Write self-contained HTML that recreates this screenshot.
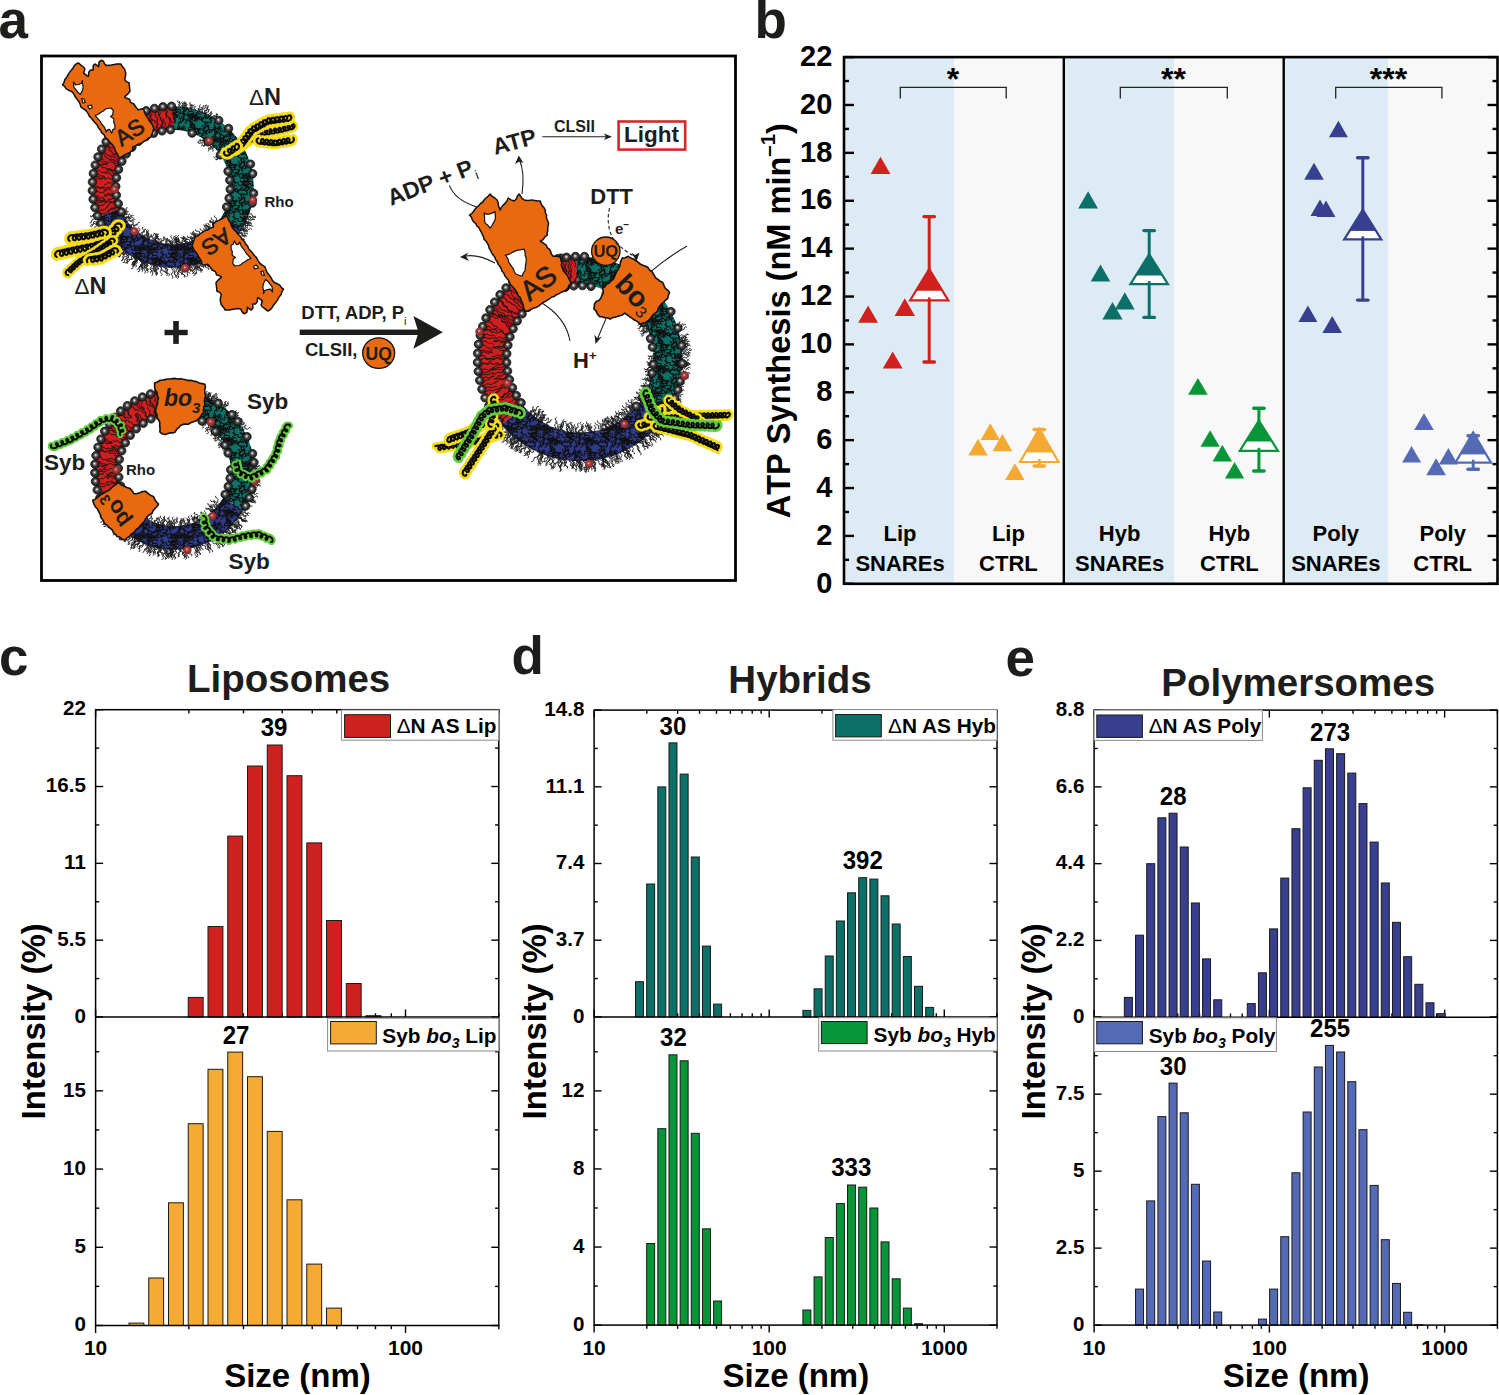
<!DOCTYPE html>
<html><head><meta charset="utf-8"><style>
html,body{margin:0;padding:0;background:#fff;}
svg{display:block;}
text{font-family:"Liberation Sans",sans-serif;}
</style></head><body>
<svg width="1499" height="1395" viewBox="0 0 1499 1395">
<rect width="1499" height="1395" fill="#fff"/>
<rect x="844" y="57.1" width="110.29999999999995" height="526.6999999999999" fill="#ddebf5"/>
<rect x="954.3" y="57.1" width="109.70000000000005" height="526.6999999999999" fill="#f8f8f8"/>
<rect x="1064" y="57.1" width="110.5" height="526.6999999999999" fill="#ddebf5"/>
<rect x="1174.5" y="57.1" width="109.5" height="526.6999999999999" fill="#f8f8f8"/>
<rect x="1284" y="57.1" width="104" height="526.6999999999999" fill="#ddebf5"/>
<rect x="1388" y="57.1" width="109.5" height="526.6999999999999" fill="#f8f8f8"/>
<line x1="844" y1="583.80" x2="854" y2="583.80" stroke="#000" stroke-width="2.4"/>
<line x1="1497.5" y1="583.80" x2="1487.5" y2="583.80" stroke="#000" stroke-width="2.4"/>
<text x="832.30" y="592.50" font-size="29" font-weight="bold" text-anchor="end" fill="#000" >0</text>
<line x1="844" y1="559.86" x2="849" y2="559.86" stroke="#000" stroke-width="2.4"/>
<line x1="1497.5" y1="559.86" x2="1492.5" y2="559.86" stroke="#000" stroke-width="2.4"/>
<line x1="844" y1="535.92" x2="854" y2="535.92" stroke="#000" stroke-width="2.4"/>
<line x1="1497.5" y1="535.92" x2="1487.5" y2="535.92" stroke="#000" stroke-width="2.4"/>
<text x="832.30" y="544.62" font-size="29" font-weight="bold" text-anchor="end" fill="#000" >2</text>
<line x1="844" y1="511.98" x2="849" y2="511.98" stroke="#000" stroke-width="2.4"/>
<line x1="1497.5" y1="511.98" x2="1492.5" y2="511.98" stroke="#000" stroke-width="2.4"/>
<line x1="844" y1="488.04" x2="854" y2="488.04" stroke="#000" stroke-width="2.4"/>
<line x1="1497.5" y1="488.04" x2="1487.5" y2="488.04" stroke="#000" stroke-width="2.4"/>
<text x="832.30" y="496.74" font-size="29" font-weight="bold" text-anchor="end" fill="#000" >4</text>
<line x1="844" y1="464.10" x2="849" y2="464.10" stroke="#000" stroke-width="2.4"/>
<line x1="1497.5" y1="464.10" x2="1492.5" y2="464.10" stroke="#000" stroke-width="2.4"/>
<line x1="844" y1="440.15" x2="854" y2="440.15" stroke="#000" stroke-width="2.4"/>
<line x1="1497.5" y1="440.15" x2="1487.5" y2="440.15" stroke="#000" stroke-width="2.4"/>
<text x="832.30" y="448.85" font-size="29" font-weight="bold" text-anchor="end" fill="#000" >6</text>
<line x1="844" y1="416.21" x2="849" y2="416.21" stroke="#000" stroke-width="2.4"/>
<line x1="1497.5" y1="416.21" x2="1492.5" y2="416.21" stroke="#000" stroke-width="2.4"/>
<line x1="844" y1="392.27" x2="854" y2="392.27" stroke="#000" stroke-width="2.4"/>
<line x1="1497.5" y1="392.27" x2="1487.5" y2="392.27" stroke="#000" stroke-width="2.4"/>
<text x="832.30" y="400.97" font-size="29" font-weight="bold" text-anchor="end" fill="#000" >8</text>
<line x1="844" y1="368.33" x2="849" y2="368.33" stroke="#000" stroke-width="2.4"/>
<line x1="1497.5" y1="368.33" x2="1492.5" y2="368.33" stroke="#000" stroke-width="2.4"/>
<line x1="844" y1="344.39" x2="854" y2="344.39" stroke="#000" stroke-width="2.4"/>
<line x1="1497.5" y1="344.39" x2="1487.5" y2="344.39" stroke="#000" stroke-width="2.4"/>
<text x="832.30" y="353.09" font-size="29" font-weight="bold" text-anchor="end" fill="#000" >10</text>
<line x1="844" y1="320.45" x2="849" y2="320.45" stroke="#000" stroke-width="2.4"/>
<line x1="1497.5" y1="320.45" x2="1492.5" y2="320.45" stroke="#000" stroke-width="2.4"/>
<line x1="844" y1="296.51" x2="854" y2="296.51" stroke="#000" stroke-width="2.4"/>
<line x1="1497.5" y1="296.51" x2="1487.5" y2="296.51" stroke="#000" stroke-width="2.4"/>
<text x="832.30" y="305.21" font-size="29" font-weight="bold" text-anchor="end" fill="#000" >12</text>
<line x1="844" y1="272.57" x2="849" y2="272.57" stroke="#000" stroke-width="2.4"/>
<line x1="1497.5" y1="272.57" x2="1492.5" y2="272.57" stroke="#000" stroke-width="2.4"/>
<line x1="844" y1="248.63" x2="854" y2="248.63" stroke="#000" stroke-width="2.4"/>
<line x1="1497.5" y1="248.63" x2="1487.5" y2="248.63" stroke="#000" stroke-width="2.4"/>
<text x="832.30" y="257.33" font-size="29" font-weight="bold" text-anchor="end" fill="#000" >14</text>
<line x1="844" y1="224.69" x2="849" y2="224.69" stroke="#000" stroke-width="2.4"/>
<line x1="1497.5" y1="224.69" x2="1492.5" y2="224.69" stroke="#000" stroke-width="2.4"/>
<line x1="844" y1="200.75" x2="854" y2="200.75" stroke="#000" stroke-width="2.4"/>
<line x1="1497.5" y1="200.75" x2="1487.5" y2="200.75" stroke="#000" stroke-width="2.4"/>
<text x="832.30" y="209.45" font-size="29" font-weight="bold" text-anchor="end" fill="#000" >16</text>
<line x1="844" y1="176.80" x2="849" y2="176.80" stroke="#000" stroke-width="2.4"/>
<line x1="1497.5" y1="176.80" x2="1492.5" y2="176.80" stroke="#000" stroke-width="2.4"/>
<line x1="844" y1="152.86" x2="854" y2="152.86" stroke="#000" stroke-width="2.4"/>
<line x1="1497.5" y1="152.86" x2="1487.5" y2="152.86" stroke="#000" stroke-width="2.4"/>
<text x="832.30" y="161.56" font-size="29" font-weight="bold" text-anchor="end" fill="#000" >18</text>
<line x1="844" y1="128.92" x2="849" y2="128.92" stroke="#000" stroke-width="2.4"/>
<line x1="1497.5" y1="128.92" x2="1492.5" y2="128.92" stroke="#000" stroke-width="2.4"/>
<line x1="844" y1="104.98" x2="854" y2="104.98" stroke="#000" stroke-width="2.4"/>
<line x1="1497.5" y1="104.98" x2="1487.5" y2="104.98" stroke="#000" stroke-width="2.4"/>
<text x="832.30" y="113.68" font-size="29" font-weight="bold" text-anchor="end" fill="#000" >20</text>
<line x1="844" y1="81.04" x2="849" y2="81.04" stroke="#000" stroke-width="2.4"/>
<line x1="1497.5" y1="81.04" x2="1492.5" y2="81.04" stroke="#000" stroke-width="2.4"/>
<line x1="844" y1="57.10" x2="854" y2="57.10" stroke="#000" stroke-width="2.4"/>
<line x1="1497.5" y1="57.10" x2="1487.5" y2="57.10" stroke="#000" stroke-width="2.4"/>
<text x="832.30" y="65.80" font-size="29" font-weight="bold" text-anchor="end" fill="#000" >22</text>
<line x1="1063.8" y1="57.1" x2="1063.8" y2="583.8" stroke="#000" stroke-width="2.4"/>
<line x1="1283.7" y1="57.1" x2="1283.7" y2="583.8" stroke="#000" stroke-width="2.4"/>
<rect x="844" y="57.1" width="653.5" height="526.6999999999999" fill="none" stroke="#000" stroke-width="2.6"/>
<text transform="translate(789.8,320.7) rotate(-90) scale(0.972,1)" font-size="33.5" font-weight="bold" text-anchor="middle" style="font-kerning:none">ATP Synthesis (nM min<tspan dy="-15" font-size="21">–1</tspan><tspan dy="15">)</tspan></text>
<text x="900.00" y="541.20" font-size="22" font-weight="bold" text-anchor="middle" fill="#000" >Lip</text>
<text x="900.00" y="571.10" font-size="22" font-weight="bold" text-anchor="middle" fill="#000" >SNAREs</text>
<text x="1008.40" y="541.20" font-size="22" font-weight="bold" text-anchor="middle" fill="#000" >Lip</text>
<text x="1008.40" y="571.10" font-size="22" font-weight="bold" text-anchor="middle" fill="#000" >CTRL</text>
<text x="1119.60" y="541.20" font-size="22" font-weight="bold" text-anchor="middle" fill="#000" >Hyb</text>
<text x="1119.60" y="571.10" font-size="22" font-weight="bold" text-anchor="middle" fill="#000" >SNAREs</text>
<text x="1229.40" y="541.20" font-size="22" font-weight="bold" text-anchor="middle" fill="#000" >Hyb</text>
<text x="1229.40" y="571.10" font-size="22" font-weight="bold" text-anchor="middle" fill="#000" >CTRL</text>
<text x="1335.80" y="541.20" font-size="22" font-weight="bold" text-anchor="middle" fill="#000" >Poly</text>
<text x="1335.80" y="571.10" font-size="22" font-weight="bold" text-anchor="middle" fill="#000" >SNAREs</text>
<text x="1442.70" y="541.20" font-size="22" font-weight="bold" text-anchor="middle" fill="#000" >Poly</text>
<text x="1442.70" y="571.10" font-size="22" font-weight="bold" text-anchor="middle" fill="#000" >CTRL</text>
<path d="M900.3,98.5 V87.3 H1006.2 V98.5" fill="none" stroke="#222" stroke-width="1.3"/>
<text x="953.00" y="90.30" font-size="32" font-weight="bold" text-anchor="middle" fill="#000" >*</text>
<path d="M1120.3,98.5 V87.3 H1227.3 V98.5" fill="none" stroke="#222" stroke-width="1.3"/>
<text x="1173.50" y="90.30" font-size="32" font-weight="bold" text-anchor="middle" fill="#000" >**</text>
<path d="M1335.7,98.5 V87.3 H1441.9 V98.5" fill="none" stroke="#222" stroke-width="1.3"/>
<text x="1388.40" y="90.30" font-size="32" font-weight="bold" text-anchor="middle" fill="#000" >***</text>
<polygon points="880.5,156.7 870.6,173.9 890.4,173.9" fill="#d0211f"/>
<polygon points="868.1,305.6 858.2,322.8 878.0,322.8" fill="#d0211f"/>
<polygon points="904.8,298.3 894.6,315.9 915.0,315.9" fill="#d0211f"/>
<polygon points="892.7,351.4 882.8,368.6 902.6,368.6" fill="#d0211f"/>
<line x1="929.2" y1="216.6" x2="929.2" y2="362" stroke="#d0211f" stroke-width="3"/>
<line x1="924.0" y1="216.6" x2="934.4000000000001" y2="216.6" stroke="#d0211f" stroke-width="3.4" stroke-linecap="round"/>
<line x1="924.0" y1="362" x2="934.4000000000001" y2="362" stroke="#d0211f" stroke-width="3.4" stroke-linecap="round"/>
<polygon points="929.2,269.1 910.1,300.4 948.3000000000001,300.4" fill="#fff" stroke="#d0211f" stroke-width="2.2" stroke-linejoin="miter"/>
<polygon points="929.2,269.1 916.32,290.2 942.08,290.2" fill="#d0211f" stroke="#d0211f" stroke-width="1"/>
<line x1="929.2" y1="297.4" x2="929.2" y2="300.4" stroke="#d0211f" stroke-width="2.6"/>
<polygon points="990.3,423.2 980.6,440.0 1000.0,440.0" fill="#f4a933"/>
<polygon points="978.0,438.8 968.3,455.6 987.7,455.6" fill="#f4a933"/>
<polygon points="1002.4,434.0 992.5,451.2 1012.3,451.2" fill="#f4a933"/>
<polygon points="1014.9,463.2 1005.2,480.0 1024.6,480.0" fill="#f4a933"/>
<line x1="1039.3" y1="429.5" x2="1039.3" y2="466" stroke="#f4a933" stroke-width="3"/>
<line x1="1034.1" y1="429.5" x2="1044.5" y2="429.5" stroke="#f4a933" stroke-width="3.4" stroke-linecap="round"/>
<line x1="1034.1" y1="466" x2="1044.5" y2="466" stroke="#f4a933" stroke-width="3.4" stroke-linecap="round"/>
<polygon points="1039.3,428.8 1020.0999999999999,462 1058.5,462" fill="#fff" stroke="#f4a933" stroke-width="2.2" stroke-linejoin="miter"/>
<polygon points="1039.3,428.8 1025.88,452 1052.72,452" fill="#f4a933" stroke="#f4a933" stroke-width="1"/>
<line x1="1039.3" y1="459" x2="1039.3" y2="462" stroke="#f4a933" stroke-width="2.6"/>
<polygon points="1088.1,191.2 1078.2,208.4 1098.0,208.4" fill="#0d7068"/>
<polygon points="1100.5,264.6 1090.7,281.5 1110.3,281.5" fill="#0d7068"/>
<polygon points="1124.8,292.2 1114.9,309.4 1134.7,309.4" fill="#0d7068"/>
<polygon points="1112.5,301.9 1102.4,319.4 1122.6,319.4" fill="#0d7068"/>
<line x1="1149.2" y1="230.6" x2="1149.2" y2="317.4" stroke="#0d7068" stroke-width="3"/>
<line x1="1144.0" y1="230.6" x2="1154.4" y2="230.6" stroke="#0d7068" stroke-width="3.4" stroke-linecap="round"/>
<line x1="1144.0" y1="317.4" x2="1154.4" y2="317.4" stroke="#0d7068" stroke-width="3.4" stroke-linecap="round"/>
<polygon points="1149.2,254.3 1130.45,284.1 1167.95,284.1" fill="#fff" stroke="#0d7068" stroke-width="2.2" stroke-linejoin="miter"/>
<polygon points="1149.2,254.3 1136.18,275 1162.22,275" fill="#0d7068" stroke="#0d7068" stroke-width="1"/>
<line x1="1149.2" y1="281.1" x2="1149.2" y2="284.1" stroke="#0d7068" stroke-width="2.6"/>
<polygon points="1197.9,377.9 1188.1,394.8 1207.7,394.8" fill="#079538"/>
<polygon points="1210.1,430.2 1200.5,446.8 1219.7,446.8" fill="#079538"/>
<polygon points="1222.3,444.8 1212.6,461.6 1232.0,461.6" fill="#079538"/>
<polygon points="1234.6,461.9 1225.0,478.5 1244.2,478.5" fill="#079538"/>
<line x1="1258.9" y1="408.3" x2="1258.9" y2="471" stroke="#079538" stroke-width="3"/>
<line x1="1253.7" y1="408.3" x2="1264.1000000000001" y2="408.3" stroke="#079538" stroke-width="3.4" stroke-linecap="round"/>
<line x1="1253.7" y1="471" x2="1264.1000000000001" y2="471" stroke="#079538" stroke-width="3.4" stroke-linecap="round"/>
<polygon points="1258.9,420.7 1239.8000000000002,450.8 1278.0,450.8" fill="#fff" stroke="#079538" stroke-width="2.2" stroke-linejoin="miter"/>
<polygon points="1258.9,420.7 1246.02,441 1271.78,441" fill="#079538" stroke="#079538" stroke-width="1"/>
<line x1="1258.9" y1="447.8" x2="1258.9" y2="450.8" stroke="#079538" stroke-width="2.6"/>
<polygon points="1338.4,120.7 1328.9,137.2 1347.9,137.2" fill="#383f8e"/>
<polygon points="1314.0,162.8 1304.2,179.7 1323.8,179.7" fill="#383f8e"/>
<polygon points="1320.0,199.5 1310.5,216.0 1329.5,216.0" fill="#383f8e"/>
<polygon points="1326.0,200.4 1316.5,216.9 1335.5,216.9" fill="#383f8e"/>
<polygon points="1307.9,305.4 1298.4,321.9 1317.4,321.9" fill="#383f8e"/>
<polygon points="1332.2,316.1 1322.4,333.0 1342.0,333.0" fill="#383f8e"/>
<line x1="1362.8" y1="157.8" x2="1362.8" y2="300.1" stroke="#383f8e" stroke-width="3"/>
<line x1="1357.6" y1="157.8" x2="1368.0" y2="157.8" stroke="#383f8e" stroke-width="3.4" stroke-linecap="round"/>
<line x1="1357.6" y1="300.1" x2="1368.0" y2="300.1" stroke="#383f8e" stroke-width="3.4" stroke-linecap="round"/>
<polygon points="1362.8,209.8 1344.25,239.4 1381.35,239.4" fill="#fff" stroke="#383f8e" stroke-width="2.2" stroke-linejoin="miter"/>
<polygon points="1362.8,209.8 1349.89,230.4 1375.71,230.4" fill="#383f8e" stroke="#383f8e" stroke-width="1"/>
<line x1="1362.8" y1="236.4" x2="1362.8" y2="239.4" stroke="#383f8e" stroke-width="2.6"/>
<polygon points="1424.0,413.2 1414.2,430.1 1433.8,430.1" fill="#556ab4"/>
<polygon points="1411.6,445.9 1402.1,462.4 1421.1,462.4" fill="#556ab4"/>
<polygon points="1448.4,448.1 1438.9,464.6 1457.9,464.6" fill="#556ab4"/>
<polygon points="1436.1,458.3 1426.3,475.2 1445.9,475.2" fill="#556ab4"/>
<line x1="1473.2" y1="435.8" x2="1473.2" y2="469.3" stroke="#556ab4" stroke-width="3"/>
<line x1="1468.0" y1="435.8" x2="1478.4" y2="435.8" stroke="#556ab4" stroke-width="3.4" stroke-linecap="round"/>
<line x1="1468.0" y1="469.3" x2="1478.4" y2="469.3" stroke="#556ab4" stroke-width="3.4" stroke-linecap="round"/>
<polygon points="1473.2,432.4 1455.4,462.7 1491.0,462.7" fill="#fff" stroke="#556ab4" stroke-width="2.2" stroke-linejoin="miter"/>
<polygon points="1473.2,432.4 1460.57,453.9 1485.83,453.9" fill="#556ab4" stroke="#556ab4" stroke-width="1"/>
<line x1="1473.2" y1="459.7" x2="1473.2" y2="462.7" stroke="#556ab4" stroke-width="2.6"/>
<text x="754.50" y="38.00" font-size="53" font-weight="bold" text-anchor="start" fill="#1d1d1b" >b</text>
<line x1="95.60" y1="709.7" x2="95.60" y2="717.2" stroke="#000" stroke-width="1.4"/>
<line x1="95.60" y1="1017.0" x2="95.60" y2="1009.5" stroke="#000" stroke-width="1.4"/>
<line x1="95.60" y1="1325.5" x2="95.60" y2="1333.0" stroke="#000" stroke-width="1.4"/>
<line x1="188.89" y1="709.7" x2="188.89" y2="713.4000000000001" stroke="#000" stroke-width="1.4"/>
<line x1="188.89" y1="1017.0" x2="188.89" y2="1013.3" stroke="#000" stroke-width="1.4"/>
<line x1="188.89" y1="1325.5" x2="188.89" y2="1329.2" stroke="#000" stroke-width="1.4"/>
<line x1="243.46" y1="709.7" x2="243.46" y2="713.4000000000001" stroke="#000" stroke-width="1.4"/>
<line x1="243.46" y1="1017.0" x2="243.46" y2="1013.3" stroke="#000" stroke-width="1.4"/>
<line x1="243.46" y1="1325.5" x2="243.46" y2="1329.2" stroke="#000" stroke-width="1.4"/>
<line x1="282.18" y1="709.7" x2="282.18" y2="713.4000000000001" stroke="#000" stroke-width="1.4"/>
<line x1="282.18" y1="1017.0" x2="282.18" y2="1013.3" stroke="#000" stroke-width="1.4"/>
<line x1="282.18" y1="1325.5" x2="282.18" y2="1329.2" stroke="#000" stroke-width="1.4"/>
<line x1="312.22" y1="709.7" x2="312.22" y2="713.4000000000001" stroke="#000" stroke-width="1.4"/>
<line x1="312.22" y1="1017.0" x2="312.22" y2="1013.3" stroke="#000" stroke-width="1.4"/>
<line x1="312.22" y1="1325.5" x2="312.22" y2="1329.2" stroke="#000" stroke-width="1.4"/>
<line x1="336.76" y1="709.7" x2="336.76" y2="713.4000000000001" stroke="#000" stroke-width="1.4"/>
<line x1="336.76" y1="1017.0" x2="336.76" y2="1013.3" stroke="#000" stroke-width="1.4"/>
<line x1="336.76" y1="1325.5" x2="336.76" y2="1329.2" stroke="#000" stroke-width="1.4"/>
<line x1="357.50" y1="709.7" x2="357.50" y2="713.4000000000001" stroke="#000" stroke-width="1.4"/>
<line x1="357.50" y1="1017.0" x2="357.50" y2="1013.3" stroke="#000" stroke-width="1.4"/>
<line x1="357.50" y1="1325.5" x2="357.50" y2="1329.2" stroke="#000" stroke-width="1.4"/>
<line x1="375.48" y1="709.7" x2="375.48" y2="713.4000000000001" stroke="#000" stroke-width="1.4"/>
<line x1="375.48" y1="1017.0" x2="375.48" y2="1013.3" stroke="#000" stroke-width="1.4"/>
<line x1="375.48" y1="1325.5" x2="375.48" y2="1329.2" stroke="#000" stroke-width="1.4"/>
<line x1="391.33" y1="709.7" x2="391.33" y2="713.4000000000001" stroke="#000" stroke-width="1.4"/>
<line x1="391.33" y1="1017.0" x2="391.33" y2="1013.3" stroke="#000" stroke-width="1.4"/>
<line x1="391.33" y1="1325.5" x2="391.33" y2="1329.2" stroke="#000" stroke-width="1.4"/>
<line x1="405.51" y1="709.7" x2="405.51" y2="717.2" stroke="#000" stroke-width="1.4"/>
<line x1="405.51" y1="1017.0" x2="405.51" y2="1009.5" stroke="#000" stroke-width="1.4"/>
<line x1="405.51" y1="1325.5" x2="405.51" y2="1333.0" stroke="#000" stroke-width="1.4"/>
<line x1="498.80" y1="709.7" x2="498.80" y2="713.4000000000001" stroke="#000" stroke-width="1.4"/>
<line x1="498.80" y1="1017.0" x2="498.80" y2="1013.3" stroke="#000" stroke-width="1.4"/>
<line x1="498.80" y1="1325.5" x2="498.80" y2="1329.2" stroke="#000" stroke-width="1.4"/>
<line x1="95.6" y1="1017.00" x2="103.1" y2="1017.00" stroke="#000" stroke-width="1.4"/>
<line x1="498.8" y1="1017.00" x2="491.3" y2="1017.00" stroke="#000" stroke-width="1.4"/>
<line x1="95.6" y1="978.59" x2="99.3" y2="978.59" stroke="#000" stroke-width="1.4"/>
<line x1="498.8" y1="978.59" x2="495.1" y2="978.59" stroke="#000" stroke-width="1.4"/>
<line x1="95.6" y1="940.17" x2="103.1" y2="940.17" stroke="#000" stroke-width="1.4"/>
<line x1="498.8" y1="940.17" x2="491.3" y2="940.17" stroke="#000" stroke-width="1.4"/>
<line x1="95.6" y1="901.76" x2="99.3" y2="901.76" stroke="#000" stroke-width="1.4"/>
<line x1="498.8" y1="901.76" x2="495.1" y2="901.76" stroke="#000" stroke-width="1.4"/>
<line x1="95.6" y1="863.35" x2="103.1" y2="863.35" stroke="#000" stroke-width="1.4"/>
<line x1="498.8" y1="863.35" x2="491.3" y2="863.35" stroke="#000" stroke-width="1.4"/>
<line x1="95.6" y1="824.94" x2="99.3" y2="824.94" stroke="#000" stroke-width="1.4"/>
<line x1="498.8" y1="824.94" x2="495.1" y2="824.94" stroke="#000" stroke-width="1.4"/>
<line x1="95.6" y1="786.53" x2="103.1" y2="786.53" stroke="#000" stroke-width="1.4"/>
<line x1="498.8" y1="786.53" x2="491.3" y2="786.53" stroke="#000" stroke-width="1.4"/>
<line x1="95.6" y1="748.11" x2="99.3" y2="748.11" stroke="#000" stroke-width="1.4"/>
<line x1="498.8" y1="748.11" x2="495.1" y2="748.11" stroke="#000" stroke-width="1.4"/>
<line x1="95.6" y1="709.70" x2="103.1" y2="709.70" stroke="#000" stroke-width="1.4"/>
<line x1="498.8" y1="709.70" x2="491.3" y2="709.70" stroke="#000" stroke-width="1.4"/>
<text x="85.90" y="1022.70" font-size="20.6" font-weight="bold" text-anchor="end" fill="#000" >0</text>
<text x="85.90" y="945.88" font-size="20.6" font-weight="bold" text-anchor="end" fill="#000" >5.5</text>
<text x="85.90" y="869.05" font-size="20.6" font-weight="bold" text-anchor="end" fill="#000" >11</text>
<text x="85.90" y="792.23" font-size="20.6" font-weight="bold" text-anchor="end" fill="#000" >16.5</text>
<text x="85.90" y="715.40" font-size="20.6" font-weight="bold" text-anchor="end" fill="#000" >22</text>
<line x1="95.6" y1="1325.50" x2="103.1" y2="1325.50" stroke="#000" stroke-width="1.4"/>
<line x1="498.8" y1="1325.50" x2="491.3" y2="1325.50" stroke="#000" stroke-width="1.4"/>
<line x1="95.6" y1="1286.39" x2="99.3" y2="1286.39" stroke="#000" stroke-width="1.4"/>
<line x1="498.8" y1="1286.39" x2="495.1" y2="1286.39" stroke="#000" stroke-width="1.4"/>
<line x1="95.6" y1="1247.28" x2="103.1" y2="1247.28" stroke="#000" stroke-width="1.4"/>
<line x1="498.8" y1="1247.28" x2="491.3" y2="1247.28" stroke="#000" stroke-width="1.4"/>
<line x1="95.6" y1="1208.17" x2="99.3" y2="1208.17" stroke="#000" stroke-width="1.4"/>
<line x1="498.8" y1="1208.17" x2="495.1" y2="1208.17" stroke="#000" stroke-width="1.4"/>
<line x1="95.6" y1="1169.06" x2="103.1" y2="1169.06" stroke="#000" stroke-width="1.4"/>
<line x1="498.8" y1="1169.06" x2="491.3" y2="1169.06" stroke="#000" stroke-width="1.4"/>
<line x1="95.6" y1="1129.95" x2="99.3" y2="1129.95" stroke="#000" stroke-width="1.4"/>
<line x1="498.8" y1="1129.95" x2="495.1" y2="1129.95" stroke="#000" stroke-width="1.4"/>
<line x1="95.6" y1="1090.84" x2="103.1" y2="1090.84" stroke="#000" stroke-width="1.4"/>
<line x1="498.8" y1="1090.84" x2="491.3" y2="1090.84" stroke="#000" stroke-width="1.4"/>
<line x1="95.6" y1="1051.73" x2="99.3" y2="1051.73" stroke="#000" stroke-width="1.4"/>
<line x1="498.8" y1="1051.73" x2="495.1" y2="1051.73" stroke="#000" stroke-width="1.4"/>
<text x="85.90" y="1331.20" font-size="20.6" font-weight="bold" text-anchor="end" fill="#000" >0</text>
<text x="85.90" y="1252.98" font-size="20.6" font-weight="bold" text-anchor="end" fill="#000" >5</text>
<text x="85.90" y="1174.76" font-size="20.6" font-weight="bold" text-anchor="end" fill="#000" >10</text>
<text x="85.90" y="1096.54" font-size="20.6" font-weight="bold" text-anchor="end" fill="#000" >15</text>
<rect x="188.25" y="997.40" width="14.90" height="19.60" fill="#cf2220" stroke="#1a1a1a" stroke-width="1"/>
<rect x="208.00" y="926.50" width="14.90" height="90.50" fill="#cf2220" stroke="#1a1a1a" stroke-width="1"/>
<rect x="227.75" y="836.10" width="14.90" height="180.90" fill="#cf2220" stroke="#1a1a1a" stroke-width="1"/>
<rect x="247.51" y="766.00" width="14.90" height="251.00" fill="#cf2220" stroke="#1a1a1a" stroke-width="1"/>
<rect x="267.26" y="745.00" width="14.90" height="272.00" fill="#cf2220" stroke="#1a1a1a" stroke-width="1"/>
<rect x="287.01" y="775.70" width="14.90" height="241.30" fill="#cf2220" stroke="#1a1a1a" stroke-width="1"/>
<rect x="306.77" y="842.90" width="14.90" height="174.10" fill="#cf2220" stroke="#1a1a1a" stroke-width="1"/>
<rect x="326.52" y="920.50" width="14.90" height="96.50" fill="#cf2220" stroke="#1a1a1a" stroke-width="1"/>
<rect x="346.27" y="983.50" width="14.90" height="33.50" fill="#cf2220" stroke="#1a1a1a" stroke-width="1"/>
<rect x="366.02" y="1015.70" width="14.90" height="1.30" fill="#cf2220" stroke="#1a1a1a" stroke-width="1"/>
<rect x="128.99" y="1323.10" width="14.90" height="2.40" fill="#f4aa33" stroke="#1a1a1a" stroke-width="1"/>
<rect x="148.74" y="1278.00" width="14.90" height="47.50" fill="#f4aa33" stroke="#1a1a1a" stroke-width="1"/>
<rect x="168.49" y="1202.80" width="14.90" height="122.70" fill="#f4aa33" stroke="#1a1a1a" stroke-width="1"/>
<rect x="188.25" y="1123.70" width="14.90" height="201.80" fill="#f4aa33" stroke="#1a1a1a" stroke-width="1"/>
<rect x="208.00" y="1069.30" width="14.90" height="256.20" fill="#f4aa33" stroke="#1a1a1a" stroke-width="1"/>
<rect x="227.75" y="1052.10" width="14.90" height="273.40" fill="#f4aa33" stroke="#1a1a1a" stroke-width="1"/>
<rect x="247.51" y="1076.70" width="14.90" height="248.80" fill="#f4aa33" stroke="#1a1a1a" stroke-width="1"/>
<rect x="267.26" y="1131.40" width="14.90" height="194.10" fill="#f4aa33" stroke="#1a1a1a" stroke-width="1"/>
<rect x="287.01" y="1199.80" width="14.90" height="125.70" fill="#f4aa33" stroke="#1a1a1a" stroke-width="1"/>
<rect x="306.77" y="1264.10" width="14.90" height="61.40" fill="#f4aa33" stroke="#1a1a1a" stroke-width="1"/>
<rect x="326.52" y="1308.10" width="14.90" height="17.40" fill="#f4aa33" stroke="#1a1a1a" stroke-width="1"/>
<rect x="95.6" y="709.7" width="403.20000000000005" height="615.8" fill="none" stroke="#000" stroke-width="1.5"/>
<line x1="95.6" y1="1017.0" x2="498.8" y2="1017.0" stroke="#000" stroke-width="1.5"/>
<text x="95.60" y="1355.30" font-size="21" font-weight="bold" text-anchor="middle" fill="#000" >10</text>
<text x="405.51" y="1355.30" font-size="21" font-weight="bold" text-anchor="middle" fill="#000" >100</text>
<text x="297.50" y="1386.60" font-size="33" font-weight="bold" text-anchor="middle" fill="#000" >Size (nm)</text>
<text transform="translate(45.3,1021.3) rotate(-90)" font-size="33" font-weight="bold" text-anchor="middle">Intensity (%)</text>
<text x="288.60" y="691.60" font-size="38.5" font-weight="bold" text-anchor="middle" fill="#1d1d1b" >Liposomes</text>
<text x="-1.00" y="674.50" font-size="53" font-weight="bold" text-anchor="start" fill="#1d1d1b" >c</text>
<line x1="594.10" y1="710.1" x2="594.10" y2="717.6" stroke="#000" stroke-width="1.4"/>
<line x1="594.10" y1="1016.9" x2="594.10" y2="1009.4" stroke="#000" stroke-width="1.4"/>
<line x1="594.10" y1="1325.1" x2="594.10" y2="1332.6" stroke="#000" stroke-width="1.4"/>
<line x1="646.81" y1="710.1" x2="646.81" y2="713.8000000000001" stroke="#000" stroke-width="1.4"/>
<line x1="646.81" y1="1016.9" x2="646.81" y2="1013.1999999999999" stroke="#000" stroke-width="1.4"/>
<line x1="646.81" y1="1325.1" x2="646.81" y2="1328.8" stroke="#000" stroke-width="1.4"/>
<line x1="677.64" y1="710.1" x2="677.64" y2="713.8000000000001" stroke="#000" stroke-width="1.4"/>
<line x1="677.64" y1="1016.9" x2="677.64" y2="1013.1999999999999" stroke="#000" stroke-width="1.4"/>
<line x1="677.64" y1="1325.1" x2="677.64" y2="1328.8" stroke="#000" stroke-width="1.4"/>
<line x1="699.52" y1="710.1" x2="699.52" y2="713.8000000000001" stroke="#000" stroke-width="1.4"/>
<line x1="699.52" y1="1016.9" x2="699.52" y2="1013.1999999999999" stroke="#000" stroke-width="1.4"/>
<line x1="699.52" y1="1325.1" x2="699.52" y2="1328.8" stroke="#000" stroke-width="1.4"/>
<line x1="716.49" y1="710.1" x2="716.49" y2="713.8000000000001" stroke="#000" stroke-width="1.4"/>
<line x1="716.49" y1="1016.9" x2="716.49" y2="1013.1999999999999" stroke="#000" stroke-width="1.4"/>
<line x1="716.49" y1="1325.1" x2="716.49" y2="1328.8" stroke="#000" stroke-width="1.4"/>
<line x1="730.35" y1="710.1" x2="730.35" y2="713.8000000000001" stroke="#000" stroke-width="1.4"/>
<line x1="730.35" y1="1016.9" x2="730.35" y2="1013.1999999999999" stroke="#000" stroke-width="1.4"/>
<line x1="730.35" y1="1325.1" x2="730.35" y2="1328.8" stroke="#000" stroke-width="1.4"/>
<line x1="742.07" y1="710.1" x2="742.07" y2="713.8000000000001" stroke="#000" stroke-width="1.4"/>
<line x1="742.07" y1="1016.9" x2="742.07" y2="1013.1999999999999" stroke="#000" stroke-width="1.4"/>
<line x1="742.07" y1="1325.1" x2="742.07" y2="1328.8" stroke="#000" stroke-width="1.4"/>
<line x1="752.23" y1="710.1" x2="752.23" y2="713.8000000000001" stroke="#000" stroke-width="1.4"/>
<line x1="752.23" y1="1016.9" x2="752.23" y2="1013.1999999999999" stroke="#000" stroke-width="1.4"/>
<line x1="752.23" y1="1325.1" x2="752.23" y2="1328.8" stroke="#000" stroke-width="1.4"/>
<line x1="761.18" y1="710.1" x2="761.18" y2="713.8000000000001" stroke="#000" stroke-width="1.4"/>
<line x1="761.18" y1="1016.9" x2="761.18" y2="1013.1999999999999" stroke="#000" stroke-width="1.4"/>
<line x1="761.18" y1="1325.1" x2="761.18" y2="1328.8" stroke="#000" stroke-width="1.4"/>
<line x1="769.20" y1="710.1" x2="769.20" y2="717.6" stroke="#000" stroke-width="1.4"/>
<line x1="769.20" y1="1016.9" x2="769.20" y2="1009.4" stroke="#000" stroke-width="1.4"/>
<line x1="769.20" y1="1325.1" x2="769.20" y2="1332.6" stroke="#000" stroke-width="1.4"/>
<line x1="821.90" y1="710.1" x2="821.90" y2="713.8000000000001" stroke="#000" stroke-width="1.4"/>
<line x1="821.90" y1="1016.9" x2="821.90" y2="1013.1999999999999" stroke="#000" stroke-width="1.4"/>
<line x1="821.90" y1="1325.1" x2="821.90" y2="1328.8" stroke="#000" stroke-width="1.4"/>
<line x1="852.74" y1="710.1" x2="852.74" y2="713.8000000000001" stroke="#000" stroke-width="1.4"/>
<line x1="852.74" y1="1016.9" x2="852.74" y2="1013.1999999999999" stroke="#000" stroke-width="1.4"/>
<line x1="852.74" y1="1325.1" x2="852.74" y2="1328.8" stroke="#000" stroke-width="1.4"/>
<line x1="874.61" y1="710.1" x2="874.61" y2="713.8000000000001" stroke="#000" stroke-width="1.4"/>
<line x1="874.61" y1="1016.9" x2="874.61" y2="1013.1999999999999" stroke="#000" stroke-width="1.4"/>
<line x1="874.61" y1="1325.1" x2="874.61" y2="1328.8" stroke="#000" stroke-width="1.4"/>
<line x1="891.58" y1="710.1" x2="891.58" y2="713.8000000000001" stroke="#000" stroke-width="1.4"/>
<line x1="891.58" y1="1016.9" x2="891.58" y2="1013.1999999999999" stroke="#000" stroke-width="1.4"/>
<line x1="891.58" y1="1325.1" x2="891.58" y2="1328.8" stroke="#000" stroke-width="1.4"/>
<line x1="905.45" y1="710.1" x2="905.45" y2="713.8000000000001" stroke="#000" stroke-width="1.4"/>
<line x1="905.45" y1="1016.9" x2="905.45" y2="1013.1999999999999" stroke="#000" stroke-width="1.4"/>
<line x1="905.45" y1="1325.1" x2="905.45" y2="1328.8" stroke="#000" stroke-width="1.4"/>
<line x1="917.17" y1="710.1" x2="917.17" y2="713.8000000000001" stroke="#000" stroke-width="1.4"/>
<line x1="917.17" y1="1016.9" x2="917.17" y2="1013.1999999999999" stroke="#000" stroke-width="1.4"/>
<line x1="917.17" y1="1325.1" x2="917.17" y2="1328.8" stroke="#000" stroke-width="1.4"/>
<line x1="927.32" y1="710.1" x2="927.32" y2="713.8000000000001" stroke="#000" stroke-width="1.4"/>
<line x1="927.32" y1="1016.9" x2="927.32" y2="1013.1999999999999" stroke="#000" stroke-width="1.4"/>
<line x1="927.32" y1="1325.1" x2="927.32" y2="1328.8" stroke="#000" stroke-width="1.4"/>
<line x1="936.28" y1="710.1" x2="936.28" y2="713.8000000000001" stroke="#000" stroke-width="1.4"/>
<line x1="936.28" y1="1016.9" x2="936.28" y2="1013.1999999999999" stroke="#000" stroke-width="1.4"/>
<line x1="936.28" y1="1325.1" x2="936.28" y2="1328.8" stroke="#000" stroke-width="1.4"/>
<line x1="944.29" y1="710.1" x2="944.29" y2="717.6" stroke="#000" stroke-width="1.4"/>
<line x1="944.29" y1="1016.9" x2="944.29" y2="1009.4" stroke="#000" stroke-width="1.4"/>
<line x1="944.29" y1="1325.1" x2="944.29" y2="1332.6" stroke="#000" stroke-width="1.4"/>
<line x1="997.00" y1="710.1" x2="997.00" y2="713.8000000000001" stroke="#000" stroke-width="1.4"/>
<line x1="997.00" y1="1016.9" x2="997.00" y2="1013.1999999999999" stroke="#000" stroke-width="1.4"/>
<line x1="997.00" y1="1325.1" x2="997.00" y2="1328.8" stroke="#000" stroke-width="1.4"/>
<line x1="594.1" y1="1016.90" x2="601.6" y2="1016.90" stroke="#000" stroke-width="1.4"/>
<line x1="997.0" y1="1016.90" x2="989.5" y2="1016.90" stroke="#000" stroke-width="1.4"/>
<line x1="594.1" y1="978.55" x2="597.8000000000001" y2="978.55" stroke="#000" stroke-width="1.4"/>
<line x1="997.0" y1="978.55" x2="993.3" y2="978.55" stroke="#000" stroke-width="1.4"/>
<line x1="594.1" y1="940.20" x2="601.6" y2="940.20" stroke="#000" stroke-width="1.4"/>
<line x1="997.0" y1="940.20" x2="989.5" y2="940.20" stroke="#000" stroke-width="1.4"/>
<line x1="594.1" y1="901.85" x2="597.8000000000001" y2="901.85" stroke="#000" stroke-width="1.4"/>
<line x1="997.0" y1="901.85" x2="993.3" y2="901.85" stroke="#000" stroke-width="1.4"/>
<line x1="594.1" y1="863.50" x2="601.6" y2="863.50" stroke="#000" stroke-width="1.4"/>
<line x1="997.0" y1="863.50" x2="989.5" y2="863.50" stroke="#000" stroke-width="1.4"/>
<line x1="594.1" y1="825.15" x2="597.8000000000001" y2="825.15" stroke="#000" stroke-width="1.4"/>
<line x1="997.0" y1="825.15" x2="993.3" y2="825.15" stroke="#000" stroke-width="1.4"/>
<line x1="594.1" y1="786.80" x2="601.6" y2="786.80" stroke="#000" stroke-width="1.4"/>
<line x1="997.0" y1="786.80" x2="989.5" y2="786.80" stroke="#000" stroke-width="1.4"/>
<line x1="594.1" y1="748.45" x2="597.8000000000001" y2="748.45" stroke="#000" stroke-width="1.4"/>
<line x1="997.0" y1="748.45" x2="993.3" y2="748.45" stroke="#000" stroke-width="1.4"/>
<line x1="594.1" y1="710.10" x2="601.6" y2="710.10" stroke="#000" stroke-width="1.4"/>
<line x1="997.0" y1="710.10" x2="989.5" y2="710.10" stroke="#000" stroke-width="1.4"/>
<text x="584.40" y="1022.60" font-size="20.6" font-weight="bold" text-anchor="end" fill="#000" >0</text>
<text x="584.40" y="945.90" font-size="20.6" font-weight="bold" text-anchor="end" fill="#000" >3.7</text>
<text x="584.40" y="869.20" font-size="20.6" font-weight="bold" text-anchor="end" fill="#000" >7.4</text>
<text x="584.40" y="792.50" font-size="20.6" font-weight="bold" text-anchor="end" fill="#000" >11.1</text>
<text x="584.40" y="715.80" font-size="20.6" font-weight="bold" text-anchor="end" fill="#000" >14.8</text>
<line x1="594.1" y1="1325.10" x2="601.6" y2="1325.10" stroke="#000" stroke-width="1.4"/>
<line x1="997.0" y1="1325.10" x2="989.5" y2="1325.10" stroke="#000" stroke-width="1.4"/>
<line x1="594.1" y1="1286.06" x2="597.8000000000001" y2="1286.06" stroke="#000" stroke-width="1.4"/>
<line x1="997.0" y1="1286.06" x2="993.3" y2="1286.06" stroke="#000" stroke-width="1.4"/>
<line x1="594.1" y1="1247.03" x2="601.6" y2="1247.03" stroke="#000" stroke-width="1.4"/>
<line x1="997.0" y1="1247.03" x2="989.5" y2="1247.03" stroke="#000" stroke-width="1.4"/>
<line x1="594.1" y1="1207.99" x2="597.8000000000001" y2="1207.99" stroke="#000" stroke-width="1.4"/>
<line x1="997.0" y1="1207.99" x2="993.3" y2="1207.99" stroke="#000" stroke-width="1.4"/>
<line x1="594.1" y1="1168.95" x2="601.6" y2="1168.95" stroke="#000" stroke-width="1.4"/>
<line x1="997.0" y1="1168.95" x2="989.5" y2="1168.95" stroke="#000" stroke-width="1.4"/>
<line x1="594.1" y1="1129.91" x2="597.8000000000001" y2="1129.91" stroke="#000" stroke-width="1.4"/>
<line x1="997.0" y1="1129.91" x2="993.3" y2="1129.91" stroke="#000" stroke-width="1.4"/>
<line x1="594.1" y1="1090.88" x2="601.6" y2="1090.88" stroke="#000" stroke-width="1.4"/>
<line x1="997.0" y1="1090.88" x2="989.5" y2="1090.88" stroke="#000" stroke-width="1.4"/>
<line x1="594.1" y1="1051.84" x2="597.8000000000001" y2="1051.84" stroke="#000" stroke-width="1.4"/>
<line x1="997.0" y1="1051.84" x2="993.3" y2="1051.84" stroke="#000" stroke-width="1.4"/>
<text x="584.40" y="1330.80" font-size="20.6" font-weight="bold" text-anchor="end" fill="#000" >0</text>
<text x="584.40" y="1252.73" font-size="20.6" font-weight="bold" text-anchor="end" fill="#000" >4</text>
<text x="584.40" y="1174.65" font-size="20.6" font-weight="bold" text-anchor="end" fill="#000" >8</text>
<text x="584.40" y="1096.58" font-size="20.6" font-weight="bold" text-anchor="end" fill="#000" >12</text>
<rect x="635.50" y="981.70" width="7.98" height="35.20" fill="#0d7068" stroke="#1a1a1a" stroke-width="1"/>
<rect x="646.66" y="884.00" width="7.98" height="132.90" fill="#0d7068" stroke="#1a1a1a" stroke-width="1"/>
<rect x="657.82" y="786.90" width="7.98" height="230.00" fill="#0d7068" stroke="#1a1a1a" stroke-width="1"/>
<rect x="668.98" y="742.90" width="7.98" height="274.00" fill="#0d7068" stroke="#1a1a1a" stroke-width="1"/>
<rect x="680.14" y="774.10" width="7.98" height="242.80" fill="#0d7068" stroke="#1a1a1a" stroke-width="1"/>
<rect x="691.30" y="857.00" width="7.98" height="159.90" fill="#0d7068" stroke="#1a1a1a" stroke-width="1"/>
<rect x="702.46" y="946.10" width="7.98" height="70.80" fill="#0d7068" stroke="#1a1a1a" stroke-width="1"/>
<rect x="713.62" y="1004.10" width="7.98" height="12.80" fill="#0d7068" stroke="#1a1a1a" stroke-width="1"/>
<rect x="802.91" y="1010.40" width="7.98" height="6.50" fill="#0d7068" stroke="#1a1a1a" stroke-width="1"/>
<rect x="814.07" y="988.80" width="7.98" height="28.10" fill="#0d7068" stroke="#1a1a1a" stroke-width="1"/>
<rect x="825.23" y="956.00" width="7.98" height="60.90" fill="#0d7068" stroke="#1a1a1a" stroke-width="1"/>
<rect x="836.39" y="921.00" width="7.98" height="95.90" fill="#0d7068" stroke="#1a1a1a" stroke-width="1"/>
<rect x="847.55" y="892.80" width="7.98" height="124.10" fill="#0d7068" stroke="#1a1a1a" stroke-width="1"/>
<rect x="858.71" y="877.70" width="7.98" height="139.20" fill="#0d7068" stroke="#1a1a1a" stroke-width="1"/>
<rect x="869.87" y="879.10" width="7.98" height="137.80" fill="#0d7068" stroke="#1a1a1a" stroke-width="1"/>
<rect x="881.03" y="895.80" width="7.98" height="121.10" fill="#0d7068" stroke="#1a1a1a" stroke-width="1"/>
<rect x="892.19" y="924.00" width="7.98" height="92.90" fill="#0d7068" stroke="#1a1a1a" stroke-width="1"/>
<rect x="903.35" y="956.50" width="7.98" height="60.40" fill="#0d7068" stroke="#1a1a1a" stroke-width="1"/>
<rect x="914.51" y="986.30" width="7.98" height="30.60" fill="#0d7068" stroke="#1a1a1a" stroke-width="1"/>
<rect x="925.67" y="1007.40" width="7.98" height="9.50" fill="#0d7068" stroke="#1a1a1a" stroke-width="1"/>
<rect x="646.66" y="1243.50" width="7.98" height="81.60" fill="#079538" stroke="#1a1a1a" stroke-width="1"/>
<rect x="657.82" y="1128.70" width="7.98" height="196.40" fill="#079538" stroke="#1a1a1a" stroke-width="1"/>
<rect x="668.98" y="1054.80" width="7.98" height="270.30" fill="#079538" stroke="#1a1a1a" stroke-width="1"/>
<rect x="680.14" y="1060.80" width="7.98" height="264.30" fill="#079538" stroke="#1a1a1a" stroke-width="1"/>
<rect x="691.30" y="1133.30" width="7.98" height="191.80" fill="#079538" stroke="#1a1a1a" stroke-width="1"/>
<rect x="702.46" y="1228.80" width="7.98" height="96.30" fill="#079538" stroke="#1a1a1a" stroke-width="1"/>
<rect x="713.62" y="1301.00" width="7.98" height="24.10" fill="#079538" stroke="#1a1a1a" stroke-width="1"/>
<rect x="802.91" y="1310.00" width="7.98" height="15.10" fill="#079538" stroke="#1a1a1a" stroke-width="1"/>
<rect x="814.07" y="1276.90" width="7.98" height="48.20" fill="#079538" stroke="#1a1a1a" stroke-width="1"/>
<rect x="825.23" y="1237.50" width="7.98" height="87.60" fill="#079538" stroke="#1a1a1a" stroke-width="1"/>
<rect x="836.39" y="1203.60" width="7.98" height="121.50" fill="#079538" stroke="#1a1a1a" stroke-width="1"/>
<rect x="847.55" y="1185.00" width="7.98" height="140.10" fill="#079538" stroke="#1a1a1a" stroke-width="1"/>
<rect x="858.71" y="1187.20" width="7.98" height="137.90" fill="#079538" stroke="#1a1a1a" stroke-width="1"/>
<rect x="869.87" y="1208.00" width="7.98" height="117.10" fill="#079538" stroke="#1a1a1a" stroke-width="1"/>
<rect x="881.03" y="1241.90" width="7.98" height="83.20" fill="#079538" stroke="#1a1a1a" stroke-width="1"/>
<rect x="892.19" y="1278.80" width="7.98" height="46.30" fill="#079538" stroke="#1a1a1a" stroke-width="1"/>
<rect x="903.35" y="1308.10" width="7.98" height="17.00" fill="#079538" stroke="#1a1a1a" stroke-width="1"/>
<rect x="914.51" y="1323.70" width="7.98" height="1.40" fill="#079538" stroke="#1a1a1a" stroke-width="1"/>
<rect x="594.1" y="710.1" width="402.9" height="614.9999999999999" fill="none" stroke="#000" stroke-width="1.5"/>
<line x1="594.1" y1="1016.9" x2="997.0" y2="1016.9" stroke="#000" stroke-width="1.5"/>
<text x="594.10" y="1355.30" font-size="21" font-weight="bold" text-anchor="middle" fill="#000" >10</text>
<text x="769.20" y="1355.30" font-size="21" font-weight="bold" text-anchor="middle" fill="#000" >100</text>
<text x="944.29" y="1355.30" font-size="21" font-weight="bold" text-anchor="middle" fill="#000" >1000</text>
<text x="795.85" y="1386.60" font-size="33" font-weight="bold" text-anchor="middle" fill="#000" >Size (nm)</text>
<text transform="translate(545.8,1021.3) rotate(-90)" font-size="33" font-weight="bold" text-anchor="middle">Intensity (%)</text>
<text x="800.00" y="692.70" font-size="38.5" font-weight="bold" text-anchor="middle" fill="#1d1d1b" >Hybrids</text>
<text x="511.50" y="674.00" font-size="53" font-weight="bold" text-anchor="start" fill="#1d1d1b" >d</text>
<line x1="1094.10" y1="710.1" x2="1094.10" y2="717.6" stroke="#000" stroke-width="1.4"/>
<line x1="1094.10" y1="1017.2" x2="1094.10" y2="1009.7" stroke="#000" stroke-width="1.4"/>
<line x1="1094.10" y1="1325.1" x2="1094.10" y2="1332.6" stroke="#000" stroke-width="1.4"/>
<line x1="1146.86" y1="710.1" x2="1146.86" y2="713.8000000000001" stroke="#000" stroke-width="1.4"/>
<line x1="1146.86" y1="1017.2" x2="1146.86" y2="1013.5" stroke="#000" stroke-width="1.4"/>
<line x1="1146.86" y1="1325.1" x2="1146.86" y2="1328.8" stroke="#000" stroke-width="1.4"/>
<line x1="1177.72" y1="710.1" x2="1177.72" y2="713.8000000000001" stroke="#000" stroke-width="1.4"/>
<line x1="1177.72" y1="1017.2" x2="1177.72" y2="1013.5" stroke="#000" stroke-width="1.4"/>
<line x1="1177.72" y1="1325.1" x2="1177.72" y2="1328.8" stroke="#000" stroke-width="1.4"/>
<line x1="1199.62" y1="710.1" x2="1199.62" y2="713.8000000000001" stroke="#000" stroke-width="1.4"/>
<line x1="1199.62" y1="1017.2" x2="1199.62" y2="1013.5" stroke="#000" stroke-width="1.4"/>
<line x1="1199.62" y1="1325.1" x2="1199.62" y2="1328.8" stroke="#000" stroke-width="1.4"/>
<line x1="1216.61" y1="710.1" x2="1216.61" y2="713.8000000000001" stroke="#000" stroke-width="1.4"/>
<line x1="1216.61" y1="1017.2" x2="1216.61" y2="1013.5" stroke="#000" stroke-width="1.4"/>
<line x1="1216.61" y1="1325.1" x2="1216.61" y2="1328.8" stroke="#000" stroke-width="1.4"/>
<line x1="1230.49" y1="710.1" x2="1230.49" y2="713.8000000000001" stroke="#000" stroke-width="1.4"/>
<line x1="1230.49" y1="1017.2" x2="1230.49" y2="1013.5" stroke="#000" stroke-width="1.4"/>
<line x1="1230.49" y1="1325.1" x2="1230.49" y2="1328.8" stroke="#000" stroke-width="1.4"/>
<line x1="1242.22" y1="710.1" x2="1242.22" y2="713.8000000000001" stroke="#000" stroke-width="1.4"/>
<line x1="1242.22" y1="1017.2" x2="1242.22" y2="1013.5" stroke="#000" stroke-width="1.4"/>
<line x1="1242.22" y1="1325.1" x2="1242.22" y2="1328.8" stroke="#000" stroke-width="1.4"/>
<line x1="1252.38" y1="710.1" x2="1252.38" y2="713.8000000000001" stroke="#000" stroke-width="1.4"/>
<line x1="1252.38" y1="1017.2" x2="1252.38" y2="1013.5" stroke="#000" stroke-width="1.4"/>
<line x1="1252.38" y1="1325.1" x2="1252.38" y2="1328.8" stroke="#000" stroke-width="1.4"/>
<line x1="1261.35" y1="710.1" x2="1261.35" y2="713.8000000000001" stroke="#000" stroke-width="1.4"/>
<line x1="1261.35" y1="1017.2" x2="1261.35" y2="1013.5" stroke="#000" stroke-width="1.4"/>
<line x1="1261.35" y1="1325.1" x2="1261.35" y2="1328.8" stroke="#000" stroke-width="1.4"/>
<line x1="1269.37" y1="710.1" x2="1269.37" y2="717.6" stroke="#000" stroke-width="1.4"/>
<line x1="1269.37" y1="1017.2" x2="1269.37" y2="1009.7" stroke="#000" stroke-width="1.4"/>
<line x1="1269.37" y1="1325.1" x2="1269.37" y2="1332.6" stroke="#000" stroke-width="1.4"/>
<line x1="1322.13" y1="710.1" x2="1322.13" y2="713.8000000000001" stroke="#000" stroke-width="1.4"/>
<line x1="1322.13" y1="1017.2" x2="1322.13" y2="1013.5" stroke="#000" stroke-width="1.4"/>
<line x1="1322.13" y1="1325.1" x2="1322.13" y2="1328.8" stroke="#000" stroke-width="1.4"/>
<line x1="1352.99" y1="710.1" x2="1352.99" y2="713.8000000000001" stroke="#000" stroke-width="1.4"/>
<line x1="1352.99" y1="1017.2" x2="1352.99" y2="1013.5" stroke="#000" stroke-width="1.4"/>
<line x1="1352.99" y1="1325.1" x2="1352.99" y2="1328.8" stroke="#000" stroke-width="1.4"/>
<line x1="1374.89" y1="710.1" x2="1374.89" y2="713.8000000000001" stroke="#000" stroke-width="1.4"/>
<line x1="1374.89" y1="1017.2" x2="1374.89" y2="1013.5" stroke="#000" stroke-width="1.4"/>
<line x1="1374.89" y1="1325.1" x2="1374.89" y2="1328.8" stroke="#000" stroke-width="1.4"/>
<line x1="1391.88" y1="710.1" x2="1391.88" y2="713.8000000000001" stroke="#000" stroke-width="1.4"/>
<line x1="1391.88" y1="1017.2" x2="1391.88" y2="1013.5" stroke="#000" stroke-width="1.4"/>
<line x1="1391.88" y1="1325.1" x2="1391.88" y2="1328.8" stroke="#000" stroke-width="1.4"/>
<line x1="1405.76" y1="710.1" x2="1405.76" y2="713.8000000000001" stroke="#000" stroke-width="1.4"/>
<line x1="1405.76" y1="1017.2" x2="1405.76" y2="1013.5" stroke="#000" stroke-width="1.4"/>
<line x1="1405.76" y1="1325.1" x2="1405.76" y2="1328.8" stroke="#000" stroke-width="1.4"/>
<line x1="1417.49" y1="710.1" x2="1417.49" y2="713.8000000000001" stroke="#000" stroke-width="1.4"/>
<line x1="1417.49" y1="1017.2" x2="1417.49" y2="1013.5" stroke="#000" stroke-width="1.4"/>
<line x1="1417.49" y1="1325.1" x2="1417.49" y2="1328.8" stroke="#000" stroke-width="1.4"/>
<line x1="1427.65" y1="710.1" x2="1427.65" y2="713.8000000000001" stroke="#000" stroke-width="1.4"/>
<line x1="1427.65" y1="1017.2" x2="1427.65" y2="1013.5" stroke="#000" stroke-width="1.4"/>
<line x1="1427.65" y1="1325.1" x2="1427.65" y2="1328.8" stroke="#000" stroke-width="1.4"/>
<line x1="1436.62" y1="710.1" x2="1436.62" y2="713.8000000000001" stroke="#000" stroke-width="1.4"/>
<line x1="1436.62" y1="1017.2" x2="1436.62" y2="1013.5" stroke="#000" stroke-width="1.4"/>
<line x1="1436.62" y1="1325.1" x2="1436.62" y2="1328.8" stroke="#000" stroke-width="1.4"/>
<line x1="1444.64" y1="710.1" x2="1444.64" y2="717.6" stroke="#000" stroke-width="1.4"/>
<line x1="1444.64" y1="1017.2" x2="1444.64" y2="1009.7" stroke="#000" stroke-width="1.4"/>
<line x1="1444.64" y1="1325.1" x2="1444.64" y2="1332.6" stroke="#000" stroke-width="1.4"/>
<line x1="1497.40" y1="710.1" x2="1497.40" y2="713.8000000000001" stroke="#000" stroke-width="1.4"/>
<line x1="1497.40" y1="1017.2" x2="1497.40" y2="1013.5" stroke="#000" stroke-width="1.4"/>
<line x1="1497.40" y1="1325.1" x2="1497.40" y2="1328.8" stroke="#000" stroke-width="1.4"/>
<line x1="1094.1" y1="1017.20" x2="1101.6" y2="1017.20" stroke="#000" stroke-width="1.4"/>
<line x1="1497.4" y1="1017.20" x2="1489.9" y2="1017.20" stroke="#000" stroke-width="1.4"/>
<line x1="1094.1" y1="978.81" x2="1097.8" y2="978.81" stroke="#000" stroke-width="1.4"/>
<line x1="1497.4" y1="978.81" x2="1493.7" y2="978.81" stroke="#000" stroke-width="1.4"/>
<line x1="1094.1" y1="940.43" x2="1101.6" y2="940.43" stroke="#000" stroke-width="1.4"/>
<line x1="1497.4" y1="940.43" x2="1489.9" y2="940.43" stroke="#000" stroke-width="1.4"/>
<line x1="1094.1" y1="902.04" x2="1097.8" y2="902.04" stroke="#000" stroke-width="1.4"/>
<line x1="1497.4" y1="902.04" x2="1493.7" y2="902.04" stroke="#000" stroke-width="1.4"/>
<line x1="1094.1" y1="863.65" x2="1101.6" y2="863.65" stroke="#000" stroke-width="1.4"/>
<line x1="1497.4" y1="863.65" x2="1489.9" y2="863.65" stroke="#000" stroke-width="1.4"/>
<line x1="1094.1" y1="825.26" x2="1097.8" y2="825.26" stroke="#000" stroke-width="1.4"/>
<line x1="1497.4" y1="825.26" x2="1493.7" y2="825.26" stroke="#000" stroke-width="1.4"/>
<line x1="1094.1" y1="786.88" x2="1101.6" y2="786.88" stroke="#000" stroke-width="1.4"/>
<line x1="1497.4" y1="786.88" x2="1489.9" y2="786.88" stroke="#000" stroke-width="1.4"/>
<line x1="1094.1" y1="748.49" x2="1097.8" y2="748.49" stroke="#000" stroke-width="1.4"/>
<line x1="1497.4" y1="748.49" x2="1493.7" y2="748.49" stroke="#000" stroke-width="1.4"/>
<line x1="1094.1" y1="710.10" x2="1101.6" y2="710.10" stroke="#000" stroke-width="1.4"/>
<line x1="1497.4" y1="710.10" x2="1489.9" y2="710.10" stroke="#000" stroke-width="1.4"/>
<text x="1084.40" y="1022.90" font-size="20.6" font-weight="bold" text-anchor="end" fill="#000" >0</text>
<text x="1084.40" y="946.13" font-size="20.6" font-weight="bold" text-anchor="end" fill="#000" >2.2</text>
<text x="1084.40" y="869.35" font-size="20.6" font-weight="bold" text-anchor="end" fill="#000" >4.4</text>
<text x="1084.40" y="792.58" font-size="20.6" font-weight="bold" text-anchor="end" fill="#000" >6.6</text>
<text x="1084.40" y="715.80" font-size="20.6" font-weight="bold" text-anchor="end" fill="#000" >8.8</text>
<line x1="1094.1" y1="1325.10" x2="1101.6" y2="1325.10" stroke="#000" stroke-width="1.4"/>
<line x1="1497.4" y1="1325.10" x2="1489.9" y2="1325.10" stroke="#000" stroke-width="1.4"/>
<line x1="1094.1" y1="1286.61" x2="1097.8" y2="1286.61" stroke="#000" stroke-width="1.4"/>
<line x1="1497.4" y1="1286.61" x2="1493.7" y2="1286.61" stroke="#000" stroke-width="1.4"/>
<line x1="1094.1" y1="1248.12" x2="1101.6" y2="1248.12" stroke="#000" stroke-width="1.4"/>
<line x1="1497.4" y1="1248.12" x2="1489.9" y2="1248.12" stroke="#000" stroke-width="1.4"/>
<line x1="1094.1" y1="1209.64" x2="1097.8" y2="1209.64" stroke="#000" stroke-width="1.4"/>
<line x1="1497.4" y1="1209.64" x2="1493.7" y2="1209.64" stroke="#000" stroke-width="1.4"/>
<line x1="1094.1" y1="1171.15" x2="1101.6" y2="1171.15" stroke="#000" stroke-width="1.4"/>
<line x1="1497.4" y1="1171.15" x2="1489.9" y2="1171.15" stroke="#000" stroke-width="1.4"/>
<line x1="1094.1" y1="1132.66" x2="1097.8" y2="1132.66" stroke="#000" stroke-width="1.4"/>
<line x1="1497.4" y1="1132.66" x2="1493.7" y2="1132.66" stroke="#000" stroke-width="1.4"/>
<line x1="1094.1" y1="1094.17" x2="1101.6" y2="1094.17" stroke="#000" stroke-width="1.4"/>
<line x1="1497.4" y1="1094.17" x2="1489.9" y2="1094.17" stroke="#000" stroke-width="1.4"/>
<line x1="1094.1" y1="1055.69" x2="1097.8" y2="1055.69" stroke="#000" stroke-width="1.4"/>
<line x1="1497.4" y1="1055.69" x2="1493.7" y2="1055.69" stroke="#000" stroke-width="1.4"/>
<line x1="1094.1" y1="1017.20" x2="1101.6" y2="1017.20" stroke="#000" stroke-width="1.4"/>
<line x1="1497.4" y1="1017.20" x2="1489.9" y2="1017.20" stroke="#000" stroke-width="1.4"/>
<text x="1084.40" y="1330.80" font-size="20.6" font-weight="bold" text-anchor="end" fill="#000" >0</text>
<text x="1084.40" y="1253.83" font-size="20.6" font-weight="bold" text-anchor="end" fill="#000" >2.5</text>
<text x="1084.40" y="1176.85" font-size="20.6" font-weight="bold" text-anchor="end" fill="#000" >5</text>
<text x="1084.40" y="1099.88" font-size="20.6" font-weight="bold" text-anchor="end" fill="#000" >7.5</text>
<rect x="1124.37" y="997.40" width="7.99" height="19.80" fill="#383f8e" stroke="#1a1a1a" stroke-width="1"/>
<rect x="1135.54" y="935.20" width="7.99" height="82.00" fill="#383f8e" stroke="#1a1a1a" stroke-width="1"/>
<rect x="1146.71" y="863.70" width="7.99" height="153.50" fill="#383f8e" stroke="#1a1a1a" stroke-width="1"/>
<rect x="1157.89" y="817.80" width="7.99" height="199.40" fill="#383f8e" stroke="#1a1a1a" stroke-width="1"/>
<rect x="1169.06" y="813.20" width="7.99" height="204.00" fill="#383f8e" stroke="#1a1a1a" stroke-width="1"/>
<rect x="1180.23" y="847.00" width="7.99" height="170.20" fill="#383f8e" stroke="#1a1a1a" stroke-width="1"/>
<rect x="1191.40" y="903.00" width="7.99" height="114.20" fill="#383f8e" stroke="#1a1a1a" stroke-width="1"/>
<rect x="1202.57" y="958.90" width="7.99" height="58.30" fill="#383f8e" stroke="#1a1a1a" stroke-width="1"/>
<rect x="1213.74" y="999.80" width="7.99" height="17.40" fill="#383f8e" stroke="#1a1a1a" stroke-width="1"/>
<rect x="1247.26" y="1003.60" width="7.99" height="13.60" fill="#383f8e" stroke="#1a1a1a" stroke-width="1"/>
<rect x="1258.43" y="972.80" width="7.99" height="44.40" fill="#383f8e" stroke="#1a1a1a" stroke-width="1"/>
<rect x="1269.60" y="928.90" width="7.99" height="88.30" fill="#383f8e" stroke="#1a1a1a" stroke-width="1"/>
<rect x="1280.77" y="878.10" width="7.99" height="139.10" fill="#383f8e" stroke="#1a1a1a" stroke-width="1"/>
<rect x="1291.94" y="828.70" width="7.99" height="188.50" fill="#383f8e" stroke="#1a1a1a" stroke-width="1"/>
<rect x="1303.11" y="787.80" width="7.99" height="229.40" fill="#383f8e" stroke="#1a1a1a" stroke-width="1"/>
<rect x="1314.28" y="760.30" width="7.99" height="256.90" fill="#383f8e" stroke="#1a1a1a" stroke-width="1"/>
<rect x="1325.46" y="748.80" width="7.99" height="268.40" fill="#383f8e" stroke="#1a1a1a" stroke-width="1"/>
<rect x="1336.63" y="753.70" width="7.99" height="263.50" fill="#383f8e" stroke="#1a1a1a" stroke-width="1"/>
<rect x="1347.80" y="773.10" width="7.99" height="244.10" fill="#383f8e" stroke="#1a1a1a" stroke-width="1"/>
<rect x="1358.97" y="803.60" width="7.99" height="213.60" fill="#383f8e" stroke="#1a1a1a" stroke-width="1"/>
<rect x="1370.14" y="842.10" width="7.99" height="175.10" fill="#383f8e" stroke="#1a1a1a" stroke-width="1"/>
<rect x="1381.31" y="883.00" width="7.99" height="134.20" fill="#383f8e" stroke="#1a1a1a" stroke-width="1"/>
<rect x="1392.48" y="922.30" width="7.99" height="94.90" fill="#383f8e" stroke="#1a1a1a" stroke-width="1"/>
<rect x="1403.66" y="956.70" width="7.99" height="60.50" fill="#383f8e" stroke="#1a1a1a" stroke-width="1"/>
<rect x="1414.83" y="984.30" width="7.99" height="32.90" fill="#383f8e" stroke="#1a1a1a" stroke-width="1"/>
<rect x="1426.00" y="1002.80" width="7.99" height="14.40" fill="#383f8e" stroke="#1a1a1a" stroke-width="1"/>
<rect x="1437.17" y="1013.70" width="7.99" height="3.50" fill="#383f8e" stroke="#1a1a1a" stroke-width="1"/>
<rect x="1135.54" y="1289.10" width="7.99" height="36.00" fill="#556ab4" stroke="#1a1a1a" stroke-width="1"/>
<rect x="1146.71" y="1200.90" width="7.99" height="124.20" fill="#556ab4" stroke="#1a1a1a" stroke-width="1"/>
<rect x="1157.89" y="1116.60" width="7.99" height="208.50" fill="#556ab4" stroke="#1a1a1a" stroke-width="1"/>
<rect x="1169.06" y="1083.10" width="7.99" height="242.00" fill="#556ab4" stroke="#1a1a1a" stroke-width="1"/>
<rect x="1180.23" y="1112.80" width="7.99" height="212.30" fill="#556ab4" stroke="#1a1a1a" stroke-width="1"/>
<rect x="1191.40" y="1184.30" width="7.99" height="140.80" fill="#556ab4" stroke="#1a1a1a" stroke-width="1"/>
<rect x="1202.57" y="1261.00" width="7.99" height="64.10" fill="#556ab4" stroke="#1a1a1a" stroke-width="1"/>
<rect x="1213.74" y="1312.00" width="7.99" height="13.10" fill="#556ab4" stroke="#1a1a1a" stroke-width="1"/>
<rect x="1258.43" y="1319.10" width="7.99" height="6.00" fill="#556ab4" stroke="#1a1a1a" stroke-width="1"/>
<rect x="1269.60" y="1289.10" width="7.99" height="36.00" fill="#556ab4" stroke="#1a1a1a" stroke-width="1"/>
<rect x="1280.77" y="1236.70" width="7.99" height="88.40" fill="#556ab4" stroke="#1a1a1a" stroke-width="1"/>
<rect x="1291.94" y="1172.80" width="7.99" height="152.30" fill="#556ab4" stroke="#1a1a1a" stroke-width="1"/>
<rect x="1303.11" y="1112.00" width="7.99" height="213.10" fill="#556ab4" stroke="#1a1a1a" stroke-width="1"/>
<rect x="1314.28" y="1067.00" width="7.99" height="258.10" fill="#556ab4" stroke="#1a1a1a" stroke-width="1"/>
<rect x="1325.46" y="1045.40" width="7.99" height="279.70" fill="#556ab4" stroke="#1a1a1a" stroke-width="1"/>
<rect x="1336.63" y="1052.00" width="7.99" height="273.10" fill="#556ab4" stroke="#1a1a1a" stroke-width="1"/>
<rect x="1347.80" y="1081.70" width="7.99" height="243.40" fill="#556ab4" stroke="#1a1a1a" stroke-width="1"/>
<rect x="1358.97" y="1129.70" width="7.99" height="195.40" fill="#556ab4" stroke="#1a1a1a" stroke-width="1"/>
<rect x="1370.14" y="1185.40" width="7.99" height="139.70" fill="#556ab4" stroke="#1a1a1a" stroke-width="1"/>
<rect x="1381.31" y="1239.70" width="7.99" height="85.40" fill="#556ab4" stroke="#1a1a1a" stroke-width="1"/>
<rect x="1392.48" y="1283.40" width="7.99" height="41.70" fill="#556ab4" stroke="#1a1a1a" stroke-width="1"/>
<rect x="1403.66" y="1312.30" width="7.99" height="12.80" fill="#556ab4" stroke="#1a1a1a" stroke-width="1"/>
<rect x="1414.83" y="1324.80" width="7.99" height="0.30" fill="#556ab4" stroke="#1a1a1a" stroke-width="1"/>
<rect x="1094.1" y="710.1" width="403.3000000000002" height="614.9999999999999" fill="none" stroke="#000" stroke-width="1.5"/>
<line x1="1094.1" y1="1017.2" x2="1497.4" y2="1017.2" stroke="#000" stroke-width="1.5"/>
<text x="1094.10" y="1355.30" font-size="21" font-weight="bold" text-anchor="middle" fill="#000" >10</text>
<text x="1269.37" y="1355.30" font-size="21" font-weight="bold" text-anchor="middle" fill="#000" >100</text>
<text x="1444.64" y="1355.30" font-size="21" font-weight="bold" text-anchor="middle" fill="#000" >1000</text>
<text x="1296.05" y="1386.60" font-size="33" font-weight="bold" text-anchor="middle" fill="#000" >Size (nm)</text>
<text transform="translate(1045,1021.3) rotate(-90)" font-size="33" font-weight="bold" text-anchor="middle">Intensity (%)</text>
<text x="1298.20" y="696.00" font-size="38.5" font-weight="bold" text-anchor="middle" fill="#1d1d1b" >Polymersomes</text>
<text x="1005.50" y="675.50" font-size="53" font-weight="bold" text-anchor="start" fill="#1d1d1b" >e</text>
<rect x="341.5" y="710" width="157.3" height="30.200000000000045" fill="#fff" stroke="#8a8a8a" stroke-width="1"/>
<rect x="344.6" y="714.7" width="45.89999999999998" height="22.699999999999932" fill="#cf2220" stroke="#1a1a1a" stroke-width="1"/>
<text x="396.7" y="733.20" font-size="20.8" font-weight="bold"><tspan font-weight="normal">Δ</tspan>N AS Lip</text>
<rect x="327.6" y="1018.2" width="171.2" height="32.799999999999955" fill="#fff" stroke="#8a8a8a" stroke-width="1"/>
<rect x="330.6" y="1021.5" width="45.69999999999999" height="22.40000000000009" fill="#f4aa33" stroke="#1a1a1a" stroke-width="1"/>
<text x="382.3" y="1042.70" font-size="20.8" font-weight="bold">Syb <tspan font-style="italic">bo</tspan><tspan font-style="italic" font-size="14" dy="5">3</tspan><tspan dy="-5"> </tspan>Lip</text>
<rect x="832.9" y="709.6" width="164.10000000000002" height="30.600000000000023" fill="#fff" stroke="#8a8a8a" stroke-width="1"/>
<rect x="835.6" y="714.5" width="45.69999999999993" height="22.399999999999977" fill="#0d7068" stroke="#1a1a1a" stroke-width="1"/>
<text x="888.1" y="733.00" font-size="20.8" font-weight="bold"><tspan font-weight="normal">Δ</tspan>N AS Hyb</text>
<rect x="818.7" y="1017.7" width="178.29999999999995" height="33.299999999999955" fill="#fff" stroke="#8a8a8a" stroke-width="1"/>
<rect x="821.4" y="1021.5" width="45.700000000000045" height="22.09999999999991" fill="#079538" stroke="#1a1a1a" stroke-width="1"/>
<text x="873.6" y="1042.45" font-size="20.8" font-weight="bold">Syb <tspan font-style="italic">bo</tspan><tspan font-style="italic" font-size="14" dy="5">3</tspan><tspan dy="-5"> </tspan>Hyb</text>
<rect x="1094.1" y="710.1" width="168.30000000000018" height="30.299999999999955" fill="#fff" stroke="#8a8a8a" stroke-width="1"/>
<rect x="1096.8" y="715" width="45.600000000000136" height="22.399999999999977" fill="#383f8e" stroke="#1a1a1a" stroke-width="1"/>
<text x="1148.7" y="733.35" font-size="20.8" font-weight="bold"><tspan font-weight="normal">Δ</tspan>N AS Poly</text>
<rect x="1094.1" y="1017.8" width="182.30000000000018" height="33.700000000000045" fill="#fff" stroke="#8a8a8a" stroke-width="1"/>
<rect x="1096.8" y="1021.5" width="45.600000000000136" height="22.299999999999955" fill="#556ab4" stroke="#1a1a1a" stroke-width="1"/>
<text x="1148.7" y="1042.75" font-size="20.8" font-weight="bold">Syb <tspan font-style="italic">bo</tspan><tspan font-style="italic" font-size="14" dy="5">3</tspan><tspan dy="-5"> </tspan>Poly</text>
<text transform="translate(274.1,736) scale(1,1.07)" font-size="24" font-weight="bold" text-anchor="middle">39</text>
<text transform="translate(236,1044.2) scale(1,1.07)" font-size="24" font-weight="bold" text-anchor="middle">27</text>
<text transform="translate(672.9,735) scale(1,1.07)" font-size="24" font-weight="bold" text-anchor="middle">30</text>
<text transform="translate(862.7,869) scale(1,1.07)" font-size="24" font-weight="bold" text-anchor="middle">392</text>
<text transform="translate(673.4,1045.6) scale(1,1.07)" font-size="24" font-weight="bold" text-anchor="middle">32</text>
<text transform="translate(851.2,1175.5) scale(1,1.07)" font-size="24" font-weight="bold" text-anchor="middle">333</text>
<text transform="translate(1173.2,805) scale(1,1.07)" font-size="24" font-weight="bold" text-anchor="middle">28</text>
<text transform="translate(1330.1,741) scale(1,1.07)" font-size="24" font-weight="bold" text-anchor="middle">273</text>
<text transform="translate(1173.2,1075) scale(1,1.07)" font-size="24" font-weight="bold" text-anchor="middle">30</text>
<text transform="translate(1330.1,1037.3) scale(1,1.07)" font-size="24" font-weight="bold" text-anchor="middle">255</text>
<defs>
<radialGradient id="hg" cx="0.5" cy="0.5" r="0.55" fx="0.45" fy="0.42"><stop offset="0" stop-color="#ffffff"/><stop offset="0.15" stop-color="#b8b8b8"/><stop offset="0.45" stop-color="#444"/><stop offset="1" stop-color="#141414"/></radialGradient>
<radialGradient id="rg" cx="0.5" cy="0.5" r="0.55" fx="0.42" fy="0.4"><stop offset="0" stop-color="#f4c0c0"/><stop offset="0.3" stop-color="#b04545"/><stop offset="1" stop-color="#7a1c1c"/></radialGradient>
<pattern id="pt" width="36" height="36" patternUnits="userSpaceOnUse"><path d="M-13.6 -9.3q2.4 -1.1 1.2 -3.3 -2.2 -2.4 1 -3.3 2.4 -1 0.7 -3.3 -1.2 -2.1 0.9 -3.3M-13.6 26.7q2.4 -1.1 1.2 -3.3 -2.2 -2.4 1 -3.3 2.4 -1 0.7 -3.3 -1.2 -2.1 0.9 -3.3M22.4 -9.3q2.4 -1.1 1.2 -3.3 -2.2 -2.4 1 -3.3 2.4 -1 0.7 -3.3 -1.2 -2.1 0.9 -3.3M22.4 26.7q2.4 -1.1 1.2 -3.3 -2.2 -2.4 1 -3.3 2.4 -1 0.7 -3.3 -1.2 -2.1 0.9 -3.3M-9.4 -2.8q0.8 2.9 2.6 0.7 1.8 -2.6 2.7 0 0.8 3.2 2.6 0.8 1.9 -2.7 2.7 0.4M-9.4 33.2q0.8 2.9 2.6 0.7 1.8 -2.6 2.7 0 0.8 3.2 2.6 0.8 1.9 -2.7 2.7 0.4M26.6 -2.8q0.8 2.9 2.6 0.7 1.8 -2.6 2.7 0 0.8 3.2 2.6 0.8 1.9 -2.7 2.7 0.4M26.6 33.2q0.8 2.9 2.6 0.7 1.8 -2.6 2.7 0 0.8 3.2 2.6 0.8 1.9 -2.7 2.7 0.4M-2 -12.6q2.6 1.7 1.6 -1 0.1 -2.1 1.9 -1.6 2.9 2.3 1.5 -1.4 0 -2 1.8 -0.9M-2 23.4q2.6 1.7 1.6 -1 0.1 -2.1 1.9 -1.6 2.9 2.3 1.5 -1.4 0 -2 1.8 -0.9M34 -12.6q2.6 1.7 1.6 -1 0.1 -2.1 1.9 -1.6 2.9 2.3 1.5 -1.4 0 -2 1.8 -0.9M34 23.4q2.6 1.7 1.6 -1 0.1 -2.1 1.9 -1.6 2.9 2.3 1.5 -1.4 0 -2 1.8 -0.9M16.9 8.9q-0.9 -2.2 -2.7 -0.6 -2.1 1.7 -2.8 -1.2 -0.7 -2.6 -2.7 -0.4 -2 1.5 -2.8 -1.2M0.5 7.8q-2.5 1.2 -0.4 3.3 1.3 2 -0.6 3.4 -2.2 1.3 -0.5 3.2 1 2 -0.9 3.4M36.5 7.8q-2.5 1.2 -0.4 3.3 1.3 2 -0.6 3.4 -2.2 1.3 -0.5 3.2 1 2 -0.9 3.4M-8.4 5.7q2.2 -0.5 0.3 -2.1 -1.5 -1.7 0.7 -2.2 3.5 -0.1 0.6 -2 -2.4 -2 1 -2.1M27.6 5.7q2.2 -0.5 0.3 -2.1 -1.5 -1.7 0.7 -2.2 3.5 -0.1 0.6 -2 -2.4 -2 1 -2.1M-13.8 4.6q1.6 1.9 3.3 0.2 1.7 -1.9 3.3 0.3 1.6 1.6 3.3 -0.3 1.7 -2.8 3.3 -0.1M22.2 4.6q1.6 1.9 3.3 0.2 1.7 -1.9 3.3 0.3 1.6 1.6 3.3 -0.3 1.7 -2.8 3.3 -0.1M7.5 7.8q1.8 1.6 3.3 -0.1 1.3 -3.3 3.3 -0.9 2 3.5 3.3 -0.2 1.4 -2.2 3.3 -0.3M10.4 -1.4q-1.1 -1.9 -3 -0.6 -2.2 2.5 -2.9 -1 -0.7 -3.1 -2.9 -0.9 -2 2 -2.9 -0.8M10.4 34.6q-1.1 -1.9 -3 -0.6 -2.2 2.5 -2.9 -1 -0.7 -3.1 -2.9 -0.9 -2 2 -2.9 -0.8M7.4 -2.1q2.7 -2.9 -1.4 -3.1 -3 -0.7 -1.2 -3.4 1.6 -2.4 -1.5 -3 -2.3 -0.9 -0.7 -3.5M7.4 33.9q2.7 -2.9 -1.4 -3.1 -3 -0.7 -1.2 -3.4 1.6 -2.4 -1.5 -3 -2.3 -0.9 -0.7 -3.5M-3.8 10.8q-3.4 -1.4 -1.1 1.5 1.2 3 -2 1.9 -2.9 -1.2 -1.3 1.8 0.7 1.9 -1.4 1.8M32.2 10.8q-3.4 -1.4 -1.1 1.5 1.2 3 -2 1.9 -2.9 -1.2 -1.3 1.8 0.7 1.9 -1.4 1.8M5.2 2.3q-3.3 0.4 -1 2.8 1.3 1.8 -0.8 2.7 -2.7 0.6 -0.6 2.6 2.6 2.6 -1 2.7M0.1 -11.6q-2.1 0.2 -1.5 2.2 2 2.5 -1.3 2 -1.8 0.2 -1.1 1.9 1.7 2.7 -1.1 2.1M0.1 24.4q-2.1 0.2 -1.5 2.2 2 2.5 -1.3 2 -1.8 0.2 -1.1 1.9 1.7 2.7 -1.1 2.1M36.1 -11.6q-2.1 0.2 -1.5 2.2 2 2.5 -1.3 2 -1.8 0.2 -1.1 1.9 1.7 2.7 -1.1 2.1M36.1 24.4q-2.1 0.2 -1.5 2.2 2 2.5 -1.3 2 -1.8 0.2 -1.1 1.9 1.7 2.7 -1.1 2.1M-6.5 17.3q-2.5 0.4 -1.3 2.5 2 2.3 -0.8 2.5 -3 0.2 -1 2.5 1.7 2.3 -1.4 2.3M29.5 17.3q-2.5 0.4 -1.3 2.5 2 2.3 -0.8 2.5 -3 0.2 -1 2.5 1.7 2.3 -1.4 2.3M-10.6 2.1q1.3 1.7 2 -0.5 0.6 -2.6 2 -0.2 1.3 2.1 1.9 -0.3 0.5 -3.4 2 -0.6M25.4 2.1q1.3 1.7 2 -0.5 0.6 -2.6 2 -0.2 1.3 2.1 1.9 -0.3 0.5 -3.4 2 -0.6M-9 -5.6q1.3 2.5 3.1 0.3 1.8 -1.5 3.2 0.8 1.3 2.4 3.2 -0.4 2 -2.9 3.1 0.4M-9 30.4q1.3 2.5 3.1 0.3 1.8 -1.5 3.2 0.8 1.3 2.4 3.2 -0.4 2 -2.9 3.1 0.4M27 -5.6q1.3 2.5 3.1 0.3 1.8 -1.5 3.2 0.8 1.3 2.4 3.2 -0.4 2 -2.9 3.1 0.4M27 30.4q1.3 2.5 3.1 0.3 1.8 -1.5 3.2 0.8 1.3 2.4 3.2 -0.4 2 -2.9 3.1 0.4M13.2 -15.2q0.8 3.3 2.1 -0.2 1.2 -1.7 2.1 0.6 0.9 3.4 2.1 0 1.1 -2.3 2.1 0.1M13.2 20.8q0.8 3.3 2.1 -0.2 1.2 -1.7 2.1 0.6 0.9 3.4 2.1 0 1.1 -2.3 2.1 0.1M6.5 -1.6q-2.3 2.5 0.7 2.9 3.1 0.7 1.1 2.9 -1.3 2.3 1.1 3.2 3.6 0.3 1.2 2.7M6.5 34.4q-2.3 2.5 0.7 2.9 3.1 0.7 1.1 2.9 -1.3 2.3 1.1 3.2 3.6 0.3 1.2 2.7M-2.5 -2.1q-2.2 0 -1.2 2.1 1.9 3 -1.8 2.3 -3.5 -1.1 -1 2 1.5 2.6 -1.9 1.8M-2.5 33.9q-2.2 0 -1.2 2.1 1.9 3 -1.8 2.3 -3.5 -1.1 -1 2 1.5 2.6 -1.9 1.8M33.5 -2.1q-2.2 0 -1.2 2.1 1.9 3 -1.8 2.3 -3.5 -1.1 -1 2 1.5 2.6 -1.9 1.8M33.5 33.9q-2.2 0 -1.2 2.1 1.9 3 -1.8 2.3 -3.5 -1.1 -1 2 1.5 2.6 -1.9 1.8M18.9 -8.1q0 2.5 2.7 1.9 2.5 -0.8 2.1 2.1 -0.4 2.9 2.7 2.1 2.3 -0.9 2.4 1.4M18.9 27.9q0 2.5 2.7 1.9 2.5 -0.8 2.1 2.1 -0.4 2.9 2.7 2.1 2.3 -0.9 2.4 1.4M-7.3 -5.1q0.9 3.6 3.3 0.8 2.4 -2.6 3.3 1 1.4 1.8 3.4 0.8 2.4 -2.9 3.4 0.5M-7.3 30.9q0.9 3.6 3.3 0.8 2.4 -2.6 3.3 1 1.4 1.8 3.4 0.8 2.4 -2.9 3.4 0.5M28.7 -5.1q0.9 3.6 3.3 0.8 2.4 -2.6 3.3 1 1.4 1.8 3.4 0.8 2.4 -2.9 3.4 0.5M28.7 30.9q0.9 3.6 3.3 0.8 2.4 -2.6 3.3 1 1.4 1.8 3.4 0.8 2.4 -2.9 3.4 0.5M3.3 12.3q0.5 -3.2 -2.4 -2.1 -3.6 1.3 -2.7 -2.6 -0.1 -2.3 -2.8 -1.8 -2.7 0.7 -2.2 -2.5M12.2 -2.7q-0.4 -3 -2.3 -0.6 -2.1 2.4 -2.6 -0.8 -0.4 -2.5 -2.2 -0.4 -2.1 2.3 -2.4 -1.1M12.2 33.3q-0.4 -3 -2.3 -0.6 -2.1 2.4 -2.6 -0.8 -0.4 -2.5 -2.2 -0.4 -2.1 2.3 -2.4 -1.1M11.4 6.4q-0.4 3.2 2 1.3 2.6 -2.7 1.9 1.1 0 2.2 1.9 0.7 2.5 -2.1 2.1 1.3M-11.2 -0.1q-1.6 2.2 1.1 1.6 2.4 -0.1 1.3 1.8 -2.7 2.9 1 1.8 2.8 -0.6 1.2 1.6M-11.2 35.9q-1.6 2.2 1.1 1.6 2.4 -0.1 1.3 1.8 -2.7 2.9 1 1.8 2.8 -0.6 1.2 1.6M24.8 -0.1q-1.6 2.2 1.1 1.6 2.4 -0.1 1.3 1.8 -2.7 2.9 1 1.8 2.8 -0.6 1.2 1.6M24.8 35.9q-1.6 2.2 1.1 1.6 2.4 -0.1 1.3 1.8 -2.7 2.9 1 1.8 2.8 -0.6 1.2 1.6M-0.5 19.2q-2.3 -1.3 -1.9 1.6 0.3 2.3 -1.9 1 -1.9 -0.6 -2.2 1.1 0.4 2.7 -1.7 1.3M35.5 19.2q-2.3 -1.3 -1.9 1.6 0.3 2.3 -1.9 1 -1.9 -0.6 -2.2 1.1 0.4 2.7 -1.7 1.3M-14.6 -6.3q-2.1 -2.6 -2.5 0.7 -0.4 3.6 -2.7 0.8 -1.9 -2.2 -2.4 0.3 -0.5 3.9 -2.7 1.4M-14.6 29.7q-2.1 -2.6 -2.5 0.7 -0.4 3.6 -2.7 0.8 -1.9 -2.2 -2.4 0.3 -0.5 3.9 -2.7 1.4M21.4 -6.3q-2.1 -2.6 -2.5 0.7 -0.4 3.6 -2.7 0.8 -1.9 -2.2 -2.4 0.3 -0.5 3.9 -2.7 1.4M21.4 29.7q-2.1 -2.6 -2.5 0.7 -0.4 3.6 -2.7 0.8 -1.9 -2.2 -2.4 0.3 -0.5 3.9 -2.7 1.4M2 -3q1 2.1 2.7 0.6 1.8 -2.1 2.6 0.9 0.8 2.5 2.8 -0.1 1.9 -2.5 2.7 1.2M2 33q1 2.1 2.7 0.6 1.8 -2.1 2.6 0.9 0.8 2.5 2.8 -0.1 1.9 -2.5 2.7 1.2M-5.8 4.7q3.2 -2.1 -0.5 -3.4 -3.7 -1.3 0.1 -3.4 2 -2 -0.6 -3.4 -3.2 -1.4 -0.3 -3.4M30.2 4.7q3.2 -2.1 -0.5 -3.4 -3.7 -1.3 0.1 -3.4 2 -2 -0.6 -3.4 -3.2 -1.4 -0.3 -3.4M-13.3 -7.6q-0.2 2.3 2.1 1.6 2.3 -0.7 1.9 1.9 -0.8 3.2 2.1 1.7 3.2 -1.9 2.3 1.5M-13.3 28.4q-0.2 2.3 2.1 1.6 2.3 -0.7 1.9 1.9 -0.8 3.2 2.1 1.7 3.2 -1.9 2.3 1.5M22.7 -7.6q-0.2 2.3 2.1 1.6 2.3 -0.7 1.9 1.9 -0.8 3.2 2.1 1.7 3.2 -1.9 2.3 1.5M22.7 28.4q-0.2 2.3 2.1 1.6 2.3 -0.7 1.9 1.9 -0.8 3.2 2.1 1.7 3.2 -1.9 2.3 1.5M5.4 -5.6q-2.4 0.7 -1 2.6 3.1 2.2 -0.4 2.6 -2.1 0.8 -0.6 2.5 2 2.1 -0.8 2.7M5.4 30.4q-2.4 0.7 -1 2.6 3.1 2.2 -0.4 2.6 -2.1 0.8 -0.6 2.5 2 2.1 -0.8 2.7M0 -5.3q1.8 2.8 2.6 -0.4 1.1 -2.2 2.8 -0.2 1.5 1.3 2.6 -0.7 1 -1.9 2.7 0M0 30.7q1.8 2.8 2.6 -0.4 1.1 -2.2 2.8 -0.2 1.5 1.3 2.6 -0.7 1 -1.9 2.7 0M36 -5.3q1.8 2.8 2.6 -0.4 1.1 -2.2 2.8 -0.2 1.5 1.3 2.6 -0.7 1 -1.9 2.7 0M36 30.7q1.8 2.8 2.6 -0.4 1.1 -2.2 2.8 -0.2 1.5 1.3 2.6 -0.7 1 -1.9 2.7 0M17.6 -9.7q-1.5 -1.8 -2.4 0.3 -0.9 2.4 -2.5 0.6 -1.4 -1.8 -2.4 0.3 -1 1.7 -2.4 0M17.6 26.3q-1.5 -1.8 -2.4 0.3 -0.9 2.4 -2.5 0.6 -1.4 -1.8 -2.4 0.3 -1 1.7 -2.4 0M14.5 5.3q-3.1 -0.7 -2.6 2.2 0.9 3.5 -2.4 2.7 -2.7 -0.3 -2.7 2.4 0.1 2.4 -2.4 2.7M-1.4 -13.4q-1.3 -3.3 -2.5 0.4 -1.2 2.1 -2.5 -0.1 -1.3 -3.6 -2.5 0.1 -1.2 2.3 -2.5 -0.5M-1.4 22.6q-1.3 -3.3 -2.5 0.4 -1.2 2.1 -2.5 -0.1 -1.3 -3.6 -2.5 0.1 -1.2 2.3 -2.5 -0.5M34.6 -13.4q-1.3 -3.3 -2.5 0.4 -1.2 2.1 -2.5 -0.1 -1.3 -3.6 -2.5 0.1 -1.2 2.3 -2.5 -0.5M34.6 22.6q-1.3 -3.3 -2.5 0.4 -1.2 2.1 -2.5 -0.1 -1.3 -3.6 -2.5 0.1 -1.2 2.3 -2.5 -0.5M3.2 9.8q2.1 -1.3 0.3 -3.2 -2.5 -2.3 0.8 -3.2 3.6 -1 0.8 -3.3 -2.3 -2.1 0.7 -3.2M13 -7.7q3.1 -1.1 0.2 -3 -3 -2 1.2 -3 2 -1.2 -0.2 -3 -2.4 -2 0.9 -3M13 28.3q3.1 -1.1 0.2 -3 -3 -2 1.2 -3 2 -1.2 -0.2 -3 -2.4 -2 0.9 -3M-12.1 -8.7q-3.3 -0.8 -2.2 2.5 1.3 2.8 -1.9 2.1 -2.7 -0.4 -1.9 2.3 1.2 3.1 -1.7 2.5M-12.1 27.3q-3.3 -0.8 -2.2 2.5 1.3 2.8 -1.9 2.1 -2.7 -0.4 -1.9 2.3 1.2 3.1 -1.7 2.5M23.9 -8.7q-3.3 -0.8 -2.2 2.5 1.3 2.8 -1.9 2.1 -2.7 -0.4 -1.9 2.3 1.2 3.1 -1.7 2.5M23.9 27.3q-3.3 -0.8 -2.2 2.5 1.3 2.8 -1.9 2.1 -2.7 -0.4 -1.9 2.3 1.2 3.1 -1.7 2.5M10.1 17.5q3.4 -1.1 0.5 -3 -2.8 -1.9 0.2 -3 2.4 -1.3 0.2 -3 -2.1 -1.8 0.5 -3M10.6 -2q0.6 -2.2 -1.5 -2.1 -2.8 -0.1 -1.8 -2.5 0.8 -2.4 -1.5 -2.5 -3 0.4 -2.2 -2.3M10.6 34q0.6 -2.2 -1.5 -2.1 -2.8 -0.1 -1.8 -2.5 0.8 -2.4 -1.5 -2.5 -3 0.4 -2.2 -2.3M0.4 19.7q-3.5 1.5 -0.4 3 2.8 1.5 0.6 3 -3.5 1.5 -0.4 3 2 1.5 0.1 3M36.4 19.7q-3.5 1.5 -0.4 3 2.8 1.5 0.6 3 -3.5 1.5 -0.4 3 2 1.5 0.1 3M16.7 -6.6q1.5 -3.1 -1.9 -2.5 -2.9 0.1 -1.9 -2.5 1.9 -3.6 -1.7 -2.7 -3.9 0.7 -2.2 -2.8M16.7 29.4q1.5 -3.1 -1.9 -2.5 -2.9 0.1 -1.9 -2.5 1.9 -3.6 -1.7 -2.7 -3.9 0.7 -2.2 -2.8M12.5 -12.8q1.9 -1.8 0.1 -3.2 -2.3 -1.5 -0.4 -3.3 1.3 -1.7 -0.6 -3.2 -3.2 -1.3 0.3 -3.2M12.5 23.2q1.9 -1.8 0.1 -3.2 -2.3 -1.5 -0.4 -3.3 1.3 -1.7 -0.6 -3.2 -3.2 -1.3 0.3 -3.2M12.6 -5.7q2.7 0.5 2.3 -2.5 -0.5 -2 2 -1.9 2.5 0.3 1.9 -2.1 -1.5 -3.6 2.2 -2.2M12.6 30.3q2.7 0.5 2.3 -2.5 -0.5 -2 2 -1.9 2.5 0.3 1.9 -2.1 -1.5 -3.6 2.2 -2.2M-0.9 -1.6q-1.2 -2.2 -2.7 -0.5 -1.7 2.2 -2.8 -0.6 -1.1 -2.4 -2.8 -0.1 -1.6 1.7 -2.8 0M-0.9 34.4q-1.2 -2.2 -2.7 -0.5 -1.7 2.2 -2.8 -0.6 -1.1 -2.4 -2.8 -0.1 -1.6 1.7 -2.8 0M35.1 -1.6q-1.2 -2.2 -2.7 -0.5 -1.7 2.2 -2.8 -0.6 -1.1 -2.4 -2.8 -0.1 -1.6 1.7 -2.8 0M35.1 34.4q-1.2 -2.2 -2.7 -0.5 -1.7 2.2 -2.8 -0.6 -1.1 -2.4 -2.8 -0.1 -1.6 1.7 -2.8 0M6 -5.9q2 1.4 2.6 -0.8 0.2 -3 2.6 -1 2.2 1.9 2.3 -1.6 0.7 -1.7 2.7 -0.6M6 30.1q2 1.4 2.6 -0.8 0.2 -3 2.6 -1 2.2 1.9 2.3 -1.6 0.7 -1.7 2.7 -0.6M-11.1 -10.1q1.5 -1.3 0 -2.3 -2.5 -0.8 -0.7 -2.2 1.9 -1.4 -0.2 -2.2 -2.7 -0.8 -0.6 -2.3M-11.1 25.9q1.5 -1.3 0 -2.3 -2.5 -0.8 -0.7 -2.2 1.9 -1.4 -0.2 -2.2 -2.7 -0.8 -0.6 -2.3M24.9 -10.1q1.5 -1.3 0 -2.3 -2.5 -0.8 -0.7 -2.2 1.9 -1.4 -0.2 -2.2 -2.7 -0.8 -0.6 -2.3M24.9 25.9q1.5 -1.3 0 -2.3 -2.5 -0.8 -0.7 -2.2 1.9 -1.4 -0.2 -2.2 -2.7 -0.8 -0.6 -2.3M-7.9 -15.1q2.4 -3 -1.1 -2.2 -3 -0.1 -1.4 -2.5 1.6 -2.5 -1.8 -2.3 -2 -0.1 -1.2 -2.1M-7.9 20.9q2.4 -3 -1.1 -2.2 -3 -0.1 -1.4 -2.5 1.6 -2.5 -1.8 -2.3 -2 -0.1 -1.2 -2.1M28.1 -15.1q2.4 -3 -1.1 -2.2 -3 -0.1 -1.4 -2.5 1.6 -2.5 -1.8 -2.3 -2 -0.1 -1.2 -2.1M28.1 20.9q2.4 -3 -1.1 -2.2 -3 -0.1 -1.4 -2.5 1.6 -2.5 -1.8 -2.3 -2 -0.1 -1.2 -2.1M-13.5 -8.1q1.6 -3.4 -1.9 -2.5 -3.2 0.9 -2.2 -2.1 1.7 -3.4 -1.6 -2.4 -2.7 0.2 -2.1 -2M-13.5 27.9q1.6 -3.4 -1.9 -2.5 -3.2 0.9 -2.2 -2.1 1.7 -3.4 -1.6 -2.4 -2.7 0.2 -2.1 -2M22.5 -8.1q1.6 -3.4 -1.9 -2.5 -3.2 0.9 -2.2 -2.1 1.7 -3.4 -1.6 -2.4 -2.7 0.2 -2.1 -2M22.5 27.9q1.6 -3.4 -1.9 -2.5 -3.2 0.9 -2.2 -2.1 1.7 -3.4 -1.6 -2.4 -2.7 0.2 -2.1 -2M1 5.8q-2 -1 -2.7 1.3 -0.7 2 -2.8 0.8 -2 -1 -2.7 0.9 -0.8 2.7 -2.8 1.2M37 5.8q-2 -1 -2.7 1.3 -0.7 2 -2.8 0.8 -2 -1 -2.7 0.9 -0.8 2.7 -2.8 1.2M7.9 -11.3q1.6 -2.9 -1.6 -1.7 -2.5 1.3 -1.3 -1.6 1.2 -2.1 -1.3 -1.3 -3 1.5 -1.4 -1.7M7.9 24.7q1.6 -2.9 -1.6 -1.7 -2.5 1.3 -1.3 -1.6 1.2 -2.1 -1.3 -1.3 -3 1.5 -1.4 -1.7M17 8.1q0.4 2.2 2 1.1 1.7 -1.8 2.2 0.1 0 3.2 1.9 0.8 1.9 -1.7 2.3 0.9M11.4 6.5q-1.9 1.8 1 2 3.2 -0.2 0.2 1.8 -1.2 1.7 1.1 2 2.7 0.1 0.8 2.1M16.8 13.7q1 -3.4 -2.1 -2.1 -3.1 1.6 -2.5 -1.4 0.8 -3.1 -2.2 -2.1 -3 1.6 -2.2 -1.6M8.6 -3.5q1.3 3.1 2.6 0.2 1.3 -2.9 2.6 -0.3 1.3 2.2 2.6 0 1.3 -2.6 2.6 0.3M8.6 32.5q1.3 3.1 2.6 0.2 1.3 -2.9 2.6 -0.3 1.3 2.2 2.6 0 1.3 -2.6 2.6 0.3M10 14.8q-0.3 2.7 2.6 2.2 3.1 -1.3 2.1 2.2 -0.1 2.6 2.7 1.9 3.3 -1.3 2.4 2.5M13.5 1.3q0.9 -2.6 -1.8 -1.4 -1.8 0.8 -1.4 -1.2 0.5 -2.5 -1.4 -1.7 -2.3 0.9 -1.7 -1.4M13.5 37.3q0.9 -2.6 -1.8 -1.4 -1.8 0.8 -1.4 -1.2 0.5 -2.5 -1.4 -1.7 -2.3 0.9 -1.7 -1.4M19.6 12.2q-0.2 -3.1 -2.9 -1.6 -2.4 0.5 -2.9 -1.7 -0.5 -3.1 -3.2 -1.4 -3.2 1.9 -2.9 -1.8M-6.5 15.1q3.1 -0.3 1 -2.7 -2.1 -2.6 1.1 -2.6 2.8 -0.6 1.2 -2.9 -2.6 -2.7 1 -2.5M29.5 15.1q3.1 -0.3 1 -2.7 -2.1 -2.6 1.1 -2.6 2.8 -0.6 1.2 -2.9 -2.6 -2.7 1 -2.5M13.3 5.1q0 -2.6 -2.2 -1.6 -2.2 0.5 -2.5 -1.7 0.9 -3.6 -2.4 -1.2 -2.6 1.1 -2.3 -1.6M-1.5 -1.2q0.3 -2.3 -2 -1.9 -2 0.8 -1.8 -1.6 0.7 -2.7 -2 -1.3 -2.8 1.2 -2 -1.6M-1.5 34.8q0.3 -2.3 -2 -1.9 -2 0.8 -1.8 -1.6 0.7 -2.7 -2 -1.3 -2.8 1.2 -2 -1.6M34.5 -1.2q0.3 -2.3 -2 -1.9 -2 0.8 -1.8 -1.6 0.7 -2.7 -2 -1.3 -2.8 1.2 -2 -1.6M34.5 34.8q0.3 -2.3 -2 -1.9 -2 0.8 -1.8 -1.6 0.7 -2.7 -2 -1.3 -2.8 1.2 -2 -1.6M-3.8 0q-0.4 2.7 2.2 1.5 2.6 -0.7 2.3 2 -0.7 3.2 2.1 1.8 2.4 -0.5 2.4 2.1M-3.8 36q-0.4 2.7 2.2 1.5 2.6 -0.7 2.3 2 -0.7 3.2 2.1 1.8 2.4 -0.5 2.4 2.1M32.2 0q-0.4 2.7 2.2 1.5 2.6 -0.7 2.3 2 -0.7 3.2 2.1 1.8 2.4 -0.5 2.4 2.1M32.2 36q-0.4 2.7 2.2 1.5 2.6 -0.7 2.3 2 -0.7 3.2 2.1 1.8 2.4 -0.5 2.4 2.1M-13.9 5.1q1.2 -3.4 -2.1 -2.4 -2.5 -0.1 -2.5 -2.6 0.1 -2.1 -2.1 -2.4 -3.6 1 -2.7 -2.1M22.1 5.1q1.2 -3.4 -2.1 -2.4 -2.5 -0.1 -2.5 -2.6 0.1 -2.1 -2.1 -2.4 -3.6 1 -2.7 -2.1M13.5 15.5q-2.8 1.6 0.7 2.4 1.5 1 -0.1 2.4 -1.8 1.6 0.3 2.5 2.3 0.9 0.8 2.4M-1 13.7q2.5 3.1 3.2 -0.9 0.9 -3.7 3.4 -0.9 2.1 1.8 3.3 -1 0.9 -2.7 3.3 -0.1M35 13.7q2.5 3.1 3.2 -0.9 0.9 -3.7 3.4 -0.9 2.1 1.8 3.3 -1 0.9 -2.7 3.3 -0.1M-14.6 9.4q1.6 1.9 2.7 -0.3 1.1 -2.7 2.7 -0.7 1.7 2.9 2.8 -0.2 1 -2.5 2.7 -0.4M21.4 9.4q1.6 1.9 2.7 -0.3 1.1 -2.7 2.7 -0.7 1.7 2.9 2.8 -0.2 1 -2.5 2.7 -0.4M15 11.5q1.5 1.4 2.7 -0.2 1.2 -2.1 2.8 0 1.7 2.7 2.7 -0.9 1.1 -3.2 2.7 -0.2M10.3 17.2q-1.2 3.4 2.3 2 2.5 -0.6 1.9 2.2 -1.3 3.4 2.3 2.2 2.7 -1.1 1.8 1.8M16 10.6q2.7 -1.1 0.5 -3.2 -1.2 -1.9 0.8 -3.1 3.9 -0.9 0.9 -3.2 -2.1 -2.1 0.2 -3.2M0.5 19.2q-3.1 1.3 -0.6 3.4 1.8 1.9 -0.6 3.3 -2.2 1.4 -0.6 3.4 1.8 1.9 0 3.4M36.5 19.2q-3.1 1.3 -0.6 3.4 1.8 1.9 -0.6 3.3 -2.2 1.4 -0.6 3.4 1.8 1.9 0 3.4" fill="none" stroke="#101010" stroke-width="1.05"/></pattern>
</defs>
<rect x="41.5" y="56" width="694" height="524.5" fill="none" stroke="#000" stroke-width="2.8"/>
<text x="-1.50" y="38.00" font-size="53" font-weight="bold" text-anchor="start" fill="#1d1d1b" >a</text>
<path d="M98.1,217.3 A80.8,80.8 0 0 1 173.0,106.2 L173.0,129.8 A57.2,57.2 0 0 0 120.0,208.4 Z" fill="#d11f1f"/>
<path d="M173.0,106.2 A80.8,80.8 0 0 1 241.5,229.8 L221.5,217.3 A57.2,57.2 0 0 0 173.0,129.8 Z" fill="#0b7268"/>
<path d="M241.5,229.8 A80.8,80.8 0 0 1 98.1,217.3 L120.0,208.4 A57.2,57.2 0 0 0 221.5,217.3 Z" fill="#2e3a8c"/>
<path d="M98.4 215.4q2 1.5 2.7 -0.9 0.9 -2 2.6 -0.9 1.9 1.1 2.8 -1.2 0.9 -1.3 2.5 -0.3M118.6 207.7q-1.6 -0.7 -2.8 0.2 -1 2.3 -2.7 1.2 -1.5 -0.9 -2.8 0.6 -1.2 1 -2.7 0.6M97.2 212q2 1.3 2.6 -0.9 0.8 -2 2.7 -1.2 1.7 0.7 2.7 -0.6 0.5 -2.7 2.5 -1.5M117.7 205.2q-1.9 -0.3 -2.2 1.3 -0.7 2.1 -2.7 1.7 -2.1 -1.1 -2.4 1.7 -0.4 1.4 -2.4 1.2M95.8 207.2q1.7 0.5 2.7 -0.7 0.9 -1.8 2.5 -1.3 2.1 1.6 2.8 -1.1 0.9 -1.3 2.5 -1M116.7 201.7q-1.4 -1.1 -2.8 0 -1.4 1.1 -2.8 0.2 -1.4 -2 -2.8 -0.2 -1.4 1.1 -2.8 -0.4M95.1 204.3q2.1 1.3 2.5 -1.1 0.7 -2.2 2.7 -1.3 2.1 1.7 2.5 -1 0.7 -2 2.6 -1M116.2 199.6q-1.7 -0.1 -2.4 1.7 -0.2 2 -2.3 1.4 -2.4 -0.9 -2.4 1.5 -0.1 2.4 -2.2 1.9M94.3 200.5q1.3 1.3 2.8 0.5 1.6 -2.1 2.8 0.5 1.2 1.7 2.8 -0.1 1.5 -0.8 2.9 0.7M115.6 196.8q-2 -1.1 -2.5 0.9 -0.8 2.3 -2.6 1.6 -2.1 -1.3 -2.5 1.1 -0.8 1.8 -2.8 0.8M94.1 198.7q1.1 1.4 2.8 0.4 1.6 -0.9 2.8 0.5 1 1.9 2.7 0.6 1.7 -0.7 2.7 1.3M115.4 195.5q-1.4 -1.7 -2.8 0.3 -1.4 0.7 -2.8 -0.6 -1.4 -1.4 -2.8 0.7 -1.4 1.3 -2.8 -0.5M93.6 195.1q1 1.4 2.7 1.1 2 -1.6 2.6 0.9 0.8 2.1 2.6 0.7 2 -1.1 2.7 1.3M115.1 192.9q-1.7 -1.6 -2.8 0.4 -1.1 1.9 -2.7 0.5 -1.7 -1.3 -2.7 0.4 -1.1 2.4 -2.9 0.4M93.3 191.4q1.2 1.8 2.8 0.7 1.5 -1 2.8 -0.2 1.2 2.2 2.8 0.6 1.7 -1.3 2.8 0.7M114.9 190.2q-1 -1.6 -2.8 -0.7 -1.8 1 -2.6 -0.8 -0.7 -2.6 -2.6 -1.1 -2 1.4 -2.8 -1M93.2 188.3q1.6 1.8 2.8 0.1 1.3 -1.8 2.8 -0.7 1.5 1.1 2.8 0.2 1.3 -2.3 2.8 -0.1M114.8 188q-1.6 -0.8 -2.8 0.8 -1.1 1.3 -2.8 0.3 -1.7 -1.1 -2.7 0.4 -1 2.6 -2.8 1.2M93.2 185.3q1 1.4 2.6 1 1.8 -0.8 2.6 0.5 1 1.8 2.7 1 2 -0.9 2.7 1M114.8 185.7q-1.9 -1 -2.6 0.9 -0.7 2.2 -2.7 0.8 -1.9 -0.7 -2.5 1.4 -1 1.5 -2.6 1M93.5 179.8q1.6 0.9 2.8 -0.4 1.1 -1.9 2.8 -0.5 1.6 0.9 2.8 -0.4 1.2 -1.6 2.8 -0.7M115 181.8q-1.7 -1.1 -2.8 0.3 -1 2 -2.7 0.7 -1.8 -1.2 -2.8 1 -0.9 1.9 -2.6 0.5M94 176q0.9 2.1 2.8 1 1.8 -1.9 2.6 0.5 1 2.1 2.9 1 1.8 -1.8 2.7 0.1M115.4 179q-1.3 -1.7 -2.8 -0.2 -1.5 0.8 -2.8 0.1 -1.3 -2.3 -2.9 -0.5 -1.5 1.6 -2.8 -0.1M94.4 173.3q0.6 2.3 2.6 1.3 1.9 -1.2 2.6 0.4 1 1.9 2.8 1.2 2 -1 2.6 1.2M115.7 177q-0.5 -2 -2.6 -1.2 -2.1 1 -2.3 -1.2 -0.5 -2.6 -2.5 -1.5 -2.2 0.8 -2.8 -1.3M95.1 169.9q1.1 1.3 2.6 0.9 1.9 -0.9 2.7 0.9 1 1.8 2.7 0.5 1.9 -0.7 2.8 1.5M116.2 174.5q-0.5 -1.8 -2.4 -1.3 -2 0.2 -2.2 -2.1 -0.5 -1.7 -2.6 -1.1 -2 0.4 -2.1 -1.5M96.1 165.7q1.6 0.9 2.8 -0.3 1.2 -1.6 2.8 -0.5 1.6 0.7 2.8 -0.8 1.1 -1.4 2.7 -0.4M116.9 171.5q-0.9 -1.8 -2.7 -0.8 -1.8 1 -2.8 -0.7 -0.8 -2.2 -2.6 -1.1 -1.9 1.4 -2.7 -1.1M96.7 163.8q0.3 2.3 2.3 1.2 2 -0.3 2.5 1.3 0.4 2.7 2.5 1.3 2 -0.1 2.5 1.5M117.3 170.1q-1.5 -1.8 -2.8 -0.1 -1.4 1.4 -2.8 0.2 -1.5 -0.7 -2.8 0.2 -1.3 2.2 -2.9 0.6M98 159.7q0.4 2 2.3 1.3 1.8 0.1 2.6 1.4 0.2 2.4 2.2 1.9 1.8 -0.2 2.5 1.3M118.3 167.1q0.1 -2.5 -2 -1.4 -1.9 -0.3 -2.2 -1.9 -0.3 -2.3 -2.6 -1.7 -2 0.3 -2.2 -1.8M98.8 157.7q0.2 2.4 2.5 1.4 2 -0.7 2.3 1.3 0.6 1.9 2.4 1.4 2.2 -0.6 2.3 2M118.9 165.6q0 -2.2 -2.2 -1.9 -2 0.3 -1.9 -1.9 -0.6 -1.6 -2.2 -1.8 -2.5 0.7 -2.2 -1.6M101.2 152.2q-0.2 2.2 1.9 2.1 2.1 -0.1 2 1.6 0.2 2.2 2.1 2 1.9 0.3 1.9 2.3M120.6 161.6q-0.9 -2.3 -2.7 -0.5 -1.8 1.2 -2.8 -0.8 -1.1 -1.6 -2.7 -0.7 -1.8 1.5 -2.8 -0.9M101.7 151.2q0.2 2.3 2.5 1.4 1.6 0 2.4 1.5 0.5 1.7 2.4 1.9 1.9 -0.8 2.3 1.6M121 160.9q-0.2 -2.5 -2.4 -1.6 -1.8 0.4 -2.5 -1.4 -0.8 -1.4 -2.3 -1 -2.1 0.3 -2.7 -1.6M104.2 146.6q1.1 2.2 2.8 0.4 1.6 -1.4 2.8 0.2 1.1 2 2.8 0.4 1.7 -1.4 2.8 0.2M122.8 157.5q-1.1 -1.3 -2.8 -1.1 -1.7 1.1 -2.5 -0.9 -1.2 -1.2 -2.7 -1 -1.8 0.9 -2.7 -0.5M105.8 143.9q-0.2 1.8 1.6 2.5 2.3 0 1.6 2.4 -0.8 2 1.5 2 2.2 0.4 1.7 2.4M124 155.6q-1.1 -1.8 -2.8 -0.5 -1.6 1.4 -2.7 -0.4 -1.1 -2 -2.8 -0.9 -1.7 1.5 -2.7 -0.6M108.2 140.4q0.9 1.5 2.5 1.3 2.1 -1.2 2.8 0.7 0.6 2.3 2.5 1.3 2 -1.1 2.5 0.8M125.8 153q-0.5 -2.5 -2.5 -1.4 -1.8 0.6 -2.9 -0.7 -0.6 -2 -2.4 -1 -1.9 0.6 -2.8 -1.1M110.3 137.7q0 2.2 2.2 1.8 1.8 0.1 2.2 2 -0.3 2.2 2.3 1.5 2.1 -0.3 1.9 2.2M127.2 151q-0.7 -1.9 -2.7 -1.4 -1.8 0.9 -2.5 -1.3 -0.8 -1.4 -2.6 -1 -2.1 1.4 -2.6 -0.9M111.5 136.2q-0.1 1.7 1.8 2.4 1.7 0.4 1.1 2.3 -0.7 2.2 1.9 2.4 1.9 0.4 1.5 2.4M128.1 149.9q0.5 -2.2 -1.9 -2 -1.8 -0.4 -1.5 -2.3 -0.2 -1.8 -1.8 -2.3 -2.6 0.2 -1.6 -2.4M114.4 132.8q-0.3 1.9 1.6 2.4 2.3 0.2 1.1 2.3 -0.1 2 1.9 2.4 1.8 0.5 1.5 2.3M130.3 147.5q0.4 -2.3 -1.9 -2.2 -2.1 0.3 -2.2 -2 0.6 -2.2 -1.9 -1.6 -1.9 -0.2 -1.8 -2.3M118 129.2q-0.7 2.2 1.9 2.3 2 0 1.6 2.1 -0.9 2.4 1.1 2.3 2.4 0.4 2.2 2.6M132.9 144.9q0.1 -1.8 -1.8 -2.4 -1.9 -0.1 -1.3 -2.1 0 -2 -1.5 -2.4 -2.3 -0.2 -1.9 -2.3M120 127.3q-0.8 1.8 0.8 2.7 2.5 0.6 1 2.7 -1.1 1.9 0.9 2.6 2.3 0.7 1.2 2.7M134.4 143.5q0 -2 -2.2 -2.1 -2.3 0.6 -1.9 -1.7 -0.1 -2 -2 -2.1 -2.4 0.4 -2.2 -2M121.5 126.1q-0.8 2.2 1.7 2.2 1.8 0.6 1.3 2.7 0 1.5 1.9 2.1 1.5 0.7 1.4 2.6M135.4 142.6q0.1 -1.8 -1.8 -2.2 -1.5 -0.6 -1.3 -2.3 0.3 -2.1 -1.6 -2.4 -2 -0.5 -1.6 -2.5M124.7 123.5q-0.9 2.3 1.6 2.2 1.6 0.7 1.3 2.6 0 1.8 1.9 2.2 1.8 0.4 1.3 2.4M137.8 140.7q-0.5 -1.6 -2.2 -1.7 -2.3 0.4 -2.1 -1.9 -0.5 -1.7 -2.5 -1.6 -1.7 -0.1 -1.8 -1.9M128.3 120.9q-1 1.6 0.4 2.7 2.1 1.1 0.9 2.9 -2.1 1.7 -0.2 2.7 1.7 1.2 0.5 2.8M140.4 138.8q0.4 -2 -1.3 -2.4 -2.7 0 -2.1 -2.4 0.5 -1.8 -1.2 -2 -2.6 -0.3 -2.1 -2.5M131 119.2q-0.2 2.4 2.2 1.7 1.6 0.3 2.1 2 -0.2 2.3 2.1 2 1.7 0 2.1 1.7M142.4 137.5q1.7 -1.7 -0.3 -2.7 -1.7 -1.3 -0.4 -2.8 1.2 -1.7 -0.6 -2.8 -2.2 -1.1 -0.1 -2.8M134.3 117.2q-0.1 1.9 1.8 2.1 1.9 0.4 1.9 2.4 -0.1 1.8 1.9 2.2 1.7 0.1 1.3 2.1M144.7 136.1q0.8 -1.7 -0.6 -2.6 -1.7 -1.1 -1.4 -2.8 1.5 -1.8 -0.8 -2.6 -2 -0.8 -0.6 -2.6M136.4 116.1q0.2 1.7 2 1.8 2.4 -0.2 2 2.3 -0.3 2.2 1.8 2.2 2.1 -0.1 2.2 1.8M146.3 135.3q-0.2 -2 -2.1 -2.1 -2.4 0.9 -2.2 -1.5 -0.6 -1.5 -2.4 -1.6 -2.1 0.3 -2.3 -1.8M140.3 114.2q-1.6 1.7 0.4 2.7 2.1 1.1 0.2 2.8 -0.7 1.6 0.8 2.7 2 1.1 0.1 2.8M149.2 133.9q1.5 -1.8 -0.9 -2.8 -1.7 -0.9 -0.7 -2.6 1.1 -1.7 -0.4 -2.9 -1.6 -1 -0.4 -2.7M143.5 112.9q-0.7 2.4 2.1 2.4 1.9 -0.1 1.6 2 0 1.8 1.6 2.4 2.6 -0.4 2 1.7M151.5 132.9q1.1 -1.5 0 -2.8 -2 -1.3 -0.3 -2.8 1.2 -1.6 -0.9 -2.8 -0.9 -1.3 0.5 -2.9M147.3 111.4q-0.8 2.1 1.2 2.4 2.3 0.5 1.3 2.3 -0.1 2 1.6 2.5 1.8 0.7 1.3 2.5M154.3 131.9q0.7 -1.7 -0.8 -2.6 -2.1 -0.9 -1.3 -2.8 0.9 -1.6 -0.2 -2.7 -2.2 -0.9 -1.3 -2.7M150.8 110.4q-1.7 1.5 0.2 2.8 2 1.3 -0.1 2.8 -1.1 1.5 0.4 2.8 1.7 1.3 0.2 2.8M156.8 131.1q1.4 -1.3 -0.2 -2.8 -1.5 -1.6 0.7 -2.8 1.7 -1.3 -0.1 -2.8 -0.7 -1.5 0.1 -2.8M153.7 109.6q-0.4 1.7 0.8 2.7 1.7 0.9 1.2 2.6 -0.8 1.7 1.1 2.8 2.1 0.6 0.5 2.7M158.9 130.5q1.3 -1.9 -1.1 -2.7 -1.7 -0.8 -0.4 -2.5 1 -2 -1.5 -2.8 -2.1 -0.7 -1 -2.6M156.6 108.9q-0.4 1.7 0.7 2.7 2.1 0.7 1.4 2.6 -0.5 1.6 1.2 2.7 1.3 0.8 0.6 2.7M161 130q1.7 -1.1 0.4 -2.8 -1.4 -1.8 1.1 -2.8 1.8 -0.9 0.2 -2.7 -0.7 -1.6 1 -2.7M159.8 108.3q-1.1 1.5 -0.2 2.8 1.4 1.4 0.3 2.8 -1.7 1.5 0 2.8 1.4 1.3 0.3 2.8M163.4 129.6q0.7 -1.6 -0.8 -2.7 -1.8 -1 -0.6 -2.7 1.1 -1.7 -0.2 -2.9 -1.7 -1 -0.6 -2.8M164.4 107.7q-0.7 1.8 0.6 2.7 2 0.9 1.2 2.5 -1.4 2.1 1.1 2.8 1.9 0.8 1.3 2.7M166.7 129.1q0.7 -1.7 -0.6 -2.6 -1.8 -1.1 -0.9 -2.7 0.6 -1.8 -1 -2.7 -2.3 -0.8 -0.5 -2.7M167.6 107.4q-1.6 1.2 -0.8 2.8 1.2 1.6 -0.1 2.8 -1.5 1.2 -0.5 2.8 1.4 1.7 -0.3 2.8M169 128.9q1.6 -1.3 0.6 -2.8 -2.1 -1.6 -0.4 -2.8 1.6 -1.3 0.5 -2.8 -1.7 -1.6 0.5 -2.9M171.2 107.2q-1.2 1.8 0.7 2.6 1.9 1 0.6 2.8 -1.3 1.9 1.2 2.6 1 1.2 0.5 2.8M171.7 128.8q1.1 -1.5 0 -2.8 -2.3 -1.3 -0.4 -2.8 1.7 -1.5 -0.5 -2.8 -1.2 -1.3 -0.4 -2.8" fill="none" stroke="#141414" stroke-width="0.95"/>
<path d="M173.0,106.2 A80.8,80.8 0 0 1 241.5,229.8 L221.5,217.3 A57.2,57.2 0 0 0 173.0,129.8 Z" fill="url(#pt)"/>
<path d="M241.5,229.8 A80.8,80.8 0 0 1 98.1,217.3 L120.0,208.4 A57.2,57.2 0 0 0 221.5,217.3 Z" fill="url(#pt)"/>
<path d="M143.9 260.8q-2.3 0.2 -0.5 1.9 0.6 1.6 -1 2.2 -2.6 0 -1.3 1.8 1 1.6 -0.5 2.1M213 255.5q-1.9 0.8 -0.3 1.8 1.5 1 0.2 1.8 -1.3 0.9 0.1 1.8 1.1 1 -0.2 1.8M178.1 266.1q-1.7 2.2 0.8 1.6 1.9 -0.2 1.3 1.4 -0.9 1.6 0.9 1.7 1.9 -0.4 1.1 1.5M145.6 261.4q-1.8 1.6 0.8 2.3 2 0.7 -0.1 2.3 -1.9 1.6 0.8 2.3 2.6 0.7 0.6 2.4M213.2 255.4q-0.8 2.1 1.5 1.4 1.6 0 1.1 1.6 -0.7 2.1 1 1.7 2.8 -0.9 1.8 1.4M232.6 239.4q-0.6 1.8 1.6 1.7 1.6 0.2 1.1 2.2 -1.2 2 1.4 1.6 1.6 0.2 0.9 1.9M122 247.7q-1.9 -0.1 -2.5 1.8 -0.6 1.8 -2.8 1.8 -2.4 -1.2 -2.4 1.9 -0.3 2 -2.4 1.7M222.6 248.9q-0.9 1.6 1 1.5 1.6 0 0.8 1.4 -1.3 2.1 1 1.5 1.8 0.1 1.2 1.8M181.5 265.8q-1.1 1.8 0.9 2.9 1.6 1.1 0.9 2.9 -2 2.1 0.3 3.1 3 0.8 0.9 2.9M104.6 227.1q-2.5 -0.3 -2 1.9 0.5 2.2 -1.6 2.5 -2.2 -0.3 -1.6 2.1 0.4 1.9 -1.7 1.9M202.9 260.4q-0.4 2.2 1.9 1.7 1.7 -0.4 1.7 1.4 -0.6 2.2 1.7 1.8 2.2 -0.8 1.5 1.7M238 232.4q0.4 1.6 2.1 0.7 1.8 -0.8 2 1.3 0.3 2 2.2 0.7 1.7 -0.6 1.8 1.4M205.9 259.2q-1.6 1.4 0.4 2.1 2 0.5 0.5 2 -2 1.4 0.4 1.9 2 0.6 0.6 1.9M113.9 239.9q-1.8 -2.1 -2.1 0.9 -0.7 1.9 -2.3 0.4 -1.8 -2.3 -2.2 0.7 -0.8 1.5 -2.3 0.6M240.2 229.2q0.1 1.9 1.9 1.4 2.1 -1 1.8 1.3 -0.4 2.6 1.7 1.2 2.1 -0.6 1.9 1.3M129.1 253q-2.8 -1 -2.2 2.1 0.6 2.3 -1.8 1.6 -2.2 -0.3 -1.9 1.8 0.2 2.5 -2 2.2M195.4 263.1q-0.2 1.8 1.8 1.7 1.5 0.4 1.2 2 -0.5 2.3 1.5 2.1 2 0.1 1.5 2.1M234.8 236.7q0.3 2.6 2.3 1.1 1.7 -1.1 2.2 0.6 0.6 2.1 2.3 1.3 2.1 -2 2.4 0.6M130.4 253.9q-2.7 -0.4 -1.7 2.3 0.4 2.5 -2 2.3 -2 0.2 -2.2 1.8 1.1 3.1 -1.7 2.4M179 266.1q-2.6 0.9 -0.6 2.4 2.5 1.3 0.5 2.3 -2 1 -0.7 2.3 1.4 1.3 0.1 2.4M157.3 264.7q-1.8 0.8 -0.6 2.2 1.6 1.5 -0.1 2.3 -2.6 0.7 -0.9 2.3 2.3 1.5 -0.1 2.2M223.1 248.5q-0.4 2.7 1.8 0.9 1.4 -0.7 1.7 0.6 -0.2 2.6 1.8 1.3 1.4 -1 1.7 0.8M188.4 264.8q-0.7 1.4 0.6 1.5 1.8 0.3 1.4 1.7 -2.1 2.1 0.8 1.8 1.9 -0.2 0.7 1.6M183.1 265.7q-0.9 2.3 1.5 1.9 2.9 -0.5 1.4 2.4 -0.4 1.9 1.6 1.9 2.1 0 2.1 1.7M226.9 245.2q0.4 2.5 2.2 0.7 1.4 -0.8 2.2 1 0.7 1.1 2.1 0.6 1.8 -2.1 2.1 0.4M117.1 243.3q-2.3 -1.9 -2.5 0.8 -0.8 2.5 -2.8 1.6 -2.2 -2 -2.4 0.8 -0.9 2 -2.8 1.2M138.1 258.2q-2.3 -0.8 -1.6 1.7 0.8 2.5 -1.7 1.6 -2 -0.7 -1.9 1.5 0.8 2.3 -1.6 1.3M218.8 251.7q0.1 1.9 1.8 0.5 1.7 -0.9 1.8 1.1 -0.1 2.3 1.5 0.8 2.2 -1.5 2 1.3M228.2 243.9q-2.4 1.6 0.6 2.3 2.2 0.8 0.4 2.3 -2.2 1.6 -0.2 2.3 2 0.9 0.9 2.4M222.9 248.6q-1.3 2 1.3 2 2.5 -0.3 0.7 2 -0.8 1.9 1.3 1.8 2.7 0 1.1 2.1M136.8 257.5q-1.8 0.5 -0.9 2.1 1.4 1.8 -0.4 2.1 -2.5 0.4 -1.3 2.2 2 2 -0.5 2.2M98.9 215.3q-1.3 -2.2 -2.2 0.2 -0.9 2.5 -2.2 -0.3 -1.3 -1.4 -2.2 0.3 -1 2.5 -2.2 0.2M117.8 243.9q-2 0.3 -2.5 2.1 0.2 2.3 -2.2 2.4 -2.3 -0.3 -2.3 2.4 0.2 2.1 -2.1 2.3M155.1 264.3q-1.9 0.2 -1.5 1.9 1.5 2.5 -1.2 2 -2.6 -0.1 -1.1 2.3 0.2 1.7 -1.3 2.1M109.9 235.1q-1.3 -1.1 -1.9 0.2 -0.5 2.5 -2 1.1 -1.5 -2.7 -1.7 0 -0.4 2.7 -2 0.8M136.3 257.3q-1.9 0.2 -0.6 1.6 1 1.5 -0.9 1.6 -1.6 0.3 -0.3 1.6 1.1 1.6 -0.7 1.8M102.7 223.7q-1.6 -1 -2.3 0.6 -0.2 2.7 -2 1.1 -1.7 -1.4 -2.1 0.5 -0.6 2.2 -2.3 0.9M172.4 266.3q-1.7 1.5 -0.2 3.1 2.2 1.6 0.3 3.1 -1.8 1.5 -0.5 3.1 2.1 1.6 -0.1 3.1M125.1 250.2q-1.7 0 -1.6 1.8 0.4 2 -2 1.7 -2.2 -0.8 -1.5 1.8 0.5 2 -1.4 1.4M207.5 258.4q-1.5 2.2 0.9 2 2.5 -0.1 1.7 2.1 -0.8 1.5 1 1.7 2.4 -0.2 1 1.9M106.5 230.3q-1 -2.1 -1.8 0.2 -0.8 1.8 -1.8 -0.2 -1 -1.9 -1.8 -0.2 -0.8 3.1 -1.8 0.2M139.2 258.8q-2 0.5 -2 2.5 0.6 2.5 -1.9 2.2 -2.3 0.6 -2.1 2.9 0.3 2.2 -2.3 2.5M220.3 250.6q-1.4 2.2 1.4 2.5 2.4 0.1 0.8 2.1 -0.9 2.1 1.7 2.6 2.6 -0.1 0.5 2.1M190.9 264.2q-1.1 1.5 0.2 2.5 2.3 0.9 1 2.5 -1.4 1.5 0.5 2.5 1.5 1 -0.1 2.4M179.9 266q-0.9 1.9 1.2 1.7 2.6 -0.6 1.5 1.9 -0.8 1.5 0.7 1.5 2.3 -0.2 1.5 1.8M100.9 220.1q-1.5 -0.7 -1.7 0.7 0.5 2.5 -1.3 1 -1.5 -0.5 -1.5 1.1 0.4 2.6 -1.7 0.5M235.6 235.7q0 1.8 1.8 1.3 1.5 -1.2 1.4 0.8 -0.5 2.5 1.4 0.9 2 -1.2 1.6 0.9M199.7 261.7q-1.6 1.2 0.2 2.1 1.7 1 0.1 2.1 -1.2 1.1 -0.2 2.1 2.3 1 0.3 2.1M212 256q0.1 2 1.9 1 2.2 -1.1 1.9 1.1 0 2.4 1.7 1.2 2.3 -0.8 1.9 1.5M147.8 262.2q-2.2 0.7 -0.4 2.2 1.8 1.4 -0.3 2.1 -1.4 0.9 0 2.2 1 1.3 -0.9 2.1M110.4 235.7q-2.3 -0.8 -1.3 1.3 0.7 2.7 -1.7 1.9 -2.5 -1 -1.8 1.3 0.3 1.7 -1.5 1.9M143.3 260.5q-2.6 0.5 -1 2.6 1 2.5 -1.7 3.1 -2.6 0.2 -1.2 2.6 1.6 2.6 -1.7 3M119.9 245.9q-2.2 0.1 -1.7 2.3 0.1 1.9 -1.7 2.1 -2 0.5 -1.6 2.2 0.6 2.6 -2 2.6M226.9 245.1q0.2 2.5 2.4 1.6 2.5 -0.4 2.8 2.2 0.6 1.7 2.5 1.5 2.1 -0.1 2.8 1.7M135.4 256.8q-2.2 -1.2 -2.1 1.1 -0.4 1.9 -2.3 1.7 -2 -1.3 -1.9 1.2 -0.4 1.7 -2.2 1.1M161.2 265.4q-2.4 1.3 0.1 2.6 1.7 1.3 -0.5 2.6 -1.8 1.3 0.6 2.6 2 1.3 -0.3 2.6M233.6 238.2q-1.5 2 1.1 2.1 2.2 0.1 0.7 2.2 -0.8 1.7 1.4 1.8 2.5 0.1 1.3 2.1M111.8 237.5q-2.3 0.7 -0.9 2.7 0.9 1.7 -1.2 2.5 -2.3 0.7 -0.2 2.6 0.7 1.8 -0.9 2.7M145.8 261.5q-1.9 1.7 0 2.9 2.7 1.1 0.7 2.8 -2.2 1.6 0.4 2.8 2.2 1.1 0.3 2.8M238.3 232q-0.1 1.9 1.8 1.1 1.9 -0.6 1.7 1.4 -0.2 2 1.6 1.7 1.7 -0.7 1.5 1.3M145.9 261.5q-2.3 0.5 -1.2 2.5 1.7 2.3 -0.8 2.9 -3.1 0.2 -1.2 2.4 0.7 2 -1.2 2.7M127.1 251.7q-1.9 -1.3 -2.2 1.2 -0.2 2.7 -2.2 0.5 -2.1 -1.1 -2.3 1 -0.8 2 -2.4 1.6M99.2 216q-1.9 -0.2 -2.6 2 -0.5 1.5 -2.4 1.1 -2.5 -0.6 -2.6 1.9 0 2.6 -2.1 1.9M217.8 252.5q-1 2 1.4 2 1.9 -0.1 1 1.6 -1 2.1 1.2 2.3 2.3 -0.3 1.5 1.6M193.6 263.6q-2.6 1.6 -0.3 3.1 2.8 1.5 0.1 3.1 -1.5 1.6 0.3 3.1 2.2 1.5 0 3.1M230.9 241.1q0.3 1.9 2.5 2.4 2.7 -1 2.3 1.7 -0.8 3.1 1.9 2.5 2.6 -0.4 2.2 2.4M240.2 229.1q1.4 2.7 2.9 0 1.5 -1.5 2.9 -0.2 1.4 2.7 2.9 0.5 1.5 -2 2.9 0.2M172.7 266.3q-0.9 1.9 1.2 2.8 2 0.9 0.5 2.9 -0.7 2 1.1 2.9 2.4 0.9 1.3 3M217.8 252.4q-0.1 2 1.6 1.4 2.4 -1.3 1.8 0.9 -0.5 2.8 1.9 1.4 1.8 -0.6 1.4 1.4M190 264.5q-2.1 1 -0.6 3 1.5 2.3 -1.1 3.1 -2.2 1.1 -0.9 3.1 1.6 2.2 -1 3M238.9 231.1q0.3 1.7 1.7 1 1.9 -0.3 1.9 1.8 -0.3 2.5 2.2 1.3 1.6 -0.8 1.8 1.3M216.6 253.2q-0.1 2.8 2.2 1.7 2.2 -1.2 2.5 0.8 0.3 2.3 2.1 1.4 2.1 -0.2 2.6 1.4M198.4 262.1q-0.8 2 1.2 1.5 2.4 -0.8 1.3 1.7 -0.3 1.3 1.5 1 1.7 -0.1 0.9 1.9M164 265.8q-1.6 1.7 0.8 2.2 2.7 0.2 0.5 2.1 -2 1.8 0.7 2 2.8 0.4 0.3 2.1M122.4 248.1q-1.7 0 -0.8 1.4 0.5 1.7 -0.9 1.8 -2.8 -0.6 -1.3 1.4 1.1 1.8 -0.8 1.8M198.9 262q-0.5 2.3 1.7 1.3 2.1 -0.9 1.7 1.3 -0.8 2.7 1.5 1.4 2.1 -0.8 1.7 1.3M105.1 227.9q-2.9 -0.4 -2.2 2.5 0.7 2.2 -2.1 2.3 -1.8 0.2 -1.9 2.4 0.7 2.4 -1.7 2M202.2 260.7q0 2.2 2.1 1.8 2.7 -1.1 2.1 1.7 0.3 1.8 2.1 1.7 2.3 -0.5 2 1.9M230.5 241.6q-0.6 2.4 1.5 1.6 2.4 -0.3 2.3 2 -0.4 1.8 1.4 1.7 2.1 -0.4 1.7 1.5M177.8 266.2q-1.9 1.5 0 3.1 2.4 1.6 0 3.1 -1.4 1.5 0.2 3.1 2.1 1.6 -0.6 3.1M133.7 255.9q-2.6 -0.9 -2.3 2 0.6 2.5 -1.9 1.7 -2.8 -1.2 -2 1.6 -0.3 2.2 -2.5 1.7M105.3 228.3q-1.4 -1.2 -2.7 0.4 -1.3 2.3 -2.7 -0.1 -1.4 -1.5 -2.7 -0.3 -1.3 2.9 -2.7 0.6M127.5 251.9q-2.4 1.3 -0.4 3 2.1 1.7 -0.3 3 -1.6 1.4 0.2 3 1 1.6 0 3M211.1 256.5q-1.6 2 0.9 2.7 1.9 0.9 1.1 2.8 -1.9 2 0.3 2.7 3.2 0.6 0.9 2.7M101.8 221.9q-2.2 -1.7 -3 1.1 -0.9 2.2 -3 1.1 -2.2 -2.2 -3 0.6 -0.8 2.6 -2.9 1.2M150.7 263.1q-1.2 1.2 0.4 2.2 1.6 1.1 -0.6 2.2 -1.4 1.2 0.5 2.2 1.8 1.1 -0.4 2.2M176.6 266.2q-2.2 1 -0.6 2.7 2.3 1.9 -0.2 2.9 -3.1 0.9 -0.7 2.9 2 1.8 -0.1 2.8M155.7 264.4q-2.2 1.5 0.3 2.8 2.1 1.3 -0.1 2.8 -1.5 1.5 0.6 2.8 2.4 1.2 -0.5 2.8M232.8 239.1q0.5 2.2 2.6 1.1 2 -1.2 2.3 1.1 0.4 2.6 2.5 1.3 1.8 -0.6 2.5 0.8M234.6 236.9q0 1.5 1.5 1.1 1.4 -0.5 1.1 1.3 -0.2 1.8 1.6 0.7 2.3 -1.4 1.6 1.1M212.3 255.9q-1.7 1.4 0.3 2.5 1.5 1.1 -0.1 2.5 -1.5 1.4 0.5 2.5 1.8 1.1 0.2 2.5M180.4 266q-1.3 2 1 2.8 2.2 0.7 1 2.7 -2.1 2.1 0.6 2.6 2.7 0.7 1 2.7M127.9 252.2q-2.1 -1.4 -2.5 1 -0.7 2 -2.6 1.2 -2.2 -1.8 -2.3 1 -0.8 1.8 -2.5 1.1M206.2 259q-1.4 1.5 0.2 1.9 3.1 0.3 1.3 2.1 -2.3 1.7 0 1.9 2.5 0.4 0.7 2.1M124.6 249.9q-2.3 -0.7 -1.5 1.5 1.2 2.6 -1.2 1.4 -2.1 -0.2 -1.8 1.5 0.5 2.1 -1.4 1.8M165.6 265.9q-2 2 0.7 2.5 2.8 0.6 1 2.5 -1.6 2 0.8 2.6 2.9 0.4 0.7 2.6M190.7 264.3q-1.7 0.8 -0.3 1.8 2.5 1.2 0.1 1.9 -1.9 0.8 -0.3 1.9 1.6 1.1 -0.3 1.9M197.7 262.3q-1.7 1.3 -0.2 3.1 0.8 1.7 -0.9 3 -1.5 1.4 -0.2 3.1 0.9 1.7 -0.7 3.1M213.8 255q-1.2 1.8 0.5 2.6 2.5 0.9 1.2 2.7 -2 2 0.6 2.7 3 0.5 1.1 2.6M144.2 260.9q-1.6 1.7 0.2 3.1 2.4 1.4 -0.2 3.2 -1 1.6 0.6 3.1 1.4 1.5 -0.2 3.2M211.5 256.4q-1.1 2.2 1.6 1.7 1.3 0 0.8 1.6 -0.7 2.1 1.8 1.4 1.7 0 0.7 1.9M110.2 235.4q-1.4 0.5 -0.9 1.9 1.2 1.4 -0.7 1.6 -1.7 0.3 -0.6 1.9 1.5 1.6 -0.6 1.7M207.9 258.2q-0.2 1.6 1.5 1.7 1.8 -0.2 1.5 1.8 -0.9 1.8 1.2 1.3 2.6 -0.7 1.2 1.8M137.7 258q-2.2 -0.2 -1.5 1.9 0.6 2.1 -1.7 1.9 -2.6 -0.5 -1.8 2.1 0.3 1.6 -1.2 2M118 244.1q-1.7 -0.5 -1.9 1.1 0.7 2.6 -1.6 1.4 -1.9 -0.6 -1.6 1.4 0.6 2.7 -2 1.1M113.2 239.1q-2.8 0.1 -0.7 2 1.2 1.5 -0.9 2 -2.6 0.1 -0.1 1.9 0.4 1.5 -0.7 2.2M140.9 259.5q-2.5 1.4 0.2 2.6 2.1 1.1 0 2.5 -1.7 1.4 -0.1 2.6 1.9 1.2 0.5 2.6M193.4 263.6q-0.9 1.5 0.7 2.7 1.4 1.1 0.6 2.6 -1.7 1.6 -0.3 2.6 1.9 1.1 0.7 2.6M115.7 241.8q-1.8 -0.4 -2.3 1.1 -0.8 2.1 -2.6 1.9 -2 -0.9 -2.6 0.7 -0.5 2.4 -2.4 1.4M217.8 252.4q-1.8 2.3 1.4 2.4 1.8 0.5 0.5 2.3 -1.2 2.2 1.6 2.5 2.7 0.1 1.1 2.3M104.7 227.3q-1.3 -1.1 -1.7 0.7 -0.2 2.4 -1.9 0.1 -1.5 -1.4 -1.7 1 -0.1 2.3 -1.7 0.8M166.1 266q-1.1 1.3 0.5 2.5 1.4 1.1 -0.1 2.5 -2.1 1.4 -0.3 2.5 2.3 1.2 0.5 2.5M153.4 263.8q-2.2 1.2 0.5 2 0.9 0.9 0.1 2 -2.6 1.2 -0.2 2 2.5 0.8 0.1 2M114.4 240.4q-1.5 0.5 -0.4 1.7 0.8 1.7 -0.8 2.1 -2.9 -0.2 -1.2 1.6 0.8 1.5 -0.4 2M216.8 253.1q-0.1 2.3 1.9 0.8 1.7 -1 1.7 1 -0.1 2.5 1.7 1.2 1.8 -1 2 1.2M216.5 253.3q-1.1 2.4 1.2 1.2 2.1 -0.7 1 1.1 -0.3 2 1.4 1.4 2.3 -0.9 1.1 1.1M202.2 260.7q-1 2.5 1.5 2.5 2.1 0.1 1.9 2.3 -1.1 2.3 1.9 2.4 2.4 -0.4 1.2 2M146.5 261.8q-2.4 -0.6 -2.6 1.6 0.5 3.2 -2.3 1.9 -2 0.2 -2.3 2.1 -0.4 2 -2.6 2.2M142.7 260.3q-2.2 0.9 0 2.2 2 1.4 -0.9 2.2 -1.4 0.9 0 2.2 2.4 1.4 0.1 2.2M192.9 263.8q-0.1 1.4 1.4 1 2.3 -1.3 1.2 1 -0.7 2.5 1.5 1.4 2 -1.1 1 1.4M178.7 266.1q-1.2 1.6 0.5 2.2 2.6 0.5 1.1 2.3 -2.4 1.8 0.6 2.2 1.4 0.7 0.8 2.2M218 252.3q-1.6 1.9 0.5 2.3 2 0.9 1.5 2.6 -2.2 2 0.3 2.5 2.9 0.4 1.1 2.3M140.6 259.4q-1 1.2 0.6 2 1.8 0.8 0.4 2.1 -2.5 1.4 0.2 2 2.2 0.7 0 2.2M155.3 264.3q-2.5 0.7 -1.3 2.9 2.1 2.1 -0.7 2.8 -1.5 1 -0.8 2.9 1.4 2 -1 2.8M234.2 237.5q0.8 2.4 2.5 0.9 1.7 -1.5 2.7 0.4 0.7 2.6 2.6 0.9 1.7 -1.8 2.6 0.3M189.8 264.5q-2 0.2 -0.4 1.6 0.6 1.4 -0.8 1.8 -2.5 0 -1.2 1.7 1.3 1.4 -0.4 1.5M213.5 255.2q0.6 2.3 2.9 1 2.3 -1.4 2.5 1.2 0.5 2.9 2.9 1.6 2.2 -1.2 2.8 1.6M193.7 263.6q-0.1 1.9 2.1 2.3 2.1 -0.2 1.3 2.3 0.1 1.9 2.4 2.1 2.1 -0.1 1.7 2.4M214.2 254.7q-2 1.8 0.3 1.8 2.2 0.2 0.8 1.8 -1.7 1.6 1.2 1.6 1.3 0.4 0.3 1.9M109.9 235q-2.1 0.1 -1.3 2 0.9 2.5 -1.6 2.2 -2.6 -0.3 -1.7 2.1 0.5 1.8 -1.1 2.2M114.3 240.3q-2.1 -0.3 -1.9 2 0.7 2.6 -2.1 1.8 -2.4 -0.9 -2 1.5 0.6 2.7 -2 1.7M100.5 219.1q-2 -0.8 -2.3 1.5 -0.1 2.4 -2.3 1.4 -2.4 -1.5 -2.5 1.1 0.2 2.9 -2.2 1.4M207.6 258.4q-1.2 2.2 0.9 1.4 2.2 -0.2 1.7 1.4 -1.3 2.2 0.7 1.5 2 0 1.3 1.6M108.6 233.2q-1.9 -0.1 -1.6 1.8 0.2 1.9 -1.9 2 -2.2 -0.9 -1.7 1.6 0.4 1.8 -1.3 1.9M118.5 244.6q-1.8 -0.8 -1.4 1.2 0.1 1.4 -1.3 1.1 -2.4 -1.5 -1.3 0.8 0.8 2.7 -1.5 1.6M116.5 242.7q-1.6 0.9 -0.4 2.5 0.6 1.6 -1.4 2.4 -2.4 0.5 -0.7 2.4 2 1.9 -0.4 2.4M136.2 257.2q-1.8 1.1 -0.2 2.5 2.1 1.4 -0.2 2.5 -2.4 1.1 0.2 2.6 0.8 1.3 -0.2 2.5M198 262.3q-1.4 1.9 1.1 2.3 1.8 0.4 0.5 2.3 -0.3 1.5 1.2 2 2.8 0.3 1.3 2.3M121.6 247.4q-2.2 -0.4 -2 2 0.3 2.1 -1.8 1.6 -2 0.1 -1.9 2.1 0.1 2.2 -2.2 2M99.3 216.3q-1.1 -1.4 -2.3 -0.5 -1.2 1.8 -2.3 0.1 -1.1 -2.3 -2.3 0.5 -1.2 1 -2.3 -0.7M105.4 228.5q-1.7 -0.9 -1.5 1 0.3 2.5 -1.9 1.2 -1.7 -1 -1.5 1.1 0.2 2 -1.7 0.8M195.2 263.1q-1 1.2 0.5 1.9 1.3 0.7 0.6 1.9 -2.7 1.5 -0.2 1.9 2.1 0.7 0.8 2M224.5 247.3q-0.6 2.2 1.9 2.3 1.6 0.8 1.3 2.5 -0.8 2.6 1.6 2.4 2.2 0.6 2 2.8M126 250.9q-2 0.5 -0.9 2.1 0.9 1.8 -1.2 2.2 -2.1 0.5 -1 2.2 1.2 1.8 -0.9 2.5M116.9 243.1q-2.1 0.5 -1 2 1.3 1.5 -0.7 2 -1.9 0.5 -0.1 2.2 0.8 1.5 -1 1.9M148.3 262.3q-1.8 -0.3 -1.4 1.5 0.7 1.6 -0.8 1.6 -2.2 -0.7 -1.5 1.2 0.9 2 -1.1 1.6M135.4 256.8q-2 0.7 -0.5 2.5 1 1.5 -0.7 2.3 -1.6 0.7 -0.9 2.4 2 1.8 -0.6 2.3M160.2 265.3q-1.7 1.8 0.7 1.7 1.9 0.2 0.6 1.7 -1.6 1.8 0.7 1.9 2.7 -0.2 0.9 1.6M158.9 265q-2.6 0.6 -1 2.5 2.1 1.7 -0.5 2.3 -2.7 0.5 -0.2 2.4 1 1.7 -1.4 2.5M153.7 263.9q-1.6 1.8 0.3 2.8 2.9 1 1.1 2.8 -2.3 1.9 -0.2 2.9 2.1 1.1 1.2 2.8" fill="none" stroke="#1a1a1a" stroke-width="0.9"/>
<path d="M143.2 237.6q1.9 -1.4 -0.4 -2.7 -1.3 -1.4 0 -2.7 2.9 -1.4 0 -2.7 -1.3 -1.4 0.4 -2.7M186.5 244.1q1.3 -1.6 -0.6 -2.1 -2.8 0 -0.5 -2 0.7 -1.4 -1.2 -1.9 -2.2 -0.3 -0.4 -2M122.6 217.1q1.5 0.4 1 -1 -1 -2.4 1 -1.4 1.9 0.7 1.5 -0.7 -0.7 -1.9 0.7 -1M123.8 219.1q1.7 1.8 2.1 -0.7 0.5 -1.8 2 -0.5 1.5 1.1 2.1 -1.1 0.2 -2.5 1.9 -0.6M124.5 220.1q1.5 2.3 2.7 0.1 1.2 -2.3 2.7 -0.2 1.5 2.2 2.7 -0.7 1.3 -0.9 2.7 0.2M129.2 226q1.3 2 2.1 -0.1 0.8 -2 2.1 -0.8 1.3 2.7 2.1 0.3 0.8 -2.2 2 -0.5M148.3 240.3q1.4 -0.2 0.7 -1.6 -0.8 -1.3 0.7 -1.4 2.5 0.3 1.3 -1.4 -0.9 -1.4 0.8 -1.5M143.2 237.6q1.9 0.3 1 -1.5 -0.1 -1.6 1.6 -1.4 2.2 0.4 1.2 -1.6 -1.5 -2.5 1.4 -1.5M172.4 245.7q1.1 -2.1 -1 -2 -2.3 0 -1.8 -2 1.4 -2 -0.6 -1.8 -3 0.4 -1.4 -2.1M172.1 245.7q1.5 -0.3 0.9 -1.8 -1.7 -2.1 1 -1.8 2.5 0.2 0.8 -1.8 -0.8 -1.7 1 -1.7M176.6 245.6q2.8 -0.1 0.4 -1.9 -0.9 -1.4 0.5 -1.9 3.1 -0.1 0.8 -1.8 -1.4 -1.5 0.6 -1.9M212.9 230.1q0.7 -2.5 -1.4 -1.3 -2.1 1.2 -1.5 -1.2 -0.2 -1.4 -1.9 -1.1 -2 1.5 -1.1 -1.2M204.7 236.4q1.3 -2 -1.3 -2.2 -2 0 -1 -2.1 1.1 -1.7 -1.2 -1.9 -1.6 -0.2 -1 -1.9M156.1 243.2q2.6 -1 0.6 -2.3 -2.8 -1.4 -0.4 -2.4 1.6 -1.1 0.4 -2.4 -1.3 -1.3 0.5 -2.4M144.6 238.4q2.4 0.5 0.5 -1.2 -1.4 -2 1.1 -1.5 1.4 0 0.9 -1.5 -1.4 -1.5 0.9 -1.1M208.5 233.8q1.1 -1.7 -0.7 -2.3 -2.3 -0.4 -1.1 -2.2 1 -1.8 -0.6 -2.3 -2.9 -0.3 -1.3 -2.2M217.9 224.9q2.1 -2 -0.7 -2.3 -1.8 -0.9 -1.2 -2.5 2 -1.8 -0.1 -2.3 -2.1 -0.8 -1.3 -2.3M215.8 227.1q0.4 -2 -1.3 -1.3 -2.6 1 -1.7 -1.3 0 -1.8 -1.5 -1.9 -1.6 0.4 -1.5 -1M147.7 239.9q1.9 0.3 1.7 -1.3 -0.6 -3 2.3 -1.9 1.5 0.1 1.6 -1.4 0.2 -2 1.8 -2.1M130.2 227.2q1.8 0.3 0.8 -1.4 -1 -1.9 1.3 -1.5 2 0.7 0.6 -1.2 -1.1 -2 1.1 -1.1M196.1 241q0.3 -1.7 -1.3 -2.2 -2.6 0.1 -1 -2.2 0.3 -1.8 -1.8 -2.1 -1.8 -0.3 -1 -2M147 239.6q1.5 -0.3 0.9 -1.4 -2.4 -1.7 0.2 -1.5 1.7 -0.4 0.8 -1.5 -1.3 -1.4 0 -1.7M211.4 231.4q1.4 -1.7 -1.1 -2.2 -1.4 -0.6 -0.8 -2.2 1.9 -1.8 -0.3 -2.2 -1.9 -0.5 -1.1 -2M168.9 245.6q1.3 -2.2 -1.1 -2.3 -3.1 0.1 -1.3 -2.4 1.2 -2.2 -1.7 -2.1 -1.5 -0.6 -0.9 -2.4M122.9 217.7q2.5 0.9 1.7 -1.4 -1.3 -2.6 1.4 -1.8 2 0.8 0.9 -1.3 -0.9 -2.6 1.7 -1.8M160.2 244.3q0.9 -1.4 -0.7 -2.1 -2.4 -0.2 -0.3 -1.9 1.1 -1.6 -1.3 -2.1 -1.9 -0.3 -0.4 -1.9M172.5 245.7q0.7 -1.4 -0.9 -1.3 -2.4 0.3 -0.7 -1.8 1.2 -1.6 -1.2 -1.2 -2.3 0.4 -0.6 -1.6M153.3 242.3q1.6 -1.3 -0.1 -1.8 -2.5 -0.4 -0.8 -1.6 1.9 -1.4 -0.3 -1.9 -1.5 -0.5 -0.5 -1.6M215.8 227.1q0.7 -1.8 -1.5 -2.4 -1.6 -0.5 -0.7 -2.5 1.4 -2 -1.4 -2.3 -1.8 -0.5 -0.8 -2.3M131 228q2 0.7 2.5 -1.4 0.1 -2.1 2.1 -1.6 1.8 0.5 2 -1.2 0.5 -2.1 2.3 -1.3M206.1 235.4q1.4 -1.4 -0.2 -1.9 -2.9 -0.1 -0.5 -1.8 1.8 -1.6 -0.8 -1.8 -1.9 -0.4 -0.7 -1.8M195.8 241.1q1.9 -1.8 -0.8 -2.5 -1.7 -1 -0.4 -2.7 1.7 -1.7 -0.5 -2.5 -2.2 -0.8 -0.5 -2.6M162 244.7q1.7 -1.1 0.1 -1.7 -2 -0.6 -0.5 -1.6 1.6 -1.1 -0.5 -1.7 -1.1 -0.6 -0.2 -1.6M200.2 239q0.6 -2 -1.4 -1.2 -1.8 1.1 -1 -1 0.7 -2.1 -1.4 -1.1 -1.9 1.1 -1.3 -1.2M158.4 243.9q2.2 0.7 1.9 -1.7 -0.4 -1.9 1.5 -1.3 2.4 0.7 1.6 -1.4 -0.7 -3 1.9 -1.5M154.5 242.7q1.3 -0.6 0.4 -1.6 -2 -1.2 0.4 -1.7 2.2 -0.4 0.2 -1.6 -1.9 -1.2 0.3 -1.6M210.8 231.9q1 -1.9 -0.8 -2.1 -2.1 -0.4 -1.5 -2.1 0.7 -1.8 -0.9 -2.1 -2.8 -0.2 -1.6 -2.3M122.3 216.7q1.7 -0.5 1.7 -2.1 -1.2 -2.2 1.1 -2.4 1.8 -0.4 1.2 -2.3 -1.3 -2.4 1.2 -2.2M171.1 245.7q2.2 -1.1 0.1 -2.5 -1.8 -1.5 0.2 -2.6 2.8 -1 0.1 -2.5 -1.4 -1.5 0.4 -2.6M197.3 240.4q1.3 -1.9 -1.2 -1.9 -2 0 -0.6 -1.9 0.6 -1.5 -0.9 -1.7 -2.3 -0.1 -1.5 -1.9M175 245.7q2.6 -0.5 0.2 -1.8 -1.4 -1.3 0.5 -1.9 2.2 -0.6 0.5 -1.8 -2.4 -1.4 0.5 -1.9M122.9 217.5q2.5 0.3 0.5 -1.6 -0.8 -1.2 0.8 -1.2 1.4 -0.4 0.4 -1.7 -0.5 -1.1 0.8 -1.3M124 219.4q2 1.4 2.5 -0.9 0.5 -2 2.2 -1.2 1.8 0.7 2.6 -1 0.5 -1.8 2.3 -0.8M193 242.2q1.3 -1.2 -0.6 -1.6 -2.1 -0.3 -0.4 -1.6 2 -1.3 0 -1.7 -2 -0.3 -0.2 -1.5M166.8 245.4q1.8 -1.4 -0.8 -1.5 -1.1 -0.5 -0.1 -1.6 1.2 -1.3 -0.3 -1.6 -1.7 -0.4 -0.5 -1.7M154.4 242.7q2.4 -0.5 0.8 -2.1 -1.5 -1.5 0.5 -2.3 1.4 -0.7 0.3 -2.1 -1.7 -1.5 0.4 -2M175.4 245.7q2.2 -0.7 1.1 -2.6 -1.4 -1.9 0.4 -2.5 3.1 -0.5 1.3 -2.7 -1.5 -1.9 0.7 -2.5M139.3 235.1q1.9 -1.1 -0.3 -2.1 -1.2 -1.1 0.2 -2.1 2.1 -1.1 0 -2.1 -1.7 -1.1 0.3 -2.1M209.5 233q0.7 -1.7 -0.9 -1.4 -2.6 0.7 -1.7 -1.5 0.7 -1.5 -1.1 -1.2 -1.3 -0.2 -0.7 -1.9M182.7 244.9q0.7 -2.4 -2 -1.9 -1.5 0.1 -1.6 -1.8 1 -2.3 -1.7 -1.6 -2.4 0.7 -1.5 -1.8M202 238q0.2 -2.1 -1.5 -0.9 -1.9 1.3 -1.6 -1 0.1 -1.9 -1.4 -0.8 -2.1 1.7 -1.5 -1.1M139.4 235.1q1.8 0.4 1.5 -1.4 0 -2 1.9 -1.6 2.1 0.8 1.6 -1.7 -0.2 -1.8 1.8 -1.1M188.1 243.7q1.1 -1.8 -0.9 -2 -2.6 0.2 -0.9 -1.8 1.6 -2.1 -1.2 -1.8 -2.3 0 -1.1 -2M177.1 245.6q1.7 -1.1 -0.4 -2.2 -1.5 -1.1 0.8 -2.2 2.2 -1.1 0 -2.2 -1.9 -1.1 -0.8 -2.2M212.6 230.3q0.1 -2.6 -2.1 -1.7 -2.1 0.7 -2.4 -1 -0.2 -2.5 -2.3 -2 -2 0.8 -2.2 -1M194.8 241.5q0.3 -2.3 -1.7 -1.3 -2.6 1.3 -1.8 -1.5 0.5 -2.6 -2.1 -1.2 -1.9 0.8 -1.6 -1.8M148.5 240.3q1.7 -1.6 -0.6 -2.7 -2 -1.1 0.2 -2.7 1.1 -1.5 -0.6 -2.7 -1.8 -1.2 -0.2 -2.7M195.1 241.4q0.7 -2 -1.1 -1 -2.4 1.3 -1.3 -1.2 0.4 -1.6 -1 -0.8 -2.4 1.2 -1.5 -1.4M148.1 240.1q1.4 -1.2 0 -2.5 -1.5 -1.3 0.1 -2.5 1.9 -1.1 -0.1 -2.4 -1.3 -1.3 0.6 -2.5M123.7 218.8q1.5 2.3 2.5 0.1 1 -2.2 2.4 -0.9 1.4 1.9 2.4 0.2 1.1 -1.4 2.5 -0.7M176.6 245.6q2 -1.5 -0.5 -2.6 -1.3 -1.2 0.2 -2.6 2.4 -1.5 -0.3 -2.6 -1.7 -1.2 0.2 -2.6M196.2 240.9q2 -2 -1.2 -2.2 -2.2 -0.4 -0.5 -2.3 1.6 -1.8 -1.1 -2 -1.4 -0.7 -0.7 -2.3M191.6 242.7q0.8 -1.9 -1 -0.9 -1.6 0.2 -1.1 -1.1 0.3 -1.8 -1.3 -1.2 -2.2 1 -1.1 -1.2M182 245q0.4 -2.1 -1.5 -1.7 -2.4 0 -1.9 -1.9 0 -2 -1.5 -2.3 -3.1 1.1 -2 -1.8M156.7 243.4q2.3 -0.3 0.4 -1.7 -0.9 -1.2 0.3 -1.8 2.6 -0.2 0.6 -1.7 -2 -1.4 0.5 -1.7M180 245.3q0.4 -1.4 -0.8 -1.4 -2.3 0.9 -1.1 -1 0.8 -2 -1.6 -1.2 -1.8 0.7 -0.9 -1.3M185.4 244.4q1.9 -0.9 -0.1 -1.8 -1.2 -0.9 -0.2 -1.8 1.6 -0.9 0.1 -1.8 -2.1 -0.8 0.2 -1.8M124 219.4q2.3 1 1.3 -1.4 0 -1.8 1.8 -1.2 2.4 1 1.5 -1.4 -0.1 -1.7 1.6 -1.2M155.2 242.9q2 -0.5 0.4 -2.2 -1.7 -1.7 0.9 -2.1 2.3 -0.3 0.9 -1.9 -1.3 -1.5 0.7 -2.2M167 245.4q1.6 -0.8 -0.2 -1.8 -0.9 -0.9 0.5 -1.7 1.5 -0.8 0.3 -1.8 -2.1 -1 0.1 -1.7M171.7 245.7q1.9 -0.7 0.5 -2.3 -1.4 -2 1.2 -2.5 2.5 -0.4 0.5 -2.2 -1.3 -1.9 1.1 -2.5M183 244.8q1.3 -0.7 0.1 -1.6 -1.9 -1.1 0 -1.7 2.7 -0.5 0.7 -1.6 -1.6 -1 0.1 -1.7M203.3 237.3q-0.1 -1.8 -2.1 -2.1 -2.4 0.7 -1.8 -1.6 1 -2.9 -1.5 -2.4 -2.7 0.6 -2.4 -1.9M151.6 241.6q2.2 0.4 2 -1.8 -0.7 -2.1 1.6 -1.6 2.2 0.4 1.9 -2.1 -1.2 -2.5 1.7 -1.7M215.8 227.1q1.3 -2.6 -1.4 -1.9 -2.5 0.7 -1.7 -1.8 0.9 -2 -1.5 -1.6 -1.9 0.1 -1.2 -1.9M187.9 243.8q0.7 -2.5 -1.6 -1.9 -2 0.2 -2.1 -1.6 0.3 -2 -1.5 -1.6 -1.9 -0.2 -2 -1.7M215.8 227.1q0.8 -2.1 -1.7 -1.8 -2 0.4 -1.3 -1.6 0.5 -1.9 -1.4 -1.9 -2.3 0.3 -1.3 -1.7M156 243.2q1.4 -1.2 0.1 -2.5 -2.4 -1.2 -0.1 -2.5 2.6 -1.2 0.2 -2.5 -1.8 -1.2 -0.1 -2.5M202.8 237.6q-0.1 -2.1 -1.8 -1.4 -2.2 1.3 -2.3 -0.9 -0.3 -1.8 -2.1 -1.6 -1.7 1 -2.1 -1.3M181.3 245.1q2.8 -0.5 0.1 -2.1 -1.6 -1.4 0.4 -2 2.2 -0.8 0.9 -2.2 -1.2 -1.2 -0.1 -2M125.7 221.8q1.3 1.1 2.2 -0.3 0.8 -2.5 2.2 -0.2 1.3 1.2 2.1 -0.7 0.9 -1.6 2.2 0.4" fill="none" stroke="#1a1a1a" stroke-width="0.9"/>
<path d="M181.6 108.2q1.5 -0.1 0.9 -1.4 -1.9 -1.4 0.4 -1.3 1.8 0.1 0.3 -1.2 -1 -1.4 0.9 -1.3M182.5 108.3q2.6 -0.8 0.1 -1.7 -1.9 -0.9 -0.4 -1.7 1.7 -0.8 0.1 -1.7 -1.6 -0.9 0.1 -1.7M190.6 109.7q2.5 0.5 0.6 -1.3 -1.1 -1.2 0.8 -1.3 2.5 0.7 0.3 -1.1 -0.6 -1.1 0.8 -1M186.3 108.8q1.8 -1.4 -0.7 -1.8 -1.9 -0.5 -0.3 -1.8 2.1 -1.5 0.1 -2 -2.9 -0.3 -0.9 -1.8M200.1 112.5q2.2 0.1 0.8 -1.9 -0.5 -1.4 0.8 -1.6 1.9 -0.3 1.5 -1.6 -1 -1.7 1 -1.9M180.1 108q1.6 -0.9 -0.4 -1.7 -0.9 -0.8 0.2 -1.7 1.5 -0.9 0.3 -1.7 -2.3 -0.7 -0.2 -1.7M205 114.5q2.2 0.9 1.1 -1.4 -0.6 -1.7 1 -0.9 1.9 0.3 1.4 -1.2 -0.9 -2.2 1.4 -1.3M203.1 113.6q2.6 0.8 1.4 -1.5 -0.9 -2.1 1.3 -1.5 1.9 0 1.1 -1.8 -0.4 -1.8 1.6 -1.5M180 108q1.4 -1.4 -0.4 -1.9 -1.7 -0.6 -0.5 -2 0.8 -1.2 -0.6 -1.8 -2.3 -0.4 -0.6 -1.9M212.3 118.1q2.1 1.5 1.6 -0.8 -0.8 -2.9 1.2 -1.4 1.8 0.9 1.8 -0.5 -0.2 -2 1.3 -1M204.1 114q2.8 0.2 0.8 -1.8 -0.5 -2 1.5 -2.1 1.9 -0.3 0.9 -1.9 -1.4 -2.3 1.6 -2.3M201 112.8q2.5 0.4 1.3 -2.1 -0.3 -1.6 1.4 -1.6 2.2 0 1.4 -2.1 -0.8 -2.1 1.9 -1.9M197.3 111.5q1.9 1 1.5 -1.4 -1 -2.2 1.3 -0.6 1.6 0.6 1.2 -0.9 -0.1 -1.8 1.1 -1.3M211.2 117.5q1.9 -0.6 0.3 -1.5 -2.3 -0.9 -0.5 -1.5 2.4 -0.6 0.6 -1.5 -1.4 -0.8 -0.2 -1.5M191.3 109.8q2 -1 0.1 -1.4 -3 -0.2 -0.9 -1.4 1.8 -1 0.3 -1.4 -2.4 -0.3 -0.2 -1.4M184.6 108.6q2 -0.6 -0.1 -1.4 -1.4 -0.8 -0.1 -1.4 1.8 -0.6 0.3 -1.4 -1 -0.8 0.5 -1.4M183.9 108.5q2.1 -0.2 0.1 -1.4 -1.2 -1.2 0.8 -1.3 2.6 0 0.3 -1.5 -1.1 -1.1 0.7 -1.4M187.2 109q2.2 -1.3 -0.4 -1.8 -1.9 -0.5 -0.2 -1.7 1.5 -1.3 -0.2 -1.7 -2.1 -0.6 -0.7 -1.8M191.4 109.9q1.1 -1.1 -0.5 -1.9 -1.3 -0.8 0.2 -2 2.1 -1.3 -0.8 -1.9 -1.4 -0.8 0 -2M207.6 115.6q1.3 0.5 1 -0.9 -0.1 -1.3 1 -1 2.1 1.7 1 -0.7 -0.2 -1.4 1.4 -1M194.8 110.8q2.6 -1 0.1 -1.6 -1.9 -0.7 0.1 -1.6 1.7 -0.9 -0.7 -1.5 -1.8 -0.7 0.1 -1.6M212.6 118.3q2.2 1.6 1.3 -1.3 -0.3 -1.3 1.4 -0.5 1.8 1.1 1.1 -1.5 -1 -2.2 1.1 -0.5M198.1 111.8q2.7 -0.1 0.8 -1.8 -2.3 -1.6 0.1 -1.8 2.1 -0.4 0.5 -1.8 -0.5 -1.2 1.3 -1.7" fill="none" stroke="#1a1a1a" stroke-width="0.9"/>
<path d="M214.1 145q-2.4 0.2 -0.2 1.6 1.4 1.1 -0.6 1.6 -1.8 0.3 -0.4 1.4 1.6 1.2 -0.7 1.7M219.6 151.3q-2.3 0.3 -0.7 2 1.6 2.1 -0.9 2.1 -3.1 0.2 -1.1 2.2 1.5 2 -1.1 2.3M210.3 141.6q-2.2 -1.7 -1.7 1 -0.1 2.5 -2 1.4 -2.3 -2 -2.1 0.5 -0.1 2.1 -1.8 1M204.8 137.7q-2 -0.7 -1.8 1.3 1.1 2.6 -1.2 1.5 -2 -0.5 -1.7 1.2 1 2.8 -1.8 1.3M223.5 157q-1.3 -1 -2 0.5 -0.7 1.5 -2.1 0.6 -1.3 -1.3 -1.9 0.4 -0.7 1.9 -2.2 0.5M213 144q-2.3 -0.1 -0.5 1.3 1.7 1.3 -0.3 1.2 -1.4 0.4 -0.3 1.3 1.1 1.3 -0.5 1.4M209.8 141.3q-1.7 -1.3 -1.3 0.9 0.7 2.2 -1 0.6 -1.4 -0.6 -1.2 0.8 0.4 2.2 -1.3 1.1M215.4 146.4q-1.2 -1.1 -1.6 0.7 -0.3 1.3 -1.4 0.2 -1.6 -2 -1.7 0.5 0.1 2.7 -1.6 0.7M211.8 143q-1.7 -1.7 -2.3 0.7 -0.8 1.4 -2.2 0.7 -1.7 -1.9 -2.3 0.3 -0.4 2.8 -2.1 0.9M205 137.8q-2.2 0.3 -1.2 2.2 1.3 1.6 -0.9 2.1 -2.3 0.1 -0.8 2 0.7 1.6 -0.8 2M211.7 142.9q-2.4 0.2 -1.2 2.2 1.5 2 -0.8 2.2 -2 0.3 -0.9 2 0.4 1.7 -1 2.2M223.7 157.4q-1.4 -2 -2 0.4 -0.8 1.3 -2.1 0.8 -1.2 -1.5 -1.9 0.1 -0.7 1.9 -2 0.6M205.5 138.1q-2.1 -1.8 -2 1.2 -0.2 2.5 -2.1 1 -2.1 -1.7 -2.5 0.4 0.1 3 -1.9 1.1M222.8 156q-1.3 -2.2 -2.4 0 -1 2 -2.4 0 -1.3 -1.6 -2.3 0.5 -1 2.5 -2.4 0.1M222.8 155.9q-1.3 -2 -1.6 0.8 -0.1 2.3 -1.4 -0.3 -1.1 -0.7 -1.5 0.8 -0.4 1.5 -1.6 0" fill="none" stroke="#1a1a1a" stroke-width="0.9"/>
<path d="M244.2 221.8q-0.9 1.5 0.9 1.3 2.2 -0.9 0.4 1.2 -0.9 1.5 1 1.2 2.1 -0.7 0.9 1.2M242.3 225.6q0.5 2.3 1.3 -0.1 0.9 -2.1 1.4 0.1 0.6 1.7 1.4 0.5 0.8 -1.4 1.3 -0.2M242.2 225.6q-1.6 1.7 0.7 1.4 2 -0.4 0.8 1 -1.8 1.9 0.8 1.5 1.3 -0.1 0.3 0.9M243.5 223.4q-1.3 1.8 0.9 1.2 2.4 -0.4 0.8 1.7 -0.6 1.2 1.1 1.2 2.2 -0.4 1 1.3M246.8 216q0.5 2.6 2.2 0.7 1.4 -1.6 2.1 0.5 0.8 1.3 2.2 0.3 1.5 -1.5 2.2 0.7M246.6 216.5q0.2 2.4 2.1 0.6 1.5 -0.7 1.8 1.1 0.2 2.8 2 1.1 1.8 -1.3 2.1 0.7M240.8 228.1q-0.3 2.4 1.7 0.8 2 -1 1.8 1.4 -0.4 2.4 1.8 0.8 1.5 -0.7 1.4 1.1M246.2 217.5q-1.4 2.3 1.2 1.6 2 0.1 1.5 1.9 -1.2 2 1 2 2.2 -0.4 1.4 1.4M243.9 222.5q-0.1 2.1 1.6 0.9 1.7 -1.5 1.7 0.7 -0.1 1.8 1.4 0.8 1.9 -1.6 1.4 1M244.6 221.1q-0.3 2.3 1.4 0.5 1.4 -1.4 1.3 1 -0.3 1.8 1 0 1.6 -1 1.5 1M244.3 221.8q0 2.2 2 1.4 2 -1.2 2 1.4 0.1 1.6 2.1 1 2.2 -1.5 1.6 1.4M244.6 221q0.1 1.6 1.5 1 1.6 -1.7 1.3 0.7 0 1.9 1.6 0.4 1.9 -1.8 1.4 0.5M241.4 227q-0.9 2.2 1.3 1.3 1.9 -0.9 1.1 1.3 -1 2.2 1.3 0.8 2.1 -1 1.2 1M245.6 218.8q0.8 1.5 2 0.1 1.2 -1.2 2 0.8 0.7 1.9 2 0.2 1.3 -1.8 2 0.2M248.2 212.2q-0.5 2.7 2.1 1.6 1.6 -0.8 1.8 1.2 -0.2 2 1.8 1.4 1.9 -1 1.7 1.3" fill="none" stroke="#1a1a1a" stroke-width="0.9"/>
<circle cx="101.0" cy="223.6" r="4.2" fill="url(#hg)" stroke="#111" stroke-width="0.8"/>
<circle cx="97.5" cy="215.8" r="4.2" fill="url(#hg)" stroke="#111" stroke-width="0.8"/>
<circle cx="94.9" cy="207.6" r="4.2" fill="url(#hg)" stroke="#111" stroke-width="0.8"/>
<circle cx="93.1" cy="199.2" r="4.2" fill="url(#hg)" stroke="#111" stroke-width="0.8"/>
<circle cx="92.3" cy="190.6" r="4.2" fill="url(#hg)" stroke="#111" stroke-width="0.8"/>
<circle cx="92.4" cy="182.0" r="4.2" fill="url(#hg)" stroke="#111" stroke-width="0.8"/>
<circle cx="93.3" cy="173.5" r="4.2" fill="url(#hg)" stroke="#111" stroke-width="0.8"/>
<circle cx="95.2" cy="165.1" r="4.2" fill="url(#hg)" stroke="#111" stroke-width="0.8"/>
<circle cx="98.0" cy="156.9" r="4.2" fill="url(#hg)" stroke="#111" stroke-width="0.8"/>
<circle cx="101.6" cy="149.1" r="4.2" fill="url(#hg)" stroke="#111" stroke-width="0.8"/>
<circle cx="106.1" cy="141.8" r="4.2" fill="url(#hg)" stroke="#111" stroke-width="0.8"/>
<circle cx="111.2" cy="134.9" r="4.2" fill="url(#hg)" stroke="#111" stroke-width="0.8"/>
<circle cx="117.1" cy="128.6" r="4.2" fill="url(#hg)" stroke="#111" stroke-width="0.8"/>
<circle cx="123.6" cy="123.0" r="4.2" fill="url(#hg)" stroke="#111" stroke-width="0.8"/>
<circle cx="130.7" cy="118.1" r="4.2" fill="url(#hg)" stroke="#111" stroke-width="0.8"/>
<circle cx="138.3" cy="114.0" r="4.2" fill="url(#hg)" stroke="#111" stroke-width="0.8"/>
<circle cx="146.2" cy="110.8" r="4.2" fill="url(#hg)" stroke="#111" stroke-width="0.8"/>
<circle cx="154.5" cy="108.4" r="4.2" fill="url(#hg)" stroke="#111" stroke-width="0.8"/>
<circle cx="162.9" cy="106.8" r="4.2" fill="url(#hg)" stroke="#111" stroke-width="0.8"/>
<circle cx="171.5" cy="106.2" r="4.2" fill="url(#hg)" stroke="#111" stroke-width="0.8"/>
<circle cx="121.4" cy="211.8" r="4.2" fill="url(#hg)" stroke="#111" stroke-width="0.8"/>
<circle cx="118.3" cy="203.7" r="4.2" fill="url(#hg)" stroke="#111" stroke-width="0.8"/>
<circle cx="116.4" cy="195.2" r="4.2" fill="url(#hg)" stroke="#111" stroke-width="0.8"/>
<circle cx="115.8" cy="186.5" r="4.2" fill="url(#hg)" stroke="#111" stroke-width="0.8"/>
<circle cx="116.5" cy="177.8" r="4.2" fill="url(#hg)" stroke="#111" stroke-width="0.8"/>
<circle cx="118.6" cy="169.4" r="4.2" fill="url(#hg)" stroke="#111" stroke-width="0.8"/>
<circle cx="121.9" cy="161.3" r="4.2" fill="url(#hg)" stroke="#111" stroke-width="0.8"/>
<circle cx="126.3" cy="153.9" r="4.2" fill="url(#hg)" stroke="#111" stroke-width="0.8"/>
<circle cx="131.9" cy="147.2" r="4.2" fill="url(#hg)" stroke="#111" stroke-width="0.8"/>
<circle cx="138.4" cy="141.4" r="4.2" fill="url(#hg)" stroke="#111" stroke-width="0.8"/>
<circle cx="145.7" cy="136.7" r="4.2" fill="url(#hg)" stroke="#111" stroke-width="0.8"/>
<circle cx="153.6" cy="133.2" r="4.2" fill="url(#hg)" stroke="#111" stroke-width="0.8"/>
<circle cx="162.0" cy="130.9" r="4.2" fill="url(#hg)" stroke="#111" stroke-width="0.8"/>
<circle cx="170.6" cy="129.8" r="4.2" fill="url(#hg)" stroke="#111" stroke-width="0.8"/>
<circle cx="218.8" cy="120.4" r="4.2" fill="url(#hg)" stroke="#111" stroke-width="0.8"/>
<circle cx="228.6" cy="128.4" r="4.2" fill="url(#hg)" stroke="#111" stroke-width="0.8"/>
<circle cx="250.5" cy="164.1" r="4.2" fill="url(#hg)" stroke="#111" stroke-width="0.8"/>
<circle cx="252.7" cy="173.7" r="4.2" fill="url(#hg)" stroke="#111" stroke-width="0.8"/>
<circle cx="253.6" cy="193.3" r="4.2" fill="url(#hg)" stroke="#111" stroke-width="0.8"/>
<circle cx="252.2" cy="203.1" r="4.2" fill="url(#hg)" stroke="#111" stroke-width="0.8"/>
<circle cx="192.1" cy="133.1" r="4.2" fill="url(#hg)" stroke="#111" stroke-width="0.8"/>
<circle cx="208.0" cy="141.8" r="4.2" fill="url(#hg)" stroke="#111" stroke-width="0.8"/>
<circle cx="220.4" cy="154.9" r="4.2" fill="url(#hg)" stroke="#111" stroke-width="0.8"/>
<circle cx="228.0" cy="171.3" r="4.2" fill="url(#hg)" stroke="#111" stroke-width="0.8"/>
<circle cx="229.8" cy="180.2" r="4.2" fill="url(#hg)" stroke="#111" stroke-width="0.8"/>
<circle cx="230.2" cy="189.3" r="4.2" fill="url(#hg)" stroke="#111" stroke-width="0.8"/>
<circle cx="229.1" cy="198.3" r="4.2" fill="url(#hg)" stroke="#111" stroke-width="0.8"/>
<circle cx="226.6" cy="207.0" r="4.2" fill="url(#hg)" stroke="#111" stroke-width="0.8"/>
<circle cx="209.1" cy="140.9" r="4.2" fill="url(#rg)"/>
<circle cx="114.6" cy="189.4" r="4.2" fill="url(#rg)"/>
<circle cx="253.0" cy="200.3" r="4.2" fill="url(#rg)"/>
<circle cx="134.5" cy="231.4" r="4.2" fill="url(#rg)"/>
<circle cx="185.3" cy="268.0" r="4.2" fill="url(#rg)"/>
<g >
<polygon points="62.5,84.8 64.1,82.3 64.9,79.5 67.1,76.7 68.7,73.6 70.7,70.9 72.9,68.3 74.2,65.9 76.1,64 78.3,62.9 80.9,65.1 84.1,67.5 84.9,69.3 83.6,73.1 86.8,75.7 88.4,76.3 88.9,72 90.6,69.9 93.2,69.9 93.2,65.6 94.8,64 97.5,65.6 98.6,66.7 99.1,61.9 101.2,60.3 103.4,61.3 105,64.5 107.1,65.6 111.4,65.1 114.1,64.6 116.7,64 121,64 122,66.1 124.7,69.3 125.8,73.6 125.4,76.6 124.7,79.5 126.3,81.6 129,82.7 129.5,87 130,91.2 127.9,93.9 124.7,96.6 125.2,97.6 129.5,99.2 130.6,102.4 133.8,104 136.2,107.5 138.4,109.9 142.1,108.8 144.2,110.1 144.6,112.6 145.8,114.9 147.6,117.5 149,120.3 150.6,122.4 152.2,124.5 153.8,128.3 152.8,132 151.6,134.7 150.6,137.4 148,138.3 146,140.2 143.7,141.6 141.2,143.3 138.2,144.2 135.7,145.9 132.5,147 133,149.6 130.4,152.3 126.6,153.9 123.4,155.5 119.7,158.2 118.1,156 117.2,153.6 115.6,151.5 114.9,149.1 113.8,146.6 112.2,144.4 110.1,142.7 108,139.8 105.3,137.4 104,134.6 101.6,132.7 100.3,129.9 98.3,127.7 97.2,125.1 95.3,123.1 93.5,121 91.9,118.7 89.5,116.4 88,113.4 86.1,110.7 83.6,108.8 81,107.2 80.1,104.1 78.7,101.2 76.7,98.7 74.9,96.2 73.5,93.4 71.3,91.2 68.5,90.2 66,88.6 64.6,86.4" fill="#e8690f" stroke="#111" stroke-width="1.5" stroke-linejoin="round" />
<polygon points="73.5,82.1 75.6,84.8 78.7,84.5 81.5,83.2 82.5,80.5 82.3,83 83,85.5 83.1,88 82.1,91.3 80.4,94.4 78.3,92.8 76.2,90.1 74,87.5 73.6,84.8" fill="#fff" stroke="#111" stroke-width="1.2" stroke-linejoin="round" />
<polygon points="95.1,115.5 98.3,114.3 101,112.3 103.4,111 105.3,109.1 107.4,108.5 111.1,108 113.3,110.7 112.7,114.9 110.6,116.5 113.8,118.7 113.8,122.9 114.9,124.5 114.9,128.8 112.7,129.9 111.7,133.1 109.5,129.3 107.4,129.9 106.3,132 104.7,127.7 102.1,124.5 99.4,120.3 97.2,118" fill="#fff" stroke="#111" stroke-width="1.2" stroke-linejoin="round" />
<polygon points="81.5,98.5 84,99 85.2,102.5 83,103" fill="#fff" stroke="#111" stroke-width="1.2" stroke-linejoin="round" />
<polygon points="87.5,106 91.5,105.2 92.2,108 89.5,108.8" fill="#fff" stroke="#111" stroke-width="1.2" stroke-linejoin="round" />
<text transform="translate(121.5,147) rotate(-34)" font-size="22.5" font-weight="normal" fill="#1d1d1b" stroke="#1d1d1b" stroke-width="0.7" style="font-kerning:none">AS</text>
</g>
<g transform="rotate(180 173 187)">
<polygon points="62.5,84.8 64.1,82.3 64.9,79.5 67.1,76.7 68.7,73.6 70.7,70.9 72.9,68.3 74.2,65.9 76.1,64 78.3,62.9 80.9,65.1 84.1,67.5 84.9,69.3 83.6,73.1 86.8,75.7 88.4,76.3 88.9,72 90.6,69.9 93.2,69.9 93.2,65.6 94.8,64 97.5,65.6 98.6,66.7 99.1,61.9 101.2,60.3 103.4,61.3 105,64.5 107.1,65.6 111.4,65.1 114.1,64.6 116.7,64 121,64 122,66.1 124.7,69.3 125.8,73.6 125.4,76.6 124.7,79.5 126.3,81.6 129,82.7 129.5,87 130,91.2 127.9,93.9 124.7,96.6 125.2,97.6 129.5,99.2 130.6,102.4 133.8,104 136.2,107.5 138.4,109.9 142.1,108.8 144.2,110.1 144.6,112.6 145.8,114.9 147.6,117.5 149,120.3 150.6,122.4 152.2,124.5 153.8,128.3 152.8,132 151.6,134.7 150.6,137.4 148,138.3 146,140.2 143.7,141.6 141.2,143.3 138.2,144.2 135.7,145.9 132.5,147 133,149.6 130.4,152.3 126.6,153.9 123.4,155.5 119.7,158.2 118.1,156 117.2,153.6 115.6,151.5 114.9,149.1 113.8,146.6 112.2,144.4 110.1,142.7 108,139.8 105.3,137.4 104,134.6 101.6,132.7 100.3,129.9 98.3,127.7 97.2,125.1 95.3,123.1 93.5,121 91.9,118.7 89.5,116.4 88,113.4 86.1,110.7 83.6,108.8 81,107.2 80.1,104.1 78.7,101.2 76.7,98.7 74.9,96.2 73.5,93.4 71.3,91.2 68.5,90.2 66,88.6 64.6,86.4" fill="#e8690f" stroke="#111" stroke-width="1.5" stroke-linejoin="round" />
<polygon points="73.5,82.1 75.6,84.8 78.7,84.5 81.5,83.2 82.5,80.5 82.3,83 83,85.5 83.1,88 82.1,91.3 80.4,94.4 78.3,92.8 76.2,90.1 74,87.5 73.6,84.8" fill="#fff" stroke="#111" stroke-width="1.2" stroke-linejoin="round" />
<polygon points="95.1,115.5 98.3,114.3 101,112.3 103.4,111 105.3,109.1 107.4,108.5 111.1,108 113.3,110.7 112.7,114.9 110.6,116.5 113.8,118.7 113.8,122.9 114.9,124.5 114.9,128.8 112.7,129.9 111.7,133.1 109.5,129.3 107.4,129.9 106.3,132 104.7,127.7 102.1,124.5 99.4,120.3 97.2,118" fill="#fff" stroke="#111" stroke-width="1.2" stroke-linejoin="round" />
<polygon points="81.5,98.5 84,99 85.2,102.5 83,103" fill="#fff" stroke="#111" stroke-width="1.2" stroke-linejoin="round" />
<polygon points="87.5,106 91.5,105.2 92.2,108 89.5,108.8" fill="#fff" stroke="#111" stroke-width="1.2" stroke-linejoin="round" />
<text transform="translate(121.5,147) rotate(-34)" font-size="22.5" font-weight="normal" fill="#1d1d1b" stroke="#1d1d1b" stroke-width="0.7" style="font-kerning:none">AS</text>
</g>
<path d="M232.6 149.1L232.1 150.3L233.1 151.8L235.3 152.3L237.6 151.4L238.9 149.3L238.7 147.2L237.4 146.1L236.2 146.6L236 148L237.4 149.3L239.7 149.5L241.8 148.2L242.8 146L242.2 144.1L240.8 143.4L239.8 144.2L240.1 145.7L241.8 146.8L244.1 146.6L246 144.9L246.5 142.7L245.7 141L244.3 140.8L243.5 141.8L244.2 143.4L246.2 144.2L248.5 143.6L250.1 141.7L250.4 139.7L249.4 138.2L248.1 138.2L247.5 139.5L248.4 141L250.6 141.7L252.9 140.9L254.3 139L254.3 136.9L253.1 135.7L251.9 136.1L251.7 137.6L253 139L255.3 139.3L257.5 138.2L258.5 136.1L258.1 134.1L256.8 133.4L255.7 134.1L255.9 135.7L257.6 136.9L260 136.8L262 135.4L262.6 133.2L261.9 131.5L260.5 131.1L259.7 132.2L260.1 133.1L261.6 134.7L264 135.1L266.2 134L267.3 132.1L266.8 130.4L265.5 130L264.6 131L265 132.8L266.8 134.2L269.3 134.2L271.3 132.8L271.9 130.8L271.1 129.4L269.8 129.4L269.2 130.7L270 132.5L272.1 133.5L274.5 133.2L276.2 131.5L276.4 129.5L275.4 128.5L274.2 128.8L273.8 130.4L275 132.1L277.3 132.8L279.7 132L281 130.2L280.8 128.4L279.6 127.6L278.4 128.5L278.6 130.2L280.3 131.6L282.8 131.7L284.8 130.4L285.6 128.4L284.9 126.8L283.6 126.6L282.9 127.8L283.5 129.5L285.5 130.6L287.9 130.3L289.7 128.7L290.1 126.7L289.1 125.4L287.8 125.6L287.4 127L288.4 128.7L290.6 129.5L293 128.8L294.5 126.9L294.4 125L293.3 124.1L292.1 124.6L292 126.3L293.4 127.8" fill="none" stroke="#f6dd1c" stroke-width="7.188109941757361" stroke-linejoin="round" stroke-linecap="round" opacity="1"/>
<path d="M232.6 149.1L232.1 150.3L233.1 151.8L235.3 152.3L237.6 151.4L238.9 149.3L238.7 147.2L237.4 146.1L236.2 146.6L236 148L237.4 149.3L239.7 149.5L241.8 148.2L242.8 146L242.2 144.1L240.8 143.4L239.8 144.2L240.1 145.7L241.8 146.8L244.1 146.6L246 144.9L246.5 142.7L245.7 141L244.3 140.8L243.5 141.8L244.2 143.4L246.2 144.2L248.5 143.6L250.1 141.7L250.4 139.7L249.4 138.2L248.1 138.2L247.5 139.5L248.4 141L250.6 141.7L252.9 140.9L254.3 139L254.3 136.9L253.1 135.7L251.9 136.1L251.7 137.6L253 139L255.3 139.3L257.5 138.2L258.5 136.1L258.1 134.1L256.8 133.4L255.7 134.1L255.9 135.7L257.6 136.9L260 136.8L262 135.4L262.6 133.2L261.9 131.5L260.5 131.1L259.7 132.2L260.1 133.1L261.6 134.7L264 135.1L266.2 134L267.3 132.1L266.8 130.4L265.5 130L264.6 131L265 132.8L266.8 134.2L269.3 134.2L271.3 132.8L271.9 130.8L271.1 129.4L269.8 129.4L269.2 130.7L270 132.5L272.1 133.5L274.5 133.2L276.2 131.5L276.4 129.5L275.4 128.5L274.2 128.8L273.8 130.4L275 132.1L277.3 132.8L279.7 132L281 130.2L280.8 128.4L279.6 127.6L278.4 128.5L278.6 130.2L280.3 131.6L282.8 131.7L284.8 130.4L285.6 128.4L284.9 126.8L283.6 126.6L282.9 127.8L283.5 129.5L285.5 130.6L287.9 130.3L289.7 128.7L290.1 126.7L289.1 125.4L287.8 125.6L287.4 127L288.4 128.7L290.6 129.5L293 128.8L294.5 126.9L294.4 125L293.3 124.1L292.1 124.6L292 126.3L293.4 127.8" fill="none" stroke="#0a0a0a" stroke-width="2.1" stroke-linejoin="round" stroke-linecap="round"/>
<path d="M238.7 143.3L238.6 145.3L240.6 146.6L243.4 146L245.2 143.5L244.9 140.7L242.9 139.3L241.2 140L241.1 141.9L243.2 143.3L246 142.6L247.7 140L247.3 137.2L245.4 135.9L243.6 136.7L243.7 138.6L245.8 139.9L248.6 139.1L250.2 136.5L249.8 133.7L247.8 132.5L246.1 133.3L246.2 135.3L248.4 136.5L251.2 135.7L252.8 133L252.2 130.2L250.2 129.1L248.5 130L248.7 132L251 133.1L252.7 132.7L255.2 130.9L255.7 128.1L254.3 126.3L252.4 126.5L251.9 128.5L253.5 130.4L256.5 130.6L258.9 128.8L259.4 126L257.9 124.2L256 124.5L255.6 126.5L257.3 128.4L260.2 128.5L262.6 126.6L263 123.8L261.5 122.1L259.7 122.5L259.3 124.5L261 126.4L264 126.4L266.3 124.4L266.6 121.7L265.1 120L263.3 120.5L263 122.5L264.8 124.3L267.8 124.3L270 122.3L270.3 119.5L269.8 118.4L267.9 118.3L266.9 120.1L268 122.4L270.8 123.4L273.7 122.3L274.8 119.8L273.9 117.8L272 117.7L271.1 119.6L272.3 121.9L275.1 122.9L277.9 121.7L279 119.1L278 117.2L276.1 117.2L275.2 119.1L276.5 121.4L279.4 122.3L282.2 121L283.1 118.5L282.1 116.6L280.2 116.7L279.4 118.7L280.8 120.9L283.7 121.7L286.4 120.4L287.3 117.8L286.2 116L284.3 116.2L283.6 118.2L285 120.4L288 121.1L290.6 119.7L291.5 117.2L290.3 115.4L288.4 115.6" fill="none" stroke="#f6dd1c" stroke-width="8.06928446656726" stroke-linejoin="round" stroke-linecap="round" opacity="1"/>
<path d="M238.7 143.3L238.6 145.3L240.6 146.6L243.4 146L245.2 143.5L244.9 140.7L242.9 139.3L241.2 140L241.1 141.9L243.2 143.3L246 142.6L247.7 140L247.3 137.2L245.4 135.9L243.6 136.7L243.7 138.6L245.8 139.9L248.6 139.1L250.2 136.5L249.8 133.7L247.8 132.5L246.1 133.3L246.2 135.3L248.4 136.5L251.2 135.7L252.8 133L252.2 130.2L250.2 129.1L248.5 130L248.7 132L251 133.1L252.7 132.7L255.2 130.9L255.7 128.1L254.3 126.3L252.4 126.5L251.9 128.5L253.5 130.4L256.5 130.6L258.9 128.8L259.4 126L257.9 124.2L256 124.5L255.6 126.5L257.3 128.4L260.2 128.5L262.6 126.6L263 123.8L261.5 122.1L259.7 122.5L259.3 124.5L261 126.4L264 126.4L266.3 124.4L266.6 121.7L265.1 120L263.3 120.5L263 122.5L264.8 124.3L267.8 124.3L270 122.3L270.3 119.5L269.8 118.4L267.9 118.3L266.9 120.1L268 122.4L270.8 123.4L273.7 122.3L274.8 119.8L273.9 117.8L272 117.7L271.1 119.6L272.3 121.9L275.1 122.9L277.9 121.7L279 119.1L278 117.2L276.1 117.2L275.2 119.1L276.5 121.4L279.4 122.3L282.2 121L283.1 118.5L282.1 116.6L280.2 116.7L279.4 118.7L280.8 120.9L283.7 121.7L286.4 120.4L287.3 117.8L286.2 116L284.3 116.2L283.6 118.2L285 120.4L288 121.1L290.6 119.7L291.5 117.2L290.3 115.4L288.4 115.6" fill="none" stroke="#0a0a0a" stroke-width="2.1" stroke-linejoin="round" stroke-linecap="round"/>
<path d="M258.3 138.4L256.8 139.1L256.6 141.3L258.2 143.3L261 143.9L263.3 142.6L264 140.4L263 139L261.4 139.3L260.8 141.2L262 143.5L264.6 144.4L267.2 143.5L268.4 141.4L267.7 139.7L266.1 139.6L265.1 141.2L265.9 143.5L268.3 144.9L271.1 144.4L272.6 142.4L272.3 140.5L270.8 139.9L269.5 141.3L269.9 143.5L272 145.2L274.8 145.2L276.8 143.5L276.9 141.3L274.7 140.4L273.6 141.7L274.1 143.8L276.4 145.2L279.2 144.7L281 142.7L280.9 140.5L279.4 139.6L278 140.5L278.1 142.6L280.1 144.2L282.9 144.2L285 142.5L285.3 140.2L284.1 138.8L282.5 139.4L282.2 141.3L283.8 143.2L286.6 143.6L289 142.2L289.7 139.9L288.7 138.2L287.1 138.3L286.4 140.1L287.6 142.1L290.2 143L292.8 141.9L294 139.7L293.4 137.7" fill="none" stroke="#f6dd1c" stroke-width="7.693609121928716" stroke-linejoin="round" stroke-linecap="round" opacity="1"/>
<path d="M258.3 138.4L256.8 139.1L256.6 141.3L258.2 143.3L261 143.9L263.3 142.6L264 140.4L263 139L261.4 139.3L260.8 141.2L262 143.5L264.6 144.4L267.2 143.5L268.4 141.4L267.7 139.7L266.1 139.6L265.1 141.2L265.9 143.5L268.3 144.9L271.1 144.4L272.6 142.4L272.3 140.5L270.8 139.9L269.5 141.3L269.9 143.5L272 145.2L274.8 145.2L276.8 143.5L276.9 141.3L274.7 140.4L273.6 141.7L274.1 143.8L276.4 145.2L279.2 144.7L281 142.7L280.9 140.5L279.4 139.6L278 140.5L278.1 142.6L280.1 144.2L282.9 144.2L285 142.5L285.3 140.2L284.1 138.8L282.5 139.4L282.2 141.3L283.8 143.2L286.6 143.6L289 142.2L289.7 139.9L288.7 138.2L287.1 138.3L286.4 140.1L287.6 142.1L290.2 143L292.8 141.9L294 139.7L293.4 137.7" fill="none" stroke="#0a0a0a" stroke-width="2.1" stroke-linejoin="round" stroke-linecap="round"/>
<path d="M224.5 151.7L223.8 153.2L224.8 155L227.2 155.7L229.8 154.8L231.3 152.5L231 150.1L229.5 148.9L228 149.5L227.8 151.2L229.3 152.8L231.9 153.1L234.2 151.6L235.2 149.1L234.5 147L232.8 146.3L231.6 147.3L231.9 149.2L233.8 150.5L236.5 150.2L238.6 148.4L239 145.8L237.9 144.1L236.2 143.9L235.3 145.3" fill="none" stroke="#f6dd1c" stroke-width="7.912230161811868" stroke-linejoin="round" stroke-linecap="round" opacity="1"/>
<path d="M224.5 151.7L223.8 153.2L224.8 155L227.2 155.7L229.8 154.8L231.3 152.5L231 150.1L229.5 148.9L228 149.5L227.8 151.2L229.3 152.8L231.9 153.1L234.2 151.6L235.2 149.1L234.5 147L232.8 146.3L231.6 147.3L231.9 149.2L233.8 150.5L236.5 150.2L238.6 148.4L239 145.8L237.9 144.1L236.2 143.9L235.3 145.3" fill="none" stroke="#0a0a0a" stroke-width="2.1" stroke-linejoin="round" stroke-linecap="round"/>
<path d="M121.3 226.9L121.6 225.2L120.1 223.6L117.5 223.4L115.1 225L114.1 227.7L114.9 230.1L116.7 231.2L118.3 230.4L118.4 228.6L116.8 227.1L114.1 227.2L111.8 228.9L111 231.6L112 234L113.9 234.8L115.3 233.9L115.2 232.1L113.4 230.7L110.8 230.9L108.6 232.8L108 235.6L109.1 237.8L111 238.4L112.3 237.3L112.1 235.5L110.1 234.3L107.4 234.7L105.4 236.7L104.7 238.5L105.2 240.8L106.9 241.8L108.4 241.1L108.5 239.2L106.9 237.5L104.1 237.2L101.6 238.7L100.6 241.2L101.3 243.5L103 244.3L104.4 243.4L104.4 241.4L102.6 239.9L99.8 239.8L97.4 241.4L96.5 244L97.4 246.2L99.1 246.8L100.5 245.7L100.2 243.7L98.2 242.3L95.4 242.4L93.2 244.2L92.5 246.8L92.6 248.1L94.1 249.1L95.7 248.4L95.9 246.4L94.4 244.4L91.7 243.7L89 244.8L87.6 247L88.1 249.2L89.7 250.1L91.1 249.1L91.2 247.1L89.5 245.2L86.7 244.6L84.1 245.9L82.9 248.2L83.5 250.3L85.2 251L86.5 249.9L86.4 247.8L84.6 245.9L81.7 245.6L79.2 247L78.3 249.4L79 251.4L80.7 251.9L81.9 250.6L81.7 248.5L79.6 246.8L76.8 246.6L74.4 248.2L73.6 250.6L74.5 252.5L76.2 252.8L77.4 251.3L76.8 249.1L74.6 247.6L71.7 247.7L69.5 249.5L69 251.9L70.1 253.6L71.8 253.7L72.7 252.1L72 249.9L69.7 248.6L66.8 248.9L64.8 250.8L64.4 253.2L65.6 254.8L67.3 254.6L68.1 252.9L67.2 250.8L64.7 249.5L61.9 250.1L60 252.1L59.8 254.5L61.1 255.9L62.8 255.5L63.5 253.7L62.3 251.6L59.8 250.5L57 251.2L55.2 253.4L55.3 255.7L56.7 257" fill="none" stroke="#f6dd1c" stroke-width="8.338447980644949" stroke-linejoin="round" stroke-linecap="round" opacity="1"/>
<path d="M121.3 226.9L121.6 225.2L120.1 223.6L117.5 223.4L115.1 225L114.1 227.7L114.9 230.1L116.7 231.2L118.3 230.4L118.4 228.6L116.8 227.1L114.1 227.2L111.8 228.9L111 231.6L112 234L113.9 234.8L115.3 233.9L115.2 232.1L113.4 230.7L110.8 230.9L108.6 232.8L108 235.6L109.1 237.8L111 238.4L112.3 237.3L112.1 235.5L110.1 234.3L107.4 234.7L105.4 236.7L104.7 238.5L105.2 240.8L106.9 241.8L108.4 241.1L108.5 239.2L106.9 237.5L104.1 237.2L101.6 238.7L100.6 241.2L101.3 243.5L103 244.3L104.4 243.4L104.4 241.4L102.6 239.9L99.8 239.8L97.4 241.4L96.5 244L97.4 246.2L99.1 246.8L100.5 245.7L100.2 243.7L98.2 242.3L95.4 242.4L93.2 244.2L92.5 246.8L92.6 248.1L94.1 249.1L95.7 248.4L95.9 246.4L94.4 244.4L91.7 243.7L89 244.8L87.6 247L88.1 249.2L89.7 250.1L91.1 249.1L91.2 247.1L89.5 245.2L86.7 244.6L84.1 245.9L82.9 248.2L83.5 250.3L85.2 251L86.5 249.9L86.4 247.8L84.6 245.9L81.7 245.6L79.2 247L78.3 249.4L79 251.4L80.7 251.9L81.9 250.6L81.7 248.5L79.6 246.8L76.8 246.6L74.4 248.2L73.6 250.6L74.5 252.5L76.2 252.8L77.4 251.3L76.8 249.1L74.6 247.6L71.7 247.7L69.5 249.5L69 251.9L70.1 253.6L71.8 253.7L72.7 252.1L72 249.9L69.7 248.6L66.8 248.9L64.8 250.8L64.4 253.2L65.6 254.8L67.3 254.6L68.1 252.9L67.2 250.8L64.7 249.5L61.9 250.1L60 252.1L59.8 254.5L61.1 255.9L62.8 255.5L63.5 253.7L62.3 251.6L59.8 250.5L57 251.2L55.2 253.4L55.3 255.7L56.7 257" fill="none" stroke="#0a0a0a" stroke-width="2.1" stroke-linejoin="round" stroke-linecap="round"/>
<path d="M114.3 241.9L114.8 240.4L113.4 238.8L110.9 238.8L108.8 240.6L108.6 243L109.9 244.4L111.3 244L111.3 242.3L109.5 241L106.9 241.5L105.2 243.6L105.5 245.9L107 246.8L108.2 245.9L107.7 244.1L105.5 243.3L103 244.3L101.8 246.6L102.5 248.7L104.1 249.1L104.9 247.8L103.9 246.1L101.4 245.7L99.1 247.2L98.5 249.6L99.6 251.3L101.2 251.2L101.5 249.6L100 248.2L97.4 248.3L95.5 250.1L95.3 252.6L96.7 253.8L98.1 253.2L98 251.7L96.1 250.3L93.5 250.7L91.8 252.8L92 255.1L93.5 256L94.7 255.1L94.1 253.3L91.9 252.3L89.4 253.2L88.2 255.5L88.8 257.6L90.4 258L91.2 256.7L90.2 254.9L87.7 254.4L85.4 255.8L84.7 258.2L85.7 260L87.3 259.8L87.6 258.2L86.1 256.7L83.5 256.7L81.5 258.5L81.3 260.9L82.7 262.2L84 261.5L83.9 259.8L81.9 258.6L79.3 259.1L77.7 261.2L78.1 263.5L79.6 264.3L80.9 262.8L79.8 261.2L77.4 260.9L75.2 262.4L74.7 264.9L75.8 266.7L77.4 266.6L77.8 265.1L76.3 263.7L73.7 263.9L71.9 265.8L71.8 268.3L73.3 269.6L74.7 269L74.6 267.4L72.6 266.3L70.1 267L68.7 269.3L69.1 271.6L70.8 272.4L71.9 271.4L71.2 269.7L68.9 269L66.6 270.3L65.6 272.7L66.5 274.7L68.2 275" fill="none" stroke="#f6dd1c" stroke-width="7.0791719148175325" stroke-linejoin="round" stroke-linecap="round" opacity="1"/>
<path d="M114.3 241.9L114.8 240.4L113.4 238.8L110.9 238.8L108.8 240.6L108.6 243L109.9 244.4L111.3 244L111.3 242.3L109.5 241L106.9 241.5L105.2 243.6L105.5 245.9L107 246.8L108.2 245.9L107.7 244.1L105.5 243.3L103 244.3L101.8 246.6L102.5 248.7L104.1 249.1L104.9 247.8L103.9 246.1L101.4 245.7L99.1 247.2L98.5 249.6L99.6 251.3L101.2 251.2L101.5 249.6L100 248.2L97.4 248.3L95.5 250.1L95.3 252.6L96.7 253.8L98.1 253.2L98 251.7L96.1 250.3L93.5 250.7L91.8 252.8L92 255.1L93.5 256L94.7 255.1L94.1 253.3L91.9 252.3L89.4 253.2L88.2 255.5L88.8 257.6L90.4 258L91.2 256.7L90.2 254.9L87.7 254.4L85.4 255.8L84.7 258.2L85.7 260L87.3 259.8L87.6 258.2L86.1 256.7L83.5 256.7L81.5 258.5L81.3 260.9L82.7 262.2L84 261.5L83.9 259.8L81.9 258.6L79.3 259.1L77.7 261.2L78.1 263.5L79.6 264.3L80.9 262.8L79.8 261.2L77.4 260.9L75.2 262.4L74.7 264.9L75.8 266.7L77.4 266.6L77.8 265.1L76.3 263.7L73.7 263.9L71.9 265.8L71.8 268.3L73.3 269.6L74.7 269L74.6 267.4L72.6 266.3L70.1 267L68.7 269.3L69.1 271.6L70.8 272.4L71.9 271.4L71.2 269.7L68.9 269L66.6 270.3L65.6 272.7L66.5 274.7L68.2 275" fill="none" stroke="#0a0a0a" stroke-width="2.1" stroke-linejoin="round" stroke-linecap="round"/>
<path d="M106.6 234.8L107.9 233.6L107.6 231.4L105.4 229.8L102.5 229.9L100.3 231.7L99.9 234.2L101.2 235.7L102.9 235.4L103.5 233.6L102.2 231.5L99.5 230.6L96.8 231.6L95.4 233.9L95.9 236.1L97.6 236.8L98.9 235.7L98.7 233.5L96.6 231.8L93.7 231.8L91.4 233.6L90.9 236L92.1 237.7L93.8 237.5L94.6 235.7L93.4 233.6L90.8 232.6L88 233.5L86.5 235.7L86.8 238L88.5 238.8L89.7 238L89.8 235.8L88.1 233.9L85.2 233.4L82.7 234.8L81.8 237.2L82.7 239.1L84.4 239.2L85.4 237.6L84.7 235.3L82.2 233.9L79.3 234.4L77.4 236.4L77.4 238.7L78.9 239.9L80.5 239.1L80.8 237L79.1 235L76.3 234.4L73.7 235.7L72.6 238.1L73.5 240L75.2 240.3L76.3 238.7L75.6 236.5L73.3 235L70.4 235.3L68.4 237.3L68.3 239.6L69.7 240.9" fill="none" stroke="#f6dd1c" stroke-width="8.16969842938123" stroke-linejoin="round" stroke-linecap="round" opacity="1"/>
<path d="M106.6 234.8L107.9 233.6L107.6 231.4L105.4 229.8L102.5 229.9L100.3 231.7L99.9 234.2L101.2 235.7L102.9 235.4L103.5 233.6L102.2 231.5L99.5 230.6L96.8 231.6L95.4 233.9L95.9 236.1L97.6 236.8L98.9 235.7L98.7 233.5L96.6 231.8L93.7 231.8L91.4 233.6L90.9 236L92.1 237.7L93.8 237.5L94.6 235.7L93.4 233.6L90.8 232.6L88 233.5L86.5 235.7L86.8 238L88.5 238.8L89.7 238L89.8 235.8L88.1 233.9L85.2 233.4L82.7 234.8L81.8 237.2L82.7 239.1L84.4 239.2L85.4 237.6L84.7 235.3L82.2 233.9L79.3 234.4L77.4 236.4L77.4 238.7L78.9 239.9L80.5 239.1L80.8 237L79.1 235L76.3 234.4L73.7 235.7L72.6 238.1L73.5 240L75.2 240.3L76.3 238.7L75.6 236.5L73.3 235L70.4 235.3L68.4 237.3L68.3 239.6L69.7 240.9" fill="none" stroke="#0a0a0a" stroke-width="2.1" stroke-linejoin="round" stroke-linecap="round"/>
<path d="M117.3 252.4L118.2 250.8L117 248.8L114.3 248.1L111.6 249.5L110.7 252.2L111.7 254.3L113.6 254.4L114.4 252.8L113.2 250.7L110.5 250.1L107.8 251.5L106.9 254.2L108 256.3L109.8 256.4L110.7 254.7L109.5 252.7L106.7 252.1L104.1 253.6L103.2 256.2L104.3 258.3L106.1 258.4L106.9 256.7L105.7 254.7L102.9 254.1L100.3 255.6L99.4 258.3L100.5 260.3L101.6 260.7L102.9 259.3L102.3 257L99.8 255.6L96.9 256.2L95.2 258.5L95.6 260.7L97.4 261.4L98.7 260L98.1 257.7L95.6 256.3L92.7 256.9L91 259.2L91.5 261.5L93.2 262.1L94.5 260.7L93.9 258.4L91.4 257L88.5 257.6L86.8 259.9L87.3 262.2" fill="none" stroke="#f6dd1c" stroke-width="7.937622562016308" stroke-linejoin="round" stroke-linecap="round" opacity="1"/>
<path d="M117.3 252.4L118.2 250.8L117 248.8L114.3 248.1L111.6 249.5L110.7 252.2L111.7 254.3L113.6 254.4L114.4 252.8L113.2 250.7L110.5 250.1L107.8 251.5L106.9 254.2L108 256.3L109.8 256.4L110.7 254.7L109.5 252.7L106.7 252.1L104.1 253.6L103.2 256.2L104.3 258.3L106.1 258.4L106.9 256.7L105.7 254.7L102.9 254.1L100.3 255.6L99.4 258.3L100.5 260.3L101.6 260.7L102.9 259.3L102.3 257L99.8 255.6L96.9 256.2L95.2 258.5L95.6 260.7L97.4 261.4L98.7 260L98.1 257.7L95.6 256.3L92.7 256.9L91 259.2L91.5 261.5L93.2 262.1L94.5 260.7L93.9 258.4L91.4 257L88.5 257.6L86.8 259.9L87.3 262.2" fill="none" stroke="#0a0a0a" stroke-width="2.1" stroke-linejoin="round" stroke-linecap="round"/>
<text x="249" y="104.7" font-size="23.5" font-weight="bold" fill="#1d1d1b"><tspan font-weight="normal" font-size="22.5">Δ</tspan>N</text>
<text x="74.5" y="293.6" font-size="23.5" font-weight="bold" fill="#1d1d1b"><tspan font-weight="normal" font-size="22.5">Δ</tspan>N</text>
<text x="264.50" y="206.70" font-size="15" font-weight="bold" text-anchor="start" fill="#1d1d1b" >Rho</text>
<rect x="164.5" y="329.8" width="23.2" height="5.4" fill="#1d1d1b"/><rect x="173.2" y="321" width="5.6" height="22.9" fill="#1d1d1b"/>
<path d="M105.4,509.9 A79.8,79.8 0 0 1 171.7,390.2 L172.5,413.8 A56.2,56.2 0 0 0 125.8,498.1 Z" fill="#d11f1f"/>
<path d="M171.7,390.2 A79.8,79.8 0 0 1 243.6,509.9 L223.2,498.1 A56.2,56.2 0 0 0 172.5,413.8 Z" fill="#0b7268"/>
<path d="M243.6,509.9 A79.8,79.8 0 0 1 105.4,509.9 L125.8,498.1 A56.2,56.2 0 0 0 223.2,498.1 Z" fill="#2e3a8c"/>
<path d="M105.2 507.6q1.8 1.4 2.8 -0.5 1 -2 2.7 -1.3 1.6 0.9 2.7 -0.3 1.1 -1.6 2.8 -1M124.2 497.3q-1.9 -0.6 -2.7 1.6 -0.5 1.5 -2.3 1.2 -1.8 -0.6 -2.3 1 -0.7 2.2 -2.6 1.8M103.2 503.7q2.2 0.2 1.8 -2 0.3 -1.9 2.5 -2 2.1 0.4 1.5 -2.1 -0.2 -2.3 2.2 -2.1M122.8 494.4q-1.9 -0.2 -2.3 1.8 -0.3 1.8 -2.2 1.7 -1.8 -0.1 -2.3 1.6 -0.2 2.2 -2.4 1.8M102.6 502.3q1.4 1 2.8 -0.2 1.4 -1.4 2.8 0.3 1.5 0.9 2.8 -0.3 1.4 -1.2 2.8 -0.5M122.3 493.4q-2 -1.1 -2.7 0.7 -0.8 1.8 -2.5 1.3 -1.8 -0.6 -2.8 1.2 -0.4 2.3 -2.4 1.1M100.8 497.8q1.5 1.4 2.8 0 1.3 -1.7 2.8 -0.4 1.5 0.9 2.8 0.1 1.3 -2.3 2.8 -0.2M121 490.2q-2.1 -0.1 -1.9 1.9 -0.2 2 -2.2 2 -2.2 -0.4 -2.1 2 -0.1 1.7 -1.8 1.9M99.8 495.1q1.9 1.3 2.8 -1.1 0.8 -1.5 2.6 -1.1 1.9 1.5 2.6 -0.4 1 -2 2.8 -0.6M120.3 488.3q-1.7 -0.1 -2.3 1.5 -0.6 2.1 -2.7 1.2 -2.1 -1.2 -2.3 1.4 -0.6 1.9 -2.6 0.9M98.9 492.1q1.3 1.7 2.8 0.2 1.5 -1.1 2.8 0.5 1.4 0.7 2.8 -0.3 1.5 -1 2.8 0.5M119.6 486q-2.2 -0.6 -2.5 1.9 -0.5 1.3 -2.2 1.1 -2 -0.2 -2.3 1.9 -0.3 2 -2.5 1.5M97.7 487.5q1.9 1.5 2.8 -0.7 1 -1.6 2.6 -0.3 1.8 0.9 2.7 -1.1 1.1 -1.7 2.8 -0.9M118.7 482.7q-1.2 -1.6 -2.8 -0.2 -1.7 1.6 -2.8 -0.6 -1.2 -1.6 -2.8 -0.4 -1.6 1.4 -2.9 -0.3M97.2 485.3q1.7 0.8 2.7 -0.8 1.2 -1.1 2.9 -0.9 1.8 1.9 2.7 -0.5 1 -1.7 2.7 -0.3M118.4 481.1q-2 -1.4 -2.5 1.3 -0.7 2 -2.8 0.9 -1.9 -1.2 -2.5 0.8 -0.9 1.7 -2.7 0.9M96.4 480.3q1.9 1 2.7 -0.7 0.8 -2.1 2.7 -0.9 1.7 0.5 2.5 -0.9 0.8 -2.3 2.7 -1.1M117.8 477.5q-1.5 -1.5 -2.8 0.3 -1.4 1.2 -2.8 -0.3 -1.5 -1.7 -2.8 -0.1 -1.3 2.2 -2.8 0.6M96 476.6q2.1 1.2 2.7 -1.4 0.7 -1.4 2.6 -0.8 1.6 0.2 2.5 -1.5 0.5 -2.1 2.6 -1.3M117.5 474.8q-1.5 -0.7 -2.8 0.2 -1 2.3 -2.7 0.5 -1.7 -0.6 -2.9 0.6 -1.1 2 -2.7 0.9M95.8 473.6q1.8 0.7 2.8 -1.1 0.8 -1.5 2.5 -1.1 1.9 1.3 2.5 -0.7 0.7 -2.5 2.6 -1.2M117.4 472.6q-1.5 -0.9 -2.8 0.4 -1.2 1.6 -2.7 -0.2 -1.6 -1.6 -2.9 0.9 -1.2 1.5 -2.8 0M95.7 471.5q1.9 1.4 2.7 -0.7 0.7 -2.3 2.6 -1 1.8 0.7 2.7 -1 0.7 -2.1 2.6 -0.9M117.3 471.1q-1.7 -0.3 -2.5 1.4 -0.9 1.5 -2.7 0.4 -1.7 -0.1 -2.8 1.6 -0.5 2 -2.4 0.9M95.8 466.9q1.5 0.8 2.8 -0.1 1.3 -2 2.9 -0.6 1.5 1.9 2.8 0 1.3 -1.4 2.8 0.1M117.3 467.7q-1.6 -1.1 -2.8 0.5 -1 2.1 -2.7 0.6 -1.7 -1.6 -2.8 0.5 -1 2.2 -2.7 0.1M96 463q1 1.8 2.7 0.4 1.9 -0.9 2.7 1 1 2.2 2.8 0.8 1.9 -1.4 2.8 0.5M117.5 464.9q-1.2 -1.9 -2.8 -0.3 -1.6 1.7 -2.8 -0.6 -1.2 -1.2 -2.8 -0.2 -1.6 1.6 -2.8 0.1M96.3 460.3q0.3 2.5 2.4 1.4 2.1 -1.1 2.5 0.9 0.9 1.8 2.6 1.2 2.1 -0.4 2.7 1.9M117.7 463q-1.1 -1.5 -2.8 -0.6 -1.7 1.2 -2.7 -0.7 -1.1 -1.2 -2.8 -0.8 -1.6 1.1 -2.8 -0.1M97.1 455.5q0.6 1.9 2.5 1.3 2.1 -0.9 2.2 1.8 0.5 2.1 2.6 0.8 2.3 -0.8 2.7 1.8M118.3 459.4q-1.4 -1 -2.8 0 -1.5 1.7 -2.8 -0.5 -1.3 -1.4 -2.8 0.1 -1.5 1 -2.8 -0.6M97.8 452q1.5 1.1 2.8 -0.3 1.3 -1.1 2.8 -0.4 1.5 1.8 2.8 0.1 1.4 -1.2 2.8 0.3M118.8 456.9q-0.7 -1.9 -2.4 -1 -1.9 0.2 -2.7 -1.6 -0.6 -2 -2.6 -1.2 -1.8 0.7 -2.4 -1.2M98.6 449q0.7 2.3 2.7 1.2 1.8 -1.3 2.6 0.4 1 2 2.8 1 1.9 -1.4 2.6 0.6M119.4 454.7q-0.6 -2 -2.6 -1 -2.1 0.9 -2.3 -1.7 -0.8 -1.9 -2.9 -0.9 -1.7 0.4 -2.5 -1.3M99.2 446.7q1.2 1.3 2.8 1 1.7 -1.6 2.7 0.2 1 1.7 2.7 0.4 1.8 -1.2 2.7 1M119.9 453.1q0.1 -2.3 -2.1 -1.8 -2.2 0.4 -2.2 -1.5 -0.1 -2.3 -1.9 -2.2 -1.9 -0.1 -2.2 -1.4M100.5 443q1.3 1.4 2.8 0.3 1.5 -1.7 2.8 0.1 1.4 1.1 2.9 -0.1 1.5 -0.6 2.8 0.4M120.8 450.4q-1.3 -2 -2.8 -0.1 -1.5 1.8 -2.8 -0.1 -1.4 -1 -2.8 -0.5 -1.5 1.9 -2.8 0.1M101.7 439.7q0.7 2.1 2.5 1.4 2.2 -1.7 2.5 1 0.8 1.9 2.7 0.6 1.8 -0.3 2.6 1.3M121.7 448q-1.5 -1.8 -2.8 0.3 -1.4 1.9 -2.8 -0.4 -1.4 -0.9 -2.8 0.4 -1.4 1.5 -2.8 -0.2M102.8 437.2q0.6 1.7 2.5 1.7 1.7 -0.3 2.3 1.1 0.3 2.4 2.5 1.7 2.2 -0.9 2.2 1.6M122.5 446.2q-1.4 -1.2 -2.8 -0.2 -1.4 1.2 -2.8 0.3 -1.4 -2.1 -2.8 -0.2 -1.4 1.1 -2.8 -0.3M104.8 433.2q1.2 1.3 2.8 0.3 1.7 -1.3 2.8 0.3 1.2 1.5 2.7 0.8 1.6 -0.7 2.9 0.5M123.9 443.3q-0.9 -2.2 -2.8 -0.7 -1.7 1.2 -2.7 -1 -0.9 -1.5 -2.8 -0.5 -1.5 0.8 -2.6 -0.7M106.6 429.9q1.3 1.1 2.8 0.6 1.6 -1.3 2.8 0.3 1.3 0.9 2.8 -0.3 1.6 -0.7 2.9 0.5M125.2 440.9q-0.7 -1.5 -2.2 -1.2 -2.3 0.6 -2.7 -1.9 -0.4 -1.8 -2.4 -1.3 -2 0.8 -2.5 -1M108.7 426.6q0.2 2 1.9 1.8 2.5 -0.4 2.6 1.7 -0.2 2.3 2.1 2.2 2.3 -1 2 1.6M126.8 438.5q-0.6 -2.2 -2.5 -1 -2 0.9 -2.7 -0.9 -1 -1.6 -2.8 -1.3 -1.8 1 -2.4 -0.9M109.8 425.1q0.7 1.7 2.5 1.4 2 -0.8 2.5 1.2 0.3 2.2 2.3 1.4 2.1 -0.5 2.4 2M127.5 437.4q0.6 -2.1 -1.8 -2.4 -1.5 -0.5 -1.4 -2.2 0.8 -2.3 -1.3 -2.5 -1.9 -0.7 -1.3 -2.5M112.7 421.1q0.4 2.4 2.5 1.2 1.8 -0.3 2.6 0.9 0.8 2 2.4 1.3 1.9 -0.1 2.7 1.8M129.7 434.5q-0.8 -1.8 -2.6 -0.7 -1.9 0.6 -2.8 -1.2 -0.7 -1.9 -2.4 -1.1 -1.9 0.6 -2.8 -0.9M114 419.5q0.3 2.2 2.5 1.3 1.6 0.1 2.3 1.5 0.7 1.9 2.4 1.9 2.2 -0.9 2.7 1.3M130.6 433.3q-0.1 -1.7 -1.8 -2.4 -1.9 -0.1 -1.8 -2.3 0.3 -1.6 -1.7 -2.1 -2.3 0.2 -1.4 -1.9M116.1 417.1q0.5 2.2 2.3 1 2.2 -0.6 2.6 1.3 0.4 2.7 2.6 1.6 2 -0.9 2.4 1.5M132.1 431.6q-0.8 -2 -2.8 -1.2 -1.9 1.5 -2.5 -0.8 -0.7 -2.3 -2.6 -1 -1.9 0.9 -2.9 -1.2M118.6 414.5q0.7 2 2.5 1 1.9 -0.5 2.9 0.8 0.7 2 2.5 1.1 2 -1.1 2.4 1.6M133.9 429.7q-0.4 -2.2 -2.6 -1.4 -1.8 0.6 -2.4 -1.6 -0.6 -1.5 -2.3 -1.4 -2.2 0.9 -2.7 -0.9M122.6 410.7q-0.7 1.7 0.8 2.7 2.4 0.7 1.3 2.5 -0.8 1.7 0.5 2.7 2.2 0.8 1.3 2.8M136.9 426.9q-0.3 -2 -2.2 -2 -1.9 0.3 -2.1 -1.1 -0.6 -2 -2.3 -1.7 -2.4 0.4 -2.1 -1.8M125.1 408.6q-1 2.3 1.5 2.4 2.4 0.2 1.6 2.6 -0.6 1.7 1.4 2.4 2.2 0.1 1.6 2.3M138.7 425.4q1 -1.7 -0.7 -2.8 -2.1 -0.9 -0.8 -2.7 0.8 -1.7 -0.5 -2.7 -2.2 -0.9 -1.2 -2.8M126.7 407.3q-1.3 1.9 1 2.6 1.4 1.1 1 2.9 -1.5 1.8 1.1 2.4 1.6 1 0.6 2.8M139.8 424.5q1.3 -2 -1.3 -2.8 -1.6 -0.7 -0.7 -2.4 0.6 -1.8 -1.2 -2.7 -1.7 -0.8 -0.9 -2.6M129.5 405.3q0.1 2.4 2.4 1.5 1.7 -0.1 2.1 1.3 0.4 2.6 2.8 1.7 1.8 -0.3 2.2 1.8M141.8 423.1q0.8 -2.1 -1.8 -2.3 -1.5 -0.7 -1.2 -2.5 0.2 -1.8 -1.7 -2.3 -1.3 -0.9 -1.1 -2.8M133.5 402.7q-0.1 2.2 2 1.8 2.3 -0.3 2.2 2 0.2 1.8 2.1 2.3 1.9 -0.3 1.8 1.7M144.8 421.1q0 -1.9 -1.9 -2 -2.1 -0.1 -2.2 -2.1 0.1 -1.8 -1.7 -2.1 -2.4 0.3 -1.7 -2.3M136.2 401.1q-0.6 2.3 2 2.1 1.4 0.5 1.4 2.4 -0.5 2.2 2.2 2.2 2 -0.2 1.6 2M146.7 420q1.1 -1.7 -0.3 -2.8 -2 -1 -1 -2.6 1.6 -1.9 -0.4 -2.7 -1.9 -1.1 -1.1 -2.8M139.9 399.2q-1 1.8 0.8 2.5 2 1 0.9 2.9 -1.1 1.9 1.3 2.7 2.2 0.5 0.7 2.6M149.4 418.6q-0.1 -1.8 -2 -2.1 -2.2 0.3 -1.8 -2.3 0.6 -2.1 -2 -1.6 -2.2 0.1 -1.6 -2.5M143.6 397.5q0 1.7 1.3 2.6 2.2 0.2 1.7 2 -0.8 2.5 1.6 2.8 2.3 0 1.7 2M152.1 417.4q1.3 -2 -1 -2.6 -1.6 -0.9 -1.4 -2.5 0.9 -1.9 -0.8 -2.8 -1.7 -0.7 -1.3 -2.6M147.1 396.1q-0.3 1.9 1.6 2.2 1.6 0.8 1.5 2.4 -0.2 1.9 1.4 2.5 2.3 0.3 1.7 2.5M154.6 416.4q2.1 -1.4 -0.3 -2.8 -0.6 -1.4 0 -2.8 1.4 -1.4 0.1 -2.8 -1.6 -1.4 0.5 -2.8M149.4 395.3q-1.4 1.6 0.6 2.8 1 1.3 0 2.9 -1 1.5 0.4 2.8 1.7 1.2 0.3 2.8M156.3 415.8q1.5 -2 -1.2 -2.8 -1.6 -0.7 -0.2 -2.5 0.8 -1.9 -1.6 -2.6 -1.7 -0.9 -0.7 -2.8M153.9 393.9q-1.4 1.7 0.5 2.7 2.4 1 0.7 2.7 -1.2 1.8 0.6 2.8 1.6 1.1 0.9 2.9M159.6 414.8q0.9 -1.7 -0.7 -2.8 -1.7 -1 -0.5 -2.7 1.4 -1.9 -0.7 -2.8 -1.6 -1.1 -0.7 -2.8M156.9 393.2q-0.2 1.9 2 2.4 2.1 -0.1 1.2 2.3 -0.3 2 1.6 2.2 2.5 0 2 2.3M161.7 414.2q0.8 -1.5 -0.3 -2.8 -1.2 -1.3 -0.2 -2.8 1.6 -1.6 -0.1 -2.8 -2.1 -1.2 -0.7 -2.8M159.8 392.6q-1.3 1.9 0.9 2.7 1.9 0.9 0.8 2.8 -1.2 1.9 0.9 2.5 1.5 1.1 1.4 2.6M163.8 413.8q0.7 -1.6 -0.5 -2.8 -1.6 -1.1 -0.2 -2.7 0.9 -1.7 -1 -2.7 -1.6 -1.2 -0.6 -2.8M162.4 392.1q-2.1 1.3 0.1 2.8 1.8 1.5 -0.4 2.8 -2.1 1.3 -0.2 2.8 2.1 1.5 -0.3 2.8M165.7 413.5q2 -0.9 0.5 -2.7 -0.7 -1.7 1.1 -2.7 1.1 -1.1 0.8 -2.7 -1 -1.6 0.6 -2.8M166.8 391.6q-0.8 1.6 0.1 2.8 1.5 1.2 0.5 2.8 -1.3 1.7 0.5 2.7 1.7 1.2 0.9 2.9M168.9 413.1q1.9 -0.9 0.9 -2.6 -1.2 -1.9 0.6 -2.9 2.4 -0.7 0.6 -2.7 -1.1 -1.8 0.7 -2.7M170.1 391.3q-0.9 1.7 1.2 2.7 1 1 0.6 2.6 -1.4 1.9 0.9 2.8 1.1 1.1 0.5 2.7M171.3 412.9q1.5 -1 0.7 -2.6 -0.4 -1.7 1 -2.8 1.6 -1 0.6 -2.7 -0.2 -1.6 0.7 -2.7" fill="none" stroke="#141414" stroke-width="0.95"/>
<path d="M171.7,390.2 A79.8,79.8 0 0 1 243.6,509.9 L223.2,498.1 A56.2,56.2 0 0 0 172.5,413.8 Z" fill="url(#pt)"/>
<path d="M243.6,509.9 A79.8,79.8 0 0 1 105.4,509.9 L125.8,498.1 A56.2,56.2 0 0 0 223.2,498.1 Z" fill="url(#pt)"/>
<path d="M194.3 545.7q-0.8 2.1 1.4 2.4 2.7 0 1.2 2.4 -0.8 2.3 1.7 2.2 2.8 0.1 1.5 2.4M136.4 538.4q-2.3 0.5 -1.5 2.6 1.4 2.8 -1.7 2.9 -2.1 0.5 -1.5 2.5 1 2.4 -1.5 2.9M166.1 547.8q-1.2 1.4 0.1 2 2.1 0.8 1.1 2.3 -2.1 1.5 0.4 2 2.2 0.6 0.2 2.2M140.5 540.5q-2.5 -0.5 -1.2 1.7 1.2 1.5 -1 1.2 -2.2 -0.3 -0.9 1.9 1.8 1.9 -1 1.5M115 520.9q-2.3 -1.9 -2.8 1.2 -0.8 2.5 -2.9 0.8 -2.3 -1.8 -3.1 0.9 -0.8 2.1 -2.9 0.5M153.8 545.5q-1.5 0.9 -0.3 2.1 1.5 1.2 -0.3 2.1 -1.9 0.9 0 2.1 1.1 1.1 -0.2 2.1M117.7 523.9q-1.6 -1.1 -2.7 0.6 -0.8 2.7 -2.7 0.7 -1.5 -1.3 -2.5 0 -1 2.2 -2.7 0.8M159.3 546.8q-1.9 1.6 0.8 1.9 2.1 0.4 0 2.2 -1.7 1.6 0.8 1.7 1.8 0.7 0.7 2.1M123.7 529.6q-1.4 1.2 -0.6 2.7 1.9 1.5 -0.4 2.5 -2.3 1.1 -0.4 2.7 2.1 1.6 -0.2 2.6M158.9 546.7q-2.4 0.8 -0.4 2.2 2.5 1.5 -0.4 2.4 -1.8 0.8 -0.1 2.2 2.3 1.5 -0.1 2.4M119.7 526q-1.5 -1.8 -2.2 0.6 -0.7 2.2 -2.2 0.1 -1.4 -1.1 -2.2 0.8 -0.5 2.8 -2.2 0.1M109.4 513.5q-1.8 0.8 -1.1 2.6 0.6 1.9 -1.2 2.6 -2 0.7 -1.1 2.7 0.7 1.8 -0.9 2.5M152.4 545.1q-2.8 0.6 -1.2 2.8 1.6 2 -0.6 2.8 -3 0.4 -0.8 2.7 1.5 2.1 -1.1 2.6M240.5 512.1q0.9 2.3 2.3 0.7 1.6 -2.5 2.4 0.4 1 1 2.3 -0.2 1.4 -0.9 2.4 0.8M109.3 513.3q-2.7 -0.5 -2 2.2 -0.4 2.2 -2.4 2.2 -2.3 0.2 -2.3 2.6 -0.1 2 -2.3 2.2M233 522.1q-0.7 2.6 1.6 1 1.4 -0.4 1.3 1 0.2 1.8 1.7 1.6 2.2 -1.8 1.5 0.9M235.5 519q-0.8 1.9 0.9 2.5 2.5 0.7 1.5 2.7 -1 1.9 0.9 2.5 1.7 0.9 1.4 2.8M183.1 547.8q-1.4 1.5 0.5 2.7 2.2 1.1 -0.2 2.7 -1.7 1.5 0.6 2.7 2 1.1 -0.2 2.7M161.6 547.2q-2.6 0.2 -0.9 2.2 0.8 1.9 -1.2 2.5 -2.1 0.3 -1.3 2.3 1.1 1.6 -0.8 2.1M144.6 542.4q-2.5 -0.1 -1.4 2.3 0.2 2.1 -1.5 2.3 -3.3 -0.4 -1.9 2.2 0.9 2.5 -1.3 2.4M107.7 510.8q-1.9 -2 -2.1 0.4 -0.1 3 -2 1.1 -1.7 -1.5 -2 0.5 -0.6 1.9 -2.2 1.2M184.3 547.7q-2.1 1.1 0.3 2.2 0.9 1.1 -0.7 2.2 -2 1.1 0.1 2.2 2.2 1.1 0.5 2.2M130.1 534.5q-1.5 0.8 -0.7 2.3 1 1.5 -0.5 2.3 -1.6 0.9 -0.8 2.4 1.1 1.4 0 2.2M221.5 532.6q-1 1.4 0.2 2.3 1.8 0.9 1.1 2.3 -1.9 1.6 0.1 2.4 1.5 0.9 0.9 2.4M186.8 547.3q-2.2 1.3 -0.5 3.1 1.5 1.7 -0.2 3 -2.8 1.3 -0.1 3.1 1.2 1.7 -0.5 3.1M107.1 509.8q-1.7 -0.2 -2.1 1.8 0.7 2.4 -1.6 1.4 -1.8 -0.3 -2 1.1 0 2.4 -1.9 1.7M216.5 536.1q-2 2.1 1.1 3.1 2.3 0.9 0.2 3 -0.6 1.8 0.9 3.1 2.3 1 0.7 3M194.6 545.7q-2.5 1.8 0 3 2.2 1.4 0.6 3.1 -1.1 1.6 0.4 3.1 1.7 1.3 -0.1 3M172.1 548.3q-1.8 0.8 -1.7 2.5 0.6 2.4 -1.5 3 -3 -0.1 -1.8 2.5 1 2.4 -1.9 2.7M166.3 547.9q-2.7 1 -0.2 2.2 1.3 1.2 -0.1 2.3 -1.8 1 0.3 2.2 1.2 1.2 -0.1 2.2M230.5 524.8q0.7 1.8 2.4 1.2 2 -0.6 2.5 1.2 0.6 2.2 2.8 1.1 2.2 -1.4 2.3 1.5M159.9 546.9q-2 1.7 0.5 1.8 2.7 0.2 0.9 1.9 -2.1 1.7 0.2 1.8 3.1 0.2 1.1 1.9M172.2 548.3q-2 1.1 -0.5 2.5 1.9 1.4 -0.2 2.5 -1.5 1.1 0 2.6 1.3 1.4 -0.4 2.5M216 536.4q-1.6 1.8 0.6 3 2.1 1.2 0.1 3 -1 1.8 0.5 3 2.5 1.2 0.5 3M207.4 541.1q-1.7 1.7 0.5 2.2 2.8 0.3 1.2 2 -2 1.8 0.3 2.3 2.2 0.4 1.1 1.9M238 515.9q0.1 1.6 1.5 1.1 2.1 -0.3 1.8 1.8 0.1 1.7 1.6 1.2 2.6 -1.1 2 1.5M110.6 515.2q-2.4 0.4 -1.4 2.3 1.2 1.8 -0.4 2.4 -2.1 0.6 -1.2 2.2 0.7 1.9 -0.9 2.5M173.9 548.3q-2.5 -0.1 -1 1.8 1.6 2.4 -0.9 2.2 -2.4 0 -1.3 1.9 1.4 2.1 -0.9 1.9M125.4 531q-1.9 0.1 -1.2 2 0.7 1.5 -1 1.6 -2.6 -0.2 -1.3 2 0.9 1.7 -0.8 1.4M181 548q-1.8 0.5 -0.4 2 1.5 1.7 -1 2 -1.6 0.5 -0.5 1.9 0.8 1.5 -1.2 2M224.5 530.2q1.1 1.6 2.8 0.8 1.9 -1.3 2.9 0.4 0.8 3 2.8 0.8 1.9 -0.8 2.8 0.9M227.5 527.6q-1.9 2.4 1.4 2.9 1.4 1.2 1.2 3 -2.1 2.5 0.7 2.9 2.4 0.9 1.3 3M237.1 517q0.7 1.4 2 0.9 1.6 -1.9 2.2 0.3 0.4 2.6 2.1 0.9 1.7 -2.5 2.1 0.3M110.6 515.2q-2.5 0 -2.2 2.6 0.4 2.1 -2.1 2.3 -2.9 -0.7 -1.9 2.2 0.6 2.8 -2 2.3M137.8 539.2q-1.9 -0.5 -1.7 1.5 0.5 2.1 -1.6 1.3 -1.7 -0.1 -1.4 1.9 0.3 1.9 -1.6 1M219.7 533.9q-0.3 2.1 2.1 2.1 2.4 -0.1 1.6 2.6 -0.3 1.8 1.8 2 2.1 0.1 1.8 2M173.6 548.3q-2.9 0.3 -0.8 2.2 1.3 1.6 -0.4 2.2 -2.3 0.4 -0.9 2 0.9 1.6 -0.3 2.2M197.1 545q-1.5 1.5 0.3 3 1.4 1.5 -0.2 3 -2 1.6 0.1 3 1.4 1.5 -0.3 3M204.7 542.2q-0.7 1.9 1.4 2 1.5 0 1.3 1.6 -1.1 2.1 1.3 1.9 2 -0.2 1.4 1.9M219.6 534q-0.8 1.9 0.9 3 2.3 0.8 1 2.7 -0.9 2.2 1.1 3 3.2 0.6 1.5 2.9M176.8 548.3q-2.5 0.9 -0.8 2.8 2 1.8 -0.7 2.7 -1.5 1.1 -0.4 2.9 2.3 1.9 -0.7 2.7M157.9 546.5q-2.3 1.3 -0.2 2.6 2.4 1.2 0.3 2.6 -1.3 1.3 0.4 2.6 2.3 1.2 -0.6 2.6M154.1 545.6q-2.2 1.4 -0.1 2.2 2.8 0.9 0.4 2.3 -1.1 1.2 0.5 2.2 1.4 0.9 0.4 2.2M224.4 530.3q0 1.8 1.8 1 1.6 -0.8 1.6 0.9 -0.3 2.2 1.7 1.2 1.3 -0.3 1.4 1M179.6 548.1q-1.6 2.5 1.2 2.2 2.1 0.7 1.7 2.7 -0.7 1.7 0.9 2.4 3 -0.1 1.6 2.3M198.4 544.6q-2 1.5 0.4 2.5 2.1 0.9 0.4 2.4 -1.5 1.4 -0.2 2.4 2.2 1 0.7 2.5M232.3 522.8q-0.7 1.7 1.3 1.4 2.6 -0.6 1.3 2 -1.5 1.9 0.6 1.4 2.5 -0.4 1.5 1.6M201.8 543.4q-0.8 2.6 1.5 2.1 2.7 -0.7 2.2 1.7 -0.3 1.9 1.4 2 2.3 -0.4 2.1 2M184.9 547.6q-0.6 2.2 1.9 2.3 1.7 0 1.6 2 -0.6 2 1.6 2.1 2.8 -0.4 1.5 2.2M124.4 530.2q-1.9 -0.6 -3 0.9 -0.6 2.8 -2.9 1.2 -1.9 -0.7 -2.9 1 -0.8 2.2 -2.8 1.5M215.7 536.6q-0.7 1.4 0.7 1.8 2.8 -0.1 1.2 1.7 -1.2 1.5 0.1 2 2 0.3 1.1 1.8M155 545.8q-1.7 0.9 -0.2 2.5 1.2 1.6 -0.6 2.3 -2.1 0.9 -0.5 2.5 1.4 1.8 -1.1 2.5M114.6 520.5q-2.5 -1.4 -2.7 1.5 -0.8 2 -2.9 1.5 -2.2 -1 -2.6 1.6 -0.5 2.3 -2.9 1.3M229.4 525.8q-0.8 2.2 1.4 2.3 2.9 -0.5 1.7 2.1 -0.8 2 1.6 1.8 2.1 0.2 1.7 2.2M210.2 539.7q-0.6 2.1 1.5 1.4 2.2 -1.3 1.2 1.3 0.1 1.4 1.6 1.3 1.6 -0.6 1.7 0.7M223.3 531.2q-1.2 1.7 0.8 3 2.2 1.2 0.1 3 -1.6 1.7 0.3 3 2.7 1.2 0.7 3M140.6 540.6q-2 -0.2 -1.6 2 0.2 2.2 -2.4 1.7 -2.2 -0.5 -1.6 1.8 0.8 2.9 -2 1.9M169.4 548.1q-0.9 1.8 0.8 3.1 2.3 0.9 0.7 2.8 -1.4 1.9 0.4 3.1 2.6 1 0.6 2.9M208.7 540.5q-1.7 2.1 0.7 3 1.9 1.1 1.1 2.8 -1.5 2.2 0.8 3.1 2 1 1.2 2.8M124.8 530.5q-2.2 -0.8 -2.2 1.5 -0.1 1.9 -2.2 1.3 -1.9 -0.6 -1.9 1.9 -0.1 1.8 -1.8 1.2M126.8 532.1q-2 0.3 -0.6 1.8 0.9 1.6 -0.7 2 -2.8 0.1 -1.1 2 1.1 1.3 -0.2 1.7M149.7 544.3q-2.3 1.3 0.5 2.2 2.1 0.9 -0.3 2.1 -2 1.3 0 2.2 2.5 0.9 0.4 2.2M108.9 512.8q-1.6 -0.8 -2.3 1 -0.3 2.4 -2.3 1 -1.7 -1.1 -2.4 0.7 -0.2 2.7 -2.1 1M230.9 524.4q0.5 1.9 2 0.5 1.9 -1.1 2.4 1.4 0.5 1.3 1.9 0.4 1.8 -1 2.3 1M235.6 518.9q-0.4 2 1.5 2.1 1.9 0.1 1.4 2 -0.8 2.3 1.6 1.7 2.1 0.2 1.9 2.2M145.8 542.8q-2.2 1.7 0.3 2.8 2.6 1.2 0.3 2.8 -1.9 1.6 0 2.8 1.7 1.2 0.8 2.8M199.1 544.3q-1.1 1.7 0.6 1.4 2 0 1.4 1.6 -0.6 1.3 1.1 1.5 1.7 -0.2 0.6 1.3M236.6 517.7q-1.4 2.2 1.1 2.5 1.9 0.9 1.3 2.8 -1.2 2 1.1 2.4 2.9 0.4 1.3 2.7M127.8 532.8q-1.7 -1.3 -2.2 0.9 -0.5 1.6 -1.9 1 -1.6 -0.7 -2.1 0.5 -0.3 3 -2.4 1.3M198.9 544.4q-2 0.5 -0.3 1.7 1.8 1.4 -0.9 1.8 -1.8 0.5 -0.3 1.9 1.5 1.2 -0.1 1.8M115.3 521.2q-1.6 -1.7 -1.8 0.4 -0.4 1.8 -1.8 1.1 -1.5 -1.7 -1.7 0.5 -0.3 1.9 -1.8 0.8M170 548.2q-0.5 1.8 1.2 2.3 2.7 0.4 0.9 2.7 -0.7 2 1.6 2.5 1.7 0.6 1.3 2.4M224 530.6q-0.2 1.7 1.5 1.6 1.8 0 1.6 1.6 -0.7 2.3 1.6 1.9 2.2 -0.7 1.7 1.5M134.1 537.1q-2.8 0.5 -1.3 2.6 1.5 2 -0.6 2.9 -2 0.7 -0.8 2.5 1.5 2.2 -1.2 2.7M185.9 547.5q-1.2 1.1 -0.1 2.3 1.9 1.2 -0.4 2.3 -1.2 1.1 0.5 2.3 1.3 1.2 0 2.3M110.9 515.6q-1.5 -1.1 -2.3 0.8 -0.6 2.2 -2.2 0.4 -1.8 -1.8 -2.3 1 -0.6 2 -2.3 0.1M126.8 532.1q-2.6 -0.3 -1.5 2.2 0.8 1.8 -1.1 1.8 -2.9 -0.2 -1.8 2.3 0.8 1.8 -1 1.7M135 537.6q-1.4 1.2 -0.2 2.7 0.9 1.7 -0.9 2.8 -2.4 1.1 -0.3 2.8 1.5 1.7 -0.2 2.7M171.2 548.2q-1.8 0.6 -0.7 2.4 1.5 1.8 -1.1 2.2 -2.9 0.2 -0.8 2.3 0.8 1.6 -0.8 2.3M172.6 548.3q-2.3 1.4 0.3 2.4 1.9 1.1 -0.3 2.4 -2.1 1.4 0.6 2.4 1.4 1.1 -0.2 2.4M207.8 540.9q-2.2 1 0.1 1.8 2.5 0.9 -0.3 1.8 -1 0.9 0.3 1.8 2.6 0.9 0.2 1.9M237.3 516.7q0.3 1.8 2 1.5 2.5 -1.2 2 1.7 0.2 2 2.4 1.4 2 -0.8 2 1.2M227 528.1q0.4 2.8 2.4 0.7 1.9 -0.7 2.8 0.8 0.3 3 2.4 1.1 1.7 -0.8 2.4 0.8M110.8 515.6q-2.2 0.8 -1.1 2.9 0.8 2 -1.5 2.9 -2.1 0.7 -1.1 2.8 2 2.4 -0.5 3M218.9 534.5q-1.5 2.3 1.4 1.7 1.9 0 1.1 1.9 -1.1 1.8 0.9 1.6 2.8 -0.4 1.2 1.8M112.4 517.7q-1.3 -1.8 -2.1 0.5 -0.7 2.4 -2 -0.2 -1.3 -1.3 -2.1 0.2 -0.8 2.1 -2 0.5M163.6 547.5q-1.6 1.7 0.3 3 2.4 1.3 0.3 3.1 -2.4 1.8 0.5 3.1 2.2 1.3 0.2 3.1M186.7 547.4q-2.3 1.6 0.5 2.8 1.7 1.3 0.3 2.8 -1.8 1.5 0.1 2.7 1.6 1.3 0.2 2.8M219 534.4q0.2 1.9 2.1 1.9 1.8 -0.1 2 1.9 0.3 1.9 2.5 1.4 2.4 -0.7 2.2 2.1M160.5 547q-2.1 0.5 -0.8 2.2 0.7 1.7 -0.7 2.3 -2.3 0.5 -1.1 2.3 2.1 2 -0.6 2.1M240.9 511.5q-0.7 1.7 1.2 1.7 1.6 -0.2 1.1 1.5 -1 1.7 1 1.6 2.6 -0.9 1.4 1.2M166.5 547.9q-2.9 0.5 -1.5 2.9 1.6 2.4 -1.3 2.9 -1.6 1 -0.8 3 1.6 2.5 -1.3 2.8M207.2 541.2q-2.3 1.9 0.5 3 1.7 1.2 0.3 2.9 -0.8 1.8 0.5 3 2.4 1.2 1.1 3M144.7 542.4q-2.1 -0.6 -1.7 1.8 -0.1 1.4 -1.8 1.4 -2.4 -1.1 -1.8 1.4 0.6 2.4 -1.4 1.6M147.8 543.6q-1.3 1.1 -0.3 2.4 1.5 1.3 -0.2 2.4 -1.4 1.2 0.4 2.4 2.1 1.3 -0.2 2.4M157.3 546.4q-2 0 -0.5 1.4 1.6 2.2 -1.3 1.7 -2.3 -0.2 -0.4 1.4 0.9 1.8 -1 1.9M234.7 520q-1.4 1.6 0.5 2 2.2 0.3 0.7 1.9 -0.9 1.4 0.9 1.8 2.3 0.2 0.6 1.8M214.5 537.3q-0.6 2.5 2.1 2.3 2 0.1 1.5 2.3 -0.6 2.7 2.3 2 2.7 -0.2 2.1 2.7M132.8 536.3q-2.2 -1.1 -2 1.5 -0.6 1.7 -2.2 1.2 -1.9 -0.3 -2.4 1.6 -0.3 1.7 -2.3 0.8M153.1 545.3q-2 0.2 -1.1 2 1.4 1.5 -0.3 1.8 -1.8 0.3 -1.2 1.8 2.2 1.9 -0.5 1.7M196.5 545.2q-2.7 0.8 0.1 1.8 1.4 1 0.1 1.9 -1.8 0.9 -0.7 1.9 1.4 1 0.1 1.8M151.6 544.9q-2.6 -0.6 -1.2 1.5 0.7 1.5 -0.6 1.8 -2.7 -0.7 -1 1.5 0.6 1.5 -1.3 1.7M180.1 548.1q-1.7 0.8 -0.5 2.3 1.9 1.6 -0.8 2.2 -1.2 0.8 -0.2 2.3 2 1.6 -1 2.1M170.7 548.2q-2.1 0.8 -0.4 2.2 1.5 1.4 0 2.3 -1.7 0.9 -0.5 2.2 2.1 1.5 -0.6 2.2M130.5 534.8q-2 -1 -2.7 1 -0.7 2.8 -2.9 1 -2.2 -1.2 -2.9 1.7 -0.4 2.4 -2.8 1M123.3 529.3q-2.8 0.4 -1.5 2.9 0.9 1.8 -1 2.7 -2.1 0.6 -1.5 2.5 1 2.1 -0.6 2.8M163.3 547.5q-0.6 2 1.7 3 2.5 0.2 1.4 2.7 -1.9 2.5 0.7 2.9 3.2 0.2 1.4 2.6M141.1 540.8q-2.4 -0.6 -2.4 1.7 0.7 3.1 -2.3 1.8 -1.8 0.1 -2 2.1 -0.5 1.8 -2.2 1.7M108.8 512.6q-1.8 -0.4 -2.1 1.1 -0.1 2.3 -2.1 1.5 -2 -0.6 -2 1.5 -0.3 2 -2 1.7M236.5 517.9q0.6 2.6 2.8 0.7 2 -1 2.8 1.4 0.5 2.7 2.8 0.8 2.2 -1.6 2.6 1.3M201 543.7q-2.8 0.4 -0.5 1.9 1.4 1.1 -0.4 1.7 -1.2 0.7 -0.2 1.8 2.1 1.3 -0.6 1.8M223.5 531q0.8 2 2.7 1.5 2.2 -1.4 2.9 0.6 0.8 2.6 3 1.5 1.8 -0.8 2.7 0.7M108.6 512.2q-1.6 -0.9 -2.1 0.9 -0.1 2.3 -1.8 1 -1.9 -1.3 -2.3 1.1 -0.4 1.4 -1.9 0.9M239 514.5q1 1.9 2.5 0.5 1.3 -1.2 2.4 0.1 1 1.7 2.4 0.2 1.5 -1.5 2.4 0.5M216 536.4q-1.1 2.7 1.9 2.5 2.9 0.1 1.8 2.7 -0.7 2.5 1.5 2.8 3 0.1 1.7 2.8M118.3 524.6q-2.1 -1.1 -1.4 1 0.7 2.7 -1.6 1.2 -1.5 -0.2 -1.5 1.2 0.9 2.7 -1.2 1.4M133.8 536.9q-2.8 -0.7 -1.3 1.7 0 1.9 -1.6 2 -1.9 0.2 -1.8 2 1.2 2.3 -1.4 1.9M129.7 534.2q-1.9 -0.5 -2.6 1.6 -0.5 2 -2.6 0.9 -2.5 -1.6 -2.8 1.1 -0.7 1.9 -2.5 1.5M138.9 539.7q-2.2 -1.5 -1.4 1.3 0.4 1.9 -1.5 0.4 -2.1 -1.1 -1.4 1.2 0.7 2.7 -1.5 1.3M149.8 544.3q-2.5 -0.4 -1.7 1.9 0.4 2.5 -2.2 2.2 -1.7 0.2 -1.6 2 -0.1 2 -1.9 2.1M227.8 527.4q-0.3 2.8 2 1 2 -0.6 2 1.2 0 2.9 2.1 1.4 1.7 -0.2 2.2 1.3M148 543.7q-2 1.4 0.7 2 1.5 0.7 0.1 1.9 -1.6 1.3 0 2 2.4 0.6 0.4 2M231.7 523.4q-0.8 2.3 1.2 1 2.1 -0.5 1.5 1.4 -0.1 1.5 1.5 1.1 2 -0.9 1.1 1M167.9 548q-1.5 1.1 0 2.3 2.1 1.2 0 2.3 -1.7 1.1 0 2.3 2 1.2 -0.6 2.3M171.9 548.3q-2.1 0.7 -0.2 2.2 1.2 1.5 -0.7 2.4 -2.1 0.7 -0.2 2.1 0.8 1.4 -0.6 2.4M220.3 533.5q-1.2 2 1 1.6 2 -0.3 1.1 1.3 -1.1 2.1 0.9 1.4 2.6 -0.4 1.2 1.5M237.9 516q-0.2 2.4 1.9 1.4 2.5 -1 2 1.4 0.2 2.1 2.1 1.9 2.5 -1.5 2 1.3M175.3 548.3q-2.4 0.2 -0.5 1.7 2.1 1.6 -0.2 1.7 -3 0.1 -0.6 1.7 1 1.3 -0.9 1.7M228.2 527q0.4 2.1 2 1.2 1.9 -1.8 2.3 0.5 0 2.8 2.1 0.8 1.5 -1 1.9 0.7" fill="none" stroke="#1a1a1a" stroke-width="0.9"/>
<path d="M218.7 507q-0.5 -2 -2 -0.5 -1.8 1.5 -2.1 -0.5 -0.6 -2.5 -2.3 -1 -1.4 1 -2 -0.6M128.3 504.6q2.3 0.3 0.8 -1.8 -0.6 -1.6 1.4 -1.3 2.1 0.2 0.8 -1.7 -1.6 -2.3 1.1 -1.8M219.2 506.5q0.4 -2.9 -2.1 -1.4 -2.2 0.4 -2.4 -1.7 0.4 -2.7 -2.3 -1.7 -1.7 0.4 -1.9 -1.8M146.3 520.4q1.5 -0.9 0.7 -2.6 -1.5 -1.9 1 -2.4 1.6 -0.9 0.6 -2.5 -1.3 -2 1.5 -2.6M163.8 526.7q1.7 -1.2 0.3 -2.6 -1.6 -1.5 0.2 -2.7 2.8 -1 0.3 -2.6 -1.3 -1.5 0.2 -2.6M207.2 517.6q0.8 -2.2 -1.6 -1.7 -2.2 1.2 -1.4 -1.1 1.2 -2.3 -1.4 -1.7 -2.3 1.3 -1.4 -1.1M129.3 505.9q2.6 0.4 1.1 -2 -0.3 -2 2 -2.2 2.3 0.5 1 -1.7 -0.5 -2.1 2 -1.8M141 517q2.1 0.9 1.5 -1.2 -0.9 -2.8 1.7 -1.7 2 1.1 1.5 -0.9 -0.3 -2.1 1.5 -1.4M163 526.5q1.7 -0.8 0.1 -2.3 -1.4 -1.5 0.9 -2.3 1.7 -0.8 0.6 -2.2 -1.6 -1.5 0.4 -2.3M218.3 507.6q1.7 -2.2 -1.1 -1.8 -2 -0.3 -0.9 -2 1.2 -2.1 -1.4 -2.1 -1.4 -0.3 -0.7 -1.8M186.9 526.4q1.5 -0.3 0.9 -1.5 -1.9 -1.6 0.2 -1.7 2.3 0 0.8 -1.7 -1.5 -1.3 0.3 -1.6M213.9 512.2q1.2 -2.5 -1.6 -2.3 -2.8 0.2 -1.2 -2.4 0.1 -1.8 -2 -2.4 -1.9 -0.1 -1.2 -2.1M154.5 524.1q1.5 -0.3 0.4 -1.6 -1.3 -1.5 1.1 -1.6 1.3 -0.2 0.3 -1.6 -0.8 -1.1 0.6 -1.5M158 525.3q2 -0.2 0.2 -1.7 -1.8 -1.4 1.1 -1.3 2.1 -0.2 0.3 -1.7 -1.7 -1.4 0.3 -1.5M178.5 527.6q1.8 -0.3 0.9 -1.7 -1.4 -1.8 0.5 -2 2.5 0.1 0.8 -1.6 -1 -1.8 1.3 -2M133.8 510.9q1.7 -0.7 1.4 -2.6 -1.8 -2.3 1.2 -2.3 2.3 -0.4 1.4 -2.7 -1.1 -1.9 1.2 -2.6M197.3 523q0.5 -1.7 -1.5 -1.3 -1.6 0.7 -0.8 -1.5 0.7 -1.8 -1.3 -1.2 -2.6 1.4 -1.4 -1.2M182.7 527.1q2.1 -1.3 -0.5 -1.8 -1.8 -0.6 -0.5 -1.9 1.3 -1.1 -0.3 -1.8 -2.2 -0.4 -0.4 -1.7M184.1 526.9q0.6 -1.8 -1 -1.1 -2.5 0.6 -1.7 -1.7 0.4 -1.4 -0.9 -1.5 -1.7 0.4 -1.1 -1.3M195.2 523.8q1 -1.3 -0.9 -1.4 -1.4 -0.2 -0.6 -1.3 1.3 -1.4 -0.6 -1.5 -2.2 0.1 -0.3 -1.4M137.2 514q1.4 -0.5 0.8 -1.8 -1.9 -1.5 0.3 -1.6 2.7 -0.2 0.8 -1.8 -2.1 -1.5 0.1 -1.7M172.6 527.7q1.7 -2.2 -1.2 -1.5 -2.6 0.4 -0.9 -1.9 1 -1.7 -1.1 -1.6 -2.5 0.4 -0.9 -1.8M162 526.3q2.4 -1.6 -0.5 -2.6 -2.1 -1.2 -0.2 -2.7 2 -1.5 0 -2.6 -2.1 -1.2 -0.4 -2.7M170.6 527.6q2.2 -0.1 1.4 -2.2 -0.9 -1.6 0.9 -2.1 1.8 -0.2 1.5 -1.9 -1.5 -2.1 0.8 -1.9M132.7 509.8q1.9 0.2 0.9 -1.5 -1.1 -1.9 1.3 -1.2 2 0.3 1.1 -1.6 -0.7 -1.5 0.6 -1.7M214 512.1q0.1 -2.6 -2.1 -1.2 -2.1 1.3 -2 -1.1 -0.3 -2.1 -2.1 -1.3 -1.7 0.6 -2.1 -1.1M146.8 520.6q2.5 -0.8 0.7 -2.7 -1.1 -1.7 0.4 -2.7 2.3 -0.9 0.4 -2.7 -1.9 -1.9 0.6 -2.6M185.2 526.7q1.8 -0.3 0.8 -1.8 -1.9 -1.9 0.9 -2 2.6 0.2 0.9 -1.8 -2.1 -1.7 0.8 -1.6M132 509q2.6 0.3 1.5 -1.9 -1.6 -2.4 1.2 -2 2.7 0.5 1.1 -2.1 -1.4 -2.2 1.3 -1.6M135.5 512.5q1.8 0.9 2.1 -1.2 0 -2.6 2.1 -1.1 2.2 1.5 2.1 -0.9 0.3 -2.5 2.3 -1.2M201.8 520.8q1.7 -1.2 -0.4 -2.3 -0.9 -1.1 0.1 -2.3 1.3 -1.2 -0.2 -2.3 -1.1 -1.1 0 -2.3M214.1 512q-0.4 -2 -2 -0.7 -1.9 1.3 -2.2 -1 -0.4 -1.9 -2.2 -1.3 -1.5 1.3 -2.1 -0.6M217.9 508q-0.6 -1.6 -1.8 -0.3 -1.2 1.2 -1.7 -0.5 -0.4 -2.7 -1.8 -0.8 -1.3 1.8 -1.8 -0.2M127.3 503.2q2.7 -0.1 1.1 -2.3 -1.9 -2.1 0.9 -1.9 2.3 -0.4 0.9 -2.3 -0.6 -1.8 1.2 -2M134.4 511.4q2.3 0.9 1.8 -1.4 -0.4 -2.5 2.1 -1.5 2.3 0.9 1.3 -1.7 0.2 -1.8 1.9 -1.8M137 513.8q2.6 0.6 1.5 -1.6 -0.4 -1.8 0.9 -2 2.5 0.4 1.9 -1.8 -0.7 -1.6 0.9 -1.9M148.1 521.3q2.4 0.4 0.9 -1.7 -0.5 -1.3 1.2 -1.3 2.2 0.2 1.1 -1.5 -0.8 -1.6 0.4 -1.8M172.7 527.7q1.4 -1.1 0.1 -1.8 -2.3 -0.6 -0.5 -1.8 2 -1.2 -0.2 -1.7 -1.9 -0.7 -0.5 -1.8M199.4 522.1q1.5 -0.8 0 -1.7 -1.2 -0.9 0 -1.7 2.2 -0.7 0.3 -1.7 -2.3 -0.9 0 -1.7M135.7 512.7q1.8 0.5 0.9 -1 -0.3 -1.8 1.1 -1.5 2 0.5 1.6 -1.5 -0.7 -1.4 0.9 -1.2M173 527.7q2.4 -0.2 1 -2.3 -0.2 -1.9 1.7 -2.4 2.9 0 1.3 -2.5 -0.5 -1.7 1.4 -2.3M194.8 524q1.6 -1.8 -1.1 -2.4 -2 -0.4 -0.1 -2.2 1.4 -1.7 -1.2 -2.2 -2.6 -0.4 -0.7 -2.4M200.1 521.7q1.2 -2.2 -1.3 -2.2 -2.2 -0.5 -1.6 -2.6 1.9 -2.5 -1.3 -2.5 -2.7 0.2 -1.4 -2.4M151.8 523q2.1 -0.9 0.3 -1.7 -2.6 -0.9 -0.2 -1.7 2.1 -0.9 -0.3 -1.7 -1.7 -0.9 -0.2 -1.7M219.4 506.3q2 -2.1 -0.7 -2.8 -1.6 -0.9 -1 -2.5 1 -1.7 -0.6 -2.7 -2.3 -0.7 -1.3 -2.5M137.9 514.6q1.3 0.8 2 -0.4 0.5 -1.6 1.9 -0.8 1.7 2.4 2 -0.1 0.4 -2.3 1.9 -0.9M215.5 510.6q0.1 -1.7 -1.4 -1.2 -2.3 1.2 -1.6 -1 0.2 -2 -1.7 -1.5 -1.6 0.7 -1.6 -1.3M212.1 513.7q2 -1.2 0.1 -1.9 -3 -0.7 -0.8 -2 1.8 -1.2 -0.1 -2 -2.4 -0.7 -0.4 -1.9M136.4 513.3q2.1 0.4 1.2 -1.5 -0.2 -1.9 1.5 -1.4 2 0 1.4 -1.7 -0.7 -2.3 1.7 -1.9M200 521.8q0.5 -1.9 -1.2 -1.3 -1.7 0.7 -1.3 -0.7 0.4 -2.1 -1.6 -1.2 -2 1.1 -1 -1.3M135.5 512.5q2.3 -0.3 0.2 -1.9 -1.2 -1.4 0.5 -1.9 2 -0.5 0.8 -1.8 -1.7 -1.4 0.3 -1.8M136.2 513.2q2.2 0.6 1.8 -1.4 0.3 -2.2 2 -1.8 2 0 2.2 -1.9 0.2 -1.7 1.9 -1.9M152.9 523.5q2.1 0.7 1.4 -1.4 -1 -2.7 1.4 -1.4 1.7 0.1 1.9 -1.7 -0.7 -1.7 1.2 -1.2M201.1 521.2q0.7 -2.5 -1.4 -1.4 -2.1 0.4 -2 -1.2 0.8 -2.8 -1.4 -1.4 -2.6 1 -1.8 -1.7M160.1 525.9q1.9 0.1 1 -1.5 -1.5 -2 0.7 -1.7 2.5 0.5 1.1 -1.2 -1.7 -2.3 1.3 -1.5M135.6 512.6q1.8 1.7 1.6 -1 0 -1.3 1.5 -0.7 1.1 1 1.2 -0.6 0 -1.7 1.4 -0.7M139.2 515.6q2.7 -0.8 0.4 -2.2 -2.1 -1.2 -0.3 -2.1 2.8 -0.8 0.8 -2.1 -1.4 -1.2 -0.5 -2.2M188.3 526q0.5 -2.2 -1.5 -1.8 -2.6 0 -2.3 -2.5 1.2 -2.4 -1.8 -1.7 -2.6 0.6 -1.5 -2M162.5 526.4q1.5 -1.1 0.5 -2.5 -1 -1.5 0.2 -2.6 2.4 -0.9 0.9 -2.5 -1.3 -1.5 0.5 -2.6M142.4 518q2.2 -0.6 0.1 -1.6 -1 -1 0 -1.7 2.2 -0.6 0.2 -1.7 -1.5 -1 0.7 -1.6M185.5 526.6q1.7 -1.7 -0.8 -1.8 -1.5 -0.3 -0.8 -1.7 0.9 -1.3 -0.2 -1.8 -2.3 -0.1 -1.3 -1.6M191.3 525.2q0.7 -1.5 -1.3 -1.7 -1.4 -0.5 -0.9 -2 1 -1.6 -1 -1.9 -2 0 -0.9 -1.9M170.9 527.6q1.5 -1.8 -1 -2.5 -1.3 -0.9 -0.6 -2.6 1.4 -1.7 -0.6 -2.3 -2.1 -0.8 -0.5 -2.7M178.9 527.5q1.8 -0.6 1.6 -2.5 -1.3 -2.1 1.1 -2.4 2 -0.4 1.7 -2.2 -1.2 -2.2 1.3 -2.5M188.2 526.1q1.8 -1 0.7 -2.6 -1.6 -1.5 0.4 -2.5 1.3 -1.1 0.1 -2.6 -2.1 -1.6 0 -2.5M134 511.1q2.3 -0.1 1.6 -2 -0.3 -2 1.1 -2.5 2.7 0.1 2 -2.3 -0.4 -1.7 1.1 -2.3M205.3 518.8q1.5 -1.1 -0.3 -2.1 -1.3 -1 0 -2.1 2 -1.1 0.6 -2.1 -1.6 -1 -0.8 -2.1M171.5 527.6q1.8 -1.1 0.2 -2.7 -2.1 -1.8 1 -2.7 2.2 -1 0 -2.7 -1.1 -1.6 0.7 -2.7M167.9 527.3q2.5 0.4 1.1 -1.4 -1.3 -2 0.7 -1.8 2.5 0.4 1 -1.3 -1.3 -2.1 1.4 -1.8M173.2 527.7q1.7 -0.8 1.3 -2.5 -1.4 -2 0.6 -2.8 2.6 -0.4 1 -2.5 -0.8 -1.8 1.3 -2.7M132.4 509.5q1.8 -0.4 0.4 -2.1 -0.5 -1.3 0.7 -1.9 2.2 -0.3 1.2 -1.8 -1.4 -1.8 1 -2.1M139.5 515.9q1.7 -0.5 0.6 -1.9 -2.1 -1.8 0.9 -1.9 1.6 -0.4 0.6 -1.9 -2.3 -1.8 0.8 -2.1M134.9 512q1.8 -0.5 0.3 -1.9 -1 -1.3 0.7 -1.9 2.1 -0.4 0.9 -1.9 -1.4 -1.2 -0.2 -1.8M129.8 506.4q1.8 2.2 1.9 -1 0.7 -1.3 2.2 0 1.4 1 2.1 -0.9 0.3 -2.2 2 -0.4M167.5 527.3q1.7 -1 0.2 -1.8 -2.9 -0.6 -0.3 -1.7 1.6 -1.1 0.1 -1.8 -2.6 -0.7 -0.4 -1.7M157.7 525.2q2.8 -0.3 0.5 -2 -2.1 -1.8 0.5 -2.1 1.6 -0.6 0.4 -2 -1.2 -1.5 0.5 -1.8M166.9 527.2q1.9 -0.8 0.8 -2.5 -1.9 -2.2 1.1 -2.8 2.6 -0.5 0.2 -2.7 -1.1 -1.8 0.8 -2.6M128.8 505.2q2.4 1 0.9 -1.1 -0.5 -2 1.2 -1.3 1.8 0.2 1.6 -1.7 -0.6 -1.2 0.7 -0.8M199.4 522q0.2 -1.5 -1.3 -1.4 -2.5 0.9 -1.2 -1.5 0.6 -2.1 -1.3 -1.4 -2.8 1 -1.6 -1.3" fill="none" stroke="#1a1a1a" stroke-width="0.9"/>
<path d="M210 400.2q1.7 0 1.5 -1.5 -0.7 -2.7 1.7 -1.9 2.5 0.7 1.9 -1.7 -0.6 -2.2 1.9 -1.4M215.6 403.3q1.4 1.1 1.5 -0.4 0.3 -1.7 1.6 -0.7 1.4 1.2 1.3 -0.7 -0.2 -2.7 1.5 -1.2M222.8 408.4q2.7 0.2 0.5 -1.5 -1 -1.7 1.2 -1.7 2.3 0.1 0.8 -1.8 -1.7 -1.6 0.5 -1.4M207.5 399q1.1 -0.8 -0.4 -1.5 -1.8 -0.6 0.2 -1.4 1.3 -0.8 -0.4 -1.5 -1.2 -0.6 0.3 -1.4M238.4 424.7q2.1 1.4 1.2 -0.9 -0.9 -2.6 1 -1.1 1.8 0.9 1.3 -1.1 -0.3 -1.5 1.5 -0.4M238.1 424.3q1 1.1 1.5 0.1 0.5 -1.7 1.5 -0.7 1.2 2.3 1.6 0.1 0.3 -2.6 1.4 -0.3M237.9 424.1q2.3 1.1 1.1 -1.3 -1.3 -1.6 0.5 -0.7 2 0.6 1.2 -1 -0.8 -1.6 0.7 -1.4M207 398.8q2.5 0.8 1.4 -1.2 -1.2 -2 0.6 -1.6 1.7 0.1 1.3 -1.2 -0.4 -1.6 1.4 -1.8M241.6 429.6q2.4 1.3 1.1 -1.1 -1.2 -2.4 1.4 -1.4 1.8 1.2 0.7 -0.8 -0.4 -1.9 1.5 -1M230.8 415.6q1.4 1.2 1.6 -0.7 0.2 -2.4 1.7 -0.7 1.9 2.3 1.8 -0.1 0.1 -2.7 1.6 -1.2M236.3 422q1.5 1.4 1.6 -0.5 -0.3 -2.6 1.4 -0.5 1.6 1.3 1.5 -0.6 -0.1 -2.5 1.5 -1.3M204.2 397.5q1.8 0.7 1.3 -1.4 -0.2 -1.7 1.6 -0.9 1.6 0.3 1.3 -1.4 0.1 -1.5 1.6 -0.9M239.5 426.3q1.8 2 1.4 -0.4 0.1 -1.8 1.2 -1.2 1.4 1 1.6 -0.4 -0.3 -2.6 1.5 -0.7M202.1 396.7q1.5 0.3 1.4 -1 -0.2 -1.8 1.4 -1.4 1.3 0.2 1.1 -1.5 -0.4 -1.8 1.5 -1.1M232.6 417.5q1.2 1.4 1.2 -0.4 0.2 -1.8 1.4 -0.5 1 1.2 1.3 -0.5 0 -1.7 1.3 -0.4M208.6 399.5q2.1 0 0.1 -1.4 -1.6 -1.4 0.9 -1.3 2.5 0.2 0.1 -1.4 -0.9 -1.1 1 -1.3M203 397.1q1.4 -0.5 0.1 -1.3 -1.4 -1 0.4 -1.4 1.9 -0.4 0.4 -1.4 -1.5 -0.9 -0.3 -1.3M215.4 403.2q2.2 -0.3 0.2 -1.5 -1.1 -1.1 0.3 -1.6 2.6 -0.2 0.3 -1.5 -1 -1 0.6 -1.5M232 416.8q2.1 0.5 1.5 -1.6 -1.5 -2.2 0.8 -1.4 2.5 0.6 1.2 -1.6 -0.4 -1.8 1.3 -1.3M206.9 398.7q2.3 0 0.6 -1.4 -1.7 -1.4 0.4 -1.4 1.8 -0.3 0.8 -1.6 -1.8 -1.2 0.4 -1.5M222.5 408.1q1.5 0.4 1.5 -1 -0.2 -2.2 1.5 -1.5 2.2 1.4 1.4 -0.8 0.1 -2 1.8 -1.1M236.2 421.9q1.2 1 1.5 -0.4 0.1 -1.8 1.3 -0.6 1.5 2.1 1.5 -0.5 -0.1 -2.4 1.4 -0.6M210.9 400.7q2.3 0.5 0.6 -1.2 -1.7 -1.8 0.6 -1.3 2.7 0.7 0.5 -0.9 -1.1 -1.7 0.7 -1.3M214.4 402.7q1.6 -0.6 0.7 -2 -1.2 -1.9 1 -2.4 2.8 0 0.8 -1.9 -0.9 -1.6 0.4 -2.3M235.5 420.9q2.7 -0.2 0.7 -2.2 -1.5 -1.8 1 -2.2 2 -0.4 0.5 -2 -0.7 -1.7 1.4 -2.3M224.2 409.5q2.1 -0.1 0.9 -2 -0.3 -1.6 1.3 -2 2.9 0.5 1.3 -1.7 -0.4 -1.7 1.1 -1.9M229.6 414.4q1.4 2.2 1.6 -0.4 0.5 -2.1 1.8 -0.1 1.4 2 1.7 -0.4 0.5 -2.1 1.7 -0.4M216.7 404.1q1.3 1.2 1.3 -0.3 0.1 -1.6 1.1 -1.2 1.3 1.4 1.4 -0.4 0.1 -1.3 1.3 -0.6M241.5 429.5q1.4 2.4 2.3 0.1 0.9 -2 2.2 -0.9 1.3 1.3 2.3 0 0.9 -2.3 2.3 -0.5M220.8 406.8q1.5 0.2 1.4 -1.2 -0.1 -1.8 1.4 -1.3 2.4 1 1.4 -1.7 -0.1 -1.5 1.7 -0.9M208.5 399.5q2 -0.4 0.3 -1.8 -1.3 -1.2 0.6 -1.6 1.3 -0.7 0.6 -1.8 -1.4 -1.2 0.4 -1.8M211.7 401.1q2.4 0.2 0.4 -1.5 -0.5 -1.3 0.7 -1.6 1.9 -0.1 0.8 -1.4 -1.8 -1.8 1.3 -1.5M213.2 401.9q2.4 0.2 0.6 -1.4 -1.4 -1.4 0.4 -1.6 1.8 -0.1 0.7 -1.3 -0.7 -1.2 0.6 -1.5" fill="none" stroke="#1a1a1a" stroke-width="0.9"/>
<path d="M248.5 495.6q-0.4 1.5 1.1 1.4 2 -0.5 1.2 1.5 -0.5 1.5 1.3 1.3 1.4 -0.2 1 1.1M252.5 476.7q0.2 2.1 1.8 0.7 2 -1.1 2 1.5 -0.1 2.4 1.9 0.5 1.6 -0.6 1.8 0.9M252.6 476.2q0.3 2.6 1.3 0.5 1 -2 1.4 -0.5 0.3 2.9 1.3 0.6 1.1 -2 1.4 0.1M251.8 482.2q0.4 1.8 1.9 1.2 1.8 -0.8 2.2 0.8 0.6 1.7 2.2 1 2.2 -1.4 2.2 1.2M252.7 466.8q1 1.4 1.9 0.2 0.8 -1.8 1.8 -0.7 1.1 2 1.9 0 0.8 -1.9 1.9 0.1M252.8 469.1q1 1.9 1.9 -0.1 0.9 -1.6 1.9 0.5 1 1.4 1.9 -0.8 0.9 -1 1.9 0.4M249.3 493.2q0.7 2.8 2.2 0.6 1.4 -2 2.2 -0.2 0.7 2.3 2.1 0.6 1.5 -1.8 2.2 0.1M252 480.8q0.6 1.6 2 0.5 1.9 -2 2.1 1.2 0.3 2.2 2.1 0.2 1.5 -1 2.2 0.5M242.5 508.8q-0.5 1.6 0.9 1.6 2.6 -0.5 1.7 1.8 -0.5 1.3 1.1 1.4 2.6 -0.7 1.1 1.7M251.6 483.8q-0.3 2.5 1.1 0.5 1.4 -1.4 1.4 0.6 -0.2 2.4 1.2 0.3 1.2 -1 1.2 0.4M247.4 498.5q0.1 1.7 1.6 0.7 1.4 -1.6 1.5 0.6 0.1 1.5 1.2 0.9 1.5 -1.3 1.6 0.3M252.8 469.7q0.8 2.4 2.3 0.4 1.6 -2.2 2.4 -0.1 0.9 1.9 2.3 1 1.4 -1.5 2.4 0.3M248.6 495.3q0.7 2.5 2.4 0.6 1.5 -1.7 2.2 0.5 0.7 2.5 2.3 0.1 1.7 -1.9 2.3 1M252.7 473.5q1.2 2.5 1.8 0 0.7 -1.9 1.7 -0.6 1.2 2.5 1.8 0.2 0.7 -2.1 1.7 -0.5M252.5 476.5q0.9 1.6 1.7 -0.5 0.7 -1.3 1.6 0.1 1 2.2 1.7 -0.1 0.7 -2.1 1.6 0M246.4 501.1q1.1 1.8 1.9 -0.4 0.8 -2 1.9 0.4 1.1 2.1 1.9 -0.4 0.8 -1.7 1.9 -0.2M252.4 478.3q1.3 1.2 2.3 -0.1 0.9 -2.5 2.3 -0.1 1.2 0.8 2.3 -0.3 1 -1.9 2.3 -0.7M251.6 483.5q1.5 2 1.9 -0.2 0.6 -2.3 2.1 -0.7 1.4 1.9 1.9 -0.6 0.6 -1.8 2.1 -0.6M247.4 498.5q-0.4 2.7 1.9 1 2.5 -1.2 1.8 1.7 0.2 1.9 2.3 1.3 2.2 -1.5 1.8 1M252.5 477q-0.4 2.8 1.8 1.2 2.1 -1.2 2 1.1 -0.3 2.7 2.1 1.4 1.8 -1.2 1.6 1.2M252.8 472.6q1.5 0.5 2 -1.3 0.1 -1.8 2 -0.6 2 1.2 1.8 -1.1 0 -2.6 2.1 -1.2M252.6 464.1q0.2 2.2 1.7 1 1.6 -1.7 1.8 0.4 0.3 1.9 1.9 0.9 1.3 -1.3 1.7 0.1M247.5 498.2q0.3 2.3 1.9 0.9 1.4 -1 2.1 0.3 0.3 2.2 2 1.2 1.4 -1.5 1.8 0.1M249.8 491.4q0 1.5 1.2 0.8 1.2 -1.1 1.2 0.1 -0.3 2.4 1.1 0.7 1.6 -1.2 1.4 0.6M252.8 468.9q0.6 2.1 1.7 0.1 1 -1.1 1.7 0.7 0.5 2.3 1.8 -0.4 1.2 -2.2 1.6 0.5M247.7 497.8q-0.1 2.5 2.2 1.2 1.4 -0.3 1.7 1.4 0.5 1.6 2.2 1.2 1.9 -1 2 0.7M250.6 488.5q1.9 2 2.2 -0.4 0.6 -2.1 2.3 -1 1.6 1.2 2.2 -0.6 0.2 -2.8 2 -1.4M245.3 503.3q0.1 2 1.7 0.7 2 -1.4 1.7 1.3 0.1 1.8 1.7 0.5 1.5 -0.5 1.9 1M252.8 472.8q0.9 1.2 1.8 0 0.9 -2 1.8 -0.2 0.9 1.9 1.8 -0.1 0.9 -2.2 1.8 0.5" fill="none" stroke="#1a1a1a" stroke-width="0.9"/>
<path d="M223.1 438.8q-1.3 -1.6 -1.9 0.6 -0.6 2.4 -1.9 0 -1.3 -1.6 -2 0.4 -0.6 2.1 -1.9 0.5M228.7 450.1q-0.7 -2.2 -1.5 0.2 -0.8 2.3 -1.5 -0.1 -0.7 -1.7 -1.5 -0.4 -0.8 1.9 -1.5 0.3M220.3 435q-1 -1.5 -1.7 0 -0.6 2.4 -1.6 0.3 -1 -2.4 -1.7 0.4 -0.7 1.1 -1.6 -0.5M212.4 426.5q-1.3 -1 -1.4 1 0.1 2.1 -1.6 0.5 -1.4 -1.5 -1.5 0.1 0.2 2.6 -1.4 1.2M221.4 436.4q-1.4 -1.3 -2.1 0.7 -0.7 2.5 -2.3 -0.1 -1.5 -1.5 -2.1 0.8 -0.7 2.4 -2.2 0.2M211.5 425.7q-2 0.1 -1.2 1.8 0.7 1.9 -1.4 2 -2.5 -0.3 -1.1 2.1 1.7 2.2 -1.1 2M215 428.9q-1.1 -0.9 -1.4 0.3 0 2.4 -1.3 0.5 -1.6 -2 -1.4 0.3 -0.3 1.9 -1.4 0.9M225.3 442.6q-1.6 -2 -1.3 0.3 -0.1 2.3 -1.6 0.8 -1.6 -2.1 -1.5 0.8 0.3 2.2 -1.3 0.6M213.2 427.2q-1.6 0.3 0 1.4 1.2 1.1 -0.7 1.3 -2.1 0.2 -0.7 1.5 1.9 1.1 -0.4 1.3M206.5 422q-2.1 -0.3 -0.9 1.4 1 2.2 -1.4 1.9 -2.4 -0.7 -1.2 1.2 0.9 1.9 -0.7 1.6M222.8 438.5q-1.9 -0.2 -1 1.4 0.8 2.2 -1.6 2 -1.4 -0.1 -1.3 1.4 1.6 2.4 -0.9 1.4M209.5 424.2q-2.4 -0.2 -0.9 1.8 1.1 2 -1.1 1.7 -2.9 -0.3 -1.2 2.1 0.3 1.4 -1.3 1.8M225.1 442.3q-2 -0.9 -1.7 1.4 0.1 1.6 -1.5 1.2 -1.9 -0.6 -2 1 0.7 2.7 -1.6 1.8M220.5 435.1q-1.9 -0.1 -0.9 1.3 1.1 1.2 -0.3 1.3 -2.2 -0.1 -0.9 1.3 2.3 1.9 0 1.4M226.2 444.4q-0.5 -2.3 -1.3 -0.4 -0.8 1.6 -1.3 0.2 -0.5 -1.9 -1.3 0.2 -0.8 1.6 -1.3 -0.5M205.1 421.1q-2 -1.6 -1.4 0.9 0.5 1.7 -0.9 0.6 -2.2 -1.4 -1.5 0.8 0.4 2.1 -1 1M220 434.5q-2.2 -0.5 -1.5 1.5 0.4 1.9 -1.5 2 -1.6 -0.3 -1.2 1.3 0.5 2.1 -1.7 1.9M225.2 442.4q-1.4 -1.2 -1.8 0.3 -0.5 1.9 -2 1.1 -1.3 -1.3 -1.8 0.6 -0.4 1.5 -1.7 0.7M214.9 428.9q-1.5 0.1 -0.8 1.4 1.3 2.4 -1.3 1.8 -1.9 -0.2 -0.9 1.5 1.2 2.1 -1.6 1.6M218.1 432.2q-2 0.1 -0.8 1.7 1.6 2 -0.6 1.7 -3 -0.1 -1.4 1.8 1.1 1.6 -1 1.8" fill="none" stroke="#1a1a1a" stroke-width="0.9"/>
<circle cx="103.3" cy="506.1" r="4.2" fill="url(#hg)" stroke="#111" stroke-width="0.8"/>
<circle cx="99.8" cy="498.2" r="4.2" fill="url(#hg)" stroke="#111" stroke-width="0.8"/>
<circle cx="97.2" cy="489.9" r="4.2" fill="url(#hg)" stroke="#111" stroke-width="0.8"/>
<circle cx="95.5" cy="481.5" r="4.2" fill="url(#hg)" stroke="#111" stroke-width="0.8"/>
<circle cx="94.8" cy="472.9" r="4.2" fill="url(#hg)" stroke="#111" stroke-width="0.8"/>
<circle cx="94.9" cy="464.2" r="4.2" fill="url(#hg)" stroke="#111" stroke-width="0.8"/>
<circle cx="96.0" cy="455.6" r="4.2" fill="url(#hg)" stroke="#111" stroke-width="0.8"/>
<circle cx="98.0" cy="447.2" r="4.2" fill="url(#hg)" stroke="#111" stroke-width="0.8"/>
<circle cx="100.9" cy="439.1" r="4.2" fill="url(#hg)" stroke="#111" stroke-width="0.8"/>
<circle cx="104.7" cy="431.3" r="4.2" fill="url(#hg)" stroke="#111" stroke-width="0.8"/>
<circle cx="109.3" cy="424.0" r="4.2" fill="url(#hg)" stroke="#111" stroke-width="0.8"/>
<circle cx="114.7" cy="417.2" r="4.2" fill="url(#hg)" stroke="#111" stroke-width="0.8"/>
<circle cx="120.7" cy="411.0" r="4.2" fill="url(#hg)" stroke="#111" stroke-width="0.8"/>
<circle cx="127.4" cy="405.6" r="4.2" fill="url(#hg)" stroke="#111" stroke-width="0.8"/>
<circle cx="134.7" cy="400.9" r="4.2" fill="url(#hg)" stroke="#111" stroke-width="0.8"/>
<circle cx="142.4" cy="397.0" r="4.2" fill="url(#hg)" stroke="#111" stroke-width="0.8"/>
<circle cx="150.5" cy="393.9" r="4.2" fill="url(#hg)" stroke="#111" stroke-width="0.8"/>
<circle cx="158.8" cy="391.8" r="4.2" fill="url(#hg)" stroke="#111" stroke-width="0.8"/>
<circle cx="167.4" cy="390.5" r="4.2" fill="url(#hg)" stroke="#111" stroke-width="0.8"/>
<circle cx="123.8" cy="494.2" r="4.2" fill="url(#hg)" stroke="#111" stroke-width="0.8"/>
<circle cx="120.6" cy="485.9" r="4.2" fill="url(#hg)" stroke="#111" stroke-width="0.8"/>
<circle cx="118.8" cy="477.1" r="4.2" fill="url(#hg)" stroke="#111" stroke-width="0.8"/>
<circle cx="118.3" cy="468.3" r="4.2" fill="url(#hg)" stroke="#111" stroke-width="0.8"/>
<circle cx="119.3" cy="459.4" r="4.2" fill="url(#hg)" stroke="#111" stroke-width="0.8"/>
<circle cx="121.7" cy="450.8" r="4.2" fill="url(#hg)" stroke="#111" stroke-width="0.8"/>
<circle cx="125.3" cy="442.8" r="4.2" fill="url(#hg)" stroke="#111" stroke-width="0.8"/>
<circle cx="130.3" cy="435.3" r="4.2" fill="url(#hg)" stroke="#111" stroke-width="0.8"/>
<circle cx="136.3" cy="428.8" r="4.2" fill="url(#hg)" stroke="#111" stroke-width="0.8"/>
<circle cx="143.3" cy="423.3" r="4.2" fill="url(#hg)" stroke="#111" stroke-width="0.8"/>
<circle cx="151.0" cy="418.9" r="4.2" fill="url(#hg)" stroke="#111" stroke-width="0.8"/>
<circle cx="159.4" cy="415.9" r="4.2" fill="url(#hg)" stroke="#111" stroke-width="0.8"/>
<circle cx="168.1" cy="414.2" r="4.2" fill="url(#hg)" stroke="#111" stroke-width="0.8"/>
<circle cx="218.2" cy="403.2" r="4.2" fill="url(#hg)" stroke="#111" stroke-width="0.8"/>
<circle cx="232.0" cy="414.6" r="4.2" fill="url(#hg)" stroke="#111" stroke-width="0.8"/>
<circle cx="237.8" cy="421.4" r="4.2" fill="url(#hg)" stroke="#111" stroke-width="0.8"/>
<circle cx="247.0" cy="436.7" r="4.2" fill="url(#hg)" stroke="#111" stroke-width="0.8"/>
<circle cx="252.6" cy="453.7" r="4.2" fill="url(#hg)" stroke="#111" stroke-width="0.8"/>
<circle cx="254.0" cy="462.5" r="4.2" fill="url(#hg)" stroke="#111" stroke-width="0.8"/>
<circle cx="254.3" cy="471.5" r="4.2" fill="url(#hg)" stroke="#111" stroke-width="0.8"/>
<circle cx="253.6" cy="480.4" r="4.2" fill="url(#hg)" stroke="#111" stroke-width="0.8"/>
<circle cx="252.0" cy="489.2" r="4.2" fill="url(#hg)" stroke="#111" stroke-width="0.8"/>
<circle cx="249.3" cy="497.8" r="4.2" fill="url(#hg)" stroke="#111" stroke-width="0.8"/>
<circle cx="245.7" cy="506.0" r="4.2" fill="url(#hg)" stroke="#111" stroke-width="0.8"/>
<circle cx="202.0" cy="421.0" r="4.2" fill="url(#hg)" stroke="#111" stroke-width="0.8"/>
<circle cx="215.3" cy="431.4" r="4.2" fill="url(#hg)" stroke="#111" stroke-width="0.8"/>
<circle cx="225.0" cy="445.2" r="4.2" fill="url(#hg)" stroke="#111" stroke-width="0.8"/>
<circle cx="228.1" cy="453.1" r="4.2" fill="url(#hg)" stroke="#111" stroke-width="0.8"/>
<circle cx="230.7" cy="469.8" r="4.2" fill="url(#hg)" stroke="#111" stroke-width="0.8"/>
<circle cx="230.1" cy="478.2" r="4.2" fill="url(#hg)" stroke="#111" stroke-width="0.8"/>
<circle cx="228.2" cy="486.5" r="4.2" fill="url(#hg)" stroke="#111" stroke-width="0.8"/>
<circle cx="225.1" cy="494.4" r="4.2" fill="url(#hg)" stroke="#111" stroke-width="0.8"/>
<circle cx="113.7" cy="417.2" r="4.2" fill="url(#rg)"/>
<circle cx="116.3" cy="470.1" r="4.2" fill="url(#rg)"/>
<circle cx="210.9" cy="422.1" r="4.2" fill="url(#rg)"/>
<circle cx="254.7" cy="481.4" r="4.2" fill="url(#rg)"/>
<circle cx="212.6" cy="516.1" r="4.2" fill="url(#rg)"/>
<circle cx="187.4" cy="550.0" r="4.2" fill="url(#rg)"/>
<polygon points="154.6,382.9 157.4,382 159.8,380.3 162.4,380.3 165,379.6 167.5,379 170.1,379 172.7,378.6 175.3,378.4 177.8,379.1 180.5,378.8 183.1,379.3 185.6,379.8 188.1,380.6 190.8,380.3 193.6,381.1 196.5,381.6 199.2,383 202,383.6 204.9,384.2 205.4,387.1 204.7,390 204.8,392.9 205.6,395.8 204.8,398.5 204.4,401.3 204.9,404.2 203.9,407 203.4,409.7 203.6,412.6 201.7,414.6 200.2,416.9 198.5,419 196.2,420.8 193.4,421.7 190.7,422.8 188.2,424.2 185.5,424.1 182.9,424.4 180.4,425.5 178.7,427.7 176.6,429.4 175.3,431.9 172.8,432.9 170,432.8 167.6,433.8 165,434.5 162.1,433.8 159.8,431.9 160.1,428.9 159.7,425.9 159.8,422.9 158.9,420.1 157.2,417.7 157,414.7 155.6,411.8 155.9,408.7 156.5,406.1 157.7,403.7 157.5,400.9 158.5,398.4 157.3,395.6 157,392.4 155.2,389.8 154.6,386.8" fill="#e8690f" stroke="#111" stroke-width="1.6" stroke-linejoin="round" />
<text x="164" y="405.5" font-size="23" font-weight="bold" font-style="italic" fill="#1d1d1b">bo<tspan font-size="15" dy="7">3</tspan></text>
<polygon points="92.7,500.3 95.2,499.2 97.4,497.7 99.4,495.8 101.6,494.2 104,493 106.2,491.4 108.8,490.4 110.8,488.6 112.5,486.8 114.6,485.4 116.6,483.9 118.5,482.2 120.8,484.6 123.7,486.1 126.9,487.4 130.1,488.6 132.3,491 134,493.8 137,493.5 139.8,492.7 142.6,491.5 145.6,491.2 147.9,493.4 150.4,495.2 153.4,496.4 154.7,499.2 156.3,501.8 158.5,504.1 157.1,506.5 155,508.5 153.2,510.6 152.1,513.2 149.3,514.9 146.9,517 145.4,519.1 144.3,521.5 142.4,523.2 140.6,525.1 139.2,527.3 136.2,529.5 134,532.5 131.3,533.9 129.5,536.4 126.9,537.9 125,540.2 122.3,539.2 120,537.3 117.2,536.4 115.7,534.4 113.5,532.9 112.6,530.4 110.8,528.6 108.5,527 106.7,524.8 104.3,523.5 103.3,520.4 101.1,517.7 100.5,514.4 98.8,511.8 97.5,509 95.3,506.7 93.7,503.6" fill="#e8690f" stroke="#111" stroke-width="1.6" stroke-linejoin="round" />
<text transform="matrix(-0.44,-0.9,-0.9,0.44,120.6,527.6)" font-size="22.5" font-weight="bold" font-style="italic" fill="#1d1d1b">bo<tspan font-size="15" dy="7">3</tspan></text>
<path d="M51.2 444.9L50.7 445.7L50.9 446.9L52.2 448L54.1 448.3L56 447.7L57.5 446.3L58 444.7L57.6 443.3L56.7 442.9L56 443.3L56 444.5L56.9 445.6L58.7 446.3L60.7 446L62.3 444.8L63.1 443.2L63 441.7L62.2 440.9L61.4 441.1L61.1 442L61.7 443.3L63.3 444.1L65.3 444.2L67.1 443.2L68.2 441.7L68.3 440L67.7 439L66.8 438.9L66.3 439.6L66.6 440.9L67.9 441.9L69.8 442.2L72 441.3L73.2 439.7L73.4 438L72.8 436.8L71.9 436.5L71.2 437.1L71.4 438.2L72.6 439.3L74.4 439.6L76.4 439L77.8 437.6L78.3 435.8L77.9 434.4L77 433.8L76.3 434.1L76.2 435.1L77 436.3L78.7 436.9L80.7 436.6L82.3 435.4L83.1 433.6L83 432L82.2 431.1L81.3 431.2L81 432L81.5 433.2L83 434L84.9 434L86.8 433.1L87.9 431.5L88.1 429.8L87.4 428.6L86.5 428.3L85.9 429L86.2 430.3L87.5 431.2L89.3 431.3L91.2 430.4L92.4 428.8L92.7 427L92.1 425.7L91.2 425.2L90.4 425.7L90.5 426.7L91.5 427.7L93.3 428.1L95.2 427.5L96.7 426.1L97.3 424.3L96.9 422.8L96 422L95.2 422.2L94.9 423.1L95.7 424.2L97.2 424.8L99.2 424.6L100.9 423.4L101.7 421.6L101.7 419.9L100.9 418.9L99.9 418.8L99.5 419.5L99.9 420.6L100.7 421L102.4 421.8L104.4 421.7L106.2 420.7L107.1 419.2L107.1 417.8L106.4 417L105.6 417.2L105.2 418.2L105.8 419.5L107.3 420.6L109.3 420.8L111.2 420L112.4 418.6L112.7 417.1L112.2 416L113.2 416.2L112.3 416.2L111.4 417.2L111.2 418.9L111.9 420.7L113.5 422.1L115.4 422.5L117 422L117.8 421L117.7 420L116.8 419.8L115.8 420.5L115.4 422L115.8 423.9L117.2 425.4L119 426.1L120.8 425.9L121.9 425L122.2 425.4L122 424.5L120.9 424.3L119.6 424.9L118.7 426.5L118.5 428.5L119.3 430.3L120.8 431.5L122.3 431.7L123.3 431.1L123.4 430.2L122.5 429.7L121.2 430.1L120.1 431.4L119.7 433.3L120.2 435.3" fill="none" stroke="#62cc3c" stroke-width="6.0" stroke-linejoin="round" stroke-linecap="round" opacity="1"/>
<path d="M51.2 444.9L50.7 445.7L50.9 446.9L52.2 448L54.1 448.3L56 447.7L57.5 446.3L58 444.7L57.6 443.3L56.7 442.9L56 443.3L56 444.5L56.9 445.6L58.7 446.3L60.7 446L62.3 444.8L63.1 443.2L63 441.7L62.2 440.9L61.4 441.1L61.1 442L61.7 443.3L63.3 444.1L65.3 444.2L67.1 443.2L68.2 441.7L68.3 440L67.7 439L66.8 438.9L66.3 439.6L66.6 440.9L67.9 441.9L69.8 442.2L72 441.3L73.2 439.7L73.4 438L72.8 436.8L71.9 436.5L71.2 437.1L71.4 438.2L72.6 439.3L74.4 439.6L76.4 439L77.8 437.6L78.3 435.8L77.9 434.4L77 433.8L76.3 434.1L76.2 435.1L77 436.3L78.7 436.9L80.7 436.6L82.3 435.4L83.1 433.6L83 432L82.2 431.1L81.3 431.2L81 432L81.5 433.2L83 434L84.9 434L86.8 433.1L87.9 431.5L88.1 429.8L87.4 428.6L86.5 428.3L85.9 429L86.2 430.3L87.5 431.2L89.3 431.3L91.2 430.4L92.4 428.8L92.7 427L92.1 425.7L91.2 425.2L90.4 425.7L90.5 426.7L91.5 427.7L93.3 428.1L95.2 427.5L96.7 426.1L97.3 424.3L96.9 422.8L96 422L95.2 422.2L94.9 423.1L95.7 424.2L97.2 424.8L99.2 424.6L100.9 423.4L101.7 421.6L101.7 419.9L100.9 418.9L99.9 418.8L99.5 419.5L99.9 420.6L100.7 421L102.4 421.8L104.4 421.7L106.2 420.7L107.1 419.2L107.1 417.8L106.4 417L105.6 417.2L105.2 418.2L105.8 419.5L107.3 420.6L109.3 420.8L111.2 420L112.4 418.6L112.7 417.1L112.2 416L113.2 416.2L112.3 416.2L111.4 417.2L111.2 418.9L111.9 420.7L113.5 422.1L115.4 422.5L117 422L117.8 421L117.7 420L116.8 419.8L115.8 420.5L115.4 422L115.8 423.9L117.2 425.4L119 426.1L120.8 425.9L121.9 425L122.2 425.4L122 424.5L120.9 424.3L119.6 424.9L118.7 426.5L118.5 428.5L119.3 430.3L120.8 431.5L122.3 431.7L123.3 431.1L123.4 430.2L122.5 429.7L121.2 430.1L120.1 431.4L119.7 433.3L120.2 435.3" fill="none" stroke="#0a0a0a" stroke-width="2.0" stroke-linejoin="round" stroke-linecap="round"/>
<path d="M289.9 426L289.9 425.1L288.9 424.4L287.2 424.4L285.6 425.4L284.5 427.1L284.3 429.1L285 430.7L286.2 431.4L287.1 431.2L287.4 430.4L286.6 429.5L285.1 429.2L283.4 429.9L282.1 431.4L281.6 433.4L282.1 435.2L283.2 436.2L284.3 436.3L284.8 435.6L284.3 434.7L283 434.2L281.3 434.5L279.8 435.8L279 437.7L279.2 439.7L280.2 441L281.3 441.3L282.1 440.8L281.8 439.4L280.6 439L279 439.5L277.7 440.8L277.1 442.8L277.4 444.8L278.5 446.1L279.8 446.5L280.7 446L280.6 445.1L279.6 444.5L278.1 444.6L276.6 445.7L275.7 447.6L275.8 449.6L276.7 451.2L278 451.9L279 451.6L279.3 450.8L278.6 450L277.2 449.9L275.6 450.7L274.4 452.4L274.2 454.4L274.9 456.2L276.2 457.2L276.6 457.5L277.3 457L277.2 456.1L276.1 455.3L274.4 455.3L272.7 456.2L271.6 457.9L271.3 459.9L272 461.4L273.1 462.1L274 461.9L274.2 461L273.4 460.1L271.9 459.8L270.1 460.5L268.7 462L268.2 464L268.6 465.7L269.7 466.7L270.7 466.7L271.2 466L270.7 465L269.3 464.5L267.5 464.8L265.9 466.1L265.1 468L265.3 469.9L266.2 471.1L267.3 471.5L268 470.9L267.6 470.9L267 469.7L265.4 468.9L263.5 468.9L261.7 469.9L260.6 471.5L260.5 473.2L261.1 474.3L262.1 474.4L262.6 473.7L262.3 472.5L261 471.5L259.1 471.3L257.2 472L255.8 473.5L255.4 475.2L255.9 476.5L256.8 477L257.5 476.5L257.4 475.4L256.4 474.3L254.7 473.8L252.7 474.2L251.1 475.5L250.4 477.2L250.6 478.7L251.5 479.5L252.3 479.2L252.6 478.3L251.8 478.9L251.5 477.2L250.2 475.7L248.3 474.9L246.4 475.1L245 476.1L244.6 477.2L245.1 478L246 477.9L246.7 476.9L246.7 475.3L245.7 473.6L243.9 472.6L241.9 472.5L240.4 473.2L239.7 474.4L239.9 475.4L240.7 475.6L241.6 474.8L241.8 473.3L241.1 471.6L239.5 470.3L237.5 469.9L237.9 469.2L236.4 469.1L235.5 469.8L235.6 470.6L236.5 471.1L237.8 470.6L238.9 469.2L239.3 467.3L238.6 465.3L237.3 464L235.7 463.6L234.6 464L234.3 464.9L235 465.5L236.3 465.4L237.5 464.3L238.2 462.4" fill="none" stroke="#62cc3c" stroke-width="6.0" stroke-linejoin="round" stroke-linecap="round" opacity="1"/>
<path d="M289.9 426L289.9 425.1L288.9 424.4L287.2 424.4L285.6 425.4L284.5 427.1L284.3 429.1L285 430.7L286.2 431.4L287.1 431.2L287.4 430.4L286.6 429.5L285.1 429.2L283.4 429.9L282.1 431.4L281.6 433.4L282.1 435.2L283.2 436.2L284.3 436.3L284.8 435.6L284.3 434.7L283 434.2L281.3 434.5L279.8 435.8L279 437.7L279.2 439.7L280.2 441L281.3 441.3L282.1 440.8L281.8 439.4L280.6 439L279 439.5L277.7 440.8L277.1 442.8L277.4 444.8L278.5 446.1L279.8 446.5L280.7 446L280.6 445.1L279.6 444.5L278.1 444.6L276.6 445.7L275.7 447.6L275.8 449.6L276.7 451.2L278 451.9L279 451.6L279.3 450.8L278.6 450L277.2 449.9L275.6 450.7L274.4 452.4L274.2 454.4L274.9 456.2L276.2 457.2L276.6 457.5L277.3 457L277.2 456.1L276.1 455.3L274.4 455.3L272.7 456.2L271.6 457.9L271.3 459.9L272 461.4L273.1 462.1L274 461.9L274.2 461L273.4 460.1L271.9 459.8L270.1 460.5L268.7 462L268.2 464L268.6 465.7L269.7 466.7L270.7 466.7L271.2 466L270.7 465L269.3 464.5L267.5 464.8L265.9 466.1L265.1 468L265.3 469.9L266.2 471.1L267.3 471.5L268 470.9L267.6 470.9L267 469.7L265.4 468.9L263.5 468.9L261.7 469.9L260.6 471.5L260.5 473.2L261.1 474.3L262.1 474.4L262.6 473.7L262.3 472.5L261 471.5L259.1 471.3L257.2 472L255.8 473.5L255.4 475.2L255.9 476.5L256.8 477L257.5 476.5L257.4 475.4L256.4 474.3L254.7 473.8L252.7 474.2L251.1 475.5L250.4 477.2L250.6 478.7L251.5 479.5L252.3 479.2L252.6 478.3L251.8 478.9L251.5 477.2L250.2 475.7L248.3 474.9L246.4 475.1L245 476.1L244.6 477.2L245.1 478L246 477.9L246.7 476.9L246.7 475.3L245.7 473.6L243.9 472.6L241.9 472.5L240.4 473.2L239.7 474.4L239.9 475.4L240.7 475.6L241.6 474.8L241.8 473.3L241.1 471.6L239.5 470.3L237.5 469.9L237.9 469.2L236.4 469.1L235.5 469.8L235.6 470.6L236.5 471.1L237.8 470.6L238.9 469.2L239.3 467.3L238.6 465.3L237.3 464L235.7 463.6L234.6 464L234.3 464.9L235 465.5L236.3 465.4L237.5 464.3L238.2 462.4" fill="none" stroke="#0a0a0a" stroke-width="2.0" stroke-linejoin="round" stroke-linecap="round"/>
<path d="M271.1 542L272 541.9L272.7 540.8L272.5 539.2L271.4 537.6L269.6 536.6L267.6 536.7L266.1 537.5L265.5 538.8L265.8 539.7L266.6 539.8L267.4 539L267.5 537.4L266.7 535.8L265 534.6L263 534.4L261.3 535L260.4 536.2L260.5 537.3L261.2 537.7L262.1 537.1L262.4 535.7L261.8 534L260.4 532.6L258.4 532.1L256.5 532.6L255.6 535.1L256 536.2L256.9 536.4L257.5 535.6L257.3 534.3L256.2 533L254.3 532.4L252.3 532.7L250.7 533.9L250.1 535.5L250.3 536.7L251.1 537.2L251.9 536.7L251.9 535.5L251.1 534.1L249.3 533.3L247.3 533.3L245.5 534.3L244.6 535.8L244.6 537.2L245.3 538L246.2 537.7L246.5 536.7L245.7 535L244.1 534.2L242 534.3L240.3 535.3L239.3 536.8L239.3 538.4L240 539.2L240.8 539.1L241.2 538.2L240.7 536.9L239.2 535.9L237.2 535.7L235.3 536.5L234.1 537.9L233.8 539.5L234.3 540.6L235.2 540.8L235.8 540.1L235.5 538.8L234.3 537.6L232.4 537.2L230.4 537.7L228.9 539L228.4 540.6L228.1 541.3L228.7 542L229.5 541.8L230 540.8L229.6 539.2L228.3 537.9L226.3 537.3L224.3 537.7L222.9 538.8L222.5 540.2L222.9 541.2L223.8 541.2L224.4 540.4L224.3 538.9L223.2 537.5L221.3 536.6L219.3 536.7L217.7 537.7L217 539.1L217.2 540.2L218 540.6L218.7 540L218.9 538.6L218 537.1L216.3 536L215.8 535.9L214 535.3L212.4 535.7L211.5 536.7L211.7 537.6L212.5 537.8L213.6 537.2L214.1 535.6L213.8 533.7L212.6 532.1L210.7 531.2L209 531.4L207.9 532.2L207.8 533.2L208.5 533.7L209.6 533.3L210.3 531.9L210.3 530.1L209.2 528.3L207.5 527.2L205.7 527.1L204.4 527.8L204 528.8L203.9 528.5L204.9 528.9L206.2 528.4L207.3 527L207.6 525L206.9 523L205.5 521.7L204 521.4L202.9 521.9L202.7 522.8L203.5 523.4L204.8 523.2L206 522L206.5 520.1L206.1 518L204.9 516.5L203.3 515.9" fill="none" stroke="#62cc3c" stroke-width="6.0" stroke-linejoin="round" stroke-linecap="round" opacity="1"/>
<path d="M271.1 542L272 541.9L272.7 540.8L272.5 539.2L271.4 537.6L269.6 536.6L267.6 536.7L266.1 537.5L265.5 538.8L265.8 539.7L266.6 539.8L267.4 539L267.5 537.4L266.7 535.8L265 534.6L263 534.4L261.3 535L260.4 536.2L260.5 537.3L261.2 537.7L262.1 537.1L262.4 535.7L261.8 534L260.4 532.6L258.4 532.1L256.5 532.6L255.6 535.1L256 536.2L256.9 536.4L257.5 535.6L257.3 534.3L256.2 533L254.3 532.4L252.3 532.7L250.7 533.9L250.1 535.5L250.3 536.7L251.1 537.2L251.9 536.7L251.9 535.5L251.1 534.1L249.3 533.3L247.3 533.3L245.5 534.3L244.6 535.8L244.6 537.2L245.3 538L246.2 537.7L246.5 536.7L245.7 535L244.1 534.2L242 534.3L240.3 535.3L239.3 536.8L239.3 538.4L240 539.2L240.8 539.1L241.2 538.2L240.7 536.9L239.2 535.9L237.2 535.7L235.3 536.5L234.1 537.9L233.8 539.5L234.3 540.6L235.2 540.8L235.8 540.1L235.5 538.8L234.3 537.6L232.4 537.2L230.4 537.7L228.9 539L228.4 540.6L228.1 541.3L228.7 542L229.5 541.8L230 540.8L229.6 539.2L228.3 537.9L226.3 537.3L224.3 537.7L222.9 538.8L222.5 540.2L222.9 541.2L223.8 541.2L224.4 540.4L224.3 538.9L223.2 537.5L221.3 536.6L219.3 536.7L217.7 537.7L217 539.1L217.2 540.2L218 540.6L218.7 540L218.9 538.6L218 537.1L216.3 536L215.8 535.9L214 535.3L212.4 535.7L211.5 536.7L211.7 537.6L212.5 537.8L213.6 537.2L214.1 535.6L213.8 533.7L212.6 532.1L210.7 531.2L209 531.4L207.9 532.2L207.8 533.2L208.5 533.7L209.6 533.3L210.3 531.9L210.3 530.1L209.2 528.3L207.5 527.2L205.7 527.1L204.4 527.8L204 528.8L203.9 528.5L204.9 528.9L206.2 528.4L207.3 527L207.6 525L206.9 523L205.5 521.7L204 521.4L202.9 521.9L202.7 522.8L203.5 523.4L204.8 523.2L206 522L206.5 520.1L206.1 518L204.9 516.5L203.3 515.9" fill="none" stroke="#0a0a0a" stroke-width="2.0" stroke-linejoin="round" stroke-linecap="round"/>
<text x="247.00" y="409.40" font-size="22.5" font-weight="bold" text-anchor="start" fill="#1d1d1b" >Syb</text>
<text x="44.00" y="470.00" font-size="22.5" font-weight="bold" text-anchor="start" fill="#1d1d1b" >Syb</text>
<text x="228.50" y="569.00" font-size="22.5" font-weight="bold" text-anchor="start" fill="#1d1d1b" >Syb</text>
<text x="125.90" y="474.80" font-size="15" font-weight="bold" text-anchor="start" fill="#1d1d1b" >Rho</text>
<rect x="299.7" y="329.6" width="120" height="5.4" fill="#1d1d1b"/>
<polygon points="442.8,332.3 413.4,316 418.5,332.3 413.4,348.7" fill="#1d1d1b"/>
<text x="301.3" y="319.1" font-size="18.5" font-weight="bold" fill="#1d1d1b">DTT, ADP, P<tspan font-size="11" dy="5.6" font-weight="normal">i</tspan></text>
<text x="305.00" y="356.00" font-size="18.5" font-weight="bold" text-anchor="start" fill="#1d1d1b" >CLSII,</text>
<ellipse cx="378.7" cy="353.1" rx="16" ry="15.3" fill="#e8690f" stroke="#111" stroke-width="1.3"/>
<text x="378.70" y="359.60" font-size="17.5" font-weight="bold" text-anchor="middle" fill="#1d1d1b" >UQ</text>
<path d="M501.6,424.8 A102.4,102.4 0 0 1 576.4,256.7 L577.4,285.4 A73.6,73.6 0 0 0 523.6,406.3 Z" fill="#d11f1f"/>
<path d="M576.4,256.7 A102.4,102.4 0 0 1 663.9,417.7 L640.3,401.2 A73.6,73.6 0 0 0 577.4,285.4 Z" fill="#0b7268"/>
<path d="M663.9,417.7 A102.4,102.4 0 0 1 501.6,424.8 L523.6,406.3 A73.6,73.6 0 0 0 640.3,401.2 Z" fill="#2e3a8c"/>
<path d="M501 422.6q2.4 -0.4 2 -2.6 -0.4 -2.8 2.3 -2.9 2.5 -0.3 2.1 -3 -0.5 -2.3 1.8 -2.5M521.9 405.8q-2.7 0 -2.5 2.5 0.6 2.8 -1.9 2.6 -2.8 0.3 -2.6 2.7 0.5 2.7 -2.2 2.8M498.1 418.8q2.5 0.2 2.7 -2.5 0.4 -1.8 2.6 -2.1 1.9 -0.3 2.5 -2.4 0 -2.4 2.4 -2.1M519.7 403q-2 -0.4 -3.4 1.1 -1.2 1.5 -3.2 0.9 -2.2 -0.5 -3.2 1.4 -1.4 1.5 -3.3 1.3M498 418.7q2.5 0.4 2.9 -2 0.1 -2.7 2.8 -2.4 2.1 0.3 2.6 -2.2 0.2 -2.2 2.6 -2.2M519.7 402.9q-2.7 -0.2 -2.4 2.4 0 2.6 -2.4 2.7 -2.8 -0.4 -2.3 2.3 -0.1 2.6 -2.8 2.3M495 414.3q2 0.1 3.2 -1.8 0.6 -2.2 3.1 -1.8 2.2 1.1 2.7 -1.6 0.9 -2 3.3 -1.3M517.5 399.7q-2.6 0 -2.2 2.6 0.2 2.6 -2.4 2.7 -2.1 0.3 -2.2 2.2 -0.4 2.3 -2.2 3.1M492.8 410.7q2.2 0.6 3 -1.4 0.8 -2.7 3.4 -1.9 2.1 1 2.9 -1.3 1.1 -1.9 3 -1.3M515.8 397q-1.9 0.5 -2.4 2.5 -0.7 1.8 -2.7 2.4 -2.2 0 -2.5 2 -0.5 2.2 -2.4 2.7M491.4 408.3q2 0.2 3.2 -1.7 0.7 -2.3 3.1 -1.2 2.2 0.7 3.2 -1.3 0.9 -2.1 3.1 -1.4M514.8 395.3q-2.1 -0.9 -3.4 0.8 -1.2 2 -3.3 1 -2 -0.5 -3.4 0.9 -1.2 2.1 -3.2 1.5M489.6 404.9q2 1.5 3.5 -0.4 1.5 -1.7 3.5 -0.3 2 1.5 3.5 -0.6 1.5 -1.9 3.4 -0.4M513.5 392.8q-2.3 -1.5 -3.3 1.1 -1.2 1.9 -3.3 1.3 -2.2 -1.5 -3.3 0.6 -1.2 2.3 -3.2 0.8M487.7 401q1.8 1.1 3.5 -0.1 1.6 -1.3 3.4 -0.1 1.9 1.4 3.5 -0.5 1.6 -1.7 3.4 0M512.1 389.9q-2 0 -3.1 2.2 -0.4 2.1 -2.7 1.3 -2.6 -0.5 -2.8 2.1 -0.8 2.2 -2.9 1.6M486.9 399.1q2.2 0.3 2.9 -1.5 0.6 -2.9 3.3 -2.3 2.3 1.1 2.7 -1.6 0.8 -2.3 3.2 -1.9M511.5 388.5q-2.4 0 -2.7 2.4 -0.2 2.2 -2.2 2.3 -2.5 0.2 -2.7 2.5 -0.1 2.4 -2.6 2.5M485.7 396.2q2.1 0.8 3.3 -1.2 1.1 -1.9 3.2 -0.7 2 0.1 3.2 -1.3 1 -2.5 3.2 -1.4M510.6 386.3q-1.9 -0.6 -3.5 0.9 -1.3 2.1 -3.4 0.5 -2 -1.3 -3.4 0.6 -1.5 1.7 -3.4 0.9M483.9 391.4q1.9 1.1 3.5 -0.5 1.5 -1.6 3.4 -0.7 1.9 1 3.5 0 1.6 -1.3 3.5 -0.6M509.3 382.8q-2.3 -0.1 -2.7 2.3 -0.2 2.5 -3 1.8 -2.4 -0.3 -2.6 2.6 -0.7 1.6 -2.5 1.8M482.9 388.2q1.8 1 3.5 -0.7 1.6 -1 3.5 -0.3 1.8 1.1 3.4 0.1 1.7 -1.3 3.5 -0.6M508.6 380.5q-2 0.2 -2.9 2.2 -0.5 2.1 -2.8 2.2 -2 -0.2 -2.6 1.6 -0.4 2.9 -2.9 2.6M482 385.2q2 1.7 3.5 -0.6 1.5 -1.2 3.4 -0.7 2 1.6 3.5 0 1.5 -1.5 3.4 -0.8M507.9 378.3q-1.8 -1.8 -3.5 0.4 -1.7 1.7 -3.5 -0.3 -1.8 -0.8 -3.5 0.3 -1.7 1.7 -3.5 -0.2M481.5 383.2q2.2 0.3 3.2 -1.6 0.9 -1.7 2.7 -1.6 2.4 0.2 3.2 -1.6 0.6 -2.9 3.3 -2.3M507.6 376.8q-2.3 -1.2 -3.3 1.5 -0.8 2.2 -3.3 0.7 -2.2 -0.7 -3 1.9 -1 2.1 -3.3 1M480.5 378.3q1.9 1.1 3.4 -0.5 1.5 -2.2 3.4 -0.3 1.9 1.3 3.5 -0.2 1.5 -2.2 3.4 -0.7M506.8 373.2q-2.4 -1.2 -3.1 1.1 -1.3 1.8 -3.2 1.8 -2.5 -1.4 -3.3 1.2 -0.7 2.6 -3 1.2M479.9 375.4q1.9 1 3.4 -0.8 1.6 -0.9 3.5 0.1 1.9 0.5 3.4 -0.7 1.5 -2.1 3.4 -0.7M506.4 371.1q-2.1 -1.6 -3.3 0.5 -1.4 2.4 -3.4 0.9 -2 -0.9 -3.4 0.9 -1.6 1.2 -3.5 0.4M479.7 373.7q2.1 1.5 3.4 -0.5 1.5 -1.6 3.4 -0.8 1.9 0.4 3.4 -1.3 1.2 -2 3.3 -0.6M506.2 369.8q-1.7 -1.6 -3.5 -0.1 -1.8 1 -3.5 -0.3 -1.7 -1.3 -3.5 0.4 -1.8 0.5 -3.5 -0.5M479.2 369.9q1.8 0.9 3.5 -0.2 1.7 -1.3 3.5 -0.4 1.8 1.7 3.5 0.4 1.7 -2.2 3.5 -0.6M505.8 367q-1.9 -0.9 -3.4 0.3 -1.6 1.3 -3.4 0.1 -1.9 -0.7 -3.5 1.2 -1.5 1 -3.4 -0.2M478.9 366.3q2.4 1.1 3.3 -1.4 0.8 -2.2 3.3 -1.2 2.2 0.9 2.9 -1.4 1.3 -1.7 3.4 -1.2M505.6 364.4q-1.6 -1.8 -3.5 -0.6 -1.9 1.8 -3.4 -0.4 -1.7 -0.9 -3.5 0.5 -1.9 1.2 -3.5 -0.7M478.7 363.3q1.7 1.2 3.5 0.1 1.8 -0.9 3.4 0.1 1.7 2.2 3.5 0.1 1.8 -1 3.4 0.8M505.5 362.2q-2.2 -0.8 -3.3 1.3 -1 1.9 -3.3 1.7 -2.1 -1.2 -2.9 0.7 -1 2.8 -3.5 1.7M478.6 359.1q1.7 1.5 3.5 -0.1 1.7 -1.8 3.5 -0.1 1.7 1.4 3.5 0.1 1.7 -1.6 3.5 0.4M505.4 359.1q-1.6 -1.4 -3.4 -0.4 -1.9 1.9 -3.5 -0.1 -1.6 -1.7 -3.4 -0.3 -1.9 1.7 -3.5 -0.5M478.7 354.2q0.8 2.4 3.2 1.6 2.2 -1 3.2 0.9 0.7 2.9 3.1 1.8 2.1 -0.4 3 1.7M505.5 355.5q-2.1 -1 -3.3 1.1 -1.4 1.7 -3.5 0.5 -1.9 -0.3 -3.2 1.5 -1.4 1.6 -3.3 0.9M478.8 352q1.6 1.8 3.5 0.2 1.8 -0.7 3.5 0.1 1.7 1.6 3.5 0.6 1.8 -1.5 3.5 0.2M505.6 353.8q-1.9 -0.8 -3.4 0.6 -1.4 1.7 -3.4 1 -1.9 -1.3 -3.3 0.5 -1.5 1.9 -3.5 0.3M479 349.5q1.5 1.8 3.4 0.7 1.9 -1 3.4 0.7 1.6 1 3.5 0.2 1.9 -1 3.3 0.8M505.7 352q-1.1 -1.9 -3.1 -1.7 -2.4 1.4 -3.4 -0.9 -1 -1.8 -3 -1.6 -2.1 0.5 -3.3 -1.4M479.8 343.6q0.7 2.5 3 1.6 2.5 -0.8 3.2 1.3 1 2.1 3 1.7 2.2 -0.2 3.3 1.9M506.3 347.7q-1.7 -1 -3.5 -0.3 -1.8 1.9 -3.5 0.4 -1.7 -1.4 -3.5 -0.9 -1.8 2.3 -3.5 0.5M480.4 340.1q1.4 1.4 3.4 1.3 2.2 -1.5 3.1 0.8 1.4 1.7 3.4 1.2 2.2 -1.3 3.2 1.2M506.7 345.1q-1.9 -0.8 -3.4 0.6 -1.5 1.5 -3.5 0.7 -1.9 -1.1 -3.4 0.2 -1.5 1.8 -3.4 0.3M480.9 337.4q1.6 1.5 3.5 0.4 1.8 -0.9 3.4 0.4 1.6 1.3 3.5 0 1.9 -1.2 3.5 0.2M507.1 343.1q-1.4 -1.9 -3.4 -1 -2 1.3 -3.4 0.1 -1.5 -2 -3.5 -0.8 -2 1.1 -3.4 -0.4M481.8 333.8q1.4 2.2 3.4 0.9 2 -1.2 3.5 0.1 1.5 1.8 3.4 0.6 1.8 -0.5 3.3 1M507.7 340.5q-1.7 -1.9 -3.5 -0.2 -1.8 1.7 -3.5 0.3 -1.7 -2.2 -3.5 -0.1 -1.8 1 -3.5 -0.4M482.8 330.2q1.9 1.6 3.5 -0.6 1.6 -0.9 3.4 0.4 1.9 1.2 3.5 -0.8 1.6 -0.9 3.5 -0.3M508.5 337.8q-1.7 -1.6 -3.5 -0.1 -1.7 1.7 -3.5 0.1 -1.7 -1.7 -3.5 -0.4 -1.7 2.3 -3.5 0.5M483.2 328.9q1.3 1.5 3.3 1 2 -0.3 3.4 1 1 2.3 3.3 1.2 2 -0.6 3.2 1.6M508.8 336.8q-0.4 -2.4 -2.5 -1.9 -2.6 0 -2.8 -2.1 -0.3 -3 -2.8 -2.7 -2.2 0.2 -3 -1.9M484.3 325.4q1.1 1.9 3.3 1.2 2.3 -0.9 3.2 1.3 0.9 2.3 3.2 1.7 2.2 -1 3 1.5M509.6 334.2q-1.5 -1.5 -3.4 -0.4 -2 1.1 -3.4 -1 -1.4 -1.8 -3.4 -0.7 -2.1 2 -3.5 -0.5M486.5 319.6q0.2 2.6 3 2.3 2.2 -0.6 2.7 1.9 0.1 2.5 2.6 2.2 2.5 -0.6 2.8 2M511.2 330q0.2 -2.6 -2.4 -2.6 -2.1 -0.3 -2.6 -2.2 0 -2.4 -2.1 -2.8 -2.7 0.1 -2.7 -2.3M487.9 316.5q1.5 2.1 3.4 0.2 1.9 -1.6 3.4 0.6 1.6 1.9 3.5 0.6 1.8 -1.1 3.4 0.2M512.3 327.8q-0.7 -2 -2.8 -1.9 -2.2 -0.2 -2.7 -2.4 -0.8 -1.7 -2.8 -1.9 -2.4 0.2 -3 -2.1M489 314.3q1.4 2.2 3.4 0.6 2 -1.5 3.4 0.4 1.5 1.9 3.5 0.1 2 -1.5 3.4 0.9M513 326.1q-0.8 -1.9 -2.6 -2.3 -2.3 0.2 -3 -1.6 -0.4 -2.5 -2.5 -2.6 -2.5 0.3 -2.8 -2M489.9 312.5q0.9 2.4 3.2 1.1 2.1 -0.2 3.2 1.6 1.2 1.7 3.4 1 2.3 -0.9 3 1.8M513.7 324.8q-0.7 -1.9 -2.9 -2.3 -2.2 0.4 -2.3 -2.2 -0.6 -2 -2.8 -2.3 -2 -0.1 -2.7 -1.9M492.1 308.4q0.5 2.2 2.9 2.3 2.4 -0.7 2.6 2.2 0.2 2.3 2.7 2.1 2.2 -0.2 2.8 1.9M515.3 321.8q-1 -1.8 -3.2 -1.7 -1.9 0.3 -2.9 -1.4 -0.9 -2.2 -3.1 -2 -1.9 0.3 -3.2 -1M493.2 306.5q0.6 2.2 2.6 1.9 2.4 0.2 2.8 2.3 0.8 2.1 3 2.4 2.6 -0.8 2.9 2M516.2 320.4q0.1 -2.2 -2.1 -3 -2 -0.4 -2.2 -2.6 0.7 -2.5 -1.9 -3 -1.6 -0.8 -1.8 -2.9M495 303.8q0.7 2 2.8 2.2 1.9 0.2 2.8 2 0.1 2.7 2.7 2.3 2.6 -0.8 2.6 1.9M517.4 318.4q-1.3 -1.7 -3.4 -0.6 -2 0.6 -3.2 -1.4 -1.2 -2.1 -3.5 -0.5 -1.9 0.2 -3.3 -1M498.3 299q0.2 2.2 2.4 2.6 2.5 0 1.9 2.7 0 2.3 2.4 2.3 2.6 0.4 2.7 2.6M519.9 314.8q-1.1 -1.8 -3.1 -1.5 -2.1 0.5 -3.1 -0.9 -1.1 -2.4 -3.2 -1.4 -2.4 0.6 -3.4 -1.7M498.8 298.2q-0.1 2.4 2.3 2.4 1.9 0.8 2.3 2.7 0.1 2.2 2.4 2.7 1.9 0.5 2 2.6M520.3 314.3q-1.5 -1.4 -3.5 -0.7 -1.9 1 -3.3 -0.9 -1.3 -2.1 -3.4 -0.8 -2.1 1.6 -3.5 -0.5M501.2 295.2q0 2.6 2.5 2.5 2.3 0 2.4 2.3 0.3 2.5 3 2 2.3 0 2.6 2.6M522 312.1q0.1 -2.7 -2.6 -2.3 -2.2 -0.2 -2.4 -2.1 -0.8 -2.1 -2.6 -2.8 -2.4 0.1 -3 -2M503.7 292.2q0.3 2.4 2.7 2.2 2.2 0 2.6 2.1 0.7 2.1 2.8 2.3 2.4 -0.2 2.4 2.1M523.9 309.9q-0.5 -2 -2.4 -2.6 -2.4 0 -2.8 -2 -0.1 -2.4 -2.5 -2.8 -2.1 0 -2.1 -2.4M506.8 288.9q0.9 2.3 3.2 1.8 2.2 -1.2 3.1 1 1.3 1.6 3.4 1.4 1.9 -0.3 3.2 1.7M526.1 307.4q-0.2 -2.4 -2.4 -2.4 -2.5 0 -3 -2 -0.3 -2.3 -2.8 -2.1 -1.9 -0.4 -2.5 -2.7M508.3 287.3q-0.2 2.1 1.9 3.1 1.5 1 1.5 3.1 -0.4 2 1.6 3.2 2.2 0.6 1.1 2.9M527.2 306.3q-0.4 -2.2 -2.8 -2.1 -2.2 -0.1 -2.8 -2.4 -0.3 -2.2 -2.2 -2.1 -2.2 -0.5 -2.9 -2.4M512.7 283.2q0 2.1 2.1 2.8 2.3 0.5 1.8 2.9 -0.5 2.5 1.8 2.9 2.1 0.9 2.3 2.9M530.5 303.2q-0.6 -2 -2.9 -2.3 -2 0 -2.4 -2.5 -0.1 -2.4 -2.8 -1.9 -2.4 0.1 -2.7 -2.2M514.6 281.5q0.5 2.2 2.7 1.9 2.1 0.4 3 1.9 0.4 2.7 3 2 2.2 -0.2 2.4 2.4M531.9 302q-0.9 -1.9 -3.1 -1.8 -2.1 0.5 -2.9 -1.6 -1.2 -1.6 -3.2 -1.4 -2.4 0.6 -3.2 -2M516.3 280.1q-0.4 2 1.5 3.3 1.3 1.2 1.1 3.3 -1.5 2.2 0.6 3.3 2.5 1 1.5 3.3M533.1 301q-0.2 -2.6 -2.6 -2.4 -2.4 0.3 -2.7 -1.9 -0.8 -2.1 -3.1 -2.1 -2.4 0.5 -2.5 -1.8M518.3 278.5q-1.2 2.1 1.2 3.4 1.9 1.1 1 3.2 -1.8 2.3 0.4 3.5 1.8 1.3 1.3 3.3M534.6 299.8q0.4 -2.2 -1.6 -3.1 -2.2 -0.8 -1.2 -3 0.4 -2.5 -1.5 -3.2 -2 -1.2 -2.1 -3.3M523.5 274.8q0.9 1.9 2.9 1.7 2.4 -0.4 2.9 2.3 1 1.5 3 1.3 2.5 -0.3 3.2 1.7M538.4 297.1q-0.4 -1.9 -2.1 -2.9 -2.2 -0.4 -2.1 -2.3 -0.1 -2.5 -2.1 -3 -2.3 -0.5 -2.5 -2.8M526.6 272.8q-0.6 2.6 2.2 2.5 1.9 0.9 1.9 3.1 -0.3 2.4 2.3 2.9 2.2 0.2 1.7 2.7M540.7 295.6q-0.7 -1.8 -2.6 -2.1 -2.4 0 -2.6 -2.7 -0.1 -2.3 -2.5 -2.1 -2.2 -0.2 -3 -2.4M527.5 272.2q-0.2 2.2 1.8 3 2.7 0.2 1.9 2.9 0.2 1.9 2.2 2.6 2.3 0.7 1.7 3.3M541.4 295.2q0.3 -2.2 -1.7 -3.1 -2.5 -0.4 -1.9 -2.7 -0.1 -2.1 -1.9 -3.2 -2.6 -0.3 -1.8 -2.7M530.1 270.7q-1.4 2.2 0.7 3.3 2.3 1.3 0.9 3.4 -0.9 2.1 0.7 3.4 2.1 1.3 1.2 3.4M543.3 294.1q1.1 -2.5 -1.9 -3.1 -1.3 -1.2 -1.6 -3 1.1 -2.5 -1.5 -3.1 -2.2 -0.8 -1.3 -3.2M536.1 267.6q0 2.1 1.7 3 2.4 0.5 2 2.7 -0.1 2.3 2.3 3.1 1.5 0.7 1.6 2.8M547.7 291.8q1.1 -1.8 0.1 -3.5 -2.3 -1.7 0 -3.5 0.9 -1.7 0 -3.5 -1.4 -1.7 -0.5 -3.5M536.4 267.5q-0.4 2.6 1.9 2.7 2.9 0 2.3 2.4 0.1 2.5 2.6 2.6 2.6 0.2 2.2 3M547.9 291.7q1.2 -1.8 -0.5 -3.5 -1.2 -1.7 0.1 -3.4 1.2 -1.8 -0.5 -3.5 -1.8 -1.6 -0.1 -3.5M539.7 265.9q-1.4 2.3 0.9 3.1 2.9 1.1 1.3 3.4 -0.4 2 1.3 3.1 2.4 1.1 1.3 3.4M550.4 290.5q1.3 -2.2 -0.6 -3.4 -2.8 -1 -1.1 -3.3 0.7 -2 -1.4 -3.3 -2 -1.1 -1 -3.3M545.1 263.8q-1.7 1.7 0 3.5 1.2 1.8 0.2 3.5 -1.9 1.7 -0.4 3.5 1.2 1.8 0.1 3.5M554.4 288.9q0.2 -2 -1 -3.2 -2.9 -0.8 -1.4 -3.2 0.1 -2.1 -2 -3.1 -1.5 -1.2 -1.1 -3.3M548.8 262.5q-1.6 1.8 0.1 3.5 2.1 1.6 0 3.5 -0.9 1.8 0.5 3.5 1.6 1.7 0.1 3.5M557 288q-0.3 -2 -2 -3 -2.3 -0.3 -1.8 -2.4 -0.4 -2.2 -2.5 -2.9 -2.6 -0.2 -1.9 -2.7M551.7 261.6q-2.2 1.6 0 3.5 1.6 1.9 -0.6 3.5 -1 1.6 -0.5 3.5 1.8 1.8 0.1 3.5M559.2 287.4q0.1 -2 -1.5 -3.3 -1.8 -1 -1.6 -2.9 0.7 -2.3 -1.1 -3.3 -2.7 -0.8 -2 -3.3M552.5 261.4q-0.5 2.5 1.7 3 2.5 0.5 1.9 2.6 0.2 2.4 2.3 3.2 2.2 0.3 2 2.7M559.8 287.2q0.2 -2.4 -1.8 -3 -2.5 -0.3 -2.4 -2.5 0.1 -2.3 -2.3 -2.7 -1.6 -0.9 -2.2 -2.9M557.1 260.2q0 2.1 1.9 2.6 2.2 0.9 2.1 3 -0.2 2.3 2.3 3 1.7 0.6 2 2.8M563.2 286.3q1 -1.7 0.3 -3.5 -1.6 -1.8 0.3 -3.5 1.6 -1.7 -0.4 -3.5 -1.1 -1.8 0.3 -3.5M561.1 259.4q-0.1 2 1.5 3.3 1.7 1 1.5 3 -1 2.4 1.2 3.1 2 1.2 2 3.1M566.1 285.7q0.8 -2.4 -1.5 -3 -2.6 -0.7 -1.6 -3.1 1 -2.5 -1.3 -3.3 -2.1 -0.9 -2 -2.9M565.1 258.7q-1.3 1.8 0.6 3.5 1.1 1.6 0 3.5 -1.4 1.8 0.2 3.4 1 1.7 0.3 3.5M569 285.2q2 -1.4 0.8 -3.4 -1.2 -2 0.8 -3.4 1.2 -1.5 0.5 -3.4 -1.1 -2 0.4 -3.4M568.5 258.3q-2 1.8 0.1 3.5 1.9 1.6 -0.1 3.5 -0.9 1.8 0.3 3.5 1.9 1.6 0.5 3.5M571.5 284.9q1.6 -2.1 -0.9 -3.4 -2.1 -1.4 -0.6 -3.5 1.8 -2.1 -0.7 -3.5 -1.8 -1.3 -0.4 -3.4M571.8 257.9q-1.3 1.6 -0.3 3.5 1.7 1.8 -0.4 3.5 -1.3 1.6 -0.3 3.5 1.4 1.8 0 3.4M574 284.6q1.5 -1.4 1.1 -3.4 -0.6 -2 0.7 -3.2 2.4 -1.2 1.6 -3.5 -0.7 -1.8 0.7 -3.1M573.1 257.8q-1.1 2.2 1.3 3.3 1.4 1.3 1.2 3.3 -1.3 2.1 0.9 3.3 1.7 1.2 0.5 3.3M575 284.6q2.2 -1.3 0.3 -3.3 -0.8 -2.1 0.9 -3.5 2 -1.4 0.8 -3.4 -0.5 -1.9 0.7 -3.4" fill="none" stroke="#141414" stroke-width="0.95"/>
<path d="M576.4,256.7 A102.4,102.4 0 0 1 663.9,417.7 L640.3,401.2 A73.6,73.6 0 0 0 577.4,285.4 Z" fill="url(#pt)"/>
<path d="M663.9,417.7 A102.4,102.4 0 0 1 501.6,424.8 L523.6,406.3 A73.6,73.6 0 0 0 640.3,401.2 Z" fill="url(#pt)"/>
<path d="M604.3 456.9q-1 2.2 1.3 2.8 1.9 0.9 1.7 2.8 -0.6 2 1.2 2.9 2.3 0.5 1.3 2.7M657.6 423.4q0.1 1.9 1.7 0.9 1.5 -0.6 1.8 1.2 0.4 1.3 2 0.4 1.6 -1 1.8 1.3M620.6 451.4q-2.4 1.6 0.4 2.7 2 1.1 0.2 2.7 -1.2 1.4 -0.1 2.6 2.5 1.2 0.7 2.7M651.7 430q-1.2 2 1 2.6 2 0.6 1.3 2.6 -1.2 1.8 1.1 2.4 2.5 0.4 1.1 2.5M552.9 456.2q-1.4 1.2 0.6 2 1.7 0.8 0.3 2.1 -2 1.2 -0.4 2 1.6 0.9 0.6 2.1M535.6 449.6q-2.3 -1.7 -1.8 1 -0.1 2.7 -2.1 1.6 -2.3 -1.8 -2.2 0.7 0.3 2.9 -1.8 1.5M513.6 435q-2.6 0.3 -0.7 2.2 1.4 1.7 -0.9 2.2 -2.7 0.1 -0.4 2.2 1.4 1.7 -0.7 2.1M627.4 448.1q-1.1 1.5 0.4 2.1 2.5 0.3 0.9 1.9 -1.2 1.7 0.7 2 2.3 0.5 1.1 2.1M561 458.1q-2.9 -0.4 -2.3 2.3 -0.5 2.5 -2.9 2.8 -2.7 -0.5 -2.2 2.1 0 2.9 -2.4 2.6M559.7 457.8q-2.8 0.1 -1.5 2.4 0.3 2.3 -1.6 2.6 -2 0.8 -1.5 2.6 0.5 2.5 -2 2.7M578.2 459.9q-1.8 2.1 1.1 2.7 1.5 1.1 0.7 2.8 -0.9 1.9 0.6 2.9 2.4 0.8 1 2.7M578.1 459.9q-2.1 2 1.1 2.3 2.3 0.5 0.4 2.5 -2 2 0.5 2.3 2.5 0.7 1.3 2.4M565.4 458.8q-1.8 1.5 0.1 2.3 2 0.9 0.5 2.4 -1.7 1.5 0.4 2.4 2.7 0.8 0.7 2.3M651.1 430.5q-1.7 1.7 0.6 2 1.7 0.6 0.7 2 -1.6 1.7 0.9 1.9 2.2 0.4 0.1 2.1M566.3 459q-2.7 -0.6 -1.7 2.1 1.2 2.2 -1.4 1.8 -2.6 -0.8 -1.5 1.7 0.8 2.2 -1.7 2M622.8 450.4q-0.5 1.6 1.3 2.3 2.1 0 0.7 2 -1.2 2 0.8 2.1 2.8 0.2 1.6 2.2M602.9 457.3q-1 1.7 0.6 3.1 1.3 1.3 0.2 3.1 -1.8 1.8 0.8 3 1.5 1.3 -0.1 3M612.5 454.5q0.3 1.7 2.1 1.7 1.8 -0.9 1.6 1 0.3 2.1 2.2 1.3 2 -0.6 2.1 1.4M516.8 437.7q-2.7 0.3 -1.5 2.8 1.1 2.4 -1.4 2.8 -2.7 0.2 -2 2.7 0.7 2 -1.1 2.6M543.1 452.9q-1.8 0.6 -0.3 2.2 1.2 1.5 -1 2 -2.3 0.5 -0.6 2.3 1.6 1.4 -0.3 2M579.6 459.9q-0.4 2 1.4 2.4 2.7 0.3 1.7 2.8 -1.3 2.4 1.3 2.4 3.1 0 1.8 2.4M551.2 455.7q-1 1.8 0 3.4 2.3 1.6 1 3.5 -2 1.9 -0.3 3.4 3 1.5 0.8 3.4M658.3 422.7q0.8 2 2 0.5 1.3 -2.8 2 -0.3 0.7 2.7 2 0.5 1.1 -1.3 2 0.2M660.8 419.4q0.4 1.9 2.2 2.2 2.3 -0.3 2.6 1.9 -0.7 2.9 2.3 2.1 1.8 -0.1 2.1 1.8M516.4 437.3q-1.9 -0.7 -2.1 1.5 0 1.9 -1.9 1.2 -2 -0.7 -2.1 1.4 0.3 2.6 -2 1.4M610 455.3q-1.3 1.2 -0.4 2.8 2.1 1.6 0.1 2.7 -1.8 1.2 -0.4 2.7 0.8 1.5 -0.3 2.7M580.9 459.9q-2.5 1.3 -0.6 3 1.5 1.6 0.4 3 -1.9 1.4 -0.9 3 2 1.6 0.2 3M656.5 424.8q-0.3 1.9 1.8 2 2 -0.4 1.2 1.5 -0.5 2.4 1.8 2.2 2.1 -0.3 1.7 2M511.4 433q-2.1 0.1 -1.1 2.1 0.8 1.9 -1.3 1.8 -1.7 0.6 -1.3 2.4 1.4 2.1 -1.5 1.9M528.9 446q-2.8 1.3 0 3.1 2 1.8 -0.7 3.1 -2.4 1.3 -0.6 3.1 2.3 1.8 0 3.1M594.5 458.9q-2.5 1.5 -0.4 3.1 1.5 1.6 0.3 3.1 -2 1.5 0.1 3.1 2 1.6 -0.2 3.1M522.9 442.2q-1.6 0.7 -1.2 2.2 1.8 2.2 -0.6 2.3 -2 0.7 -1.5 2.4 1.5 1.9 -0.8 2.2M610.5 455.2q-1.7 1.6 0 2.8 2.9 1.1 1.1 2.7 -1.4 1.6 -0.3 2.8 2.3 1.2 1 2.9M656.7 424.6q0.5 2.6 2.9 1.4 2.3 -1.8 2.6 1.2 0.4 3.1 2.9 1.6 2.3 -1.6 2.8 1M516.5 437.4q-2.4 0 -1.8 2.5 0.9 2.8 -1.8 2.2 -2.4 0.4 -2.4 2.5 0.5 2.3 -2 2.2M650.7 431q0.5 1.9 2.1 0.9 2.4 -1.5 2.5 1 0.2 2.5 2.2 1.7 1.8 -1.2 2.3 0.7M580.8 459.9q-2.5 1 -0.6 2.7 1.5 1.5 -0.5 2.6 -1.9 1.1 -0.3 2.7 1.7 1.5 0 2.6M603.2 457.2q-1.5 2.2 1.4 2.2 2.2 -0.1 0.7 2.1 -0.5 1.7 1.3 2 2.1 0.3 1.5 2M541.5 452.3q-2.3 0.1 -2.9 2.6 0.4 2.5 -2.6 2.3 -2.5 -0.5 -2.1 2.3 -0.6 2.2 -2.7 2.3M642.9 437.9q-1.2 2.2 1 1.6 2 -0.1 1.6 1.5 -1.2 2.1 0.9 1.5 1.7 0.3 1.3 1.7M612 454.7q-1.2 1.7 0.2 3.1 1.7 1.4 0.6 3 -1.3 1.7 0.1 3.1 2 1.4 0.4 3.1M578 459.9q-1.1 2.6 1.4 2.9 2.7 0.7 2.3 3.2 -1.4 2.6 1.7 3 2.5 0.4 1.4 2.9M519.1 439.5q-2.7 -0.7 -2.2 1.9 0.9 2.5 -1.7 1.8 -2.5 -0.4 -1.8 2.2 0.6 2.4 -1.8 2M617.2 452.8q-2 1.3 0.1 2.7 1.8 1.4 -0.4 2.7 -1 1.3 0 2.7 1.9 1.4 0.4 2.7M519.3 439.6q-1.9 -1.1 -2 1.2 0 2.5 -2.1 0.8 -1.9 -0.7 -2.2 1.4 0.1 2.7 -2.1 1M569.7 459.4q-0.9 2.4 1.4 3.1 2.6 0.6 1.7 3.1 -1 2.4 1.5 2.7 2.2 1 1.7 3.3M524.2 443.1q-2.1 -0.4 -3.2 1.5 -0.4 2.8 -2.9 1.4 -2.5 -1.2 -3.1 1.4 -0.6 2.9 -3.2 1M657.8 423.3q0.4 3.2 3 1.5 2.6 -0.6 3.1 1.8 1 2.5 3.3 2.1 2.4 -0.8 3.3 1.1M551.5 455.8q-2.8 0.1 -1.4 2.3 1.1 2.5 -1.2 2.8 -2.1 0.6 -1.7 2.6 0.4 1.8 -1.6 2.2M603.5 457.1q-1.8 0.9 -0.6 2.5 1 1.7 -1 2.7 -1.5 0.8 0 2.4 1.3 1.8 -0.9 2.6M504.2 425.6q-2.6 0.1 -1.4 2.2 1.2 2.5 -1.5 2.7 -2 0.2 -0.9 2.4 0.6 1.9 -2 2.1M509.4 431.1q-3 1 -0.6 3.4 1.2 2.1 -0.8 3.4 -1.9 1.3 -1.2 3.3 2.1 2.2 -1 3.3M577.5 459.9q-1 1.2 0 2 1.8 0.8 1.1 2.1 -2.4 1.4 -0.2 2 3 0.5 0.3 2M660.1 420.3q-1.5 1.9 1 2.6 2.3 0.5 1.1 2.4 -2 2.1 0.7 2.7 1.5 0.7 0.5 2.4M593.2 459q-2.5 1.1 -0.4 2.5 1.6 1.4 0.1 2.5 -1.7 1.1 -0.3 2.5 2.1 1.4 0 2.5M661 419.2q1.5 1.9 3.3 0.1 1.7 -1.8 3.2 0.5 1.6 1.1 3.2 -0.1 1.7 -1.5 3.2 0.4M541.6 452.3q-2.2 0.8 -1.1 3 0.7 1.8 -0.7 2.9 -2.6 0.8 -1.2 2.8 1.1 2.3 -1.2 3M635.8 443.1q-1.6 2.5 1.1 3.1 3.2 0.5 1.8 2.9 -1.2 2.3 1.1 3.2 2.4 0.7 0.8 2.9M591.8 459.2q-1.7 0.9 -0.8 2.7 0.6 1.6 -0.8 2.6 -2.2 0.7 -1.3 2.5 1.8 2 -1 2.6M588.8 459.5q-1.7 1 -0.5 2.5 1.3 1.6 -0.8 2.6 -2.2 0.8 0 2.5 1 1.6 -0.6 2.6M560.6 458q-2.2 1.6 0 3.5 2 1.9 -0.2 3.5 -1.9 1.7 -0.1 3.5 1.6 1.9 -0.7 3.5M574.3 459.7q-1.9 0.7 -0.9 2.1 1.2 1.5 -0.6 2.3 -2 0.5 -0.5 2.1 2.2 1.8 -0.5 2.2M553.2 456.3q-2.4 1.3 -0.4 3.4 1.9 2 -1.1 3.2 -2.1 1.3 -0.5 3.3 2.1 2.1 -0.6 3.4M589.8 459.4q-3 0.7 -1 3 1.8 2.5 -1.4 3.3 -1.7 1 -1.1 3 1 2 -1.2 3.2M659 421.8q-0.2 2.8 2.2 1.3 2.3 -1.7 2.3 0.9 -0.2 2.8 1.8 1.4 2.5 -1.5 2.3 1.4M644.6 436.5q-0.8 1.8 1.3 2.4 2 0.7 1 2.5 -2 2.2 0.5 2.7 2.6 0.4 1.1 2.3M532.8 448.2q-2.4 -0.5 -2 2.2 -0.3 1.9 -2.7 1.7 -2.5 -1.1 -2.3 1.9 0.3 2.2 -2.2 1.7M570 459.4q-1.7 1.5 0.4 2.2 1.7 0.7 0.5 2.1 -1.9 1.6 0.3 2.2 1.7 0.8 0.9 2.1M508.3 430q-2.3 -1.4 -2.2 1 -0.6 2.2 -2.6 1.6 -2.1 -1 -2.2 1.3 0 3 -2.6 1.2M512.9 434.3q-1.8 0.4 -0.7 1.9 1.7 1.9 -1.1 1.9 -2.2 0.2 -0.7 2.1 1.5 1.6 -0.5 1.9M577.2 459.9q-1.4 2 1.2 2.7 2.1 0.5 1.2 2.3 -1.1 1.9 0.6 2.8 1.9 0.7 1.2 2.6M523.5 442.6q-2.9 -1 -2.5 2.1 0.2 2.2 -2.4 1.9 -2.5 -1 -2.2 1.7 -0.2 2.1 -1.9 2M530.8 447.1q-2.7 -0.3 -1.2 2.1 1.5 2.1 -1.2 1.8 -2 0.2 -0.9 2.1 1.1 2 -1.4 2M639.2 440.7q0.1 1.9 2.3 2.2 2 -0.4 1.9 1.5 -0.4 2.6 2.2 2 2.2 -0.1 1.9 2.3M603.7 457.1q-1.2 2.7 2.1 3 2.5 0.1 1.3 2.7 -0.1 2.2 1.8 3 2.4 0.5 2.2 2.6M606 456.5q-2.3 0.6 -1.2 2.6 1.3 1.8 -0.6 2.6 -1.9 0.7 -1 2.6 1 1.6 -0.5 2.5M589.1 459.5q-1.4 1.8 0.6 1.6 2.4 0.2 1.4 1.9 -1.5 1.7 0.5 1.6 2.3 0.2 1.4 1.9M626.2 448.7q-1 1.9 0.5 2.8 3.2 0.5 1.1 2.6 -1 2 1.1 2.9 2.3 0.7 0.6 2.7M661.6 418.3q-1.6 2.6 1.2 2.6 2.5 0.5 1.9 2.7 -1.7 2.5 1.2 2.6 2.9 0.2 1.6 2.6M649.4 432.2q-1.3 2.6 1.5 2.8 1.9 0.5 1.9 2.5 -0.8 2.1 1.2 2.3 2.3 0.6 2 2.6M638.9 440.9q-0.5 3 2.2 2.1 2 -0.2 2.6 1.6 -0.4 2.7 2 1.6 2.7 -0.5 2.6 2.2M602.6 457.3q-1.1 2.6 1.8 2 2.5 -1.1 1.4 1.3 -1.1 2.8 1.7 1.8 1.7 0.1 1.6 2.1M518.8 439.2q-1.8 1.2 -0.8 3.1 2.4 2 -0.1 3.1 -1.8 1.2 -0.7 2.9 1.7 2 -0.8 3.1M510.2 431.9q-2.1 0.5 -2.2 2.7 0.8 2.7 -1.8 2.8 -3 -0.3 -2.1 2.6 0.4 2.6 -2.6 2.4M630.1 446.6q-2.4 1 -0.4 2.4 1.7 1.3 0 2.4 -1.8 1.1 0 2.4 2.4 1.4 0 2.4M548.7 454.9q-2 0.7 -0.7 2.6 0.5 1.6 -0.7 2.5 -2 0.7 -1.2 2.6 1.2 1.8 -0.8 2.5M590.4 459.4q-1.9 0.9 -0.3 2.4 1 1.4 -0.4 2.4 -2.1 0.9 -0.9 2.4 2.3 1.6 0 2.3M611.1 455q-0.2 2.2 2 2.2 2.1 -0.2 1.9 2.2 -0.8 2.5 2.3 2 2.3 -0.5 1.5 2.2M655.2 426.3q-1.9 2.1 0.6 2.6 2 1 1.5 2.9 -1.5 1.8 0.7 2.5 1.6 1 0.6 2.7M561.3 458.2q-1.9 0.3 -0.9 2.1 1.2 1.9 -1.2 2 -2.1 0.2 -0.9 2.1 1.2 1.8 -0.7 1.9M617 452.9q-1.6 1.2 -1 2.8 2.1 1.9 0.2 2.8 -3.1 1 -0.9 2.9 2.1 1.9 -0.2 2.9M652.7 429q-1.7 2.2 1.2 1.9 2.7 -0.1 1 2 -1.4 2.1 1.1 2.2 1.8 0.3 1.1 1.8M640.2 440q0.6 2.2 3 1.6 2.2 -0.5 2.6 2 0.5 2.4 2.9 1.6 2.4 -0.7 3 1.4M616.3 453.2q-1.5 1.3 -0.1 2 2 0.8 0.7 2 -1.2 1.3 0.3 2.1 1.9 0.7 0.4 2M653.4 428.2q0.3 2.1 2.3 2.2 3 -1.2 2.8 2.1 0.3 1.7 2.2 1.9 2.4 -0.5 2.6 2M655 426.5q1 2.1 3.1 1.4 2.2 -1.5 3.1 1.2 0.9 2.1 3.1 0.7 2.2 -1.2 3.2 1.6M655.4 426.1q0.9 2.6 3 1.3 2.5 -1.9 3.3 1.2 0.9 2.1 3.3 0.7 2 -1 2.9 1.6M503.4 424.7q-2.7 -0.8 -2 2.2 -0.1 2 -2.4 1.8 -1.9 -0.1 -2.2 1.8 0.6 2.9 -2.4 1.7M656.9 424.4q1 1.5 2.6 0.5 1.9 -2.1 2.5 1 1 1.6 2.7 0.3 1.7 -1.7 2.6 0.3M625.6 449q-1.1 2.2 1.2 1.9 1.9 0.4 1.4 2.2 -1.2 2.3 1.5 1.9 2.3 -0.1 1.5 2M562.7 458.4q-2.1 1.3 -0.6 3.3 2 2.1 -1.1 3.3 -2.6 1 -0.4 3.2 1.4 2 -0.4 3.2M578.4 459.9q-1.5 0.9 -0.9 2.5 1.9 1.8 -0.6 2.5 -2.6 0.6 -0.6 2.4 1.7 1.8 -0.3 2.6M528.3 445.6q-2.6 -1.2 -2.4 1.3 -0.5 2.2 -2.7 1.8 -1.7 -0.1 -2.4 1.7 0.2 2.9 -2.2 1.9M594.6 458.8q-2.5 1.4 0.1 2.6 1.6 1.3 0.2 2.6 -2.4 1.4 0.3 2.6 1.4 1.3 -0.2 2.6M584.8 459.8q-1.7 1.8 0.7 3.3 2.2 1.5 -0.4 3.4 -1.7 1.9 0.8 3.3 1.2 1.6 -0.2 3.3M509.9 431.6q-2.9 -1.1 -2.9 2.2 -0.2 2.7 -2.8 2.1 -2.7 -0.9 -3.3 1.5 0.1 3.2 -2.9 1.9M646.7 434.7q-0.4 2.3 1.9 1.5 2.3 -0.7 2.1 1.7 -0.9 2.6 1.8 1.4 2.2 -0.6 1.6 1.8M515.9 436.9q-2 -1.3 -1.9 1 -0.3 1.9 -2 0.9 -2.1 -1.2 -1.7 1.6 -0.5 1.5 -2.2 0.7M572.1 459.6q-1.6 2.1 1 1.9 1.8 0.4 1.2 2 -1.9 2.2 1 1.8 2.4 0.1 1.2 2.1M509 430.7q-1.6 -1.7 -2 0.7 -0.4 2.4 -2 0.7 -1.5 -1 -2.1 0.7 -0.6 1.3 -1.9 0.4M602.5 457.4q-1.1 1.5 0.3 2.7 1.8 1.1 0.6 2.6 -2.3 1.7 -0.1 2.7 2.3 1.1 0.8 2.7M549.3 455.1q-2.7 -1 -1.3 1.4 0.7 2.4 -1.5 1.5 -2.7 -0.8 -1.7 1.6 1.2 2.7 -1.6 1.9M658.5 422.4q0.8 1.5 2.2 0.5 1.4 -0.9 2.2 0.4 0.4 3 2.1 0.9 1.7 -2.4 2.1 0.1M518.8 439.2q-2.1 0.1 -2.3 2.2 0.5 2.8 -2 2.5 -2.6 -0.4 -2.7 2.1 1 2.9 -1.8 2.1M549.5 455.2q-1.7 1.2 -0.4 2.4 1.8 1.2 0.1 2.4 -2 1.2 0.1 2.4 1.7 1.2 -0.2 2.4M636.5 442.6q-1.5 1.7 0.4 2.4 2.2 0.8 0.6 2.4 -0.8 1.7 0.8 2.6 2.8 0.5 1.3 2.3M525.7 444q-2.3 0.2 -1.7 2.4 1.2 2.1 -1.4 2.1 -2.7 -0.2 -0.9 2.5 0 1.6 -1.5 2.2M626.9 448.3q-2.6 1.2 -0.4 2.9 2.1 1.6 -0.5 2.8 -1.4 1.3 -0.3 2.8 2.6 1.7 0.2 2.9M522.6 442q-1.7 0.5 -1.3 2.4 0.9 2.2 -1.6 2.1 -1.9 0.4 -1.8 2 1.4 2.7 -1.7 2.3M642.3 438.4q-0.7 2.8 1.9 1.5 1.9 -0.8 1.5 1.5 -0.6 2.7 2 1.4 2.4 -1.3 2 1.5M602.3 457.4q-1.4 1.7 0.3 2.4 1.8 0.9 1.2 2.4 -1.3 1.6 0.5 2.4 2.2 0.7 1 2.4M543 452.9q-2.9 0.7 -1 3 0.7 2.3 -1.5 3.2 -2.9 0.8 -1.1 3.2 0.5 2.2 -1.6 3.3M653.1 428.6q-0.4 2.3 1.6 2.8 2.9 0.5 1.9 3 -0.8 2.7 1.7 3 3.3 0 2.3 2.9M599.3 458q0.2 2 2.2 2.3 2.4 0.2 1.8 2.7 -0.5 2.8 2.4 2.6 2.2 0.2 2.4 2.5M632.2 445.4q-1.4 1.5 0.4 2.2 1.6 0.8 0.4 2.2 -2.1 1.7 0.4 2.2 1.7 0.9 1 2.2M592.2 459.2q-1.9 1.3 -0.5 2.8 1.4 1.5 0.1 2.8 -2.6 1.2 -0.6 2.8 2 1.5 0.1 2.8M515.4 436.5q-2.8 -0.4 -1.4 2 0.4 1.7 -1.3 2.2 -1.6 0.1 -1.2 1.6 1.4 2.5 -1.6 2.1M590.9 459.3q-1.6 1.6 0.7 2.2 2.6 0.4 0.4 2.3 -1.8 1.6 0.8 2.1 2.9 0.3 0.8 2M603.5 457.1q-2.4 1.4 -0.2 3.1 1.6 1.6 0.1 3.1 -2.7 1.4 -0.1 3.1 2.3 1.7 -0.2 3.1M559.5 457.8q-1.6 1.4 0.2 2.7 2.2 1.3 -0.3 2.8 -2.2 1.5 0.2 2.8 1.8 1.3 0.6 2.8M541.2 452.1q-2.5 -0.3 -1.5 2 0.8 1.5 -0.9 1.8 -2.3 -0.3 -1 1.5 0.4 1.9 -1.1 1.8M595 458.8q-2.6 1.6 -0.4 3.3 2.4 1.7 0.6 3.3 -2.6 1.6 -0.6 3.3 2.1 1.7 0.1 3.3M595.6 458.7q-1.1 2.7 1.8 1.9 2.4 -0.3 1.5 2 0 2.3 2.2 2.4 1.8 -0.1 1.8 1.8M584.2 459.8q-1.9 2.3 0.6 3.1 2.4 1.1 1.4 3.1 -0.6 1.9 1.2 3.1 1.5 1.1 0.9 3.1M577.9 459.9q-2.1 0.1 -1.6 2.4 1.1 2.1 -1.2 1.9 -2.7 -0.1 -1.6 2.1 0.2 1.9 -1.8 2.4M503.1 424.3q-1.7 -1.3 -2.2 0.4 -0.3 2.3 -1.8 1.5 -1.7 -1.4 -2.1 0.4 -0.6 1.7 -2.2 0.9M512.4 433.9q-2 -0.3 -2.2 1.5 0.5 2.5 -1.6 2 -1.9 -0.1 -2.2 1.5 0.2 2.3 -2 2.1M566.7 459q-2.8 0 -0.7 1.8 1.7 2.1 -1.2 2.1 -1.3 0.4 -0.6 1.7 1.1 1.8 -0.8 2.1M641.5 439q-1.3 1.9 0.6 2.7 2.4 1 0.8 2.8 -1.1 1.9 0.6 2.9 3.1 0.8 0.9 2.9M622.6 450.5q0.3 2.3 2.6 2 3 -0.8 2.9 2.3 -0.6 3.1 2.3 2 2.9 -0.6 2.7 2.3M526.1 444.3q-1.4 1 -0.5 2.4 1.7 1.5 -0.5 2.3 -1.1 1.1 -0.5 2.4 1.5 1.4 -0.2 2.4M519.1 439.4q-2.6 0.8 -0.8 3.1 0.3 2 -1.4 3.2 -2 0.9 -0.9 2.9 1.4 2.3 -1.4 3.2M656.7 424.6q1.5 2.2 3.4 0.3 2 -2.1 3.4 0.5 1.5 2 3.5 0.3 1.9 -0.8 3.4 0.4M648.9 432.7q-1 1.9 0.6 3.3 2.9 1 0.9 3.3 -0.8 1.8 1.1 3.2 1.4 1.3 0.7 3.3M541.8 452.4q-1.2 1.4 -0.1 2.8 2.3 1.5 0.2 2.8 -1.8 1.4 -0.2 2.8 2.1 1.5 -0.1 2.8M562.7 458.4q-0.9 2 1.5 2.5 1.7 0.6 0.9 2.6 -0.5 1.8 0.9 2.6 2.2 0.6 1.6 2.4M542.7 452.7q-2 1.3 -0.8 3.4 0.9 1.9 -0.6 3.2 -2 1.4 -1.1 3.5 1.6 2 -0.6 3.2M657.8 423.2q-0.2 2.6 1.9 1 2.3 -1 2.2 1.3 0.2 2 1.9 1.2 1.9 -0.4 2.2 1.9M617.9 452.5q-1.9 1.7 0.8 2.5 1.4 0.9 0.4 2.5 -2.1 1.6 0.2 2.4 1.8 0.9 0.8 2.4M650 431.7q0 2.7 2.2 1 1.9 -0.6 2.4 1.6 0.1 2.2 2 1.1 2.2 -1.2 2.4 0.8M662.3 417.4q-0.4 2.3 2 1.5 1.9 -0.1 2 2 -0.6 2.3 1.4 1.7 2.4 -0.4 2.1 1.8M510.8 432.4q-2 -0.8 -2 1.5 0.5 2.7 -1.9 1 -2.3 -0.9 -1.8 1.8 0 2.1 -2.2 1.2M626.6 448.5q-0.9 1.8 0.8 1.8 2.4 0.3 1.4 1.9 -1.2 2.1 0.9 2.1 2.9 -0.3 1.4 2M647.5 434q-1.5 2.2 0.8 1.6 1.8 0.3 1.6 1.8 -1.8 2.2 0.6 1.8 2 -0.1 1.2 1.4M655.4 426q-1.3 2.6 1.6 2 2.1 0.1 1.7 2.2 -1.6 2.6 1.1 2.3 2.2 0.1 2 1.9M656.5 424.8q1 2.3 3.3 0.9 2.4 -1.3 3.1 1.2 1.2 2.4 3.3 1.6 2.1 -0.7 3.3 0.7" fill="none" stroke="#1a1a1a" stroke-width="0.9"/>
<path d="M631.6 413.6q1.1 -1.6 -1.1 -2 -1.5 -0.4 -0.2 -1.8 1.3 -2 -1.4 -2.2 -2 0 -0.5 -1.9M542.1 423.8q1.2 -1.1 -0.4 -2 -2 -0.9 -0.2 -2 2.4 -1.1 0.2 -2 -2.5 -0.8 0.2 -2M613.9 426q0.1 -2.1 -2.2 -1.8 -1.6 0.5 -1.7 -1 -0.2 -2.2 -2.4 -2 -1.8 0.8 -1.9 -1M593.3 432.9q0.5 -1.7 -1.5 -1.6 -2.1 0.1 -1.4 -2.1 1.6 -2.3 -1.3 -1.9 -1.7 0.2 -1.2 -1.6M532.6 417.3q1.8 0.4 2 -1.5 0.2 -1.7 2.1 -1.3 2.1 1 2 -1.4 -0.2 -2.1 1.9 -1.5M624.6 419.4q-0.9 -1.6 -2.6 -0.8 -2.2 1.9 -2.6 -0.9 -0.8 -2.3 -2.7 -1.2 -2.2 2 -2.7 -0.6M590.4 433.4q1.8 -2.3 -1.1 -2.1 -2.6 -0.3 -1 -2.4 0.6 -1.8 -1.5 -2.3 -2.4 -0.1 -1.2 -2.2M630.5 414.5q-1 -1.7 -2.5 -0.9 -1.7 1.7 -2.6 0.1 -0.9 -2.1 -2.6 -0.7 -1.8 1.9 -2.6 -1M601.8 430.9q3 -0.8 1.3 -3.1 -1.3 -1.9 0.5 -3 2.8 -0.8 1 -3 -1.3 -2.1 1.2 -3.1M628.3 416.5q0.3 -2 -1.8 -2.2 -2.6 0.8 -1.8 -1.6 0.4 -2.1 -1.3 -2.2 -1.9 -0.2 -2 -1.7M569.9 433.4q2.1 -1.1 0.6 -2.8 -1.1 -1.6 0.7 -2.7 1.4 -1.2 0.3 -2.8 -1.1 -1.7 0.6 -2.9M621.7 421.5q0.9 -2.2 -1.2 -2.5 -3.1 -0.3 -2 -2.9 1.7 -2.4 -1.4 -2.5 -1.8 -0.5 -1.6 -2.3M558.9 431.1q1.4 -1.7 -1 -2.5 -1.6 -0.8 -0.2 -2.4 1.2 -1.8 -0.7 -2.6 -2.1 -0.7 -0.9 -2.3M533.1 417.7q2 -0.4 0.4 -1.8 -1.5 -1.3 0.1 -1.7 2.6 -0.4 0.7 -1.8 -1.2 -1.4 0.3 -1.9M634.8 410.4q0.6 -1.5 -0.8 -1.6 -1.7 0.1 -1.3 -1.6 1.6 -1.9 -0.9 -1.3 -2.6 0.8 -1 -1.4M554.6 429.7q2.2 -1.2 0.5 -3.1 -1.3 -1.8 0.9 -3.2 2.3 -1.1 -0.2 -3.1 -1.9 -2 0.9 -3.1M613.7 426.1q0.9 -1.9 -1.1 -1.5 -1.9 -0.2 -1 -2.1 0.4 -1.5 -1.3 -1.7 -2.7 0.6 -1.3 -1.4M567.3 433q2.4 -0.9 0.1 -2.4 -2.2 -1.5 0.6 -2.3 1.4 -1 0 -2.4 -2.3 -1.5 0.3 -2.4M536.7 420.3q1.7 -0.5 0.4 -1.9 -1.1 -1.4 0.9 -1.8 1.4 -0.6 0.6 -1.9 -1.1 -1.4 0.5 -2M601.1 431.1q1.6 -1.3 0.9 -3.2 -1.7 -1.8 0.1 -3.1 2.6 -1 0.6 -3.1 -1.1 -1.9 0.9 -3M633.1 412.1q1.2 -2.6 -1.7 -2.4 -3 0.1 -1.5 -2.6 0.4 -2.2 -2.1 -2.6 -2.6 0.2 -1.8 -2.1M603.1 430.5q0.5 -2 -1.3 -2.6 -2.4 -0.3 -1.6 -2.2 1.2 -2.6 -1.3 -2.7 -2.1 -0.5 -1.6 -2.5M534 418.4q1.9 0.1 2.4 -1.8 0.2 -2.3 2.5 -1.7 2.4 1 2.8 -1.4 -0.3 -3 2.3 -2M575.1 433.9q2.1 -0.8 0.9 -2.7 -1 -1.9 0.6 -2.9 2.5 -0.7 1.4 -2.6 -1.1 -1.9 0.5 -2.9M570.1 433.4q2.3 0.4 1.2 -1.7 -1.4 -1.8 1.1 -1.6 2 0.5 0.6 -1.3 -0.4 -1.7 1.1 -1.9M635.2 409.9q0.7 -1.8 -1 -2.6 -2 -0.8 -0.9 -2.7 1.2 -2 -0.8 -2.8 -2.4 -0.6 -1.1 -2.5M537 420.6q2.5 1.3 2 -1.7 -0.4 -2.2 1.6 -1 2.5 0.9 2.2 -1.6 -0.2 -2.1 2 -1.2M572 433.7q1.6 -2.5 -1.4 -2.4 -1.7 -0.6 -1.5 -2.6 1.3 -2.1 -1.1 -2.4 -2.9 0.1 -1.1 -2.4M606.2 429.4q2.3 -1.2 0.4 -2.8 -1.3 -1.4 0.1 -2.8 2.2 -1.2 -0.1 -2.8 -2.2 -1.5 0.1 -2.8M594.9 432.6q1.4 -0.9 -0.1 -1.9 -2.3 -1.1 0.7 -1.9 1 -0.9 -0.2 -1.9 -1.8 -1 -0.1 -1.9M534.4 418.6q2.1 -0.2 2.1 -2.1 -0.4 -2 1.5 -2.4 2.4 0 1.9 -2.6 -1.3 -2.5 1.5 -1.9M601.4 431q1.3 -2.5 -1.7 -2.1 -2.4 0.2 -1.1 -2 0.3 -2.1 -1.7 -2.1 -1.8 -0.5 -1.9 -2.2M544.9 425.4q1.7 0.3 2 -1.7 -0.9 -2.5 1.8 -1.3 1.6 0.5 1.5 -1 0.1 -2.2 2 -1.5M618.4 423.5q0.6 -2 -1.3 -1.4 -2.7 0.7 -1.9 -1.8 0.7 -1.9 -1.4 -1.4 -2.2 0.6 -1.1 -1.6M617.7 424q1.4 -1.8 -0.6 -1.5 -2.2 -0.2 -0.8 -1.8 0.3 -1.5 -1.2 -1.8 -2.4 0.2 -0.8 -1.5M566.6 432.9q2.1 -0.6 0.5 -2.4 -0.6 -1.6 1.3 -2.3 1.6 -0.8 0.6 -2.5 -1.8 -1.8 0.5 -2.3M567 433q1.6 -1.7 0.2 -3.1 -1.7 -1.4 -0.5 -3 2.3 -1.7 -0.5 -3.1 -1.4 -1.4 0 -3M628.5 416.4q-0.2 -2.6 -2.6 -1.4 -2 0.9 -2.5 -1.1 -0.2 -2.7 -2.6 -1.5 -2.3 1.3 -2.3 -1.8M609.6 428q1.5 -1.8 -0.6 -2.9 -2.6 -1 -0.6 -2.8 1.5 -1.8 -0.6 -2.9 -1.9 -1.1 -0.3 -2.9M633 412.2q-0.6 -3 -2.7 -0.7 -2.2 2 -3 -1.2 -1 -1.4 -2.8 -0.9 -1.9 1.7 -2.8 -0.3M547 426.5q2 -0.6 0.5 -2 -2.1 -1.5 0.2 -2.1 2.4 -0.5 0.6 -1.9 -1.1 -1.3 0.7 -2M539.2 422.1q3 -0.5 1.4 -2.9 -2 -2.3 0.5 -2.8 2.5 -0.9 1.2 -3 -1.2 -2.2 1.6 -2.7M541 423.2q1.9 -0.4 1.3 -2.2 -1.5 -2 0.7 -2.1 2.5 -0.1 1.5 -2 -1.7 -2.2 0.7 -2M633.9 411.3q0.1 -2.1 -2 -1.7 -2.1 1 -2 -1.2 0.6 -2.8 -2 -1.4 -2 0.5 -2 -1.8M592 433.1q1.3 -1.9 -1.3 -2.3 -2.5 -0.5 -0.3 -2.6 0.4 -1.8 -1.3 -2.4 -2.3 -0.6 -0.7 -2.7M632.1 413.1q2.3 -1.6 -0.9 -1.9 -2.3 -0.4 0 -1.9 1.8 -1.5 -0.3 -1.9 -2.9 -0.4 -0.6 -1.9M541.2 423.3q2.2 -0.5 0.8 -2.1 -2.1 -2 0.8 -2.3 2.4 -0.4 0.7 -2.2 -1.3 -1.6 0.6 -2.3M529.2 414.3q2.6 0.3 1.5 -1.8 -1.7 -2.2 0.6 -1.9 1.9 -0.3 1.6 -1.8 -1.2 -2 1.1 -2.1M614.1 425.9q1.1 -2.5 -1.8 -2.3 -1.8 -0.4 -1.5 -2.3 0.2 -2 -1.7 -2.7 -2.2 0 -1.2 -2M615.9 425q1.4 -1.4 0.1 -3.1 -1.7 -1.7 0.5 -3.1 2.4 -1.4 0.2 -3.1 -1.2 -1.6 0.3 -3.1M612.1 426.9q-0.4 -1.8 -2.1 -1.6 -2.2 0.3 -2.5 -2 0.3 -2.4 -2 -1.3 -2.2 0.4 -2.5 -1.6M573.7 433.8q1 -1.9 -0.6 -3 -2.1 -1.1 -1 -3 2 -2.2 -0.8 -3.1 -2.7 -0.8 -0.7 -2.9M620.2 422.4q0.9 -1.9 -1 -2 -2.7 0.3 -1 -1.8 1.1 -2.2 -1.2 -1.9 -2.8 0.2 -1.7 -2M590.7 433.3q1.8 -2.3 -0.7 -2.9 -2.4 -1.1 -1.5 -3 1.7 -2.2 -0.4 -3 -3 -0.8 -1.2 -2.9M614.3 425.8q1.8 -1.4 -0.7 -1.9 -2.5 -0.5 -0.2 -2.1 2.1 -1.4 -0.1 -2 -2.9 -0.3 -0.7 -1.8M529.2 414.3q2.6 0.8 2.6 -2.1 -0.1 -2.4 2.3 -1.5 2.8 0.6 2.4 -2.5 0.1 -2.5 2.5 -1.4M630.2 414.8q0.4 -2.3 -1.7 -2.5 -2.3 -0.3 -2 -2.4 0.4 -2.4 -2.1 -2.1 -2.1 -0.6 -2.1 -2.5M536.6 420.3q2 0.6 2.4 -1.7 0.3 -2.3 2.8 -0.8 2 0.5 2.5 -1.7 0.5 -1.7 2.3 -1.1M582.1 434.1q1.7 -1.2 0.1 -2.8 -1.3 -1.6 0.9 -2.7 1.7 -1.1 -0.2 -2.8 -1 -1.5 0.8 -2.7M624.7 419.4q0.9 -2.1 -1.1 -1.5 -1.8 -0.2 -1.7 -1.5 1 -2.2 -1.5 -1.9 -1.3 0 -0.9 -1.7M559.1 431.1q2.5 -0.6 1.1 -3 -0.8 -2.1 1.3 -2.8 3.1 -0.5 1.3 -3.1 -0.8 -2.1 1.5 -2.8M539.9 422.5q2.5 -0.4 0.7 -1.8 -2.4 -1.3 0.2 -1.8 1.5 -0.6 0.1 -1.8 -1.8 -1.2 0.6 -1.7M637.2 407.7q0.2 -1.7 -1.5 -1.3 -2.2 0.5 -1.5 -1.7 1.2 -2.5 -1.6 -1.3 -1.6 0.1 -1.3 -1.9M614 426q1.2 -1.6 -0.5 -2.4 -2.8 -0.5 -0.6 -2.5 0.8 -1.5 -0.7 -2.2 -2.1 -0.8 -1.2 -2.4M612.9 426.5q1.4 -1.2 -0.5 -2.2 -1.9 -0.9 0.2 -2.1 2.1 -1.3 -0.3 -2.2 -2.1 -0.9 0 -2.2M608.6 428.5q0.7 -2.6 -1.6 -1.5 -1.9 0.7 -1.7 -1.2 0.1 -1.9 -1.9 -1.2 -1.6 0.3 -1.6 -1.5M592.1 433.1q1.8 -1.4 -0.1 -2.4 -2.7 -1 -0.7 -2.5 1.6 -1.4 -0.4 -2.4 -1.7 -1 0.1 -2.5M532.4 417.1q2.5 0.5 2 -1.9 -0.4 -2.4 1.8 -1.9 2.9 0.5 2.4 -2.4 -0.3 -2 1.6 -1.8M583.3 434q1.3 -1.9 -0.4 -3.1 -2.5 -1.2 -0.8 -3.1 1.5 -1.8 -0.9 -3.1 -2.5 -1.1 0.1 -3.1M534.4 418.7q2.2 -0.6 0.4 -1.8 -2.2 -1.3 0.2 -1.9 1.7 -0.6 0.4 -1.9 -1.4 -1.1 0.1 -1.8M528.6 413.8q2.1 1.6 1.9 -0.8 -0.3 -2.3 1.6 -1.1 1.8 1 1.8 -1.4 -0.6 -2.4 1.7 -0.6M577.8 434.1q2.3 0 1.3 -2 -1.6 -2.4 1.5 -2.3 1.8 0 1.2 -1.7 -1.4 -2.3 0.8 -2.1M628.1 416.7q-0.7 -2.2 -2.5 -0.5 -1.9 1.4 -2.6 -1.1 -0.7 -2.2 -2.5 -0.5 -1.8 1.2 -2.5 -1.1M634.3 410.9q1.5 -2.6 -1.5 -2.8 -2 -0.6 -1.6 -2.6 1.7 -2.8 -1.5 -2.9 -2.2 -0.6 -1.1 -2.8M577.7 434.1q1.6 -2.1 -1.2 -1.9 -1.9 -0.1 -1 -1.8 2 -2.3 -1 -2.1 -2.1 0.1 -0.6 -2M563.5 432.3q1.5 -1.5 -0.8 -2.3 -2.3 -0.5 -0.3 -2.2 1.7 -1.5 -0.8 -2.1 -1.3 -0.7 -0.1 -2.1M605.8 429.5q1.9 -1.4 -0.2 -2.9 -1.5 -1.4 0.4 -2.9 2.3 -1.4 0.2 -2.9 -2.7 -1.4 -0.4 -2.9M576.5 434q1.8 -1.6 -0.7 -2.4 -1.1 -1.1 -0.3 -2.5 1.8 -1.5 -0.2 -2.5 -1.9 -0.9 -0.7 -2.4M617.6 424q1.7 -1 -0.1 -2 -1.3 -1 0.2 -2 2.4 -1 -0.1 -2 -1.6 -1 0.1 -2M615.4 425.2q1.7 -2 -1.1 -2.4 -1.3 -0.7 -1 -2.3 2.1 -2 -0.8 -2.4 -2.4 -0.4 -0.7 -2.3M556.4 430.3q1.8 -0.1 1.8 -1.6 -0.8 -2.6 1.6 -1.9 2.5 0.4 1.6 -2 -0.7 -2.5 1.9 -2.1M590.4 433.4q1.7 -1.7 -0.6 -2.1 -1.9 -0.8 -0.5 -2.2 0.7 -1.5 -0.7 -2.2 -2.3 -0.7 -0.5 -2.2M562.4 432q2.1 -1.5 -0.4 -2.1 -1.7 -0.7 -0.7 -1.9 2.4 -1.6 -0.5 -2.1 -2.1 -0.6 -0.5 -2.1M539.6 422.3q1.7 0.6 2.3 -1.2 0.3 -2.3 2.4 -0.7 2 1.1 2.3 -1.4 0.7 -1.5 2.2 -0.8M630.3 414.7q0.5 -2.6 -1.4 -1.2 -2.2 1.5 -1.6 -1.1 -0.1 -1.5 -1.9 -0.4 -1.4 0.2 -1.4 -1M585.1 433.9q2.4 -0.7 0.1 -2.2 -1.1 -1.3 0.4 -2.1 1.9 -0.9 0.7 -2.3 -1.4 -1.3 0 -2.1M608.1 428.6q0.6 -2.2 -1.6 -1.3 -1.4 0.5 -1.3 -1.3 0.7 -2 -1.6 -1.1 -2 1.3 -1.3 -1.2M610.7 427.5q0.7 -1.8 -1.3 -2.5 -2 -0.3 -1.1 -2.2 1.8 -2.3 -1.1 -2.2 -2.7 -0.2 -0.8 -2.4M577.9 434.1q1.9 0.2 1.3 -1.4 -1.4 -2.3 0.8 -2 1.9 0.2 1.4 -1.3 -1 -2.2 1.3 -1.7M558.5 430.9q2.6 0 1.7 -2.4 -0.2 -2 1.5 -2.3 2.8 -0.1 1.6 -2.5 -1 -2.7 2 -2.3" fill="none" stroke="#1a1a1a" stroke-width="0.9"/>
<path d="M627.7 301q-1.6 -0.9 -2.2 1 0 2.8 -2 1 -1.9 -1.3 -2.1 0.7 -0.3 2.5 -2.1 0.6M638.8 312.3q-1.7 -0.1 -0.9 1.4 1.1 1.4 -0.9 1.2 -2.1 -0.3 -0.8 1.3 1.6 1.9 -0.7 1.6M617.5 293.9q-2 0.3 -1.1 2.2 0.6 1.9 -1.2 2.2 -2.7 0.1 -1.3 2.1 1.2 2.6 -1.5 2.5M609.7 290q-1.6 0.2 -0.6 1.5 1.5 1.6 -0.9 1.6 -1.5 0.2 -0.5 1.4 1.5 1.7 -0.5 1.6M646.3 323.8q-2.5 -0.2 -0.9 1.7 0.5 2 -1.4 2.1 -1.7 0.3 -0.9 2.1 0.9 1.8 -1.6 1.6M624 298.2q-1.9 -1 -1.5 0.8 0.1 2 -1.7 1.1 -2 -1.1 -1.4 1.3 0 1.6 -1.7 1.4M636.1 309q-2.1 -1.9 -2.6 1.2 -0.6 1.8 -2.5 0.7 -1.7 -1.2 -2.5 0.4 -0.9 1.9 -2.7 1M641.8 316.3q-1.7 -1.3 -2.1 0.6 -0.5 2.2 -2.3 1.3 -1.8 -1.8 -2.1 0.6 -0.1 2.7 -2.1 1.1M648.3 327.8q-2.6 -0.5 -1.6 2 -0.2 1.9 -1.8 2 -2.2 0.2 -1.8 2.2 0.8 2.8 -2 2M614 292q-1.2 0.7 0.3 1.6 2.2 0.9 -0.2 1.5 -1.4 0.7 -0.3 1.5 2 0.9 -0.3 1.6M640.8 314.9q-2.4 -1.4 -1.3 0.9 1 2.7 -1.5 1.6 -1.3 -0.7 -1.3 0.7 0.3 1.8 -1.4 1.6M635.6 308.6q-1.7 -1.3 -2 0.5 -0.5 2.5 -2.2 1.3 -1.7 -1.7 -2.1 0 -0.8 1.9 -2.1 1M649.2 329.8q-1.5 -1 -1.6 1 0.1 1.6 -1.6 0.9 -1.5 -1.4 -1.2 0.9 -0.2 1.4 -1.6 0.4M606.9 288.9q-2.7 -0.9 -1.8 1.8 0.5 1.6 -1.2 1.5 -2.7 -0.8 -1.8 1.7 1.2 2.5 -1.1 1.6M627.8 301.1q-2.1 0.1 -1.3 2.3 -0.1 1.8 -2 2.1 -2.3 0 -1.5 2 1 2.7 -1.5 2.3M607.3 289q-1.7 1.2 0.1 2.3 2.6 1 -0.2 2.3 -0.9 1.2 0.5 2.2 1.2 1.1 -0.3 2.3M625.2 299q-1.5 -0.4 -1.8 1 0.6 2.7 -1.5 1.5 -2.2 -1.8 -1.8 0.7 0.4 2.6 -1.9 1.3M616.5 293.4q-2.5 -0.4 -1.2 1.7 1.8 2 -0.7 1.5 -1.9 0.2 -1.4 1.6 1.3 1.9 -0.9 2M649.2 329.9q-1.4 -1.7 -2.5 -0.2 -1.1 1.9 -2.5 0.5 -1.4 -2.2 -2.5 0.6 -1.1 1.7 -2.5 -0.4M644.9 321.2q-1.7 -0.3 -1.2 1.4 0.4 2.1 -1.5 1.6 -2.1 -0.6 -1.8 1.5 1.1 2.2 -1.5 1.2M630.2 303.1q-1.8 0.1 -1 1.5 2 1.9 -0.7 1.7 -1.7 0.1 -0.3 1.6 1.4 1.9 -0.8 1.7M641.5 315.9q-2.1 0.6 -0.6 2.5 1.8 2 -1.3 2.1 -2.7 0.4 -1 2.6 1.7 1.7 -0.9 2.2M642.3 317q-2.3 -0.7 -0.6 1.3 0.8 1.8 -1.3 1.3 -2.5 -0.8 -0.9 1.2 1.4 2.2 -1 1.5M614 292.1q-1.4 -0.3 -1.3 1.3 0.7 1.4 -1.2 0.7 -1.6 -0.6 -1 1.3 1.2 2.3 -1.2 1.4M639.4 313.1q-1.5 -1.2 -1.5 0.9 -0.2 1.6 -1.6 0.4 -1.8 -1.6 -1.6 1.1 -0.3 1.4 -1.5 0.2M649.8 331.4q-1.7 -2 -2.3 0.3 -0.8 1.9 -2.2 1 -1.8 -2 -2.4 0.5 -0.7 1.9 -2.3 0.4M634.9 307.8q-1.4 -1.4 -2.1 0.2 -0.4 3 -1.9 0.5 -1.4 -1.4 -2 0.7 -0.8 1.4 -2.1 0.1M639 312.6q-2.2 -0.7 -1.6 1.4 0 1.9 -1.6 1.7 -2.7 -1.1 -1.8 1.5 0.7 2.4 -1.5 1.6M627.5 300.8q-2.1 0.9 -0.4 2.6 1.8 1.7 -0.6 2.5 -2.1 1 -0.5 2.6 1.6 1.6 -0.8 2.5M646.9 324.9q-2 -1.6 -2.4 0.7 -0.6 1.9 -2.4 1.1 -1.8 -1.5 -2.2 0.8 -0.4 2.4 -2.3 1.1M647.6 326.4q-2.3 -1.1 -1.3 1.2 0.6 1.8 -1.4 1.1 -1.9 -0.8 -1.1 1.6 0.5 1.5 -1.2 0.9M618.1 294.3q-2.4 -0.1 -1 2 1.2 2.2 -1.4 2 -2.1 0 -1.6 1.9 1.9 2.4 -1 1.9M612.4 291.3q-2.7 -0.2 -1.3 2.2 0 1.9 -1.6 2.2 -2.7 0.1 -1.7 2.2 1.1 2.6 -1.4 2.3M639.1 312.6q-2.4 0.3 -0.9 1.9 2.3 1.8 -0.3 2.1 -2.8 0.2 -1 2 1.9 1.6 -0.6 2" fill="none" stroke="#1a1a1a" stroke-width="0.9"/>
<path d="M673.8 396.3q-0.8 2.7 1.4 1 2.2 -0.9 1.6 1.2 -0.5 2.7 1.8 1.2 1.9 -1 1.6 1.5M679.4 341.8q1.4 1.6 2 -0.5 0.6 -2.5 2.1 -0.4 1.4 2 1.9 -0.4 0.5 -2.7 2 -0.6M679.9 344.5q1.1 1.4 2.6 0.6 1.7 -1.6 2.8 0 0.8 3.2 2.6 0.5 1.5 -0.7 2.7 0.5M679.1 340.3q0.9 2.5 1.6 0.3 0.8 -1.7 1.6 -0.3 0.9 1.9 1.6 -0.2 0.8 -1.1 1.6 -0.2M680.8 362.8q0.9 2.1 1.8 0.4 1 -1.9 1.8 -0.7 0.9 2.3 1.9 0.6 1 -2.4 1.8 -0.1M675.8 327.3q1.9 2.2 2.6 -0.7 0.9 -1.6 2.5 -0.8 1.7 1.4 2.5 -0.5 0.9 -2 2.5 -0.4M672.8 398.5q-1.2 2.2 1.6 2.1 2.3 -0.3 0.8 2 -0.2 1.7 1.9 2.1 2.5 -0.5 1.3 1.8M670.9 402.8q0.6 1.8 2.2 0.8 1.4 -1.1 2.2 0.3 0.4 2.5 2.1 0.3 1.5 -1 2.2 1M680.1 346.2q1.9 0.7 2.6 -1.5 0.5 -1.5 2.2 -1.4 2.4 2 2.4 -0.9 0.5 -2.2 2.7 -0.9M680.9 360.7q0.3 2.6 2.4 1.3 1.7 -0.9 2.4 0.7 0.5 2.2 2.3 1.4 1.9 -1.1 2.3 0.5M678.9 339q2.3 1.7 2.6 -1.5 0.5 -1.5 2.2 -0.5 2 0.5 2.5 -1.5 0.8 -1.7 2.6 -0.8M674.5 394.2q0.9 2.2 2.2 0 1.4 -2.2 2.3 0.5 0.9 1.5 2.2 0.1 1.2 -1.5 2.2 0.4M674.2 395q-0.3 1.9 1.5 1.7 2.4 -0.1 1.7 1.9 0 2.1 2 2 2.2 -0.3 1.5 2.2M677.4 332.7q1.8 0.4 2.3 -1.4 0.3 -2.1 2.3 -1.4 2 0.8 2.1 -1 0.2 -3.1 2.7 -1.6M680.1 371.7q0.9 1.9 2.4 0.4 1.7 -1.4 2.6 0.4 0.9 1.7 2.5 0.6 1.7 -1.7 2.5 1M663.1 416.2q-0.9 1.7 1 1.9 2.6 -0.1 0.9 2.1 -1.1 1.7 1.4 1.7 2.3 -0.2 0.5 2M679.3 340.8q1.2 2.2 2.2 -0.4 1.1 -1.7 2.3 0.5 1.2 1.9 2.3 -0.5 1 -2 2.2 -0.1M680.9 355.8q1.7 1.7 2.5 -0.8 0.8 -1.7 2.5 -0.6 1.5 1.2 2.4 -0.1 0.6 -3.2 2.4 -1.2M675.9 327.6q2.1 1.9 1.8 -0.7 0 -2.9 2.1 -0.8 1.6 0.7 1.8 -0.9 0.1 -2.3 2 -1.1M680.9 358.4q1.3 1.6 2.1 -0.4 0.8 -1.4 2.1 -0.6 1.3 1.8 2.1 -0.4 0.7 -2 2.1 -0.2M678.9 379.2q1.4 1.2 1.4 -1 0.3 -1.5 1.7 -0.1 1.6 1.6 1.6 -0.8 0.2 -1.9 1.5 -0.8M680.9 359.5q0.1 2.7 2.4 1.6 1.8 -0.7 2.6 0.9 0.3 2.2 2.2 1.8 2.2 -1.2 2.4 0.9M671.7 401.1q0.2 2.3 2.1 0.9 1.8 -1.9 1.8 0.6 0.4 2.1 2.1 0.6 1.7 -1.3 1.8 0.9M680.7 353q0.6 2.4 2.3 0.6 1.6 -1 2.4 1.1 0.7 1.5 2.3 0.2 1.7 -1.4 2.3 1.2M677.4 385.4q0.3 2.2 1.5 0.6 1.5 -2.6 1.7 -0.2 0.2 2.7 1.4 0.8 1.2 -1.4 1.6 0.1M666.4 411.1q-0.9 2.4 1.7 1.3 1.3 0.1 1.5 1.4 -1.3 2.8 1.3 1.6 1.5 -0.1 1.6 1.4M679.9 373.1q-0.3 2.8 2 0.8 1.4 -0.6 1.6 1.1 0.3 1.7 1.8 0.9 1.6 -0.6 2 0.7M670.3 403.9q0.3 1.8 2.2 1 2 -0.7 1.8 1.7 0 2.2 2.1 0.9 2.3 -1.1 1.9 1.8M680.4 349.3q1.3 2.1 2.8 0.1 1.4 -1.1 2.8 0 1.3 2.4 2.7 -0.1 1.5 -2 2.8 0.6M677.8 383.9q0.7 1.6 1.7 -0.2 1.1 -1.9 1.8 0.7 0.7 1.7 1.7 -0.3 1.1 -1.6 1.8 0.1M663.5 415.6q0 1.6 1.5 1.2 2 -0.4 1.3 1.7 -0.4 2.1 1.6 1.4 1.6 -0.3 1.5 1.4M680.4 368.7q2 0.9 2.4 -1.5 0.6 -1.9 2.4 -1 2.1 0.9 2.4 -1 0.2 -2.9 2.4 -1.1M680.8 363.2q1.8 1.7 2 -0.9 0.4 -2.2 2.1 -0.7 1.9 2 2.1 -0.4 0.3 -3.1 2.2 -0.9M680.5 368.2q0.6 2.8 2 0.2 1.5 -2.1 2.1 0.6 0.8 1.6 2 0 1.3 -0.9 2.1 0.7M672.6 399q1 2.1 2.2 -0.1 1.2 -1.2 2.1 0.6 1 1.8 2.2 -0.1 1.2 -2.3 2.1 0.5M680.7 364.9q0.8 2.2 2 0.4 1.3 -2.7 2 -0.3 0.9 1.6 2.1 1 1.2 -2.3 2 0.2M679.5 375.8q0.7 1.5 2.2 0.7 1.8 -2 2.3 0.5 0.4 2.4 2.1 0.8 1.6 -1.4 2.3 0.7M679.2 377.3q1.8 1.7 2.1 -0.5 0.1 -2.7 2 -1 1.7 1.6 2 -0.5 0.1 -2.9 1.8 -0.7M678.6 337.7q1 1.7 1.7 0.2 0.8 -1.7 1.8 -0.2 1 1.5 1.7 -0.8 0.6 -2.2 1.7 0.4M680 345.4q0.2 2.2 1.7 0.8 1.9 -2.1 1.7 0.8 0.5 1.4 1.9 0.2 1.6 -1.3 1.9 1M679.9 344.8q1 1.8 1.9 -0.3 0.9 -1 1.9 0.5 1 1.9 1.8 -0.3 0.8 -2.7 1.9 -0.1M680.6 351.1q1.2 1.3 1.9 0 0.4 -2.7 1.7 -1.1 1.2 1.4 1.8 0 0.5 -2.3 1.8 -0.8M676.4 388.9q0.5 2 1.9 0.3 1.4 -1 1.9 0.5 0.5 2.1 1.9 1.1 1.7 -2.2 2 0M680.6 366.5q0.9 2.3 2.6 0.8 1.5 -1.9 2.5 0.2 0.8 2.3 2.4 0.2 1.6 -1.3 2.5 0.7M680.5 350.3q0 2.9 2.2 0.8 1.5 -0.7 1.8 1.4 0.5 1.7 2.1 0.8 2.2 -2 2.1 0.4M679.9 345q1.4 2.4 2.1 -0.3 0.7 -2.1 2 0.1 1.3 1.1 2.1 -0.2 0.9 -2 2.1 -0.6M675.3 392.1q-0.4 1.8 1.5 1.6 2.2 -1.4 1.3 1.3 -0.4 1.5 1.4 1.2 1.9 -0.8 1.2 0.9M679.6 342.9q1.7 0.4 1.7 -1.6 -0.2 -2.4 2.3 -0.8 1.9 0.7 1.6 -1.4 -0.3 -2.8 1.9 -1.7M678.2 336q1.5 1.4 2.5 -0.5 1 -1.9 2.6 0 1.4 0.9 2.4 -0.6 1.1 -1.8 2.5 -0.6M680.8 362.4q0.7 2.2 2.2 0.6 1.4 -1.2 2.3 -0.1 0.8 1.8 2.2 0.7 1.5 -2.2 2.2 0.8M680.5 349.8q2.5 1.4 2.4 -1.4 -0.1 -2.8 2.3 -1.1 2 0.2 2.5 -2 -0.2 -2.6 2.3 -0.8M679 339.5q1.4 1.8 2 -0.2 0.6 -2.6 2.1 -0.7 1.3 1.4 2 -0.6 0.6 -2.1 2 0.1M679.5 342.2q1 1.3 2.1 -0.1 1.1 -1.5 2.1 0.1 1 1.8 2.1 0.1 1.1 -1.9 2.1 -0.3M680.8 364.3q0.5 2.5 1.8 0.2 1.2 -2.2 1.7 0.3 0.5 2.7 1.8 0.3 1.1 -1.9 1.7 0.3M663.3 416q0.1 1.6 1.4 0.9 1.8 -1.5 1.6 0.9 -0.6 2.4 1.5 0.7 1.2 -1 1.4 0.9M666.4 411.1q-0.2 1.6 1.2 0.7 2 -1 1.2 1.4 -0.8 2.4 1.5 0.7 1.8 -1 1.3 1M680.7 353.4q1.8 1.5 2.7 -0.4 1 -1.9 2.7 -1.2 1.9 2.5 2.7 -0.6 0.9 -1.6 2.7 -0.7M675.5 326.4q1.8 0.8 1.4 -1.3 -0.9 -1.9 1.3 -1 1.3 0.5 0.9 -0.8 -0.4 -2 1.4 -1.3M680.4 368.6q-0.7 2.5 1.6 1 1.6 -0.6 1.3 0.9 -0.2 2.1 1.5 1.3 1.6 -0.7 1.3 0.9" fill="none" stroke="#1a1a1a" stroke-width="0.9"/>
<path d="M651.7 381.3q-1 -2.2 -1.7 0 -0.8 1.6 -1.7 0 -1 -1.5 -1.7 0.1 -0.7 2.5 -1.7 0.4M650.5 385q-0.6 -1.3 -1.9 -0.4 -1.2 1.3 -1.7 -0.5 -0.7 -1.3 -1.9 0 -1.2 1 -1.7 -0.9M649.5 387.3q0 -2.7 -1.5 -0.5 -1.6 1.5 -1.9 -0.7 -0.3 -1.5 -1.6 -0.3 -1.4 1.3 -1.5 -0.8M642.7 400.4q-1.1 -2.6 -2.7 -0.6 -1.4 1.6 -2.7 0.4 -1.1 -2.5 -2.6 -0.8 -1.5 2.1 -2.6 0.1M654.9 364.4q-1 -1.8 -1.9 -0.3 -0.9 2.8 -1.9 0.2 -1 -1.1 -1.9 0.4 -0.9 2.2 -1.9 -0.3M643.3 399.3q-0.6 -2.2 -2.5 -0.6 -1.9 1.9 -2.4 -0.8 -0.8 -1.4 -2.4 -0.7 -1.6 1 -2.3 -0.4M654.5 368.2q0.2 -2.2 -1.7 -2 -2 0.3 -2.4 -1.2 1 -3 -1.9 -1.7 -2.1 0.3 -1.5 -2.2M641.8 401.6q0 -1.9 -1.6 -0.9 -1.8 0.2 -2.1 -1.6 0.6 -2.4 -1.7 -0.9 -1.9 0.8 -1.9 -1.2M655.1 359.7q0.5 -2.7 -1.9 -1 -1.8 1 -1.4 -0.9 0.3 -3 -1.8 -1.6 -1.9 1.1 -1.9 -1M648.4 390q0 -1.9 -1.6 -1.1 -1.7 0.5 -1.6 -0.9 0 -2.4 -1.8 -1.8 -2.2 1.5 -2 -1.1M653.8 372.8q-0.2 -2.5 -2.5 -1 -1.7 0.2 -2.3 -1.3 -0.1 -3 -2.3 -1.1 -2.2 0.9 -2.7 -1.3M652 380.3q-0.7 -1.7 -1.9 -0.1 -1.1 1.6 -1.8 -0.6 -0.7 -2.3 -1.9 -0.2 -1.2 2.6 -1.7 -0.3M654.9 364.6q-1.8 -0.4 -2.4 1.5 0.1 2.5 -2.2 1.3 -1.9 -0.9 -2.2 1.2 -0.6 1.8 -2.3 0.9M652.6 378q-0.1 -1.7 -1.5 -1 -2.1 1.4 -1.9 -1 0 -1.7 -1.6 -1.3 -2.1 2 -1.7 -0.9M655 363.1q-1.1 -2.1 -1.7 0.1 -0.7 1.6 -1.8 0.4 -1 -1.7 -1.7 -0.2 -0.7 1.9 -1.8 0.6M642.9 400.1q0.6 -2.2 -1.4 -2.3 -3 0.8 -1.7 -1.8 0.6 -2.4 -1.7 -2.1 -2 -0.2 -1.7 -2.3M652.7 377.7q-1.2 -1.5 -2 0.3 -0.8 1.8 -2 0 -1.1 -1 -2 0.1 -0.8 2.5 -2 0.3M646.6 393.7q0 -2 -1.7 -1.2 -2.4 1.6 -1.7 -1.1 -0.3 -1.9 -2 -1.4 -1.9 1.3 -1.9 -1M651.9 380.7q-0.6 -1.7 -1.7 -0.6 -1.2 2.3 -1.6 -0.3 -0.4 -2.1 -1.6 0.3 -1 0.9 -1.6 -0.5M652.2 379.8q-1.1 -2.2 -2.5 -0.5 -1.5 2.3 -2.6 -0.3 -1.1 -2.4 -2.6 -0.4 -1.5 2 -2.6 0.2M655.1 357.3q-2 -1.9 -1.5 1 0.7 2.4 -1.2 0.2 -1.3 -0.3 -1.2 1.4 0.3 2.1 -1.5 0.1M653.7 373.3q-0.6 -1.7 -2.3 -1.1 -1.6 1.7 -2.1 -0.3 -0.6 -1.7 -2.1 -0.8 -2 2 -2.1 -0.4M654.7 366.4q0.2 -2 -1.5 -1 -1.5 0.8 -1.5 -0.5 0.2 -2.4 -1.4 -1.4 -2 1.4 -1.8 -1.1M649.2 388.1q-0.5 -2 -2.1 -0.6 -1.5 0.5 -2.1 -1.3 -0.4 -2 -2.2 -0.5 -1.7 1.2 -2 -0.6M654.9 353.8q-2.2 -1.2 -1.9 1.3 0.5 2.2 -1.4 1.5 -1.9 -0.9 -1.9 1.1 0.4 2.2 -1.8 1M647.3 392.4q-1.3 -1.6 -2.5 -0.1 -1.3 2.2 -2.5 -0.2 -1.3 -0.9 -2.5 0.1 -1.3 2 -2.5 0.1M652.3 379.5q0.8 -2.1 -1.4 -1.5 -2.4 1.4 -1 -1.3 0.5 -1.8 -1.3 -1 -2.1 0.5 -1.2 -1.3M654.8 365.5q-1.9 -1.2 -2.4 0.7 -0.6 1.9 -2.3 1.5 -1.9 -1.6 -2.2 0.6 -0.2 2.7 -2.2 1.5" fill="none" stroke="#1a1a1a" stroke-width="0.9"/>
<circle cx="498.6" cy="421.4" r="4.2" fill="url(#hg)" stroke="#111" stroke-width="0.8"/>
<circle cx="493.3" cy="413.9" r="4.2" fill="url(#hg)" stroke="#111" stroke-width="0.8"/>
<circle cx="488.8" cy="406.0" r="4.2" fill="url(#hg)" stroke="#111" stroke-width="0.8"/>
<circle cx="485.0" cy="397.8" r="4.2" fill="url(#hg)" stroke="#111" stroke-width="0.8"/>
<circle cx="481.9" cy="389.2" r="4.2" fill="url(#hg)" stroke="#111" stroke-width="0.8"/>
<circle cx="479.7" cy="380.4" r="4.2" fill="url(#hg)" stroke="#111" stroke-width="0.8"/>
<circle cx="478.2" cy="371.4" r="4.2" fill="url(#hg)" stroke="#111" stroke-width="0.8"/>
<circle cx="477.5" cy="362.4" r="4.2" fill="url(#hg)" stroke="#111" stroke-width="0.8"/>
<circle cx="477.6" cy="353.3" r="4.2" fill="url(#hg)" stroke="#111" stroke-width="0.8"/>
<circle cx="478.5" cy="344.2" r="4.2" fill="url(#hg)" stroke="#111" stroke-width="0.8"/>
<circle cx="480.2" cy="335.3" r="4.2" fill="url(#hg)" stroke="#111" stroke-width="0.8"/>
<circle cx="482.7" cy="326.5" r="4.2" fill="url(#hg)" stroke="#111" stroke-width="0.8"/>
<circle cx="485.9" cy="318.0" r="4.2" fill="url(#hg)" stroke="#111" stroke-width="0.8"/>
<circle cx="489.9" cy="309.8" r="4.2" fill="url(#hg)" stroke="#111" stroke-width="0.8"/>
<circle cx="494.6" cy="302.1" r="4.2" fill="url(#hg)" stroke="#111" stroke-width="0.8"/>
<circle cx="500.0" cy="294.7" r="4.2" fill="url(#hg)" stroke="#111" stroke-width="0.8"/>
<circle cx="506.0" cy="287.9" r="4.2" fill="url(#hg)" stroke="#111" stroke-width="0.8"/>
<circle cx="512.6" cy="281.6" r="4.2" fill="url(#hg)" stroke="#111" stroke-width="0.8"/>
<circle cx="519.8" cy="276.0" r="4.2" fill="url(#hg)" stroke="#111" stroke-width="0.8"/>
<circle cx="527.3" cy="270.9" r="4.2" fill="url(#hg)" stroke="#111" stroke-width="0.8"/>
<circle cx="535.4" cy="266.6" r="4.2" fill="url(#hg)" stroke="#111" stroke-width="0.8"/>
<circle cx="543.7" cy="263.0" r="4.2" fill="url(#hg)" stroke="#111" stroke-width="0.8"/>
<circle cx="552.4" cy="260.2" r="4.2" fill="url(#hg)" stroke="#111" stroke-width="0.8"/>
<circle cx="561.2" cy="258.1" r="4.2" fill="url(#hg)" stroke="#111" stroke-width="0.8"/>
<circle cx="521.1" cy="402.8" r="4.2" fill="url(#hg)" stroke="#111" stroke-width="0.8"/>
<circle cx="516.3" cy="395.5" r="4.2" fill="url(#hg)" stroke="#111" stroke-width="0.8"/>
<circle cx="512.5" cy="387.7" r="4.2" fill="url(#hg)" stroke="#111" stroke-width="0.8"/>
<circle cx="509.5" cy="379.6" r="4.2" fill="url(#hg)" stroke="#111" stroke-width="0.8"/>
<circle cx="507.6" cy="371.1" r="4.2" fill="url(#hg)" stroke="#111" stroke-width="0.8"/>
<circle cx="506.7" cy="362.5" r="4.2" fill="url(#hg)" stroke="#111" stroke-width="0.8"/>
<circle cx="506.8" cy="353.8" r="4.2" fill="url(#hg)" stroke="#111" stroke-width="0.8"/>
<circle cx="507.9" cy="345.2" r="4.2" fill="url(#hg)" stroke="#111" stroke-width="0.8"/>
<circle cx="510.0" cy="336.8" r="4.2" fill="url(#hg)" stroke="#111" stroke-width="0.8"/>
<circle cx="513.1" cy="328.7" r="4.2" fill="url(#hg)" stroke="#111" stroke-width="0.8"/>
<circle cx="517.2" cy="321.0" r="4.2" fill="url(#hg)" stroke="#111" stroke-width="0.8"/>
<circle cx="522.1" cy="313.9" r="4.2" fill="url(#hg)" stroke="#111" stroke-width="0.8"/>
<circle cx="527.8" cy="307.4" r="4.2" fill="url(#hg)" stroke="#111" stroke-width="0.8"/>
<circle cx="534.3" cy="301.6" r="4.2" fill="url(#hg)" stroke="#111" stroke-width="0.8"/>
<circle cx="541.4" cy="296.6" r="4.2" fill="url(#hg)" stroke="#111" stroke-width="0.8"/>
<circle cx="549.0" cy="292.4" r="4.2" fill="url(#hg)" stroke="#111" stroke-width="0.8"/>
<circle cx="557.1" cy="289.3" r="4.2" fill="url(#hg)" stroke="#111" stroke-width="0.8"/>
<circle cx="565.5" cy="287.0" r="4.2" fill="url(#hg)" stroke="#111" stroke-width="0.8"/>
<circle cx="557.8" cy="258.8" r="4.2" fill="url(#hg)" stroke="#111" stroke-width="0.8"/>
<circle cx="566.6" cy="257.3" r="4.2" fill="url(#hg)" stroke="#111" stroke-width="0.8"/>
<circle cx="575.5" cy="256.5" r="4.2" fill="url(#hg)" stroke="#111" stroke-width="0.8"/>
<circle cx="584.5" cy="256.5" r="4.2" fill="url(#hg)" stroke="#111" stroke-width="0.8"/>
<circle cx="565.2" cy="287.1" r="4.2" fill="url(#hg)" stroke="#111" stroke-width="0.8"/>
<circle cx="573.8" cy="285.9" r="4.2" fill="url(#hg)" stroke="#111" stroke-width="0.8"/>
<circle cx="582.4" cy="285.6" r="4.2" fill="url(#hg)" stroke="#111" stroke-width="0.8"/>
<circle cx="591.0" cy="286.4" r="4.2" fill="url(#hg)" stroke="#111" stroke-width="0.8"/>
<circle cx="671.0" cy="311.6" r="4.2" fill="url(#hg)" stroke="#111" stroke-width="0.8"/>
<circle cx="677.9" cy="328.1" r="4.2" fill="url(#hg)" stroke="#111" stroke-width="0.8"/>
<circle cx="681.7" cy="345.6" r="4.2" fill="url(#hg)" stroke="#111" stroke-width="0.8"/>
<circle cx="682.5" cy="363.5" r="4.2" fill="url(#hg)" stroke="#111" stroke-width="0.8"/>
<circle cx="680.2" cy="381.2" r="4.2" fill="url(#hg)" stroke="#111" stroke-width="0.8"/>
<circle cx="677.9" cy="389.9" r="4.2" fill="url(#hg)" stroke="#111" stroke-width="0.8"/>
<circle cx="674.8" cy="398.3" r="4.2" fill="url(#hg)" stroke="#111" stroke-width="0.8"/>
<circle cx="671.0" cy="406.4" r="4.2" fill="url(#hg)" stroke="#111" stroke-width="0.8"/>
<circle cx="666.5" cy="414.1" r="4.2" fill="url(#hg)" stroke="#111" stroke-width="0.8"/>
<circle cx="638.9" cy="315.2" r="4.2" fill="url(#hg)" stroke="#111" stroke-width="0.8"/>
<circle cx="643.7" cy="322.6" r="4.2" fill="url(#hg)" stroke="#111" stroke-width="0.8"/>
<circle cx="650.5" cy="338.6" r="4.2" fill="url(#hg)" stroke="#111" stroke-width="0.8"/>
<circle cx="652.4" cy="347.1" r="4.2" fill="url(#hg)" stroke="#111" stroke-width="0.8"/>
<circle cx="653.2" cy="364.5" r="4.2" fill="url(#hg)" stroke="#111" stroke-width="0.8"/>
<circle cx="652.0" cy="373.2" r="4.2" fill="url(#hg)" stroke="#111" stroke-width="0.8"/>
<circle cx="646.6" cy="389.8" r="4.2" fill="url(#hg)" stroke="#111" stroke-width="0.8"/>
<circle cx="642.5" cy="397.5" r="4.2" fill="url(#hg)" stroke="#111" stroke-width="0.8"/>
<circle cx="636.2" cy="406.2" r="4.2" fill="url(#hg)" stroke="#111" stroke-width="0.8"/>
<circle cx="479.5" cy="331.6" r="4.2" fill="url(#rg)"/>
<circle cx="507.4" cy="383.2" r="4.2" fill="url(#rg)"/>
<circle cx="684.8" cy="375.7" r="4.2" fill="url(#rg)"/>
<circle cx="624.6" cy="424.1" r="4.2" fill="url(#rg)"/>
<circle cx="589.1" cy="463.9" r="4.2" fill="url(#rg)"/>
<g >
<polygon points="469.5,215.1 471.7,213.5 473.5,211.5 475,209.3 476.7,207.2 478.9,205.5 480.6,203.5 482.9,202 484.3,199.6 486.3,197.8 488.3,196 490.1,194 492.1,196.4 494.8,198 497.1,200 498.1,202.4 498.3,205.2 499.2,207.6 500.1,210.1 501.4,207.4 503.2,205.1 505.3,203.1 507.1,200.8 508.2,198 511,199.9 514.2,201 516.3,199 517.3,196.2 519.2,194 520.6,196.2 522.1,198.4 524.2,200 526.9,200.4 529.6,200.3 532.3,199.9 534.9,200.6 537.6,201 540.3,201 541,203.6 542.2,205.9 544.1,207.8 545.3,210.1 545.3,212.7 546.6,215 546.4,217.7 547.2,220.1 548.5,222.5 548.3,225.1 547.7,227.6 547.9,230.2 547.1,232.6 547.3,235.2 544.8,237 543.1,239.7 540.3,241.2 543.3,243.2 546.3,245.2 547.3,247.7 549.4,249.4 550.7,251.7 551.5,254.3 553.3,256.2 556.9,256.3 560.4,257.2 560.8,260 561.8,262.7 561.3,265.6 562.4,268.3 563.5,271 565.5,273.3 567.4,275.5 568.6,278.2 569.9,280.8 571.4,283.3 568.9,285.3 567.8,288.4 565.4,290.4 563.2,291.5 560.8,292.5 558.7,293.9 556.3,294.8 554.3,296.4 551.8,297 549.9,298.7 547.7,299.9 545.5,301.3 543.3,302.4 540.7,304.3 538.3,306.4 535.7,307.6 533,308.3 530.5,309.7 528,310.8 525.2,311.4 523.8,308.7 523.3,305.7 522.4,302.9 521.2,300.2 520.2,297.4 518.1,295.6 517.2,292.8 515.6,290.5 514,288.3 512.2,286.2 510.2,284.3 509.3,281.8 508,279.5 506.2,277.6 504.7,275.5 503.7,273 501.9,271.1 501.2,268.5 499.9,266.3 498.1,264.3 497.3,261.7 495.6,259.6 494.8,257.1 493.1,255 491.6,252.8 490.6,250.4 489.1,248.2 488.6,245.6 487.4,243.4 486.1,241.2 484.1,239.4 483.6,236.8 482.3,234.6 481.4,232.3 480.1,230.1 479,227.7 476.8,226 475.8,223.5 473.6,221.8 472.2,219.6 471.4,217" fill="#e8690f" stroke="#111" stroke-width="1.5" stroke-linejoin="round" />
<polygon points="484.1,213.1 486.5,214.1 489.1,214.1 492.2,213.2 495.1,211.6 495.2,214.4 495.4,217.3 495.1,220.1 493.4,222.8 491.9,225.5 490.1,228.1 487.9,225.3 485.1,223.1 484.6,220.6 484.6,218.1 484.5,215.6" fill="#fff" stroke="#111" stroke-width="1.2" stroke-linejoin="round" />
<polygon points="505.2,255.2 508,254.7 510.5,253.5 513,252.1 515.5,250.9 518.2,250.2 521.2,249.7 524.2,249.2 525,252.2 525.1,255.3 526.2,258.2 526.2,261.2 525.7,264.3 525.3,267.3 525.2,270.3 523.2,273 522.2,276.3 519.2,275.3 516.2,274.3 514.4,272 513.5,269.1 511.8,266.7 510.2,264.3 508.6,262.2 508.2,259.5 507,257.1" fill="#fff" stroke="#111" stroke-width="1.2" stroke-linejoin="round" />
<text transform="translate(529.5,302) rotate(-38)" font-size="28" font-weight="normal" fill="#1d1d1b" stroke="#1d1d1b" stroke-width="0.7" style="font-kerning:none">AS</text>
</g>
<polygon points="622.2,258.1 625.3,257.7 628.2,256.3 630.6,257.9 633.3,258.9 635.7,260.5 638.1,262.1 640.2,264.1 642.8,265.2 645.5,266.2 648,267.5 649.4,269.8 651.6,271.3 653.1,273.5 654.4,275.6 655.7,277.8 657.9,279.4 660,281.2 662.6,282.2 663.9,285.2 665.2,288.2 667.6,290.1 669.5,292.5 668.3,295.4 667.7,298.5 665.6,300.1 663.9,302.2 661.7,303.7 659.8,306 658.2,308.5 657.4,311.4 654.8,313.4 652.4,315.6 650.5,318.3 648.1,320.7 645.4,322.6 642.7,323.1 640.2,324.3 638.2,322.1 635.8,320.6 633.3,319.1 630.7,317.4 628.2,315.7 624.7,313.1 622.4,314.9 619.6,315.7 617.3,316.6 614.8,317.3 612.3,317.7 610.1,319.1 607.7,317.8 604.9,317.9 602.5,316.7 599.8,316.6 597.5,314.2 596.1,311.1 593.8,308.8 594.3,306.3 594.6,303.7 596.2,301.5 598.8,300.5 600.6,298.5 601.8,295.8 603.2,293.3 603.2,290.7 602.4,288.2 604.8,286.7 606.5,284.2 609.2,283 610.9,281 613.1,279.3 614.4,277 615.5,274 617,271.2 618.7,268.4 620,265.5 620.4,262.4" fill="#e8690f" stroke="#111" stroke-width="1.6" stroke-linejoin="round" />
<text transform="translate(613.5,285) rotate(47)" font-size="28" font-weight="bold" fill="#1d1d1b">bo<tspan font-size="16" font-weight="normal" dy="4">3</tspan></text>
<circle cx="605.8" cy="251.2" r="14.2" fill="#e8690f" stroke="#111" stroke-width="1.3"/>
<text x="605.80" y="257.40" font-size="16.5" font-weight="bold" text-anchor="middle" fill="#1d1d1b" >UQ</text>
<path d="M500.8 436.3L501.7 435.1L501.1 433.3L498.9 432.2L496.3 432.7L494.7 434.7L494.8 436.8L496.1 437.8L497.3 437.1L497.3 435.3L495.5 433.8L492.9 433.8L490.8 435.3L490.3 437.6L491.3 439.1L492.8 438.9L493.3 437.3L492.1 435.6L489.6 435L487.2 436.1L486.1 438.2L486.7 440.1L488.1 440.6L489.1 439.4L488.5 437.5L486.3 436.4L483.7 436.9L482.1 438.9L482.1 441L483.4 442L484.7 441.3L484.7 439.5L483.2 438.1L480.6 437.8L478.3 439.1L477.5 441.2L478.3 442.8L479.8 442.9L480.5 441.4L479.5 439.5L477.1 438.6L474.6 439.3L473.2 441.4L473.6 443.3L475 443.9L476.1 442.9L475.7 441L473.7 439.6L471 439.8L469.2 441.5L468.9 443.6L470.1 444.8L471.5 444.3L471.7 442.5L470.1 440.8L467.6 440.4L465.3 441.7L464.5 443.8L465.3 445.4L466.7 445.5L467.4 444L466.5 442.1L464.1 441.2L461.6 441.9L460.2 443.9L460.5 445.9L461.8 446.5L462.9 445.5L462.7 443.6L460.7 442.1L458.1 442.2L456.1 443.8L455.8 446L456.9 447.2L458.3 446.7L458.6 445L457.1 443.2L454.6 442.7L452.3 443.9L451.3 446L452.1 447.6L453.5 447.8L454.3 446.3L453.4 444.4L451.1 443.4L448.5 444L447.1 446L447.3 447.9L448.7 448.6L449.8 447.7L449.5 445.7L447.6 444.2L445 444.3L443 445.9L442.7 448.1L443.8 449.3L445.1 448.8L445.4 447.1L444 445.3L441.5 444.8L439.1 446L438.2 448.1L438.9 449.7L440.4 449.9L441.1 448.5L440.3 446.5L438 445.5L435.4 446.1" fill="none" stroke="#f6dd1c" stroke-width="7.333150477928648" stroke-linejoin="round" stroke-linecap="round" opacity="1"/>
<path d="M500.8 436.3L501.7 435.1L501.1 433.3L498.9 432.2L496.3 432.7L494.7 434.7L494.8 436.8L496.1 437.8L497.3 437.1L497.3 435.3L495.5 433.8L492.9 433.8L490.8 435.3L490.3 437.6L491.3 439.1L492.8 438.9L493.3 437.3L492.1 435.6L489.6 435L487.2 436.1L486.1 438.2L486.7 440.1L488.1 440.6L489.1 439.4L488.5 437.5L486.3 436.4L483.7 436.9L482.1 438.9L482.1 441L483.4 442L484.7 441.3L484.7 439.5L483.2 438.1L480.6 437.8L478.3 439.1L477.5 441.2L478.3 442.8L479.8 442.9L480.5 441.4L479.5 439.5L477.1 438.6L474.6 439.3L473.2 441.4L473.6 443.3L475 443.9L476.1 442.9L475.7 441L473.7 439.6L471 439.8L469.2 441.5L468.9 443.6L470.1 444.8L471.5 444.3L471.7 442.5L470.1 440.8L467.6 440.4L465.3 441.7L464.5 443.8L465.3 445.4L466.7 445.5L467.4 444L466.5 442.1L464.1 441.2L461.6 441.9L460.2 443.9L460.5 445.9L461.8 446.5L462.9 445.5L462.7 443.6L460.7 442.1L458.1 442.2L456.1 443.8L455.8 446L456.9 447.2L458.3 446.7L458.6 445L457.1 443.2L454.6 442.7L452.3 443.9L451.3 446L452.1 447.6L453.5 447.8L454.3 446.3L453.4 444.4L451.1 443.4L448.5 444L447.1 446L447.3 447.9L448.7 448.6L449.8 447.7L449.5 445.7L447.6 444.2L445 444.3L443 445.9L442.7 448.1L443.8 449.3L445.1 448.8L445.4 447.1L444 445.3L441.5 444.8L439.1 446L438.2 448.1L438.9 449.7L440.4 449.9L441.1 448.5L440.3 446.5L438 445.5L435.4 446.1" fill="none" stroke="#0a0a0a" stroke-width="2.1" stroke-linejoin="round" stroke-linecap="round"/>
<path d="M498.2 426.4L498.1 424.8L496.5 423.7L494 424.2L492.3 426.2L492.1 428.8L493.5 430.6L495.2 430.6L495.9 429.3L494.9 427.8L492.7 427.5L490.5 429L489.6 431.5L490.4 433.8L492.1 434.6L493.4 433.7L493.2 432.1L491.3 431.2L488.9 431.9L487.3 434.1L487.4 436.7L488.9 438.2L490.6 438L491.1 436.6L489.8 435.2L487.5 435.2L485.4 436.8L484.8 439.4L485.8 441.5L487.5 442.1L488.7 441.1L488.1 439.5L486.1 438.8L483.8 439.7L482.4 442L482.7 444.5L484.4 445.9L485.9 445.4L486.2 443.9L484.7 442.7L482.3 442.9L480.4 444.7L480 447.3L481.2 449.3L482.9 449.6L483.9 448.4L483.1 446.9L481 446.3L478.6 447.5L477.5 450L478 452.3L479.7 453.4L481.2 452.8L481.2 451.3L479.6 450.1L477.1 450.5L475.3 452.5L475.1 455.1L476.5 456.9L478.2 457L478.9 455.7L478 454.2L475.7 453.9L473.5 455.2L472.5 457.8L473.3 460L475 460.9L476.3 460.1L476.1 458.5L474.3 457.5L471.8 458.2L470.2 460.3L470.3 462.9L471.7 464.5L473.4 464.4L473.9 463L472.7 461.5L470.4 461.4L468.3 463L467.5 465.6L468.5 467.7L470.3 468.4L471.4 467.4L471 465.8L469 465L466.6 465.9L465.1 468.2L465.4 470.7L467 472L468.6 471.7L468.9 470.2L467.5 468.9L465.1 469L463.1 470.8L462.6 473.4L463.8 475.4L465.5 475.8L466.5 474.6" fill="none" stroke="#f6dd1c" stroke-width="7.517937233167311" stroke-linejoin="round" stroke-linecap="round" opacity="1"/>
<path d="M498.2 426.4L498.1 424.8L496.5 423.7L494 424.2L492.3 426.2L492.1 428.8L493.5 430.6L495.2 430.6L495.9 429.3L494.9 427.8L492.7 427.5L490.5 429L489.6 431.5L490.4 433.8L492.1 434.6L493.4 433.7L493.2 432.1L491.3 431.2L488.9 431.9L487.3 434.1L487.4 436.7L488.9 438.2L490.6 438L491.1 436.6L489.8 435.2L487.5 435.2L485.4 436.8L484.8 439.4L485.8 441.5L487.5 442.1L488.7 441.1L488.1 439.5L486.1 438.8L483.8 439.7L482.4 442L482.7 444.5L484.4 445.9L485.9 445.4L486.2 443.9L484.7 442.7L482.3 442.9L480.4 444.7L480 447.3L481.2 449.3L482.9 449.6L483.9 448.4L483.1 446.9L481 446.3L478.6 447.5L477.5 450L478 452.3L479.7 453.4L481.2 452.8L481.2 451.3L479.6 450.1L477.1 450.5L475.3 452.5L475.1 455.1L476.5 456.9L478.2 457L478.9 455.7L478 454.2L475.7 453.9L473.5 455.2L472.5 457.8L473.3 460L475 460.9L476.3 460.1L476.1 458.5L474.3 457.5L471.8 458.2L470.2 460.3L470.3 462.9L471.7 464.5L473.4 464.4L473.9 463L472.7 461.5L470.4 461.4L468.3 463L467.5 465.6L468.5 467.7L470.3 468.4L471.4 467.4L471 465.8L469 465L466.6 465.9L465.1 468.2L465.4 470.7L467 472L468.6 471.7L468.9 470.2L467.5 468.9L465.1 469L463.1 470.8L462.6 473.4L463.8 475.4L465.5 475.8L466.5 474.6" fill="none" stroke="#0a0a0a" stroke-width="2.1" stroke-linejoin="round" stroke-linecap="round"/>
<path d="M493.5 420.3L494.2 418.5L492.8 416.6L489.8 416.3L487.4 418.2L487.1 421L488.7 422.7L490.5 422.1L490.6 420.1L488.6 418.4L485.6 418.8L483.7 421.2L484 423.9L485.8 424.9L487.3 423.8L486.8 421.6L484.3 420.5L481.4 421.5L480.1 424.2L481 426.6L483 427L484 425.4L482.8 423.3L480 422.7L477.4 424.4L476.7 427.2L478.1 429.1L480 428.8L480.5 426.9L478.7 425.1L475.8 425.2L473.6 427.3L473.6 430.1L475.3 431.4L476.9 430.6L476.8 428.5L474.5 427.1L471.5 427.8L469.9 430.3L470.5 432.8L472.4 433.6L473.7 432.2L472.9 430.1L470.2 429.2L467.8 430L466.2 432.5L466.9 434.8L468.8 435.4L469.9 433.8L468.9 431.5L466.1 430.7L463.4 432L462.4 434.6L463.6 436.6L465.5 436.5L466.1 434.5L464.4 432.5L461.4 432.2L459 434.1L458.7 436.8L460.3 438.2L462 437.4L462 435.2L459.8 433.6L456.8 433.9L454.9 436.2L455.3 438.7L457.1 439.6L458.4 438.2L457.8 436L455.1 434.8L452.3 435.8L451 438.4L451.9 440.6L453.8 440.8L454.7 439L453.4 436.8L450.5 436.3L447.9 437.9L447.2 440.6L448.6 442.3L450.4 441.8L450.7 439.7" fill="none" stroke="#f6dd1c" stroke-width="7.876008425751275" stroke-linejoin="round" stroke-linecap="round" opacity="1"/>
<path d="M493.5 420.3L494.2 418.5L492.8 416.6L489.8 416.3L487.4 418.2L487.1 421L488.7 422.7L490.5 422.1L490.6 420.1L488.6 418.4L485.6 418.8L483.7 421.2L484 423.9L485.8 424.9L487.3 423.8L486.8 421.6L484.3 420.5L481.4 421.5L480.1 424.2L481 426.6L483 427L484 425.4L482.8 423.3L480 422.7L477.4 424.4L476.7 427.2L478.1 429.1L480 428.8L480.5 426.9L478.7 425.1L475.8 425.2L473.6 427.3L473.6 430.1L475.3 431.4L476.9 430.6L476.8 428.5L474.5 427.1L471.5 427.8L469.9 430.3L470.5 432.8L472.4 433.6L473.7 432.2L472.9 430.1L470.2 429.2L467.8 430L466.2 432.5L466.9 434.8L468.8 435.4L469.9 433.8L468.9 431.5L466.1 430.7L463.4 432L462.4 434.6L463.6 436.6L465.5 436.5L466.1 434.5L464.4 432.5L461.4 432.2L459 434.1L458.7 436.8L460.3 438.2L462 437.4L462 435.2L459.8 433.6L456.8 433.9L454.9 436.2L455.3 438.7L457.1 439.6L458.4 438.2L457.8 436L455.1 434.8L452.3 435.8L451 438.4L451.9 440.6L453.8 440.8L454.7 439L453.4 436.8L450.5 436.3L447.9 437.9L447.2 440.6L448.6 442.3L450.4 441.8L450.7 439.7" fill="none" stroke="#0a0a0a" stroke-width="2.1" stroke-linejoin="round" stroke-linecap="round"/>
<path d="M495.3 397.8L494.5 396.8L492.8 396.9L491.3 398.4L490.9 400.8L491.9 402.9L493.7 403.9L495.3 403.4L495.6 402.2L494.5 401.4L492.7 401.8L491.4 403.6L491.3 406L492.6 407.9L494.5 408.5L495.8 407.8L495.8 406.6L494.5 406L492.7 406.7L491.6 408.8L491.9 411.2L493.4 412.8L495.2 413.1L496.3 412.2L496.1 411.8L494.8 410.9L492.9 411.3L491.3 413.1L491 415.4L492.1 417.3L493.7 417.9L494.8 417.2L494.6 416L493 415.3L491 416.1L489.7 418L489.8 420.4L491.1 422.1L492.7 422.3L493.5 421.4L492.9 420.2L491.2 419.8L489.3 420.9L488.2 423.1L488.6 425.4L490.1 426.7L491.6 426.7" fill="none" stroke="#f6dd1c" stroke-width="7.018435188176824" stroke-linejoin="round" stroke-linecap="round" opacity="1"/>
<path d="M495.3 397.8L494.5 396.8L492.8 396.9L491.3 398.4L490.9 400.8L491.9 402.9L493.7 403.9L495.3 403.4L495.6 402.2L494.5 401.4L492.7 401.8L491.4 403.6L491.3 406L492.6 407.9L494.5 408.5L495.8 407.8L495.8 406.6L494.5 406L492.7 406.7L491.6 408.8L491.9 411.2L493.4 412.8L495.2 413.1L496.3 412.2L496.1 411.8L494.8 410.9L492.9 411.3L491.3 413.1L491 415.4L492.1 417.3L493.7 417.9L494.8 417.2L494.6 416L493 415.3L491 416.1L489.7 418L489.8 420.4L491.1 422.1L492.7 422.3L493.5 421.4L492.9 420.2L491.2 419.8L489.3 420.9L488.2 423.1L488.6 425.4L490.1 426.7L491.6 426.7" fill="none" stroke="#0a0a0a" stroke-width="2.1" stroke-linejoin="round" stroke-linecap="round"/>
<path d="M520.3 415.4L521.5 415.1L522.2 413.5L521.6 411.5L519.7 410L517.3 409.7L515.3 410.8L514.6 412.5L515.1 413.7L516.4 413.8L517.3 412.6L517.1 410.6L515.6 408.8L513.2 408.2L511 408.9L509.9 410.5L510.1 412L511.3 412.4L512.4 411.6L512.6 409.7L511.4 407.8L509.2 406.7L506.8 407.1L505.3 408.5L505.1 410.1L506.1 411L507.3 410.5L507.9 408.8L506.4 406L504 405.6L501.8 406.6L500.6 408.4L500.8 410.2L501.9 410.9L503 410.3L503.2 408.7L502 407L499.7 406.2L497.4 406.8L495.8 408.5L495.6 410.4L496.6 411.5L497.8 411.3L498.3 409.9L497.5 408.1L495.5 407L493.1 407.2L491.2 408.6L490.6 410.5L491.3 412L492.5 412.1L493.3 411L492.9 409.3L490 407.5L487.8 408.5L486.5 410.5L486.5 412.7L487.7 414L489 413.9L489.5 412.7L488.7 411.2L486.7 410.5L484.4 411.1L482.7 412.9L482.4 415.1L483.3 416.7L484.6 417.1L485.5 416.1L485.1 414.6L483.4 413.6L480.2 414.4L479.1 416.6L479.3 418.9L480.7 420.4L482.2 420.5L482.9 419.4L482.3 418.1L480.5 417.6L478.4 418.4L476.9 420.3L476.8 422.7L477.9 424.5L479.5 425L480.5 424.2L480.3 422.9L478.8 422.1L476.6 422.4L474.9 424.1L474.4 426.5L475.1 428.5L476.7 429.4L478 429L478.2 427.7L477 426.6L474.9 426.6L473 427.9L472 430.2L472.5 432.4L473.9 433.7L475.3 433.6L475.9 432.5L475.1 431.3L473.2 430.9L471.2 431.8L469.9 433.9L469.9 436.3L470.9 437.8L472.4 438.3L473.4 437.5L473.1 436.1L471.5 435.3L469.3 435.7L467.6 437.3L467 439.7L467.8 441.7L469.3 442.5L470.6 442L470.7 440.7L469.4 439.6L467.3 439.6L465.4 441L464.4 443.2L464.8 445.4L466.2 446.7L467.6 446.5L468.1 445.4L467.2 444.1L465.3 443.7L463.2 444.7L461.9 446.8L461.9 449.1L463.1 450.7L464.6 450.9L465.5 450L465 448.7L463.3 448L461.1 448.5L459.5 450.3L459.1 452.7L460 454.6L461.6 455.3L462.7 454.6L462.6 453.3L461.2 452.3L459.1 452.5L457.2 454L456.4 456.3L457 458.4L458.5 459.4L459.8 459.1L460.1 457.9L459.1 456.7L457.1 456.5" fill="none" stroke="#62cc3c" stroke-width="7.4" stroke-linejoin="round" stroke-linecap="round" opacity="1"/>
<path d="M520.3 415.4L521.5 415.1L522.2 413.5L521.6 411.5L519.7 410L517.3 409.7L515.3 410.8L514.6 412.5L515.1 413.7L516.4 413.8L517.3 412.6L517.1 410.6L515.6 408.8L513.2 408.2L511 408.9L509.9 410.5L510.1 412L511.3 412.4L512.4 411.6L512.6 409.7L511.4 407.8L509.2 406.7L506.8 407.1L505.3 408.5L505.1 410.1L506.1 411L507.3 410.5L507.9 408.8L506.4 406L504 405.6L501.8 406.6L500.6 408.4L500.8 410.2L501.9 410.9L503 410.3L503.2 408.7L502 407L499.7 406.2L497.4 406.8L495.8 408.5L495.6 410.4L496.6 411.5L497.8 411.3L498.3 409.9L497.5 408.1L495.5 407L493.1 407.2L491.2 408.6L490.6 410.5L491.3 412L492.5 412.1L493.3 411L492.9 409.3L490 407.5L487.8 408.5L486.5 410.5L486.5 412.7L487.7 414L489 413.9L489.5 412.7L488.7 411.2L486.7 410.5L484.4 411.1L482.7 412.9L482.4 415.1L483.3 416.7L484.6 417.1L485.5 416.1L485.1 414.6L483.4 413.6L480.2 414.4L479.1 416.6L479.3 418.9L480.7 420.4L482.2 420.5L482.9 419.4L482.3 418.1L480.5 417.6L478.4 418.4L476.9 420.3L476.8 422.7L477.9 424.5L479.5 425L480.5 424.2L480.3 422.9L478.8 422.1L476.6 422.4L474.9 424.1L474.4 426.5L475.1 428.5L476.7 429.4L478 429L478.2 427.7L477 426.6L474.9 426.6L473 427.9L472 430.2L472.5 432.4L473.9 433.7L475.3 433.6L475.9 432.5L475.1 431.3L473.2 430.9L471.2 431.8L469.9 433.9L469.9 436.3L470.9 437.8L472.4 438.3L473.4 437.5L473.1 436.1L471.5 435.3L469.3 435.7L467.6 437.3L467 439.7L467.8 441.7L469.3 442.5L470.6 442L470.7 440.7L469.4 439.6L467.3 439.6L465.4 441L464.4 443.2L464.8 445.4L466.2 446.7L467.6 446.5L468.1 445.4L467.2 444.1L465.3 443.7L463.2 444.7L461.9 446.8L461.9 449.1L463.1 450.7L464.6 450.9L465.5 450L465 448.7L463.3 448L461.1 448.5L459.5 450.3L459.1 452.7L460 454.6L461.6 455.3L462.7 454.6L462.6 453.3L461.2 452.3L459.1 452.5L457.2 454L456.4 456.3L457 458.4L458.5 459.4L459.8 459.1L460.1 457.9L459.1 456.7L457.1 456.5" fill="none" stroke="#0a0a0a" stroke-width="2.0" stroke-linejoin="round" stroke-linecap="round"/>
<path d="M639.2 423.7L638.2 425L639.1 427L641.6 427.9L644.2 426.8L645.3 424.5L644.4 422.6L642.8 422.6L642.1 424.2L643.4 426.1L646.1 426.6L648.5 425.1L649.1 422.8L648 421.2L646.4 421.6L646.1 423.4L647.9 425.1L650.6 425.2L652.7 423.4L652.9 421L651.5 419.9L650.1 420.7L650.3 422.6L652.3 424.1L655.1 423.7L656.8 421.6L656.5 419.4L655 418.6L653.8 419.8L654.5 421.8L656.8 422.9L659.5 422.1L660.8 419.8L660.1 417.8L658.5 417.5L657.7 419L658.8 421L661.3 421.7L663.8 420.4L664.7 418L663.7 416.3L662.1 416.5L661.6 418.2L663.1 420L665.3 420.4L667.9 419.4L668.8 417.1L667.9 415.5L666.3 415.7L665.8 417.6L667.3 419.6L670 420L672.3 418.6L672.8 416.3L671.6 415.1L670.1 415.7L670 417.8L671.9 419.5L674.7 419.5L676.7 417.8L676.7 415.6L675.3 414.7L674 415.8L674.3 417.9L676.6 419.4L679.3 418.9L680.9 416.9L680.5 414.9L679 414.5L678 415.9L678.8 418L681.3 419.1L683.9 418.3L685.1 416.1L684.3 414.3L682.7 414.3L682 416.1L683.3 418.1L686 418.8L688.4 417.5L689.1 415.3L688 413.8L686.5 414.3L686.2 416.2L687.9 418.1L690.7 418.3L692.8 416.9L693.2 414.7L691.9 413.5L690.4 414.3L690.5 416.4L692.4 418.1L695.2 418.1L697.1 416.3L697.1 414.2L695.6 413.4L694.4 414.6L694.8 416.8L697.1 418.2L699.9 417.7L701.4 415.7L700.9 413.7L699.3 413.4L698.4 415L699.3 417.1L701.8 418.2L704.4 417.2L705.5 415.1L704.7 413.4L703.1 413.5L702.5 415.3L703.8 417.4L706.5 418L708.9 416.7L709.5 414.5L708.4 413.1L706.9 413.7L706.7 415.7L708.4 417.6L711.2 417.8L713.3 416.1L713.5 413.9L712.1 413L710.8 414L711 416.1L713.1 417.7L715.9 417.4L717.6 415.5L717.4 413.5L715.8 412.9L714.7 414.3L715.4 416.5L717.8 417.7L720.5 417L721.8 414.9L721.2 413.1L719.6 413L718.8 414.7L719.9 416.8L722.5 417.6L725 416.5L725.9 414.3L724.9 412.8L723.3 413.1L722.9 415.1L724.5 417L727.2 417.4L729.5 415.9L729.9 413.7L728.6 412.6L727.2 413.3" fill="none" stroke="#f6dd1c" stroke-width="7.330467325632409" stroke-linejoin="round" stroke-linecap="round" opacity="1"/>
<path d="M639.2 423.7L638.2 425L639.1 427L641.6 427.9L644.2 426.8L645.3 424.5L644.4 422.6L642.8 422.6L642.1 424.2L643.4 426.1L646.1 426.6L648.5 425.1L649.1 422.8L648 421.2L646.4 421.6L646.1 423.4L647.9 425.1L650.6 425.2L652.7 423.4L652.9 421L651.5 419.9L650.1 420.7L650.3 422.6L652.3 424.1L655.1 423.7L656.8 421.6L656.5 419.4L655 418.6L653.8 419.8L654.5 421.8L656.8 422.9L659.5 422.1L660.8 419.8L660.1 417.8L658.5 417.5L657.7 419L658.8 421L661.3 421.7L663.8 420.4L664.7 418L663.7 416.3L662.1 416.5L661.6 418.2L663.1 420L665.3 420.4L667.9 419.4L668.8 417.1L667.9 415.5L666.3 415.7L665.8 417.6L667.3 419.6L670 420L672.3 418.6L672.8 416.3L671.6 415.1L670.1 415.7L670 417.8L671.9 419.5L674.7 419.5L676.7 417.8L676.7 415.6L675.3 414.7L674 415.8L674.3 417.9L676.6 419.4L679.3 418.9L680.9 416.9L680.5 414.9L679 414.5L678 415.9L678.8 418L681.3 419.1L683.9 418.3L685.1 416.1L684.3 414.3L682.7 414.3L682 416.1L683.3 418.1L686 418.8L688.4 417.5L689.1 415.3L688 413.8L686.5 414.3L686.2 416.2L687.9 418.1L690.7 418.3L692.8 416.9L693.2 414.7L691.9 413.5L690.4 414.3L690.5 416.4L692.4 418.1L695.2 418.1L697.1 416.3L697.1 414.2L695.6 413.4L694.4 414.6L694.8 416.8L697.1 418.2L699.9 417.7L701.4 415.7L700.9 413.7L699.3 413.4L698.4 415L699.3 417.1L701.8 418.2L704.4 417.2L705.5 415.1L704.7 413.4L703.1 413.5L702.5 415.3L703.8 417.4L706.5 418L708.9 416.7L709.5 414.5L708.4 413.1L706.9 413.7L706.7 415.7L708.4 417.6L711.2 417.8L713.3 416.1L713.5 413.9L712.1 413L710.8 414L711 416.1L713.1 417.7L715.9 417.4L717.6 415.5L717.4 413.5L715.8 412.9L714.7 414.3L715.4 416.5L717.8 417.7L720.5 417L721.8 414.9L721.2 413.1L719.6 413L718.8 414.7L719.9 416.8L722.5 417.6L725 416.5L725.9 414.3L724.9 412.8L723.3 413.1L722.9 415.1L724.5 417L727.2 417.4L729.5 415.9L729.9 413.7L728.6 412.6L727.2 413.3" fill="none" stroke="#0a0a0a" stroke-width="2.1" stroke-linejoin="round" stroke-linecap="round"/>
<path d="M655.6 423.5L654 424.1L653.6 426.3L655.2 428.5L658 429.1L660.3 427.7L660.7 425.6L659.4 424.5L657.8 425.4L657.7 427.7L659.5 429.7L662.4 430L664.5 428.5L664.6 426.4L663.1 425.5L661.7 426.7L661.8 429.1L663.9 430.9L666.8 430.9L668.6 429.2L668.5 427.2L666.9 426.6L665.6 428L666 430.4L668.3 432.1L671.1 431.8L672.7 429.9L672.3 428L670.6 427.7L669.5 429.3L670.2 431.8L672.7 433.2L675.4 432.6L676.8 430.6L676.1 428.9L674.4 428.8L673.5 430.7L674.5 433.1L677.1 434.3L679.7 433.4L680.8 431.3L679.9 429.8L678.2 430L677.5 432.1L678.8 434.4L681.5 435.3L684 434.2L684.8 432.1L683.6 430.7L682 431.3L681.5 433.4L683.1 435.7L685.9 436.3L688.2 435L688.7 432.8L687.4 431.7L685.8 432.5L685.6 434.8L687.4 436.9L690.3 437.2L692.4 435.7L692.8 434.1L691.5 432.9L689.9 433.8L689.6 436.1L691.2 438.3L694.1 438.9L696.2 437.5L696.5 435.5L695 434.6L693.5 435.7L693.4 438.2L695.4 440.2L698.2 440.5L700.1 438.9L700.1 437L698.6 436.3L697.1 437.7L697.4 440.2L699.5 442.1L702.3 442L704 440.3L703.7 438.5L702.1 438.1L700.8 439.7L701.3 442.2L703.7 443.9L706.4 443.6L707.9 441.7L707.3 440L705.6 439.9L704.5 441.7L705.3 444.2L707.8 445.7L710.5 445.1L711.7 443.1L710.9 441.5L709.1 441.7L708.3 443.8L709.4 446.2L712 447.4L714.5 446.5L715.4 444.5L714.4 443.1L712.7 443.6L712 445.8L713.4 448.2L716.2 449.1L718.5 448L719.1 445.9L717.9 444.7L716.3 445.5L715.9 447.9L717.5 450.1" fill="none" stroke="#f6dd1c" stroke-width="7.554481539654953" stroke-linejoin="round" stroke-linecap="round" opacity="1"/>
<path d="M655.6 423.5L654 424.1L653.6 426.3L655.2 428.5L658 429.1L660.3 427.7L660.7 425.6L659.4 424.5L657.8 425.4L657.7 427.7L659.5 429.7L662.4 430L664.5 428.5L664.6 426.4L663.1 425.5L661.7 426.7L661.8 429.1L663.9 430.9L666.8 430.9L668.6 429.2L668.5 427.2L666.9 426.6L665.6 428L666 430.4L668.3 432.1L671.1 431.8L672.7 429.9L672.3 428L670.6 427.7L669.5 429.3L670.2 431.8L672.7 433.2L675.4 432.6L676.8 430.6L676.1 428.9L674.4 428.8L673.5 430.7L674.5 433.1L677.1 434.3L679.7 433.4L680.8 431.3L679.9 429.8L678.2 430L677.5 432.1L678.8 434.4L681.5 435.3L684 434.2L684.8 432.1L683.6 430.7L682 431.3L681.5 433.4L683.1 435.7L685.9 436.3L688.2 435L688.7 432.8L687.4 431.7L685.8 432.5L685.6 434.8L687.4 436.9L690.3 437.2L692.4 435.7L692.8 434.1L691.5 432.9L689.9 433.8L689.6 436.1L691.2 438.3L694.1 438.9L696.2 437.5L696.5 435.5L695 434.6L693.5 435.7L693.4 438.2L695.4 440.2L698.2 440.5L700.1 438.9L700.1 437L698.6 436.3L697.1 437.7L697.4 440.2L699.5 442.1L702.3 442L704 440.3L703.7 438.5L702.1 438.1L700.8 439.7L701.3 442.2L703.7 443.9L706.4 443.6L707.9 441.7L707.3 440L705.6 439.9L704.5 441.7L705.3 444.2L707.8 445.7L710.5 445.1L711.7 443.1L710.9 441.5L709.1 441.7L708.3 443.8L709.4 446.2L712 447.4L714.5 446.5L715.4 444.5L714.4 443.1L712.7 443.6L712 445.8L713.4 448.2L716.2 449.1L718.5 448L719.1 445.9L717.9 444.7L716.3 445.5L715.9 447.9L717.5 450.1" fill="none" stroke="#0a0a0a" stroke-width="2.1" stroke-linejoin="round" stroke-linecap="round"/>
<path d="M669.5 398.2L668 398.1L666.9 399.6L667.2 402L669.1 403.8L671.5 403.9L673.1 402.7L673 401.1L671.6 400.7L670.3 402L670.3 404.4L672 406.3L674.5 406.8L676.3 405.7L676.4 404.1L675.2 403.5L673.8 404.5L673.5 406.7L675 408.9L677.4 409.6L679.4 408.7L679.9 407.1L678.8 406.2L677.3 407L676.8 409.1L677.9 411.3L680.8 412.2L682.8 411.1L683.2 409.4L682.1 408.5L680.7 409.3L680.4 411.4L681.8 413.5L684.3 414.2L686.4 413.3L687.1 411.6L686.2 410.5L684.7 411L684.2 412.9L685.3 415.1L687.7 416.1L690 415.5L691 413.8L690.3 412.5L688.8 412.7L688 414.5L688.9 416.7L691.1 418L693.5 417.6L694.8 416L694.3 414.6L692.9 414.5L691.9 416L692.5 418.3L694.6 419.8L697.1 419.7L698.6 418.3L698.4 416.7L697 416.3L695.9 417.6L696.1 419.9L698 421.6L700.5 421.8L702.3 420.5" fill="none" stroke="#f6dd1c" stroke-width="7.093121133951426" stroke-linejoin="round" stroke-linecap="round" opacity="1"/>
<path d="M669.5 398.2L668 398.1L666.9 399.6L667.2 402L669.1 403.8L671.5 403.9L673.1 402.7L673 401.1L671.6 400.7L670.3 402L670.3 404.4L672 406.3L674.5 406.8L676.3 405.7L676.4 404.1L675.2 403.5L673.8 404.5L673.5 406.7L675 408.9L677.4 409.6L679.4 408.7L679.9 407.1L678.8 406.2L677.3 407L676.8 409.1L677.9 411.3L680.8 412.2L682.8 411.1L683.2 409.4L682.1 408.5L680.7 409.3L680.4 411.4L681.8 413.5L684.3 414.2L686.4 413.3L687.1 411.6L686.2 410.5L684.7 411L684.2 412.9L685.3 415.1L687.7 416.1L690 415.5L691 413.8L690.3 412.5L688.8 412.7L688 414.5L688.9 416.7L691.1 418L693.5 417.6L694.8 416L694.3 414.6L692.9 414.5L691.9 416L692.5 418.3L694.6 419.8L697.1 419.7L698.6 418.3L698.4 416.7L697 416.3L695.9 417.6L696.1 419.9L698 421.6L700.5 421.8L702.3 420.5" fill="none" stroke="#0a0a0a" stroke-width="2.1" stroke-linejoin="round" stroke-linecap="round"/>
<path d="M648.2 415.7L647.5 417.4L648.8 419.3L651.5 419.8L654.1 418.4L655.3 415.8L654.6 413.4L652.8 412.4L651.3 413.4L651.4 415.3L653.4 416.8L656.2 416.6L658.4 414.6L658.9 411.9L657.6 409.9L655.7 409.7L654.8 411.2L655.6 413.1L658.1 414L660.8 413.1L662.5 410.6L662.2 408" fill="none" stroke="#f6dd1c" stroke-width="8.285137060322807" stroke-linejoin="round" stroke-linecap="round" opacity="1"/>
<path d="M648.2 415.7L647.5 417.4L648.8 419.3L651.5 419.8L654.1 418.4L655.3 415.8L654.6 413.4L652.8 412.4L651.3 413.4L651.4 415.3L653.4 416.8L656.2 416.6L658.4 414.6L658.9 411.9L657.6 409.9L655.7 409.7L654.8 411.2L655.6 413.1L658.1 414L660.8 413.1L662.5 410.6L662.2 408" fill="none" stroke="#0a0a0a" stroke-width="2.1" stroke-linejoin="round" stroke-linecap="round"/>
<path d="M647.3 391.1L646.3 390.3L644.7 390.7L643.5 392.5L643.4 394.9L644.7 396.9L646.8 397.8L648.5 397.4L649.2 396.2L648.6 395.1L647 395.1L645.6 396.4L645.1 398.7L646 401L647.9 402.3L649.9 402.3L651 401.3L650.7 400L649.4 399.6L647.8 400.5L646.9 402.6L647.4 405L649 406.7L651.1 407.1L652.6 406.3L652.8 405L651.7 404.3L650.1 404.7L648.9 406.5L648.9 408.9L650.2 410.9L652.3 411.8L654 411.3L654.5 409.2L653.5 408.4L652.1 409L651.2 410.8L651.6 413.1L653.3 414.9L655.6 415.4L657.4 414.7L658 413.3L657.3 412.2L655.9 412.4L654.7 413.8L654.7 416.1L656 418.1L658.2 419.1L660.3 418.7L661.3 417.4L661 416.2L659.7 415.9L658.4 416.9L657.9 419L658.8 421.2L660.8 422.6L663 422.7L664.3 419.9L663.5 418.7L662.3 418.9L661.5 420.3L662.1 422.2L663.9 423.7L666.3 423.9L668.4 422.9L669.2 421.1L668.8 419.7L667.6 419.4L666.6 420.4L666.7 422.3L668.1 424L670.5 424.7L672.7 424L674.1 422.4L674 420.8L673 420L671.8 420.7L671.5 422.3L672.5 424.2L674.6 425.3L677 425.1L678.7 423.7L679.1 422L678.3 420.9L677.1 421L676.4 422.4L677 424.3L678.8 425.8L681.2 426L683.2 425L684.1 423.2L683.6 421.8L682.4 421.5L681.5 422.6L681.6 424.4L683 426.1L685.4 426.8L687.6 426.1L688.9 424.5L688.9 422.9L687.8 422.2L686.6 422.8L686.3 424.5L687.4 426.4L689.5 427.5L692.1 427L693.7 425.4L693.9 423.6L692.9 422.6L691.7 423L691.2 424.5L692 426.3L694 427.5L696.4 427.5L698.3 426.2L698.9 424.4L698.3 423L697.1 422.9L696.2 424.1L696.6 425.9L698.2 427.4L700.6 427.8L702.8 426.9L703.9 425.1L703.6 423.5L702.5 423L701.4 423.8L701.3 425.5L702.6 427.2L704.8 428L707.2 427.5L708.7 425.9L708.8 424.2L707.9 423.2L706.7 423.5L706.2 425.1L707 426.9L709 428.1L711.5 428L713.3 426.7L713.9 424.9L713.3 423.6L712 423.5L711.2 424.7L711.6 426.5L713.3 428L715.7 428.4L717.8 427.4L718.9 425.7L718.6 424.1" fill="none" stroke="#62cc3c" stroke-width="7.4" stroke-linejoin="round" stroke-linecap="round" opacity="1"/>
<path d="M647.3 391.1L646.3 390.3L644.7 390.7L643.5 392.5L643.4 394.9L644.7 396.9L646.8 397.8L648.5 397.4L649.2 396.2L648.6 395.1L647 395.1L645.6 396.4L645.1 398.7L646 401L647.9 402.3L649.9 402.3L651 401.3L650.7 400L649.4 399.6L647.8 400.5L646.9 402.6L647.4 405L649 406.7L651.1 407.1L652.6 406.3L652.8 405L651.7 404.3L650.1 404.7L648.9 406.5L648.9 408.9L650.2 410.9L652.3 411.8L654 411.3L654.5 409.2L653.5 408.4L652.1 409L651.2 410.8L651.6 413.1L653.3 414.9L655.6 415.4L657.4 414.7L658 413.3L657.3 412.2L655.9 412.4L654.7 413.8L654.7 416.1L656 418.1L658.2 419.1L660.3 418.7L661.3 417.4L661 416.2L659.7 415.9L658.4 416.9L657.9 419L658.8 421.2L660.8 422.6L663 422.7L664.3 419.9L663.5 418.7L662.3 418.9L661.5 420.3L662.1 422.2L663.9 423.7L666.3 423.9L668.4 422.9L669.2 421.1L668.8 419.7L667.6 419.4L666.6 420.4L666.7 422.3L668.1 424L670.5 424.7L672.7 424L674.1 422.4L674 420.8L673 420L671.8 420.7L671.5 422.3L672.5 424.2L674.6 425.3L677 425.1L678.7 423.7L679.1 422L678.3 420.9L677.1 421L676.4 422.4L677 424.3L678.8 425.8L681.2 426L683.2 425L684.1 423.2L683.6 421.8L682.4 421.5L681.5 422.6L681.6 424.4L683 426.1L685.4 426.8L687.6 426.1L688.9 424.5L688.9 422.9L687.8 422.2L686.6 422.8L686.3 424.5L687.4 426.4L689.5 427.5L692.1 427L693.7 425.4L693.9 423.6L692.9 422.6L691.7 423L691.2 424.5L692 426.3L694 427.5L696.4 427.5L698.3 426.2L698.9 424.4L698.3 423L697.1 422.9L696.2 424.1L696.6 425.9L698.2 427.4L700.6 427.8L702.8 426.9L703.9 425.1L703.6 423.5L702.5 423L701.4 423.8L701.3 425.5L702.6 427.2L704.8 428L707.2 427.5L708.7 425.9L708.8 424.2L707.9 423.2L706.7 423.5L706.2 425.1L707 426.9L709 428.1L711.5 428L713.3 426.7L713.9 424.9L713.3 423.6L712 423.5L711.2 424.7L711.6 426.5L713.3 428L715.7 428.4L717.8 427.4L718.9 425.7L718.6 424.1" fill="none" stroke="#0a0a0a" stroke-width="2.0" stroke-linejoin="round" stroke-linecap="round"/>
<text transform="translate(391,206) rotate(-21)" font-size="23" font-weight="bold" fill="#1d1d1b">ADP + P<tspan font-size="13" dy="6" font-weight="normal">i</tspan></text>
<text transform="translate(495,155) rotate(-15)" font-size="23" font-weight="bold" fill="#1d1d1b">ATP</text>
<text x="554.00" y="132.00" font-size="16" font-weight="bold" text-anchor="start" fill="#1d1d1b" >CLSII</text>
<line x1="542.3" y1="136.7" x2="608" y2="136.7" stroke="#1d1d1b" stroke-width="1.1"/>
<polygon points="612,136.7 604,133.4 606,136.7 604,140" fill="#1d1d1b"/>
<rect x="618.6" y="121.5" width="66.6" height="28.1" fill="none" stroke="#d9262b" stroke-width="2.6"/>
<text x="651.50" y="142.00" font-size="22.5" font-weight="bold" text-anchor="middle" fill="#1d1d1b" >Light</text>
<text x="590.30" y="203.50" font-size="22" font-weight="bold" text-anchor="start" fill="#1d1d1b" >DTT</text>
<text x="615" y="233.8" font-size="15" font-weight="bold" fill="#1d1d1b">e<tspan font-size="10" dy="-6">–</tspan></text>
<text x="573" y="368" font-size="22" font-weight="bold" fill="#1d1d1b">H<tspan font-size="13" dy="-8">+</tspan></text>
<path d="M449.4,185.4 Q455,200 476,206.7" fill="none" stroke="#1d1d1b" stroke-width="1.1"/>
<path d="M522,194 Q525,172 519.5,160" fill="none" stroke="#1d1d1b" stroke-width="1.1"/>
<polygon points="518.8,155.5 515,164 519.4,161.5 523.5,163" fill="#1d1d1b"/>
<path d="M495,263 Q478,254 466,256" fill="none" stroke="#1d1d1b" stroke-width="1.1"/>
<polygon points="460,257 468.5,252.5 466,256.2 469,261" fill="#1d1d1b"/>
<path d="M542,303 Q566,318 570,341" fill="none" stroke="#1d1d1b" stroke-width="1.1"/>
<path d="M605.8,319.1 L597,340" fill="none" stroke="#1d1d1b" stroke-width="1.1"/>
<polygon points="595.5,344 594.5,334.5 597.3,338.5 602,336.5" fill="#1d1d1b"/>
<path d="M650.5,271.8 Q668,257 687.1,246" fill="none" stroke="#1d1d1b" stroke-width="1.1"/>
<path d="M609.5,208 Q605,228 616,243 Q626,252 634,256" fill="none" stroke="#1d1d1b" stroke-width="1.1" stroke-dasharray="3.5,2.5"/>
<polygon points="636.5,261.5 631.5,252.5 635,255 639.5,252.8" fill="#1d1d1b"/>
</svg></body></html>
